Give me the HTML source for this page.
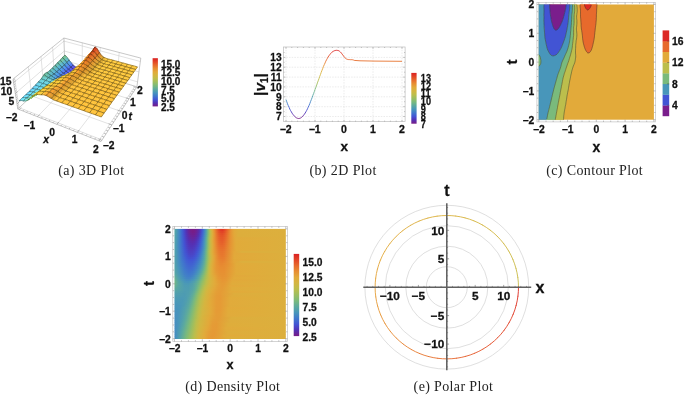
<!DOCTYPE html><html><head><meta charset="utf-8"><title>Plots</title><style>html,body{margin:0;padding:0;background:#fff;overflow:hidden}svg{display:block}text{font-family:"Liberation Sans",Arial,sans-serif;font-weight:bold;stroke:#111;stroke-width:0.28px}path.m{fill:none;stroke:#1a1408;stroke-opacity:.85;stroke-width:.45px}text.cap{font-family:"Liberation Serif","Times New Roman",serif;font-weight:normal;stroke:none}</style></head><body><svg width="685" height="395" viewBox="0 0 685 395"><defs><linearGradient id="rb" x1="0" y1="0" x2="0" y2="1"><stop offset="0.000" stop-color="#db2122"/><stop offset="0.071" stop-color="#e24426"/><stop offset="0.143" stop-color="#e76a2c"/><stop offset="0.214" stop-color="#e78e32"/><stop offset="0.286" stop-color="#e2aa3a"/><stop offset="0.357" stop-color="#d4b640"/><stop offset="0.429" stop-color="#bcbe4c"/><stop offset="0.500" stop-color="#9cbe60"/><stop offset="0.571" stop-color="#7aba7c"/><stop offset="0.643" stop-color="#5caa9e"/><stop offset="0.714" stop-color="#4896ba"/><stop offset="0.786" stop-color="#4078cc"/><stop offset="0.857" stop-color="#4254d4"/><stop offset="0.929" stop-color="#5430b4"/><stop offset="1.000" stop-color="#781c86"/></linearGradient><linearGradient id="gb" gradientUnits="userSpaceOnUse" x1="0" y1="50.3" x2="0" y2="118.5"><stop offset="0.000" stop-color="#db2122"/><stop offset="0.071" stop-color="#e24426"/><stop offset="0.143" stop-color="#e76a2c"/><stop offset="0.214" stop-color="#e78e32"/><stop offset="0.286" stop-color="#e2aa3a"/><stop offset="0.357" stop-color="#d4b640"/><stop offset="0.429" stop-color="#bcbe4c"/><stop offset="0.500" stop-color="#9cbe60"/><stop offset="0.571" stop-color="#7aba7c"/><stop offset="0.643" stop-color="#5caa9e"/><stop offset="0.714" stop-color="#4896ba"/><stop offset="0.786" stop-color="#4078cc"/><stop offset="0.857" stop-color="#4254d4"/><stop offset="0.929" stop-color="#5430b4"/><stop offset="1.000" stop-color="#781c86"/></linearGradient><linearGradient id="d0"><stop offset="0.000" stop-color="#59a7a3"/><stop offset="0.018" stop-color="#4e9cb2"/><stop offset="0.036" stop-color="#458cc0"/><stop offset="0.054" stop-color="#4078cc"/><stop offset="0.071" stop-color="#415fd2"/><stop offset="0.089" stop-color="#4946c8"/><stop offset="0.107" stop-color="#5430b4"/><stop offset="0.125" stop-color="#66269d"/><stop offset="0.143" stop-color="#731f8d"/><stop offset="0.161" stop-color="#781c86"/><stop offset="0.179" stop-color="#761d89"/><stop offset="0.196" stop-color="#6e2293"/><stop offset="0.214" stop-color="#5f2aa6"/><stop offset="0.232" stop-color="#4f3abd"/><stop offset="0.250" stop-color="#4258d3"/><stop offset="0.268" stop-color="#427ec8"/><stop offset="0.286" stop-color="#54a2a9"/><stop offset="0.304" stop-color="#85bb73"/><stop offset="0.321" stop-color="#c0bd4a"/><stop offset="0.339" stop-color="#ddae3c"/><stop offset="0.357" stop-color="#e69434"/><stop offset="0.375" stop-color="#e7732d"/><stop offset="0.393" stop-color="#e45429"/><stop offset="0.411" stop-color="#e13e25"/><stop offset="0.429" stop-color="#df3724"/><stop offset="0.446" stop-color="#e24326"/><stop offset="0.464" stop-color="#e55929"/><stop offset="0.500" stop-color="#e78b32"/><stop offset="0.518" stop-color="#e59c36"/><stop offset="0.536" stop-color="#e2a739"/><stop offset="0.571" stop-color="#ddae3c"/><stop offset="1.000" stop-color="#dcaf3d"/></linearGradient><linearGradient id="d1"><stop offset="0.000" stop-color="#58a6a3"/><stop offset="0.018" stop-color="#4e9cb2"/><stop offset="0.036" stop-color="#458cc0"/><stop offset="0.054" stop-color="#4078cc"/><stop offset="0.071" stop-color="#4160d1"/><stop offset="0.089" stop-color="#4847c9"/><stop offset="0.107" stop-color="#5332b5"/><stop offset="0.125" stop-color="#65279f"/><stop offset="0.143" stop-color="#71208f"/><stop offset="0.161" stop-color="#761d88"/><stop offset="0.179" stop-color="#751e8a"/><stop offset="0.196" stop-color="#6c2395"/><stop offset="0.214" stop-color="#5d2ba8"/><stop offset="0.232" stop-color="#4d3dc0"/><stop offset="0.250" stop-color="#425bd2"/><stop offset="0.268" stop-color="#4281c7"/><stop offset="0.286" stop-color="#55a3a7"/><stop offset="0.304" stop-color="#85bb73"/><stop offset="0.321" stop-color="#bdbe4c"/><stop offset="0.339" stop-color="#dbb03d"/><stop offset="0.357" stop-color="#e69634"/><stop offset="0.375" stop-color="#e7762e"/><stop offset="0.393" stop-color="#e55a2a"/><stop offset="0.411" stop-color="#e24827"/><stop offset="0.429" stop-color="#e24226"/><stop offset="0.446" stop-color="#e34c27"/><stop offset="0.464" stop-color="#e6602a"/><stop offset="0.500" stop-color="#e78e32"/><stop offset="0.518" stop-color="#e49d36"/><stop offset="0.536" stop-color="#e2a839"/><stop offset="0.571" stop-color="#ddae3c"/><stop offset="1.000" stop-color="#dcaf3d"/></linearGradient><linearGradient id="d2"><stop offset="0.000" stop-color="#58a6a4"/><stop offset="0.018" stop-color="#4d9bb3"/><stop offset="0.036" stop-color="#458cc0"/><stop offset="0.054" stop-color="#4079cc"/><stop offset="0.071" stop-color="#4161d1"/><stop offset="0.089" stop-color="#4749ca"/><stop offset="0.107" stop-color="#5234b8"/><stop offset="0.125" stop-color="#6129a3"/><stop offset="0.143" stop-color="#6d2294"/><stop offset="0.161" stop-color="#721f8e"/><stop offset="0.179" stop-color="#702090"/><stop offset="0.196" stop-color="#68259b"/><stop offset="0.214" stop-color="#582eaf"/><stop offset="0.232" stop-color="#4b42c4"/><stop offset="0.250" stop-color="#4161d1"/><stop offset="0.268" stop-color="#4385c4"/><stop offset="0.286" stop-color="#57a5a5"/><stop offset="0.304" stop-color="#86bb72"/><stop offset="0.321" stop-color="#bbbe4c"/><stop offset="0.339" stop-color="#dab13d"/><stop offset="0.357" stop-color="#e59935"/><stop offset="0.375" stop-color="#e77a2f"/><stop offset="0.393" stop-color="#e6602a"/><stop offset="0.411" stop-color="#e45028"/><stop offset="0.429" stop-color="#e34c27"/><stop offset="0.446" stop-color="#e45529"/><stop offset="0.464" stop-color="#e6662b"/><stop offset="0.500" stop-color="#e78f32"/><stop offset="0.518" stop-color="#e49d36"/><stop offset="0.536" stop-color="#e2a839"/><stop offset="0.571" stop-color="#ddae3c"/><stop offset="1.000" stop-color="#dcaf3d"/></linearGradient><linearGradient id="d3"><stop offset="0.000" stop-color="#57a5a4"/><stop offset="0.018" stop-color="#4d9bb3"/><stop offset="0.036" stop-color="#458cc0"/><stop offset="0.054" stop-color="#4079cb"/><stop offset="0.071" stop-color="#4162d1"/><stop offset="0.089" stop-color="#474bcc"/><stop offset="0.107" stop-color="#5137ba"/><stop offset="0.125" stop-color="#5d2ba8"/><stop offset="0.143" stop-color="#68259b"/><stop offset="0.161" stop-color="#6d2295"/><stop offset="0.179" stop-color="#6b2397"/><stop offset="0.196" stop-color="#6228a2"/><stop offset="0.214" stop-color="#5331b5"/><stop offset="0.232" stop-color="#4848c9"/><stop offset="0.250" stop-color="#4166d0"/><stop offset="0.268" stop-color="#458ac1"/><stop offset="0.286" stop-color="#5aa8a1"/><stop offset="0.304" stop-color="#8abc6f"/><stop offset="0.321" stop-color="#bebd4b"/><stop offset="0.339" stop-color="#dbb03d"/><stop offset="0.357" stop-color="#e59935"/><stop offset="0.375" stop-color="#e77c2f"/><stop offset="0.393" stop-color="#e6652b"/><stop offset="0.411" stop-color="#e45629"/><stop offset="0.429" stop-color="#e45328"/><stop offset="0.446" stop-color="#e55b2a"/><stop offset="0.464" stop-color="#e76a2c"/><stop offset="0.500" stop-color="#e79032"/><stop offset="0.536" stop-color="#e3a739"/><stop offset="0.571" stop-color="#ddae3c"/><stop offset="1.000" stop-color="#dcaf3d"/></linearGradient><linearGradient id="d4"><stop offset="0.000" stop-color="#57a5a5"/><stop offset="0.018" stop-color="#4c9ab4"/><stop offset="0.036" stop-color="#458bc0"/><stop offset="0.054" stop-color="#4079cb"/><stop offset="0.071" stop-color="#4163d1"/><stop offset="0.089" stop-color="#464dcd"/><stop offset="0.107" stop-color="#4f3abd"/><stop offset="0.125" stop-color="#592dad"/><stop offset="0.143" stop-color="#6328a1"/><stop offset="0.161" stop-color="#67269c"/><stop offset="0.179" stop-color="#65279f"/><stop offset="0.196" stop-color="#5c2caa"/><stop offset="0.214" stop-color="#5037bb"/><stop offset="0.232" stop-color="#454ece"/><stop offset="0.250" stop-color="#416ccf"/><stop offset="0.268" stop-color="#468ebf"/><stop offset="0.286" stop-color="#5fac9b"/><stop offset="0.304" stop-color="#91bd69"/><stop offset="0.321" stop-color="#c2bc49"/><stop offset="0.339" stop-color="#dcaf3c"/><stop offset="0.357" stop-color="#e59835"/><stop offset="0.375" stop-color="#e77e2f"/><stop offset="0.393" stop-color="#e7682c"/><stop offset="0.411" stop-color="#e55b2a"/><stop offset="0.429" stop-color="#e55829"/><stop offset="0.446" stop-color="#e65f2a"/><stop offset="0.464" stop-color="#e76d2d"/><stop offset="0.500" stop-color="#e79033"/><stop offset="0.536" stop-color="#e3a639"/><stop offset="0.554" stop-color="#e0ab3b"/><stop offset="1.000" stop-color="#dcaf3d"/></linearGradient><linearGradient id="d5"><stop offset="0.000" stop-color="#56a4a6"/><stop offset="0.018" stop-color="#4c9ab5"/><stop offset="0.036" stop-color="#458bc0"/><stop offset="0.054" stop-color="#4079cb"/><stop offset="0.071" stop-color="#4164d1"/><stop offset="0.089" stop-color="#454fcf"/><stop offset="0.107" stop-color="#4e3dbf"/><stop offset="0.125" stop-color="#552fb2"/><stop offset="0.143" stop-color="#5e2ba7"/><stop offset="0.161" stop-color="#6129a3"/><stop offset="0.179" stop-color="#5f2aa7"/><stop offset="0.196" stop-color="#562fb2"/><stop offset="0.214" stop-color="#4d3dc0"/><stop offset="0.232" stop-color="#4353d3"/><stop offset="0.250" stop-color="#4070ce"/><stop offset="0.268" stop-color="#4791bd"/><stop offset="0.286" stop-color="#62ad97"/><stop offset="0.304" stop-color="#96bd65"/><stop offset="0.321" stop-color="#c7ba47"/><stop offset="0.339" stop-color="#deae3c"/><stop offset="0.357" stop-color="#e59835"/><stop offset="0.375" stop-color="#e77f30"/><stop offset="0.393" stop-color="#e76b2c"/><stop offset="0.411" stop-color="#e55e2a"/><stop offset="0.429" stop-color="#e55b2a"/><stop offset="0.446" stop-color="#e6622b"/><stop offset="0.464" stop-color="#e7702d"/><stop offset="0.500" stop-color="#e69133"/><stop offset="0.536" stop-color="#e3a539"/><stop offset="0.554" stop-color="#e1ab3b"/><stop offset="1.000" stop-color="#dcaf3d"/></linearGradient><linearGradient id="d6"><stop offset="0.000" stop-color="#56a4a7"/><stop offset="0.018" stop-color="#4c9ab5"/><stop offset="0.054" stop-color="#407acb"/><stop offset="0.071" stop-color="#4165d0"/><stop offset="0.089" stop-color="#4451d1"/><stop offset="0.107" stop-color="#4c3fc2"/><stop offset="0.125" stop-color="#5333b6"/><stop offset="0.143" stop-color="#592dad"/><stop offset="0.161" stop-color="#5c2caa"/><stop offset="0.179" stop-color="#592dae"/><stop offset="0.196" stop-color="#5234b8"/><stop offset="0.214" stop-color="#4b43c5"/><stop offset="0.232" stop-color="#4257d3"/><stop offset="0.250" stop-color="#4074cd"/><stop offset="0.268" stop-color="#4794bb"/><stop offset="0.286" stop-color="#63ae96"/><stop offset="0.304" stop-color="#96bd65"/><stop offset="0.321" stop-color="#c6bb47"/><stop offset="0.339" stop-color="#ddae3c"/><stop offset="0.357" stop-color="#e59935"/><stop offset="0.375" stop-color="#e78230"/><stop offset="0.393" stop-color="#e76e2d"/><stop offset="0.411" stop-color="#e6612b"/><stop offset="0.429" stop-color="#e55e2a"/><stop offset="0.446" stop-color="#e6652b"/><stop offset="0.500" stop-color="#e69133"/><stop offset="0.536" stop-color="#e3a539"/><stop offset="0.554" stop-color="#e1ab3a"/><stop offset="1.000" stop-color="#dcaf3d"/></linearGradient><linearGradient id="d7"><stop offset="0.000" stop-color="#55a3a8"/><stop offset="0.018" stop-color="#4b99b6"/><stop offset="0.054" stop-color="#417acb"/><stop offset="0.089" stop-color="#4352d3"/><stop offset="0.107" stop-color="#4b42c4"/><stop offset="0.125" stop-color="#5136b9"/><stop offset="0.143" stop-color="#5530b3"/><stop offset="0.161" stop-color="#572eb1"/><stop offset="0.179" stop-color="#5431b5"/><stop offset="0.196" stop-color="#4f39bc"/><stop offset="0.214" stop-color="#4848c9"/><stop offset="0.232" stop-color="#425cd2"/><stop offset="0.250" stop-color="#4078cc"/><stop offset="0.268" stop-color="#4896ba"/><stop offset="0.286" stop-color="#65af93"/><stop offset="0.304" stop-color="#96bd65"/><stop offset="0.321" stop-color="#c4bb48"/><stop offset="0.339" stop-color="#dcaf3d"/><stop offset="0.357" stop-color="#e59b36"/><stop offset="0.375" stop-color="#e78430"/><stop offset="0.393" stop-color="#e7712d"/><stop offset="0.411" stop-color="#e6652b"/><stop offset="0.429" stop-color="#e6622b"/><stop offset="0.446" stop-color="#e7692c"/><stop offset="0.500" stop-color="#e69233"/><stop offset="0.536" stop-color="#e3a538"/><stop offset="0.554" stop-color="#e1ab3a"/><stop offset="1.000" stop-color="#dcaf3d"/></linearGradient><linearGradient id="d8"><stop offset="0.000" stop-color="#55a3a8"/><stop offset="0.018" stop-color="#4b99b6"/><stop offset="0.054" stop-color="#417acb"/><stop offset="0.089" stop-color="#4254d4"/><stop offset="0.107" stop-color="#4a45c7"/><stop offset="0.125" stop-color="#4f3abc"/><stop offset="0.143" stop-color="#5233b7"/><stop offset="0.161" stop-color="#5332b6"/><stop offset="0.179" stop-color="#5136b9"/><stop offset="0.196" stop-color="#4d3fc1"/><stop offset="0.214" stop-color="#464ccd"/><stop offset="0.232" stop-color="#4160d1"/><stop offset="0.250" stop-color="#417bca"/><stop offset="0.268" stop-color="#4a98b7"/><stop offset="0.286" stop-color="#68b091"/><stop offset="0.304" stop-color="#97bd64"/><stop offset="0.321" stop-color="#c3bc48"/><stop offset="0.339" stop-color="#dbb03d"/><stop offset="0.357" stop-color="#e49c36"/><stop offset="0.375" stop-color="#e78631"/><stop offset="0.393" stop-color="#e7742e"/><stop offset="0.411" stop-color="#e76a2c"/><stop offset="0.429" stop-color="#e7682c"/><stop offset="0.446" stop-color="#e76d2d"/><stop offset="0.500" stop-color="#e69333"/><stop offset="0.536" stop-color="#e3a538"/><stop offset="0.554" stop-color="#e1ab3a"/><stop offset="1.000" stop-color="#dcaf3d"/></linearGradient><linearGradient id="d9"><stop offset="0.000" stop-color="#54a2a9"/><stop offset="0.018" stop-color="#4b99b6"/><stop offset="0.054" stop-color="#417bca"/><stop offset="0.089" stop-color="#4257d3"/><stop offset="0.107" stop-color="#4848c9"/><stop offset="0.125" stop-color="#4e3dbf"/><stop offset="0.143" stop-color="#5037ba"/><stop offset="0.161" stop-color="#5136ba"/><stop offset="0.179" stop-color="#4f3bbe"/><stop offset="0.196" stop-color="#4a44c6"/><stop offset="0.214" stop-color="#4351d2"/><stop offset="0.232" stop-color="#4165d0"/><stop offset="0.250" stop-color="#427ec8"/><stop offset="0.268" stop-color="#4c9ab4"/><stop offset="0.286" stop-color="#6ab18e"/><stop offset="0.304" stop-color="#9abe62"/><stop offset="0.321" stop-color="#c5bb48"/><stop offset="0.339" stop-color="#dcaf3d"/><stop offset="0.357" stop-color="#e49d36"/><stop offset="0.375" stop-color="#e78931"/><stop offset="0.393" stop-color="#e7782e"/><stop offset="0.411" stop-color="#e76f2d"/><stop offset="0.429" stop-color="#e76d2c"/><stop offset="0.446" stop-color="#e7712d"/><stop offset="0.500" stop-color="#e69434"/><stop offset="0.536" stop-color="#e3a539"/><stop offset="0.554" stop-color="#e1ab3a"/><stop offset="1.000" stop-color="#dcaf3d"/></linearGradient><linearGradient id="d10"><stop offset="0.000" stop-color="#54a2a9"/><stop offset="0.018" stop-color="#4b99b6"/><stop offset="0.054" stop-color="#417cca"/><stop offset="0.089" stop-color="#4259d3"/><stop offset="0.107" stop-color="#474bcc"/><stop offset="0.125" stop-color="#4c40c2"/><stop offset="0.143" stop-color="#4f3bbd"/><stop offset="0.161" stop-color="#4f3bbd"/><stop offset="0.179" stop-color="#4c3fc2"/><stop offset="0.196" stop-color="#4848ca"/><stop offset="0.214" stop-color="#4256d3"/><stop offset="0.232" stop-color="#416acf"/><stop offset="0.250" stop-color="#4383c5"/><stop offset="0.268" stop-color="#4f9db0"/><stop offset="0.286" stop-color="#6eb489"/><stop offset="0.304" stop-color="#9fbe5e"/><stop offset="0.321" stop-color="#c8ba46"/><stop offset="0.339" stop-color="#ddae3c"/><stop offset="0.357" stop-color="#e49d36"/><stop offset="0.393" stop-color="#e77b2f"/><stop offset="0.411" stop-color="#e7732d"/><stop offset="0.429" stop-color="#e7712d"/><stop offset="0.446" stop-color="#e7752e"/><stop offset="0.518" stop-color="#e49e37"/><stop offset="0.554" stop-color="#e1ab3a"/><stop offset="1.000" stop-color="#dcaf3d"/></linearGradient><linearGradient id="d11"><stop offset="0.000" stop-color="#55a3a8"/><stop offset="0.018" stop-color="#4b99b5"/><stop offset="0.054" stop-color="#417dc9"/><stop offset="0.089" stop-color="#425bd2"/><stop offset="0.107" stop-color="#454dce"/><stop offset="0.125" stop-color="#4a43c5"/><stop offset="0.143" stop-color="#4d3ec1"/><stop offset="0.161" stop-color="#4d3fc1"/><stop offset="0.179" stop-color="#4a44c6"/><stop offset="0.196" stop-color="#454dce"/><stop offset="0.214" stop-color="#425cd2"/><stop offset="0.232" stop-color="#4070ce"/><stop offset="0.250" stop-color="#4488c3"/><stop offset="0.268" stop-color="#52a0ac"/><stop offset="0.286" stop-color="#72b685"/><stop offset="0.304" stop-color="#a3be5c"/><stop offset="0.321" stop-color="#cbb944"/><stop offset="0.339" stop-color="#deae3c"/><stop offset="0.357" stop-color="#e49d36"/><stop offset="0.393" stop-color="#e77e2f"/><stop offset="0.411" stop-color="#e7762e"/><stop offset="0.429" stop-color="#e7742e"/><stop offset="0.446" stop-color="#e7782e"/><stop offset="0.518" stop-color="#e49f37"/><stop offset="0.536" stop-color="#e3a739"/><stop offset="0.607" stop-color="#dcaf3d"/><stop offset="1.000" stop-color="#dcaf3d"/></linearGradient><linearGradient id="d12"><stop offset="0.000" stop-color="#55a3a8"/><stop offset="0.018" stop-color="#4c9ab5"/><stop offset="0.054" stop-color="#427ec8"/><stop offset="0.089" stop-color="#415ed2"/><stop offset="0.107" stop-color="#4451d1"/><stop offset="0.125" stop-color="#4847c8"/><stop offset="0.143" stop-color="#4b42c4"/><stop offset="0.161" stop-color="#4b43c5"/><stop offset="0.179" stop-color="#4848ca"/><stop offset="0.196" stop-color="#4353d3"/><stop offset="0.214" stop-color="#4162d1"/><stop offset="0.232" stop-color="#4076cc"/><stop offset="0.250" stop-color="#458cc0"/><stop offset="0.268" stop-color="#54a2a9"/><stop offset="0.286" stop-color="#74b782"/><stop offset="0.304" stop-color="#a3be5c"/><stop offset="0.321" stop-color="#cab945"/><stop offset="0.339" stop-color="#ddaf3c"/><stop offset="0.357" stop-color="#e49f37"/><stop offset="0.393" stop-color="#e78130"/><stop offset="0.411" stop-color="#e7782e"/><stop offset="0.429" stop-color="#e7762e"/><stop offset="0.446" stop-color="#e77a2f"/><stop offset="0.536" stop-color="#e2a83a"/><stop offset="1.000" stop-color="#dcaf3d"/></linearGradient><linearGradient id="d13"><stop offset="0.000" stop-color="#55a3a8"/><stop offset="0.018" stop-color="#4c9ab5"/><stop offset="0.054" stop-color="#427fc8"/><stop offset="0.089" stop-color="#4161d1"/><stop offset="0.107" stop-color="#4255d4"/><stop offset="0.125" stop-color="#464ccd"/><stop offset="0.143" stop-color="#4847c9"/><stop offset="0.161" stop-color="#4848ca"/><stop offset="0.179" stop-color="#454ecf"/><stop offset="0.196" stop-color="#4258d3"/><stop offset="0.214" stop-color="#4167d0"/><stop offset="0.232" stop-color="#417bca"/><stop offset="0.250" stop-color="#4791bd"/><stop offset="0.268" stop-color="#57a5a5"/><stop offset="0.286" stop-color="#76b880"/><stop offset="0.304" stop-color="#a2be5c"/><stop offset="0.321" stop-color="#c7ba47"/><stop offset="0.339" stop-color="#dbb03d"/><stop offset="0.357" stop-color="#e4a238"/><stop offset="0.393" stop-color="#e78430"/><stop offset="0.411" stop-color="#e77b2f"/><stop offset="0.429" stop-color="#e7782e"/><stop offset="0.446" stop-color="#e77c2f"/><stop offset="0.536" stop-color="#e2a93a"/><stop offset="1.000" stop-color="#dcaf3d"/></linearGradient><linearGradient id="d14"><stop offset="0.000" stop-color="#55a3a8"/><stop offset="0.018" stop-color="#4c9ab4"/><stop offset="0.054" stop-color="#4281c7"/><stop offset="0.071" stop-color="#4073cd"/><stop offset="0.107" stop-color="#4259d3"/><stop offset="0.125" stop-color="#4351d2"/><stop offset="0.143" stop-color="#454dce"/><stop offset="0.161" stop-color="#454fcf"/><stop offset="0.179" stop-color="#4254d4"/><stop offset="0.196" stop-color="#415fd2"/><stop offset="0.214" stop-color="#416ece"/><stop offset="0.232" stop-color="#4280c7"/><stop offset="0.250" stop-color="#4895bb"/><stop offset="0.268" stop-color="#59a7a2"/><stop offset="0.286" stop-color="#79b97e"/><stop offset="0.304" stop-color="#a3be5c"/><stop offset="0.321" stop-color="#c6bb47"/><stop offset="0.339" stop-color="#dab13d"/><stop offset="0.357" stop-color="#e3a338"/><stop offset="0.375" stop-color="#e69333"/><stop offset="0.393" stop-color="#e78631"/><stop offset="0.411" stop-color="#e77e2f"/><stop offset="0.429" stop-color="#e77c2f"/><stop offset="0.446" stop-color="#e77f30"/><stop offset="0.536" stop-color="#e2a93a"/><stop offset="1.000" stop-color="#dcaf3d"/></linearGradient><linearGradient id="d15"><stop offset="0.000" stop-color="#54a2a9"/><stop offset="0.036" stop-color="#468fbe"/><stop offset="0.071" stop-color="#4075cd"/><stop offset="0.107" stop-color="#415ed2"/><stop offset="0.125" stop-color="#4257d3"/><stop offset="0.143" stop-color="#4254d4"/><stop offset="0.161" stop-color="#4255d4"/><stop offset="0.179" stop-color="#425bd2"/><stop offset="0.196" stop-color="#4165d0"/><stop offset="0.214" stop-color="#4074cd"/><stop offset="0.232" stop-color="#4385c4"/><stop offset="0.250" stop-color="#4a98b7"/><stop offset="0.268" stop-color="#5ba99f"/><stop offset="0.286" stop-color="#7cba7a"/><stop offset="0.304" stop-color="#a6be5a"/><stop offset="0.321" stop-color="#c8ba46"/><stop offset="0.339" stop-color="#dbb03d"/><stop offset="0.357" stop-color="#e3a338"/><stop offset="0.375" stop-color="#e69434"/><stop offset="0.393" stop-color="#e78931"/><stop offset="0.411" stop-color="#e78230"/><stop offset="0.429" stop-color="#e78030"/><stop offset="0.446" stop-color="#e78230"/><stop offset="0.536" stop-color="#e2a839"/><stop offset="1.000" stop-color="#dcaf3d"/></linearGradient><linearGradient id="d16"><stop offset="0.000" stop-color="#54a2a9"/><stop offset="0.036" stop-color="#4690be"/><stop offset="0.071" stop-color="#4078cc"/><stop offset="0.107" stop-color="#4162d1"/><stop offset="0.125" stop-color="#425cd2"/><stop offset="0.143" stop-color="#425ad3"/><stop offset="0.161" stop-color="#425bd2"/><stop offset="0.179" stop-color="#4162d1"/><stop offset="0.196" stop-color="#416ccf"/><stop offset="0.214" stop-color="#417acb"/><stop offset="0.232" stop-color="#458ac1"/><stop offset="0.250" stop-color="#4d9bb3"/><stop offset="0.268" stop-color="#5fac9b"/><stop offset="0.286" stop-color="#81bb76"/><stop offset="0.304" stop-color="#abbe57"/><stop offset="0.321" stop-color="#ccb944"/><stop offset="0.339" stop-color="#dcaf3c"/><stop offset="0.357" stop-color="#e3a238"/><stop offset="0.375" stop-color="#e69534"/><stop offset="0.411" stop-color="#e78531"/><stop offset="0.429" stop-color="#e78330"/><stop offset="0.446" stop-color="#e78631"/><stop offset="0.536" stop-color="#e3a739"/><stop offset="0.607" stop-color="#dcaf3d"/><stop offset="1.000" stop-color="#dcaf3d"/></linearGradient><linearGradient id="d17"><stop offset="0.000" stop-color="#55a3a8"/><stop offset="0.036" stop-color="#4791bd"/><stop offset="0.071" stop-color="#417bca"/><stop offset="0.107" stop-color="#4167d0"/><stop offset="0.125" stop-color="#4161d1"/><stop offset="0.143" stop-color="#415fd2"/><stop offset="0.161" stop-color="#4161d1"/><stop offset="0.179" stop-color="#4168d0"/><stop offset="0.196" stop-color="#4073cd"/><stop offset="0.214" stop-color="#4280c7"/><stop offset="0.232" stop-color="#468fbe"/><stop offset="0.250" stop-color="#509eaf"/><stop offset="0.268" stop-color="#63ae96"/><stop offset="0.286" stop-color="#86bb72"/><stop offset="0.304" stop-color="#b0be53"/><stop offset="0.321" stop-color="#d0b742"/><stop offset="0.339" stop-color="#dead3c"/><stop offset="0.357" stop-color="#e4a137"/><stop offset="0.375" stop-color="#e69534"/><stop offset="0.411" stop-color="#e78831"/><stop offset="0.429" stop-color="#e78731"/><stop offset="0.482" stop-color="#e69333"/><stop offset="0.554" stop-color="#e1ab3a"/><stop offset="1.000" stop-color="#dcaf3d"/></linearGradient><linearGradient id="d18"><stop offset="0.000" stop-color="#55a3a8"/><stop offset="0.036" stop-color="#4793bc"/><stop offset="0.071" stop-color="#417dc9"/><stop offset="0.107" stop-color="#416bcf"/><stop offset="0.125" stop-color="#4166d0"/><stop offset="0.143" stop-color="#4164d0"/><stop offset="0.161" stop-color="#4167d0"/><stop offset="0.179" stop-color="#416ece"/><stop offset="0.196" stop-color="#4079cc"/><stop offset="0.232" stop-color="#4794bb"/><stop offset="0.250" stop-color="#54a2aa"/><stop offset="0.268" stop-color="#69b190"/><stop offset="0.286" stop-color="#8bbc6e"/><stop offset="0.304" stop-color="#b4be51"/><stop offset="0.321" stop-color="#d3b641"/><stop offset="0.339" stop-color="#dfac3b"/><stop offset="0.375" stop-color="#e69634"/><stop offset="0.411" stop-color="#e78b32"/><stop offset="0.429" stop-color="#e78a31"/><stop offset="0.482" stop-color="#e69434"/><stop offset="0.554" stop-color="#e2aa3a"/><stop offset="1.000" stop-color="#dcaf3d"/></linearGradient><linearGradient id="d19"><stop offset="0.000" stop-color="#56a4a6"/><stop offset="0.036" stop-color="#4895bb"/><stop offset="0.089" stop-color="#4077cc"/><stop offset="0.107" stop-color="#416fce"/><stop offset="0.125" stop-color="#416acf"/><stop offset="0.143" stop-color="#4169cf"/><stop offset="0.161" stop-color="#416ccf"/><stop offset="0.196" stop-color="#417dc9"/><stop offset="0.214" stop-color="#458ac1"/><stop offset="0.232" stop-color="#4a98b7"/><stop offset="0.250" stop-color="#58a6a4"/><stop offset="0.268" stop-color="#6fb489"/><stop offset="0.286" stop-color="#91bd69"/><stop offset="0.304" stop-color="#b8be4e"/><stop offset="0.321" stop-color="#d4b640"/><stop offset="0.339" stop-color="#e0ac3b"/><stop offset="0.357" stop-color="#e4a037"/><stop offset="0.375" stop-color="#e69634"/><stop offset="0.411" stop-color="#e78e32"/><stop offset="0.446" stop-color="#e78d32"/><stop offset="0.554" stop-color="#e2aa3a"/><stop offset="1.000" stop-color="#dcaf3d"/></linearGradient><linearGradient id="d20"><stop offset="0.000" stop-color="#57a5a5"/><stop offset="0.036" stop-color="#4997b9"/><stop offset="0.089" stop-color="#407acb"/><stop offset="0.125" stop-color="#416ece"/><stop offset="0.143" stop-color="#416ece"/><stop offset="0.161" stop-color="#4071cd"/><stop offset="0.179" stop-color="#4079cb"/><stop offset="0.196" stop-color="#4383c6"/><stop offset="0.214" stop-color="#4690be"/><stop offset="0.232" stop-color="#4f9db1"/><stop offset="0.250" stop-color="#5caa9e"/><stop offset="0.268" stop-color="#75b782"/><stop offset="0.286" stop-color="#96bd65"/><stop offset="0.304" stop-color="#bbbe4d"/><stop offset="0.321" stop-color="#d5b540"/><stop offset="0.339" stop-color="#e0ac3b"/><stop offset="0.375" stop-color="#e59735"/><stop offset="0.411" stop-color="#e78f32"/><stop offset="0.446" stop-color="#e78f32"/><stop offset="0.554" stop-color="#e2aa3a"/><stop offset="1.000" stop-color="#dcaf3d"/></linearGradient><linearGradient id="d21"><stop offset="0.000" stop-color="#58a6a3"/><stop offset="0.036" stop-color="#4a98b7"/><stop offset="0.089" stop-color="#417dc9"/><stop offset="0.125" stop-color="#4072cd"/><stop offset="0.143" stop-color="#4073cd"/><stop offset="0.161" stop-color="#4077cc"/><stop offset="0.179" stop-color="#427ec8"/><stop offset="0.196" stop-color="#4489c2"/><stop offset="0.214" stop-color="#4896ba"/><stop offset="0.232" stop-color="#53a1aa"/><stop offset="0.250" stop-color="#64ae95"/><stop offset="0.268" stop-color="#7cba7a"/><stop offset="0.286" stop-color="#9dbe5f"/><stop offset="0.304" stop-color="#bfbd4b"/><stop offset="0.321" stop-color="#d6b53f"/><stop offset="0.339" stop-color="#dfac3b"/><stop offset="0.375" stop-color="#e59935"/><stop offset="0.411" stop-color="#e79033"/><stop offset="0.446" stop-color="#e79032"/><stop offset="0.554" stop-color="#e2aa3a"/><stop offset="1.000" stop-color="#dcaf3d"/></linearGradient><linearGradient id="d22"><stop offset="0.000" stop-color="#5aa8a0"/><stop offset="0.036" stop-color="#4c9ab5"/><stop offset="0.089" stop-color="#4280c7"/><stop offset="0.125" stop-color="#4077cc"/><stop offset="0.143" stop-color="#4078cc"/><stop offset="0.161" stop-color="#417cc9"/><stop offset="0.179" stop-color="#4384c5"/><stop offset="0.196" stop-color="#468fbe"/><stop offset="0.214" stop-color="#4d9bb3"/><stop offset="0.232" stop-color="#59a7a2"/><stop offset="0.250" stop-color="#6cb28c"/><stop offset="0.268" stop-color="#86bb72"/><stop offset="0.286" stop-color="#a5be5b"/><stop offset="0.304" stop-color="#c2bc49"/><stop offset="0.321" stop-color="#d6b53f"/><stop offset="0.339" stop-color="#dfad3b"/><stop offset="0.375" stop-color="#e59b36"/><stop offset="0.411" stop-color="#e69233"/><stop offset="0.446" stop-color="#e69133"/><stop offset="0.554" stop-color="#e1ab3a"/><stop offset="1.000" stop-color="#dcaf3d"/></linearGradient><linearGradient id="d23"><stop offset="0.000" stop-color="#60ac9a"/><stop offset="0.036" stop-color="#4e9cb1"/><stop offset="0.054" stop-color="#4896ba"/><stop offset="0.089" stop-color="#4385c4"/><stop offset="0.107" stop-color="#427fc8"/><stop offset="0.125" stop-color="#417cca"/><stop offset="0.143" stop-color="#417dc9"/><stop offset="0.161" stop-color="#4382c6"/><stop offset="0.196" stop-color="#4997b9"/><stop offset="0.214" stop-color="#53a1ab"/><stop offset="0.232" stop-color="#61ac99"/><stop offset="0.250" stop-color="#75b881"/><stop offset="0.268" stop-color="#90bd6a"/><stop offset="0.286" stop-color="#acbe56"/><stop offset="0.304" stop-color="#c4bb48"/><stop offset="0.321" stop-color="#d5b540"/><stop offset="0.357" stop-color="#e3a739"/><stop offset="0.393" stop-color="#e59735"/><stop offset="0.429" stop-color="#e69233"/><stop offset="0.464" stop-color="#e69534"/><stop offset="0.536" stop-color="#e2a83a"/><stop offset="1.000" stop-color="#dcaf3d"/></linearGradient><linearGradient id="d24"><stop offset="0.000" stop-color="#68b190"/><stop offset="0.018" stop-color="#5aa8a1"/><stop offset="0.036" stop-color="#519fae"/><stop offset="0.071" stop-color="#4792bc"/><stop offset="0.107" stop-color="#4384c5"/><stop offset="0.125" stop-color="#4382c6"/><stop offset="0.143" stop-color="#4384c5"/><stop offset="0.161" stop-color="#458ac1"/><stop offset="0.179" stop-color="#4793bc"/><stop offset="0.196" stop-color="#4e9cb1"/><stop offset="0.214" stop-color="#58a6a3"/><stop offset="0.232" stop-color="#69b18f"/><stop offset="0.250" stop-color="#7fbb78"/><stop offset="0.268" stop-color="#99be63"/><stop offset="0.286" stop-color="#b1be53"/><stop offset="0.304" stop-color="#c5bb47"/><stop offset="0.321" stop-color="#d4b640"/><stop offset="0.357" stop-color="#e2aa3a"/><stop offset="0.393" stop-color="#e59a35"/><stop offset="0.429" stop-color="#e69434"/><stop offset="0.464" stop-color="#e59735"/><stop offset="0.536" stop-color="#e2aa3a"/><stop offset="1.000" stop-color="#dcaf3d"/></linearGradient><linearGradient id="d25"><stop offset="0.000" stop-color="#71b587"/><stop offset="0.018" stop-color="#5eab9b"/><stop offset="0.036" stop-color="#54a2a9"/><stop offset="0.071" stop-color="#4997b9"/><stop offset="0.107" stop-color="#458cc0"/><stop offset="0.125" stop-color="#458ac1"/><stop offset="0.143" stop-color="#468dbf"/><stop offset="0.161" stop-color="#4793bc"/><stop offset="0.179" stop-color="#4c9ab4"/><stop offset="0.196" stop-color="#54a2a9"/><stop offset="0.214" stop-color="#5fab9b"/><stop offset="0.232" stop-color="#71b586"/><stop offset="0.250" stop-color="#88bc70"/><stop offset="0.268" stop-color="#a0be5d"/><stop offset="0.286" stop-color="#b7be4f"/><stop offset="0.304" stop-color="#c8ba46"/><stop offset="0.321" stop-color="#d5b540"/><stop offset="0.357" stop-color="#e1ab3a"/><stop offset="0.393" stop-color="#e59c36"/><stop offset="0.429" stop-color="#e69634"/><stop offset="0.464" stop-color="#e59935"/><stop offset="0.518" stop-color="#e2a83a"/><stop offset="1.000" stop-color="#dcaf3d"/></linearGradient><linearGradient id="d26"><stop offset="0.000" stop-color="#75b782"/><stop offset="0.018" stop-color="#63ae96"/><stop offset="0.036" stop-color="#57a5a5"/><stop offset="0.089" stop-color="#4896b9"/><stop offset="0.107" stop-color="#4793bc"/><stop offset="0.125" stop-color="#4793bc"/><stop offset="0.143" stop-color="#4896ba"/><stop offset="0.179" stop-color="#52a0ac"/><stop offset="0.196" stop-color="#5aa8a1"/><stop offset="0.214" stop-color="#67b092"/><stop offset="0.232" stop-color="#7aba7c"/><stop offset="0.250" stop-color="#91bd69"/><stop offset="0.268" stop-color="#a6be59"/><stop offset="0.286" stop-color="#bbbe4d"/><stop offset="0.304" stop-color="#cab945"/><stop offset="0.321" stop-color="#d6b53f"/><stop offset="0.357" stop-color="#e1ab3b"/><stop offset="0.393" stop-color="#e49e36"/><stop offset="0.429" stop-color="#e59735"/><stop offset="0.464" stop-color="#e59b36"/><stop offset="0.518" stop-color="#e1aa3a"/><stop offset="1.000" stop-color="#dcaf3d"/></linearGradient><linearGradient id="d27"><stop offset="0.000" stop-color="#73b684"/><stop offset="0.018" stop-color="#64ae95"/><stop offset="0.036" stop-color="#59a7a2"/><stop offset="0.089" stop-color="#4c9ab5"/><stop offset="0.125" stop-color="#4a98b7"/><stop offset="0.161" stop-color="#519fad"/><stop offset="0.196" stop-color="#5fac9a"/><stop offset="0.214" stop-color="#6eb38a"/><stop offset="0.232" stop-color="#83bb75"/><stop offset="0.250" stop-color="#99be63"/><stop offset="0.286" stop-color="#bfbd4a"/><stop offset="0.304" stop-color="#cdb844"/><stop offset="0.321" stop-color="#d7b43f"/><stop offset="0.357" stop-color="#e1ab3b"/><stop offset="0.411" stop-color="#e59b36"/><stop offset="0.446" stop-color="#e59a35"/><stop offset="0.518" stop-color="#e0ab3b"/><stop offset="1.000" stop-color="#dcaf3d"/></linearGradient><linearGradient id="d28"><stop offset="0.000" stop-color="#6cb28c"/><stop offset="0.018" stop-color="#60ac9a"/><stop offset="0.036" stop-color="#58a6a3"/><stop offset="0.089" stop-color="#4e9cb2"/><stop offset="0.125" stop-color="#4d9bb3"/><stop offset="0.161" stop-color="#53a1aa"/><stop offset="0.179" stop-color="#59a7a2"/><stop offset="0.196" stop-color="#63ae96"/><stop offset="0.214" stop-color="#74b783"/><stop offset="0.232" stop-color="#8abc6f"/><stop offset="0.250" stop-color="#a1be5d"/><stop offset="0.268" stop-color="#b5be51"/><stop offset="0.286" stop-color="#c5bb48"/><stop offset="0.304" stop-color="#d2b741"/><stop offset="0.357" stop-color="#e1aa3a"/><stop offset="0.393" stop-color="#e49f37"/><stop offset="0.429" stop-color="#e59a36"/><stop offset="0.464" stop-color="#e49f37"/><stop offset="0.500" stop-color="#e2a93a"/><stop offset="1.000" stop-color="#dcaf3d"/></linearGradient><linearGradient id="d29"><stop offset="0.000" stop-color="#62ad97"/><stop offset="0.036" stop-color="#56a4a6"/><stop offset="0.089" stop-color="#4f9db1"/><stop offset="0.125" stop-color="#4e9cb1"/><stop offset="0.161" stop-color="#55a3a8"/><stop offset="0.179" stop-color="#5ba9a0"/><stop offset="0.196" stop-color="#67b092"/><stop offset="0.214" stop-color="#79ba7d"/><stop offset="0.232" stop-color="#92bd69"/><stop offset="0.250" stop-color="#a8be58"/><stop offset="0.268" stop-color="#bdbe4c"/><stop offset="0.286" stop-color="#cbb945"/><stop offset="0.304" stop-color="#d5b53f"/><stop offset="0.357" stop-color="#e2a83a"/><stop offset="0.393" stop-color="#e49e37"/><stop offset="0.429" stop-color="#e59b36"/><stop offset="0.518" stop-color="#e0ac3b"/><stop offset="1.000" stop-color="#dcaf3d"/></linearGradient><linearGradient id="d30"><stop offset="0.000" stop-color="#5aa8a0"/><stop offset="0.089" stop-color="#4f9db1"/><stop offset="0.125" stop-color="#4f9db0"/><stop offset="0.161" stop-color="#56a4a6"/><stop offset="0.179" stop-color="#5dab9c"/><stop offset="0.196" stop-color="#6cb38b"/><stop offset="0.214" stop-color="#81bb76"/><stop offset="0.232" stop-color="#9abe62"/><stop offset="0.250" stop-color="#b0be54"/><stop offset="0.268" stop-color="#c2bc49"/><stop offset="0.286" stop-color="#cfb842"/><stop offset="0.304" stop-color="#d8b33e"/><stop offset="0.339" stop-color="#e1ab3b"/><stop offset="0.393" stop-color="#e49d36"/><stop offset="0.429" stop-color="#e49c36"/><stop offset="0.518" stop-color="#e0ac3b"/><stop offset="1.000" stop-color="#dcaf3d"/></linearGradient><linearGradient id="d31"><stop offset="0.000" stop-color="#56a4a7"/><stop offset="0.089" stop-color="#4e9cb1"/><stop offset="0.125" stop-color="#509eaf"/><stop offset="0.161" stop-color="#58a6a3"/><stop offset="0.179" stop-color="#62ad97"/><stop offset="0.196" stop-color="#73b684"/><stop offset="0.214" stop-color="#8abc6f"/><stop offset="0.232" stop-color="#a1be5d"/><stop offset="0.250" stop-color="#b6be50"/><stop offset="0.268" stop-color="#c6bb47"/><stop offset="0.286" stop-color="#d3b641"/><stop offset="0.339" stop-color="#e2aa3a"/><stop offset="0.375" stop-color="#e49f37"/><stop offset="0.411" stop-color="#e59b36"/><stop offset="0.464" stop-color="#e3a238"/><stop offset="0.500" stop-color="#e2aa3a"/><stop offset="1.000" stop-color="#dcaf3d"/></linearGradient><linearGradient id="d32"><stop offset="0.000" stop-color="#52a0ac"/><stop offset="0.089" stop-color="#4d9bb2"/><stop offset="0.125" stop-color="#519fae"/><stop offset="0.143" stop-color="#55a3a8"/><stop offset="0.161" stop-color="#5ba99f"/><stop offset="0.179" stop-color="#68b190"/><stop offset="0.196" stop-color="#7bba7b"/><stop offset="0.214" stop-color="#92bd68"/><stop offset="0.232" stop-color="#a8be58"/><stop offset="0.250" stop-color="#bcbe4c"/><stop offset="0.286" stop-color="#d5b540"/><stop offset="0.321" stop-color="#dfac3b"/><stop offset="0.375" stop-color="#e49e36"/><stop offset="0.411" stop-color="#e59b36"/><stop offset="0.536" stop-color="#dead3c"/><stop offset="1.000" stop-color="#dcaf3d"/></linearGradient><linearGradient id="d33"><stop offset="0.000" stop-color="#509eaf"/><stop offset="0.089" stop-color="#4d9bb3"/><stop offset="0.125" stop-color="#52a0ad"/><stop offset="0.143" stop-color="#57a5a6"/><stop offset="0.161" stop-color="#5fac9a"/><stop offset="0.179" stop-color="#6fb489"/><stop offset="0.196" stop-color="#83bb75"/><stop offset="0.214" stop-color="#9abe62"/><stop offset="0.232" stop-color="#afbe54"/><stop offset="0.250" stop-color="#c0bd4a"/><stop offset="0.286" stop-color="#d6b43f"/><stop offset="0.321" stop-color="#e0ab3b"/><stop offset="0.375" stop-color="#e49c36"/><stop offset="0.411" stop-color="#e59a36"/><stop offset="0.518" stop-color="#dfac3b"/><stop offset="1.000" stop-color="#dcaf3d"/></linearGradient><linearGradient id="d34"><stop offset="0.000" stop-color="#4d9bb2"/><stop offset="0.071" stop-color="#4c9ab5"/><stop offset="0.107" stop-color="#4f9db0"/><stop offset="0.143" stop-color="#59a7a3"/><stop offset="0.161" stop-color="#64ae95"/><stop offset="0.179" stop-color="#74b783"/><stop offset="0.214" stop-color="#a0be5d"/><stop offset="0.232" stop-color="#b4be51"/><stop offset="0.250" stop-color="#c3bc48"/><stop offset="0.268" stop-color="#cfb842"/><stop offset="0.304" stop-color="#ddaf3c"/><stop offset="0.375" stop-color="#e59c36"/><stop offset="0.411" stop-color="#e59a35"/><stop offset="0.500" stop-color="#e1ab3a"/><stop offset="1.000" stop-color="#dcaf3d"/></linearGradient><linearGradient id="d35"><stop offset="0.000" stop-color="#4c9ab5"/><stop offset="0.071" stop-color="#4b99b5"/><stop offset="0.107" stop-color="#509eaf"/><stop offset="0.143" stop-color="#5ba9a0"/><stop offset="0.161" stop-color="#68b091"/><stop offset="0.179" stop-color="#79ba7d"/><stop offset="0.214" stop-color="#a5be5a"/><stop offset="0.232" stop-color="#b8be4e"/><stop offset="0.268" stop-color="#d2b741"/><stop offset="0.321" stop-color="#e1aa3a"/><stop offset="0.375" stop-color="#e59c36"/><stop offset="0.411" stop-color="#e59a36"/><stop offset="0.500" stop-color="#e1ab3b"/><stop offset="1.000" stop-color="#dcaf3d"/></linearGradient><linearGradient id="d36"><stop offset="0.000" stop-color="#4a98b7"/><stop offset="0.071" stop-color="#4b99b6"/><stop offset="0.107" stop-color="#519fae"/><stop offset="0.125" stop-color="#56a4a6"/><stop offset="0.143" stop-color="#5eab9c"/><stop offset="0.161" stop-color="#6cb38c"/><stop offset="0.179" stop-color="#7eba79"/><stop offset="0.196" stop-color="#94bd67"/><stop offset="0.232" stop-color="#bcbe4c"/><stop offset="0.268" stop-color="#d4b640"/><stop offset="0.321" stop-color="#e2aa3a"/><stop offset="0.375" stop-color="#e59c36"/><stop offset="0.411" stop-color="#e59b36"/><stop offset="0.500" stop-color="#e1ab3b"/><stop offset="1.000" stop-color="#dcaf3d"/></linearGradient><linearGradient id="d37"><stop offset="0.000" stop-color="#4896b9"/><stop offset="0.054" stop-color="#4a98b8"/><stop offset="0.089" stop-color="#4e9cb1"/><stop offset="0.125" stop-color="#58a6a4"/><stop offset="0.143" stop-color="#61ad98"/><stop offset="0.161" stop-color="#70b587"/><stop offset="0.179" stop-color="#83bb75"/><stop offset="0.196" stop-color="#98be63"/><stop offset="0.232" stop-color="#bebd4b"/><stop offset="0.268" stop-color="#d5b540"/><stop offset="0.321" stop-color="#e2aa3a"/><stop offset="0.375" stop-color="#e59c36"/><stop offset="0.411" stop-color="#e59b36"/><stop offset="0.500" stop-color="#e1ab3b"/><stop offset="1.000" stop-color="#dcaf3d"/></linearGradient><linearGradient id="d38"><stop offset="0.000" stop-color="#4895bb"/><stop offset="0.054" stop-color="#4997b8"/><stop offset="0.089" stop-color="#4f9db0"/><stop offset="0.125" stop-color="#5aa8a1"/><stop offset="0.143" stop-color="#65af94"/><stop offset="0.161" stop-color="#75b782"/><stop offset="0.196" stop-color="#9dbe60"/><stop offset="0.232" stop-color="#c1bc4a"/><stop offset="0.250" stop-color="#cdb844"/><stop offset="0.268" stop-color="#d6b53f"/><stop offset="0.321" stop-color="#e2aa3a"/><stop offset="0.375" stop-color="#e49c36"/><stop offset="0.411" stop-color="#e59b36"/><stop offset="0.500" stop-color="#e0ab3b"/><stop offset="1.000" stop-color="#dcaf3d"/></linearGradient><linearGradient id="d39"><stop offset="0.000" stop-color="#4793bc"/><stop offset="0.054" stop-color="#4997b8"/><stop offset="0.107" stop-color="#56a4a7"/><stop offset="0.125" stop-color="#5caa9e"/><stop offset="0.143" stop-color="#69b18f"/><stop offset="0.161" stop-color="#79b97e"/><stop offset="0.196" stop-color="#a1be5d"/><stop offset="0.214" stop-color="#b4be51"/><stop offset="0.232" stop-color="#c3bc48"/><stop offset="0.250" stop-color="#cfb843"/><stop offset="0.268" stop-color="#d6b43f"/><stop offset="0.321" stop-color="#e1ab3a"/><stop offset="0.375" stop-color="#e59c36"/><stop offset="0.411" stop-color="#e59b36"/><stop offset="0.482" stop-color="#e2aa3a"/><stop offset="1.000" stop-color="#dcaf3d"/></linearGradient><linearGradient id="d40"><stop offset="0.000" stop-color="#4792bc"/><stop offset="0.036" stop-color="#4794bb"/><stop offset="0.089" stop-color="#52a0ac"/><stop offset="0.125" stop-color="#60ac9a"/><stop offset="0.161" stop-color="#7dba7a"/><stop offset="0.196" stop-color="#a4be5b"/><stop offset="0.214" stop-color="#b7be4f"/><stop offset="0.232" stop-color="#c6bb47"/><stop offset="0.250" stop-color="#d1b742"/><stop offset="0.321" stop-color="#e1ab3a"/><stop offset="0.375" stop-color="#e59b36"/><stop offset="0.411" stop-color="#e59b36"/><stop offset="0.482" stop-color="#e1ab3a"/><stop offset="1.000" stop-color="#dcaf3d"/></linearGradient><linearGradient id="d41"><stop offset="0.000" stop-color="#4791bd"/><stop offset="0.036" stop-color="#4794bb"/><stop offset="0.089" stop-color="#53a1aa"/><stop offset="0.107" stop-color="#59a7a2"/><stop offset="0.125" stop-color="#63ad97"/><stop offset="0.143" stop-color="#70b587"/><stop offset="0.161" stop-color="#81bb76"/><stop offset="0.196" stop-color="#a8be58"/><stop offset="0.214" stop-color="#bbbe4d"/><stop offset="0.250" stop-color="#d3b641"/><stop offset="0.321" stop-color="#e1ab3a"/><stop offset="0.375" stop-color="#e59b36"/><stop offset="0.411" stop-color="#e59c36"/><stop offset="0.482" stop-color="#e1ab3a"/><stop offset="1.000" stop-color="#dcaf3d"/></linearGradient><linearGradient id="d42"><stop offset="0.000" stop-color="#4690be"/><stop offset="0.036" stop-color="#4894bb"/><stop offset="0.089" stop-color="#54a2a9"/><stop offset="0.107" stop-color="#5ba9a0"/><stop offset="0.125" stop-color="#66af93"/><stop offset="0.143" stop-color="#74b783"/><stop offset="0.179" stop-color="#99be63"/><stop offset="0.214" stop-color="#bebd4b"/><stop offset="0.250" stop-color="#d4b640"/><stop offset="0.321" stop-color="#e2aa3a"/><stop offset="0.375" stop-color="#e59c36"/><stop offset="0.411" stop-color="#e49d36"/><stop offset="0.482" stop-color="#e1ab3b"/><stop offset="1.000" stop-color="#dcaf3d"/></linearGradient><linearGradient id="d43"><stop offset="0.000" stop-color="#468fbe"/><stop offset="0.036" stop-color="#4895bb"/><stop offset="0.071" stop-color="#509eaf"/><stop offset="0.107" stop-color="#5daa9d"/><stop offset="0.143" stop-color="#77b97f"/><stop offset="0.179" stop-color="#9dbe60"/><stop offset="0.214" stop-color="#c0bd4a"/><stop offset="0.232" stop-color="#ccb944"/><stop offset="0.250" stop-color="#d5b53f"/><stop offset="0.321" stop-color="#e2a839"/><stop offset="0.375" stop-color="#e49c36"/><stop offset="0.411" stop-color="#e49d36"/><stop offset="0.482" stop-color="#e1ab3b"/><stop offset="1.000" stop-color="#dcaf3d"/></linearGradient><linearGradient id="d44"><stop offset="0.000" stop-color="#468ebf"/><stop offset="0.036" stop-color="#4895ba"/><stop offset="0.071" stop-color="#519fae"/><stop offset="0.107" stop-color="#5fac9a"/><stop offset="0.143" stop-color="#7bba7b"/><stop offset="0.179" stop-color="#a0be5d"/><stop offset="0.214" stop-color="#c2bc49"/><stop offset="0.232" stop-color="#ceb843"/><stop offset="0.250" stop-color="#d6b43f"/><stop offset="0.304" stop-color="#e1ab3a"/><stop offset="0.357" stop-color="#e49e37"/><stop offset="0.393" stop-color="#e49c36"/><stop offset="0.518" stop-color="#ddae3c"/><stop offset="1.000" stop-color="#dcaf3d"/></linearGradient><linearGradient id="d45"><stop offset="0.000" stop-color="#468dbf"/><stop offset="0.036" stop-color="#4896ba"/><stop offset="0.071" stop-color="#52a0ac"/><stop offset="0.089" stop-color="#59a7a3"/><stop offset="0.107" stop-color="#62ad97"/><stop offset="0.143" stop-color="#7fbb78"/><stop offset="0.179" stop-color="#a4be5b"/><stop offset="0.196" stop-color="#b6be50"/><stop offset="0.214" stop-color="#c4bb48"/><stop offset="0.232" stop-color="#d0b742"/><stop offset="0.304" stop-color="#e2aa3a"/><stop offset="0.357" stop-color="#e49d36"/><stop offset="0.393" stop-color="#e49c36"/><stop offset="0.500" stop-color="#dead3c"/><stop offset="1.000" stop-color="#dcaf3d"/></linearGradient><linearGradient id="d46"><stop offset="0.000" stop-color="#458cc0"/><stop offset="0.036" stop-color="#4896ba"/><stop offset="0.071" stop-color="#53a1ab"/><stop offset="0.089" stop-color="#5aa8a1"/><stop offset="0.125" stop-color="#73b684"/><stop offset="0.161" stop-color="#95bd66"/><stop offset="0.196" stop-color="#b9be4e"/><stop offset="0.232" stop-color="#d1b741"/><stop offset="0.304" stop-color="#e2a93a"/><stop offset="0.339" stop-color="#e49e37"/><stop offset="0.375" stop-color="#e59b36"/><stop offset="0.500" stop-color="#dead3c"/><stop offset="1.000" stop-color="#dcaf3d"/></linearGradient><linearGradient id="d47"><stop offset="0.000" stop-color="#458cc0"/><stop offset="0.036" stop-color="#4896ba"/><stop offset="0.089" stop-color="#5caa9e"/><stop offset="0.125" stop-color="#76b880"/><stop offset="0.161" stop-color="#99be63"/><stop offset="0.196" stop-color="#bcbe4c"/><stop offset="0.232" stop-color="#d3b641"/><stop offset="0.304" stop-color="#e2a93a"/><stop offset="0.339" stop-color="#e49d36"/><stop offset="0.375" stop-color="#e59a35"/><stop offset="0.482" stop-color="#dfad3b"/><stop offset="1.000" stop-color="#dcaf3d"/></linearGradient><linearGradient id="d48"><stop offset="0.000" stop-color="#458cc0"/><stop offset="0.036" stop-color="#4997b9"/><stop offset="0.071" stop-color="#56a4a6"/><stop offset="0.089" stop-color="#5fac9b"/><stop offset="0.125" stop-color="#7aba7c"/><stop offset="0.161" stop-color="#9cbe60"/><stop offset="0.196" stop-color="#bebd4b"/><stop offset="0.232" stop-color="#d4b640"/><stop offset="0.304" stop-color="#e2a739"/><stop offset="0.339" stop-color="#e59b36"/><stop offset="0.375" stop-color="#e59a35"/><stop offset="0.482" stop-color="#dfad3b"/><stop offset="1.000" stop-color="#dcaf3d"/></linearGradient><linearGradient id="d49"><stop offset="0.000" stop-color="#458bc0"/><stop offset="0.036" stop-color="#4a98b7"/><stop offset="0.071" stop-color="#58a6a4"/><stop offset="0.107" stop-color="#6fb488"/><stop offset="0.125" stop-color="#7dba79"/><stop offset="0.161" stop-color="#9fbe5e"/><stop offset="0.196" stop-color="#c0bd4a"/><stop offset="0.232" stop-color="#d5b53f"/><stop offset="0.286" stop-color="#e1ab3a"/><stop offset="0.339" stop-color="#e59b36"/><stop offset="0.375" stop-color="#e59a35"/><stop offset="0.464" stop-color="#e1ab3b"/><stop offset="1.000" stop-color="#dcaf3d"/></linearGradient><linearGradient id="d50"><stop offset="0.000" stop-color="#458bc1"/><stop offset="0.036" stop-color="#4b99b5"/><stop offset="0.071" stop-color="#5aa8a1"/><stop offset="0.125" stop-color="#81bb76"/><stop offset="0.161" stop-color="#a2be5c"/><stop offset="0.196" stop-color="#c2bc49"/><stop offset="0.214" stop-color="#ceb843"/><stop offset="0.232" stop-color="#d6b43f"/><stop offset="0.286" stop-color="#e2a93a"/><stop offset="0.339" stop-color="#e59a36"/><stop offset="0.375" stop-color="#e59a35"/><stop offset="0.464" stop-color="#e0ab3b"/><stop offset="1.000" stop-color="#dcaf3d"/></linearGradient><linearGradient id="d51"><stop offset="0.000" stop-color="#458bc1"/><stop offset="0.018" stop-color="#4793bc"/><stop offset="0.054" stop-color="#54a2aa"/><stop offset="0.071" stop-color="#5caa9e"/><stop offset="0.107" stop-color="#76b881"/><stop offset="0.161" stop-color="#a5be5a"/><stop offset="0.179" stop-color="#b6be4f"/><stop offset="0.214" stop-color="#d0b742"/><stop offset="0.268" stop-color="#e0ab3b"/><stop offset="0.321" stop-color="#e49c36"/><stop offset="0.357" stop-color="#e59935"/><stop offset="0.482" stop-color="#dead3c"/><stop offset="1.000" stop-color="#dcaf3d"/></linearGradient><linearGradient id="d52"><stop offset="0.000" stop-color="#458ac1"/><stop offset="0.018" stop-color="#4793bc"/><stop offset="0.054" stop-color="#55a3a8"/><stop offset="0.071" stop-color="#5fab9b"/><stop offset="0.107" stop-color="#79b97d"/><stop offset="0.179" stop-color="#b9be4e"/><stop offset="0.214" stop-color="#d2b741"/><stop offset="0.268" stop-color="#e1ab3a"/><stop offset="0.321" stop-color="#e59b36"/><stop offset="0.357" stop-color="#e59935"/><stop offset="0.482" stop-color="#dead3c"/><stop offset="1.000" stop-color="#dcaf3d"/></linearGradient><linearGradient id="d53"><stop offset="0.000" stop-color="#458ac1"/><stop offset="0.018" stop-color="#4793bc"/><stop offset="0.054" stop-color="#56a4a6"/><stop offset="0.107" stop-color="#7cba7a"/><stop offset="0.143" stop-color="#9bbe61"/><stop offset="0.179" stop-color="#bcbe4c"/><stop offset="0.214" stop-color="#d3b641"/><stop offset="0.268" stop-color="#e2aa3a"/><stop offset="0.304" stop-color="#e49e36"/><stop offset="0.339" stop-color="#e59835"/><stop offset="0.393" stop-color="#e49e37"/><stop offset="0.446" stop-color="#e1aa3a"/><stop offset="1.000" stop-color="#dcaf3d"/></linearGradient><linearGradient id="d54"><stop offset="0.000" stop-color="#458ac1"/><stop offset="0.018" stop-color="#4794bb"/><stop offset="0.054" stop-color="#58a6a4"/><stop offset="0.089" stop-color="#71b586"/><stop offset="0.107" stop-color="#7fbb78"/><stop offset="0.143" stop-color="#9ebe5f"/><stop offset="0.179" stop-color="#bdbe4b"/><stop offset="0.214" stop-color="#d4b640"/><stop offset="0.268" stop-color="#e2aa3a"/><stop offset="0.304" stop-color="#e49d36"/><stop offset="0.339" stop-color="#e59935"/><stop offset="0.411" stop-color="#e3a338"/><stop offset="0.482" stop-color="#ddae3c"/><stop offset="1.000" stop-color="#dcaf3d"/></linearGradient></defs><text x="58.2" y="174.5" font-size="14" text-anchor="start" fill="#222" class="cap" textLength="65.9" lengthAdjust="spacing">(a) 3D Plot</text>
<text x="309.4" y="174.5" font-size="14" text-anchor="start" fill="#222" class="cap" textLength="67.0" lengthAdjust="spacing">(b) 2D Plot</text>
<text x="546.2" y="174.5" font-size="14" text-anchor="start" fill="#222" class="cap" textLength="96.5" lengthAdjust="spacing">(c) Contour Plot</text>
<text x="185.2" y="391.2" font-size="14" text-anchor="start" fill="#222" class="cap" textLength="94.7" lengthAdjust="spacing">(d) Density Plot</text>
<text x="413.6" y="391.2" font-size="14" text-anchor="start" fill="#222" class="cap" textLength="79.4" lengthAdjust="spacing">(e) Polar Plot</text>
<g stroke="#dedede" stroke-width="0.6" stroke-dasharray="1.5 1.2" fill="none"><line x1="286.0" y1="47.0" x2="286.0" y2="121.6"/><line x1="315.0" y1="47.0" x2="315.0" y2="121.6"/><line x1="344.0" y1="47.0" x2="344.0" y2="121.6"/><line x1="373.0" y1="47.0" x2="373.0" y2="121.6"/><line x1="402.0" y1="47.0" x2="402.0" y2="121.6"/><line x1="283.6" y1="57.4" x2="405.1" y2="57.4"/><line x1="283.6" y1="67.2" x2="405.1" y2="67.2"/><line x1="283.6" y1="77.1" x2="405.1" y2="77.1"/><line x1="283.6" y1="86.9" x2="405.1" y2="86.9"/><line x1="283.6" y1="96.8" x2="405.1" y2="96.8"/><line x1="283.6" y1="106.7" x2="405.1" y2="106.7"/><line x1="283.6" y1="116.5" x2="405.1" y2="116.5"/></g>
<rect x="283.6" y="47.0" width="121.5" height="74.6" fill="none" stroke="#bcbcbc" stroke-width="0.7"/>
<path d="M286.0 121.6 v-1.8 M286.0 47.0 v1.8 M291.8 121.6 v-1.0 M291.8 47.0 v1.0 M297.6 121.6 v-1.0 M297.6 47.0 v1.0 M303.4 121.6 v-1.0 M303.4 47.0 v1.0 M309.2 121.6 v-1.0 M309.2 47.0 v1.0 M315.0 121.6 v-1.8 M315.0 47.0 v1.8 M320.8 121.6 v-1.0 M320.8 47.0 v1.0 M326.6 121.6 v-1.0 M326.6 47.0 v1.0 M332.4 121.6 v-1.0 M332.4 47.0 v1.0 M338.2 121.6 v-1.0 M338.2 47.0 v1.0 M344.0 121.6 v-1.8 M344.0 47.0 v1.8 M349.8 121.6 v-1.0 M349.8 47.0 v1.0 M355.6 121.6 v-1.0 M355.6 47.0 v1.0 M361.4 121.6 v-1.0 M361.4 47.0 v1.0 M367.2 121.6 v-1.0 M367.2 47.0 v1.0 M373.0 121.6 v-1.8 M373.0 47.0 v1.8 M378.8 121.6 v-1.0 M378.8 47.0 v1.0 M384.6 121.6 v-1.0 M384.6 47.0 v1.0 M390.4 121.6 v-1.0 M390.4 47.0 v1.0 M396.2 121.6 v-1.0 M396.2 47.0 v1.0 M402.0 121.6 v-1.8 M402.0 47.0 v1.8 M283.6 52.5 h1.0 M405.1 52.5 h-1.0 M283.6 57.4 h1.8 M405.1 57.4 h-1.8 M283.6 62.3 h1.0 M405.1 62.3 h-1.0 M283.6 67.2 h1.8 M405.1 67.2 h-1.8 M283.6 72.2 h1.0 M405.1 72.2 h-1.0 M283.6 77.1 h1.8 M405.1 77.1 h-1.8 M283.6 82.0 h1.0 M405.1 82.0 h-1.0 M283.6 86.9 h1.8 M405.1 86.9 h-1.8 M283.6 91.9 h1.0 M405.1 91.9 h-1.0 M283.6 96.8 h1.8 M405.1 96.8 h-1.8 M283.6 101.7 h1.0 M405.1 101.7 h-1.0 M283.6 106.7 h1.8 M405.1 106.7 h-1.8 M283.6 111.6 h1.0 M405.1 111.6 h-1.0 M283.6 116.5 h1.8 M405.1 116.5 h-1.8 " stroke="#8c8c8c" stroke-width="0.5" fill="none"/>
<path d="M286.0 99.6 L286.8 101.8 L287.5 103.8 L288.3 105.7 L289.1 107.4 L289.8 109.1 L290.6 110.6 L291.4 111.9 L292.1 113.2 L292.9 114.3 L293.7 115.3 L294.4 116.2 L295.2 116.9 L296.0 117.5 L296.7 118.0 L297.5 118.3 L298.3 118.5 L299.0 118.5 L299.8 118.3 L300.6 118.0 L301.3 117.5 L302.1 116.9 L302.9 116.1 L303.6 115.2 L304.4 114.2 L305.2 113.0 L305.9 111.8 L306.7 110.4 L307.5 108.8 L308.2 107.2 L309.0 105.5 L309.8 103.6 L310.5 101.7 L311.3 99.7 L312.1 97.7 L312.8 95.6 L313.6 93.5 L314.4 91.4 L315.1 89.3 L315.9 87.2 L316.7 85.1 L317.4 82.9 L318.2 80.8 L319.0 78.6 L319.7 76.5 L320.5 74.4 L321.2 72.4 L322.0 70.3 L322.8 68.3 L323.5 66.4 L324.3 64.6 L325.1 62.9 L325.8 61.2 L326.6 59.7 L327.4 58.3 L328.1 57.0 L328.9 55.8 L329.7 54.8 L330.4 53.8 L331.2 53.0 L332.0 52.2 L332.7 51.6 L333.5 51.2 L334.3 50.8 L335.0 50.5 L335.8 50.4 L336.6 50.3 L337.3 50.4 L338.1 50.5 L338.9 50.8 L339.6 51.3 L340.4 52.0 L341.2 52.8 L341.9 53.8 L342.7 54.9 L343.5 55.9 L344.2 56.9 L345.0 57.8 L345.8 58.5 L346.5 59.0 L347.3 59.3 L348.1 59.5 L348.8 59.6 L349.6 59.6 L350.4 59.7 L351.1 59.7 L351.9 59.7 L352.7 59.8 L353.4 60.0 L354.2 60.4 L360 60.8 L375 61.1 L402 61.3" fill="none" stroke="url(#gb)" stroke-width="0.9" stroke-linejoin="round"/>
<text x="285.7" y="132.6" font-size="10.5" text-anchor="middle" fill="#111" >−2</text>
<text x="314.7" y="132.6" font-size="10.5" text-anchor="middle" fill="#111" >−1</text>
<text x="344.0" y="132.6" font-size="10.5" text-anchor="middle" fill="#111" >0</text>
<text x="373.0" y="132.6" font-size="10.5" text-anchor="middle" fill="#111" >1</text>
<text x="402.0" y="132.6" font-size="10.5" text-anchor="middle" fill="#111" >2</text>
<text x="281.6" y="61.1" font-size="10.2" text-anchor="end" fill="#111" >13</text>
<text x="281.6" y="71.0" font-size="10.2" text-anchor="end" fill="#111" >12</text>
<text x="281.6" y="80.8" font-size="10.2" text-anchor="end" fill="#111" >11</text>
<text x="281.6" y="90.6" font-size="10.2" text-anchor="end" fill="#111" >10</text>
<text x="281.6" y="100.5" font-size="10.2" text-anchor="end" fill="#111" >9</text>
<text x="281.6" y="110.4" font-size="10.2" text-anchor="end" fill="#111" >8</text>
<text x="281.6" y="120.2" font-size="10.2" text-anchor="end" fill="#111" >7</text>
<text x="344.2" y="151.2" font-size="13.6" text-anchor="middle" fill="#111" >x</text>
<text transform="translate(265,84.5) rotate(-90)" font-size="15.5" style="stroke-width:0.2px" text-anchor="middle" fill="#111">|<tspan font-style="italic">v</tspan><tspan font-size="10" dy="2.5">1</tspan><tspan dy="-2.5">|</tspan></text>
<rect x="411.3" y="72.9" width="5.3" height="50.8" fill="url(#rb)"/>
<text transform="translate(420.8,127.8) scale(0.79,1)" font-size="11.6" text-anchor="start" fill="#111" >7</text>
<text transform="translate(420.8,120.2) scale(0.79,1)" font-size="11.6" text-anchor="start" fill="#111" >8</text>
<text transform="translate(420.8,112.5) scale(0.79,1)" font-size="11.6" text-anchor="start" fill="#111" >9</text>
<text transform="translate(420.8,104.9) scale(0.79,1)" font-size="11.6" text-anchor="start" fill="#111" >10</text>
<text transform="translate(420.8,97.2) scale(0.79,1)" font-size="11.6" text-anchor="start" fill="#111" >11</text>
<text transform="translate(420.8,89.6) scale(0.79,1)" font-size="11.6" text-anchor="start" fill="#111" >12</text>
<text transform="translate(420.8,82.0) scale(0.79,1)" font-size="11.6" text-anchor="start" fill="#111" >13</text>
<g><rect x="538.8" y="4.5" width="115.1" height="115.2" fill="#e2aa3a"/><path d="M554.9 29.7 L556.1 30.2 L557.2 29.7 L558.0 29.0 L558.6 28.3 L559.1 27.5 L559.7 26.6 L560.3 25.4 L560.7 24.7 L561.1 23.8 L561.7 22.5 L562.0 21.8 L562.5 20.3 L562.7 19.6 L563.2 18.2 L563.4 17.5 L563.8 16.0 L564.0 15.3 L564.4 13.9 L564.7 12.8 L564.9 11.7 L565.3 10.3 L565.4 9.5 L565.7 8.1 L565.9 6.7 L566.1 5.2 L565.4 4.5 L564.0 4.5 L562.5 4.5 L561.1 4.5 L559.7 4.5 L558.2 4.5 L556.8 4.5 L555.3 4.5 L553.9 4.5 L552.5 4.5 L551.0 4.5 L549.6 4.5 L549.6 5.2 L549.6 5.9 L549.7 7.4 L549.8 8.8 L549.9 10.3 L550.1 11.7 L550.2 13.1 L550.3 13.9 L550.5 15.3 L550.8 16.7 L551.0 18.2 L551.1 18.9 L551.4 20.3 L551.7 21.8 L551.9 22.5 L552.3 23.9 L552.5 24.7 L552.9 26.1 L553.2 26.9 L553.8 28.3 L554.2 29.0 L554.9 29.7Z" fill="#7a1e8c" stroke="#7a1e8c" stroke-width="0.4" fill-rule="evenodd"/><path d="M551.8 55.6 L553.2 55.9 L554.5 55.6 L555.3 55.3 L556.1 54.9 L556.9 54.2 L557.6 53.5 L558.2 52.7 L558.9 51.7 L559.6 50.6 L560.1 49.9 L560.5 49.1 L561.1 48.0 L561.6 47.0 L561.9 46.3 L562.5 44.8 L562.8 44.1 L563.3 42.8 L563.6 41.9 L564.0 40.9 L564.3 39.8 L564.7 38.8 L565.1 37.6 L565.4 36.4 L565.7 35.5 L566.0 34.0 L566.2 33.3 L566.5 31.9 L566.8 30.4 L566.9 29.7 L567.2 28.3 L567.5 26.8 L567.6 26.1 L567.9 24.7 L568.0 23.2 L568.2 21.8 L568.3 20.8 L568.4 19.6 L568.5 18.2 L568.7 16.7 L568.8 15.3 L568.9 13.9 L569.0 13.1 L569.2 11.7 L569.4 10.3 L569.6 8.8 L569.7 7.6 L569.8 6.7 L569.9 5.2 L569.7 4.5 L568.3 4.5 L566.9 4.5 L566.0 4.5 L566.0 5.9 L565.8 7.4 L565.6 8.8 L565.4 9.5 L565.1 11.0 L564.8 12.4 L564.6 13.1 L564.2 14.6 L564.0 15.5 L563.6 16.7 L563.3 18.0 L563.0 18.9 L562.5 20.3 L562.3 21.1 L561.8 22.2 L561.3 23.2 L561.0 23.9 L560.4 25.2 L559.9 26.1 L559.5 26.8 L558.9 27.8 L558.2 28.7 L557.5 29.5 L556.8 30.0 L555.3 30.1 L554.6 29.5 L553.9 28.5 L553.5 27.5 L553.2 26.8 L552.7 25.4 L552.5 24.7 L552.1 23.2 L551.7 22.1 L551.5 21.1 L551.2 19.6 L551.0 18.4 L550.9 17.5 L550.6 16.0 L550.4 14.6 L550.3 13.8 L550.1 12.4 L550.0 11.0 L549.9 9.5 L549.7 8.1 L549.6 6.7 L549.6 5.8 L549.6 4.5 L548.2 4.5 L546.7 4.5 L545.3 4.5 L543.9 4.5 L543.9 5.9 L543.9 7.4 L544.0 8.8 L544.0 10.3 L544.0 11.7 L544.0 13.1 L543.9 14.6 L543.9 16.0 L544.0 17.5 L544.0 18.9 L543.9 20.3 L543.9 21.8 L544.0 23.2 L544.0 24.7 L544.1 26.1 L544.2 27.5 L544.3 29.0 L544.4 30.4 L544.5 31.9 L544.6 33.0 L544.6 34.0 L544.7 35.5 L544.9 36.9 L545.0 38.3 L545.3 39.7 L545.4 40.5 L545.7 41.9 L546.0 43.2 L546.2 44.1 L546.5 45.5 L546.7 46.5 L547.0 47.7 L547.4 49.1 L547.7 49.9 L548.2 50.8 L548.8 52.0 L549.2 52.7 L549.6 53.5 L550.3 54.4 L551.0 55.1 L551.8 55.6Z" fill="#4254d4" stroke="#4254d4" stroke-width="0.4" fill-rule="evenodd"/><path d="M538.8 119.7 L540.2 119.7 L541.7 119.7 L543.1 119.7 L544.6 119.7 L546.0 119.7 L546.7 119.7 L547.0 118.3 L547.2 116.8 L547.4 115.7 L547.7 114.7 L548.0 113.2 L548.2 112.4 L548.5 111.1 L548.8 109.6 L549.0 108.9 L549.4 107.5 L549.6 106.6 L549.9 105.3 L550.3 103.9 L550.4 103.1 L550.8 101.7 L551.0 100.7 L551.3 99.5 L551.6 98.1 L551.8 97.4 L552.2 95.9 L552.5 94.6 L552.7 93.8 L553.0 92.3 L553.2 91.6 L553.6 90.2 L553.9 88.8 L554.1 88.0 L554.5 86.6 L554.7 85.9 L555.1 84.4 L555.3 83.6 L555.7 82.3 L556.1 80.9 L556.3 80.1 L556.7 78.7 L556.9 77.9 L557.3 76.5 L557.5 75.8 L558.0 74.3 L558.2 73.6 L558.8 72.2 L559.1 71.5 L559.6 70.0 L559.9 69.3 L560.4 68.0 L560.6 67.1 L561.1 65.7 L561.2 65.0 L561.5 63.5 L561.8 62.7 L562.4 61.4 L562.7 60.7 L563.3 59.5 L563.7 58.5 L564.0 57.8 L564.6 56.3 L564.9 55.6 L565.4 54.5 L565.9 53.5 L566.2 52.7 L566.9 51.4 L567.2 50.6 L567.6 49.4 L567.9 48.4 L568.3 47.0 L568.5 46.3 L568.9 44.8 L569.0 44.1 L569.3 42.7 L569.6 41.2 L569.7 40.5 L569.9 39.1 L570.1 37.6 L570.3 36.2 L570.4 34.7 L570.5 34.0 L570.6 32.6 L570.7 31.1 L570.8 29.7 L570.9 28.3 L571.1 26.8 L571.2 26.0 L571.3 24.7 L571.4 23.2 L571.5 21.8 L571.6 20.3 L571.6 18.9 L571.7 17.5 L571.7 16.0 L571.8 14.6 L571.9 13.8 L572.1 12.4 L572.2 11.0 L572.3 9.5 L572.4 8.1 L572.5 6.7 L572.5 5.2 L571.9 4.5 L570.5 4.5 L569.9 5.2 L569.8 6.7 L569.7 7.6 L569.6 8.8 L569.4 10.3 L569.2 11.7 L569.0 13.1 L568.9 13.9 L568.8 15.3 L568.7 16.7 L568.5 18.2 L568.4 19.6 L568.3 20.8 L568.2 21.8 L568.0 23.2 L567.9 24.7 L567.6 26.1 L567.5 26.8 L567.2 28.3 L566.9 29.7 L566.8 30.4 L566.5 31.9 L566.2 33.3 L566.0 34.0 L565.7 35.5 L565.4 36.4 L565.1 37.6 L564.7 38.8 L564.3 39.8 L564.0 40.9 L563.6 41.9 L563.3 42.8 L562.8 44.1 L562.5 44.8 L561.9 46.3 L561.6 47.0 L561.1 48.0 L560.5 49.1 L560.1 49.9 L559.6 50.6 L558.9 51.7 L558.2 52.7 L557.6 53.5 L556.9 54.2 L556.1 54.9 L555.3 55.3 L554.5 55.6 L553.2 55.9 L551.8 55.6 L551.0 55.1 L550.3 54.4 L549.6 53.5 L549.2 52.7 L548.8 52.0 L548.2 50.8 L547.7 49.9 L547.4 49.1 L547.0 47.7 L546.7 46.5 L546.5 45.5 L546.2 44.1 L546.0 43.2 L545.7 41.9 L545.4 40.5 L545.3 39.7 L545.0 38.3 L544.9 36.9 L544.7 35.5 L544.6 34.0 L544.6 33.0 L544.5 31.9 L544.4 30.4 L544.3 29.0 L544.2 27.5 L544.1 26.1 L544.0 24.7 L544.0 23.2 L543.9 21.8 L543.9 20.3 L544.0 18.9 L544.0 17.5 L543.9 16.0 L543.9 14.6 L544.0 13.1 L544.0 11.7 L544.0 10.3 L544.0 8.8 L543.9 7.4 L543.9 5.9 L543.9 4.5 L543.1 4.5 L541.7 4.5 L540.2 4.5 L538.8 4.5 L538.8 5.9 L538.8 7.4 L538.8 8.8 L538.8 10.3 L538.8 11.7 L538.8 13.1 L538.8 14.6 L538.8 16.0 L538.8 17.5 L538.8 18.9 L538.8 20.3 L538.8 21.8 L538.8 23.2 L538.8 24.7 L538.8 26.1 L538.8 27.5 L538.8 29.0 L538.8 30.4 L538.8 31.9 L538.8 33.3 L538.8 34.7 L538.8 36.2 L538.8 37.6 L538.8 39.1 L538.8 40.5 L538.8 41.9 L538.8 43.4 L538.8 44.8 L538.8 46.3 L538.8 47.7 L538.8 49.1 L538.8 50.6 L538.8 52.0 L538.8 53.5 L538.8 54.6 L539.5 55.5 L539.9 56.3 L540.2 57.2 L540.6 58.5 L540.8 59.9 L540.9 61.4 L540.8 62.8 L540.4 64.3 L540.1 65.0 L539.5 65.7 L538.8 66.4 L538.8 67.9 L538.8 69.3 L538.8 70.7 L538.8 72.2 L538.8 73.6 L538.8 75.1 L538.8 76.5 L538.8 77.9 L538.8 79.4 L538.8 80.8 L538.8 82.3 L538.8 83.7 L538.8 85.1 L538.8 86.6 L538.8 88.0 L538.8 89.5 L538.8 90.9 L538.8 92.3 L538.8 93.8 L538.8 95.2 L538.8 96.7 L538.8 98.1 L538.8 99.5 L538.8 101.0 L538.8 102.4 L538.8 103.9 L538.8 105.3 L538.8 106.7 L538.8 108.2 L538.8 109.6 L538.8 111.1 L538.8 112.5 L538.8 113.9 L538.8 115.4 L538.8 116.8 L538.8 118.3 L538.8 119.7Z" fill="#4896ba" stroke="#4896ba" stroke-width="0.4" fill-rule="evenodd"/><path d="M546.7 119.7 L548.2 119.7 L549.6 119.7 L551.0 119.7 L552.5 119.7 L553.9 119.7 L555.3 119.7 L555.4 119.0 L555.7 117.5 L555.9 116.1 L556.1 115.3 L556.3 113.9 L556.6 112.5 L556.8 111.3 L557.0 110.3 L557.2 108.9 L557.5 107.5 L557.6 106.7 L557.9 105.3 L558.2 103.9 L558.3 103.1 L558.6 101.7 L558.8 100.3 L559.0 99.5 L559.2 98.1 L559.5 96.7 L559.7 95.9 L559.9 94.5 L560.2 93.1 L560.4 92.1 L560.6 90.9 L560.9 89.5 L561.1 88.3 L561.3 87.3 L561.6 85.9 L561.8 84.6 L562.0 83.7 L562.3 82.3 L562.5 80.9 L562.7 80.1 L563.0 78.7 L563.3 77.4 L563.5 76.5 L563.9 75.1 L564.1 74.3 L564.6 72.9 L564.8 72.2 L565.3 70.7 L565.5 70.0 L566.0 68.6 L566.2 67.9 L566.7 66.4 L567.0 65.7 L567.5 64.3 L567.7 63.5 L568.3 62.1 L568.5 61.4 L569.0 59.9 L569.2 59.2 L569.6 57.8 L569.8 57.1 L570.3 55.6 L570.5 54.9 L570.9 53.5 L571.2 52.4 L571.4 51.3 L571.8 49.9 L572.0 49.1 L572.2 47.7 L572.4 46.3 L572.5 44.8 L572.6 44.1 L572.8 42.7 L572.9 41.2 L573.1 39.8 L573.3 38.3 L573.3 37.6 L573.5 36.2 L573.6 34.7 L573.6 33.3 L573.6 31.9 L573.6 30.4 L573.6 29.0 L573.7 27.5 L573.8 26.1 L574.0 24.7 L574.0 23.3 L574.1 22.5 L574.1 21.1 L574.1 19.6 L574.1 18.2 L574.1 16.7 L574.1 15.3 L574.3 13.9 L574.5 12.4 L574.6 11.0 L574.7 9.5 L574.7 8.1 L574.7 6.7 L574.6 5.2 L574.0 4.5 L572.6 4.5 L572.5 5.2 L572.5 6.7 L572.4 8.1 L572.3 9.5 L572.2 11.0 L572.1 12.4 L571.9 13.8 L571.8 14.6 L571.7 16.0 L571.7 17.5 L571.6 18.9 L571.6 20.3 L571.5 21.8 L571.4 23.2 L571.3 24.7 L571.2 26.0 L571.1 26.8 L570.9 28.3 L570.8 29.7 L570.7 31.1 L570.6 32.6 L570.5 34.0 L570.4 34.7 L570.3 36.2 L570.1 37.6 L569.9 39.1 L569.7 40.5 L569.6 41.2 L569.3 42.7 L569.0 44.1 L568.9 44.8 L568.5 46.3 L568.3 47.0 L567.9 48.4 L567.6 49.4 L567.2 50.6 L566.9 51.4 L566.2 52.7 L565.9 53.5 L565.4 54.5 L564.9 55.6 L564.6 56.3 L564.0 57.8 L563.7 58.5 L563.3 59.5 L562.7 60.7 L562.4 61.4 L561.8 62.7 L561.5 63.5 L561.2 65.0 L561.1 65.7 L560.6 67.1 L560.4 68.0 L559.9 69.3 L559.6 70.0 L559.1 71.5 L558.8 72.2 L558.2 73.6 L558.0 74.3 L557.5 75.8 L557.3 76.5 L556.9 77.9 L556.7 78.7 L556.3 80.1 L556.1 80.9 L555.7 82.3 L555.3 83.6 L555.1 84.4 L554.7 85.9 L554.5 86.6 L554.1 88.0 L553.9 88.8 L553.6 90.2 L553.2 91.6 L553.0 92.3 L552.7 93.8 L552.5 94.6 L552.2 95.9 L551.8 97.4 L551.6 98.1 L551.3 99.5 L551.0 100.7 L550.8 101.7 L550.4 103.1 L550.3 103.9 L549.9 105.3 L549.6 106.6 L549.4 107.5 L549.0 108.9 L548.8 109.6 L548.5 111.1 L548.2 112.4 L548.0 113.2 L547.7 114.7 L547.4 115.7 L547.2 116.8 L547.0 118.3 L546.7 119.7ZM538.8 65.7 L539.5 65.7 L540.1 65.0 L540.4 64.3 L540.8 62.8 L540.9 61.4 L540.8 59.9 L540.6 58.5 L540.2 57.2 L539.9 56.3 L539.5 55.5 L538.8 54.6 L538.8 55.6 L538.8 57.1 L538.8 58.5 L538.8 59.9 L538.8 61.4 L538.8 62.8 L538.8 64.3 L538.8 65.7Z" fill="#7aba7c" stroke="#7aba7c" stroke-width="0.4" fill-rule="evenodd"/><path d="M555.3 119.7 L556.1 119.7 L557.5 119.7 L558.9 119.7 L560.4 119.7 L561.8 119.7 L563.3 119.7 L563.5 119.0 L563.6 117.5 L563.8 116.1 L563.9 114.7 L564.0 113.9 L564.2 112.5 L564.5 111.1 L564.7 109.7 L564.9 108.9 L565.1 107.5 L565.4 106.0 L565.5 105.3 L565.8 103.9 L566.0 102.4 L566.1 101.5 L566.3 100.3 L566.6 98.8 L566.8 97.4 L566.9 96.7 L567.2 95.2 L567.4 93.8 L567.6 93.1 L567.8 91.6 L568.1 90.2 L568.3 89.3 L568.5 88.0 L568.8 86.6 L569.0 85.1 L569.1 84.4 L569.4 83.0 L569.6 81.5 L569.7 80.8 L570.0 79.4 L570.3 77.9 L570.5 77.2 L570.8 75.8 L571.1 74.3 L571.2 73.6 L571.6 72.2 L571.9 70.7 L572.1 70.0 L572.5 68.6 L572.7 67.9 L573.2 66.4 L573.5 65.7 L574.0 64.4 L574.4 63.5 L574.8 62.6 L575.1 61.4 L575.3 59.9 L575.5 58.5 L575.6 57.8 L575.7 56.3 L575.7 54.9 L575.5 53.5 L575.5 52.7 L575.5 51.3 L575.5 50.6 L575.6 49.1 L575.7 47.7 L575.7 46.3 L575.8 44.8 L575.9 43.4 L576.0 41.9 L576.2 40.5 L576.3 39.8 L576.6 38.3 L576.8 36.9 L576.9 35.5 L576.9 34.0 L576.8 32.6 L576.6 31.1 L576.5 29.7 L576.4 28.3 L576.6 26.8 L576.8 25.4 L576.9 23.9 L576.9 22.5 L576.9 21.1 L576.8 19.6 L576.7 18.2 L576.6 16.7 L576.7 15.3 L576.9 13.9 L577.0 13.1 L577.1 11.7 L577.2 10.3 L577.2 8.8 L577.1 7.4 L576.9 6.0 L576.9 5.2 L576.2 4.5 L574.8 4.5 L574.6 5.2 L574.7 6.7 L574.7 8.1 L574.7 9.5 L574.6 11.0 L574.5 12.4 L574.3 13.9 L574.1 15.3 L574.1 16.7 L574.1 18.2 L574.1 19.6 L574.1 21.1 L574.1 22.5 L574.0 23.3 L574.0 24.7 L573.8 26.1 L573.7 27.5 L573.6 29.0 L573.6 30.4 L573.6 31.9 L573.6 33.3 L573.6 34.7 L573.5 36.2 L573.3 37.6 L573.3 38.3 L573.1 39.8 L572.9 41.2 L572.8 42.7 L572.6 44.1 L572.5 44.8 L572.4 46.3 L572.2 47.7 L572.0 49.1 L571.8 49.9 L571.4 51.3 L571.2 52.4 L570.9 53.5 L570.5 54.9 L570.3 55.6 L569.8 57.1 L569.6 57.8 L569.2 59.2 L569.0 59.9 L568.5 61.4 L568.3 62.1 L567.7 63.5 L567.5 64.3 L567.0 65.7 L566.7 66.4 L566.2 67.9 L566.0 68.6 L565.5 70.0 L565.3 70.7 L564.8 72.2 L564.6 72.9 L564.1 74.3 L563.9 75.1 L563.5 76.5 L563.3 77.4 L563.0 78.7 L562.7 80.1 L562.5 80.9 L562.3 82.3 L562.0 83.7 L561.8 84.6 L561.6 85.9 L561.3 87.3 L561.1 88.3 L560.9 89.5 L560.6 90.9 L560.4 92.1 L560.2 93.1 L559.9 94.5 L559.7 95.9 L559.5 96.7 L559.2 98.1 L559.0 99.5 L558.8 100.3 L558.6 101.7 L558.3 103.1 L558.2 103.9 L557.9 105.3 L557.6 106.7 L557.5 107.5 L557.2 108.9 L557.0 110.3 L556.8 111.3 L556.6 112.5 L556.3 113.9 L556.1 115.3 L555.9 116.1 L555.7 117.5 L555.4 119.0 L555.3 119.7Z" fill="#bcbe4c" stroke="#bcbe4c" stroke-width="0.4" fill-rule="evenodd"/><path d="M587.5 52.7 L588.4 53.1 L589.3 52.7 L590.0 52.0 L590.6 51.3 L591.3 50.0 L591.6 49.1 L592.0 48.0 L592.3 47.0 L592.7 45.5 L592.8 44.8 L593.2 43.4 L593.5 42.0 L593.6 41.2 L593.9 39.8 L594.2 38.3 L594.3 37.6 L594.5 36.2 L594.6 34.7 L594.8 33.3 L594.9 31.9 L595.0 31.1 L595.2 29.7 L595.3 28.3 L595.5 26.8 L595.6 25.8 L595.8 24.7 L595.9 23.2 L596.1 21.8 L596.2 20.3 L596.3 18.9 L596.3 17.8 L596.4 16.7 L596.4 15.3 L596.5 13.9 L596.5 12.4 L596.6 11.0 L596.7 9.5 L596.8 8.1 L596.9 6.7 L597.0 5.2 L597.1 4.5 L596.3 4.5 L594.9 4.5 L593.5 4.5 L592.0 4.5 L591.3 4.9 L591.0 5.9 L590.6 6.9 L589.9 8.1 L589.4 8.8 L588.7 9.5 L587.7 10.0 L586.8 9.5 L586.1 8.8 L585.6 8.0 L585.0 6.7 L584.7 5.9 L584.5 4.5 L583.4 4.5 L582.0 4.5 L580.5 4.5 L580.1 5.2 L580.2 6.7 L580.3 8.1 L580.4 9.5 L580.5 11.0 L580.5 12.4 L580.5 13.9 L580.5 15.3 L580.5 16.4 L580.6 17.5 L580.7 18.9 L580.8 20.3 L580.9 21.8 L581.0 23.2 L581.1 24.7 L581.2 26.1 L581.2 27.3 L581.3 28.3 L581.6 29.7 L581.8 31.1 L582.0 32.6 L582.1 33.3 L582.3 34.7 L582.4 36.2 L582.6 37.6 L582.7 38.7 L582.8 39.8 L583.0 41.2 L583.3 42.7 L583.4 43.4 L583.8 44.8 L584.1 46.0 L584.4 47.0 L584.8 48.2 L585.2 49.1 L585.6 50.0 L586.3 51.3 L586.8 52.0 L587.5 52.7Z" fill="#e76a2c" stroke="#e76a2c" stroke-width="0.4" fill-rule="evenodd"/><path d="M586.8 9.5 L587.7 10.0 L588.7 9.5 L589.4 8.8 L589.9 8.1 L590.6 6.9 L591.0 5.9 L591.3 4.9 L591.3 4.5 L589.9 4.5 L588.4 4.5 L587.0 4.5 L585.6 4.5 L584.5 4.5 L584.7 5.9 L585.0 6.7 L585.6 8.0 L586.1 8.8 L586.8 9.5Z" fill="#dc2824" stroke="#dc2824" stroke-width="0.4" fill-rule="evenodd"/><path d="M566.0 4.5 L566.0 5.9 L565.8 7.4 L565.6 8.8 L565.4 9.5 L565.1 11.0 L564.8 12.4 L564.6 13.1 L564.2 14.6 L564.0 15.5 L563.6 16.7 L563.3 18.0 L563.0 18.9 L562.5 20.3 L562.3 21.1 L561.8 22.2 L561.3 23.2 L561.0 23.9 L560.4 25.2 L559.9 26.1 L559.5 26.8 L558.9 27.8 L558.2 28.7 L557.5 29.5 L556.8 30.0 L555.3 30.1 L554.6 29.5 L553.9 28.5 L553.5 27.5 L553.2 26.8 L552.7 25.4 L552.5 24.7 L552.1 23.2 L551.7 22.1 L551.5 21.1 L551.2 19.6 L551.0 18.4 L550.9 17.5 L550.6 16.0 L550.4 14.6 L550.3 13.8 L550.1 12.4 L550.0 11.0 L549.9 9.5 L549.7 8.1 L549.6 6.7 L549.6 5.8 L549.6 4.5M569.8 4.5 L569.8 5.9 L569.7 7.4 L569.7 8.1 L569.5 9.5 L569.3 11.0 L569.1 12.4 L569.0 13.3 L568.9 14.6 L568.7 16.0 L568.6 17.5 L568.5 18.9 L568.3 20.3 L568.3 21.1 L568.1 22.5 L567.9 23.9 L567.7 25.4 L567.6 26.3 L567.3 27.5 L567.0 29.0 L566.9 30.0 L566.6 31.1 L566.3 32.6 L566.1 33.4 L565.8 34.7 L565.5 36.2 L565.3 36.9 L564.8 38.3 L564.6 39.1 L564.1 40.5 L563.8 41.2 L563.3 42.7 L563.0 43.4 L562.5 44.7 L562.2 45.5 L561.8 46.5 L561.3 47.7 L560.9 48.4 L560.4 49.3 L559.7 50.5 L559.2 51.3 L558.7 52.0 L558.2 52.7 L557.5 53.6 L556.8 54.3 L556.0 54.9 L554.6 55.6 L553.9 55.8 L552.5 55.8 L551.7 55.6 L550.8 54.9 L550.1 54.2 L549.6 53.4 L548.9 52.2 L548.4 51.3 L548.0 50.6 L547.4 49.1 L547.2 48.4 L546.8 47.0 L546.7 46.3 L546.3 44.8 L546.0 43.4 L545.9 42.7 L545.6 41.2 L545.3 39.8 L545.2 39.1 L544.9 37.6 L544.8 36.2 L544.7 34.7 L544.6 33.3 L544.5 32.6 L544.4 31.1 L544.3 29.7 L544.2 28.3 L544.1 26.8 L544.1 25.4 L544.0 23.9 L544.0 22.5 L543.9 21.1 L543.9 19.6 L544.0 18.2 L544.0 16.7 L543.9 15.3 L543.9 13.9 L544.0 12.4 L544.0 11.0 L544.0 9.5 L543.9 8.1 L543.9 6.7 L543.9 5.2M538.8 66.1 L539.5 65.7 L540.2 64.6 L540.7 63.5 L540.9 62.1 L540.9 60.7 L540.7 59.2 L540.4 57.8 L540.2 57.1 L539.6 55.6 L539.1 54.9M572.5 4.5 L572.5 5.9 L572.4 7.4 L572.4 8.8 L572.3 10.3 L572.2 11.7 L572.0 13.1 L571.9 13.9 L571.8 15.3 L571.7 16.7 L571.7 18.2 L571.6 19.6 L571.5 21.1 L571.4 22.5 L571.4 23.9 L571.2 25.4 L571.2 26.1 L571.0 27.5 L570.9 29.0 L570.8 30.4 L570.6 31.9 L570.5 33.3 L570.5 34.3 L570.3 35.5 L570.2 36.9 L570.0 38.3 L569.8 39.8 L569.7 40.6 L569.5 41.9 L569.2 43.4 L569.0 44.2 L568.7 45.5 L568.3 47.0 L568.1 47.7 L567.7 49.1 L567.4 49.9 L566.9 51.3 L566.6 52.0 L566.1 53.0 L565.6 54.2 L565.2 54.9 L564.7 56.2 L564.3 57.1 L564.0 57.9 L563.4 59.2 L563.0 59.9 L562.5 61.0 L562.0 62.1 L561.8 62.8 L561.4 64.3 L561.1 65.6 L560.9 66.4 L560.4 67.9 L560.2 68.6 L559.7 69.9 L559.3 70.7 L558.9 71.8 L558.5 72.9 L558.2 73.7 L557.7 75.1 L557.5 75.8 L557.1 77.2 L556.8 78.4 L556.5 79.4 L556.1 80.8 L555.9 81.5 L555.5 83.0 L555.3 83.7 L554.9 85.1 L554.6 86.2 L554.3 87.3 L553.9 88.7 L553.7 89.5 L553.4 90.9 L553.2 91.7 L552.8 93.1 L552.5 94.5 L552.3 95.2 L552.0 96.7 L551.7 97.7 L551.5 98.8 L551.1 100.3 L551.0 101.0 L550.6 102.4 L550.3 103.7 L550.1 104.6 L549.7 106.0 L549.6 106.7 L549.2 108.2 L548.9 109.5 L548.7 110.3 L548.3 111.8 L548.1 112.5 L547.8 113.9 L547.5 115.4 L547.4 116.1 L547.1 117.5 L546.8 119.0M574.6 4.5 L574.6 5.9 L574.7 7.4 L574.7 8.8 L574.7 10.3 L574.6 11.7 L574.4 13.1 L574.2 14.6 L574.1 16.0 L574.1 17.5 L574.1 18.9 L574.1 20.3 L574.1 21.8 L574.1 23.2 L574.0 23.9 L573.9 25.4 L573.7 26.8 L573.6 28.3 L573.6 29.7 L573.6 31.1 L573.6 32.6 L573.6 34.0 L573.6 35.5 L573.4 36.9 L573.3 37.8 L573.2 39.1 L573.0 40.5 L572.9 41.9 L572.7 43.4 L572.6 44.1 L572.4 45.5 L572.3 47.0 L572.1 48.4 L571.9 49.4 L571.6 50.6 L571.3 52.0 L571.1 52.7 L570.7 54.2 L570.5 55.0 L570.1 56.3 L569.7 57.4 L569.4 58.5 L569.0 59.9 L568.8 60.7 L568.3 62.0 L568.0 62.8 L567.6 63.9 L567.2 65.0 L566.9 66.0 L566.5 67.1 L566.1 68.2 L565.8 69.3 L565.4 70.4 L565.1 71.5 L564.7 72.5 L564.3 73.6 L564.0 74.8 L563.7 75.8 L563.3 77.2 L563.1 77.9 L562.8 79.4 L562.5 80.8 L562.4 81.5 L562.1 83.0 L561.9 84.4 L561.7 85.1 L561.4 86.6 L561.2 88.0 L561.0 88.7 L560.7 90.2 L560.5 91.6 L560.3 92.3 L560.1 93.8 L559.8 95.2 L559.7 95.9 L559.4 97.4 L559.1 98.8 L558.9 99.7 L558.7 101.0 L558.4 102.4 L558.2 103.5 L558.0 104.6 L557.7 106.0 L557.5 107.4 L557.4 108.2 L557.1 109.6 L556.8 111.1 L556.7 111.8 L556.4 113.2 L556.2 114.7 L556.0 115.4 L555.8 116.8 L555.5 118.3 L555.3 119.7M576.8 4.5 L576.9 5.9 L577.0 6.7 L577.1 8.1 L577.2 9.5 L577.2 11.0 L577.1 12.4 L576.9 13.6 L576.8 14.6 L576.6 16.0 L576.6 17.5 L576.7 18.9 L576.9 20.3 L576.9 21.8 L576.9 23.2 L576.8 24.7 L576.7 26.1 L576.5 27.5 L576.4 29.0 L576.5 30.4 L576.7 31.9 L576.8 33.3 L576.9 34.7 L576.8 36.2 L576.7 37.6 L576.5 39.1 L576.2 40.4 L576.1 41.2 L576.0 42.7 L575.8 44.1 L575.7 45.5 L575.7 47.0 L575.6 48.4 L575.5 49.9 L575.5 50.8 L575.5 52.0 L575.5 53.0 L575.6 54.2 L575.7 55.6 L575.7 57.1 L575.5 58.3 L575.4 59.2 L575.2 60.7 L574.9 62.1 L574.7 62.8 L574.1 64.3 L573.8 65.0 L573.3 66.1 L573.0 67.1 L572.6 68.2 L572.3 69.3 L571.9 70.7 L571.7 71.5 L571.4 72.9 L571.2 73.9 L570.9 75.1 L570.6 76.5 L570.5 77.2 L570.2 78.7 L569.9 80.1 L569.7 80.8 L569.5 82.3 L569.2 83.7 L569.0 85.0 L568.9 85.9 L568.6 87.3 L568.4 88.7 L568.3 89.5 L568.0 90.9 L567.7 92.3 L567.6 93.1 L567.3 94.5 L567.0 95.9 L566.9 97.0 L566.7 98.1 L566.5 99.5 L566.2 101.0 L566.1 101.7 L565.9 103.1 L565.7 104.6 L565.4 105.8 L565.2 106.7 L565.0 108.2 L564.7 109.6 L564.6 110.3 L564.3 111.8 L564.1 113.2 L564.0 114.3 L563.8 115.4 L563.7 116.8 L563.6 118.3 L563.5 119.7M580.1 4.5 L580.1 5.9 L580.2 7.4 L580.4 8.8 L580.5 10.3 L580.5 11.7 L580.5 13.1 L580.5 14.6 L580.5 16.0 L580.5 16.7 L580.7 18.2 L580.8 19.6 L580.9 21.1 L581.0 22.5 L581.1 23.9 L581.1 25.4 L581.2 26.8 L581.3 27.5 L581.4 29.0 L581.7 30.4 L581.9 31.9 L582.0 32.6 L582.2 34.0 L582.4 35.5 L582.5 36.9 L582.6 38.3 L582.7 39.1 L582.9 40.5 L583.1 41.9 L583.4 43.3 L583.6 44.1 L584.0 45.5 L584.2 46.3 L584.7 47.7 L584.9 48.4 L585.5 49.9 L585.9 50.6 L586.3 51.3 L587.0 52.3 L587.7 52.9 L589.2 52.9 L589.9 52.2 L590.6 51.3 L591.0 50.6 L591.4 49.9 L591.9 48.4 L592.1 47.7 L592.5 46.3 L592.8 45.2 L593.0 44.1 L593.3 42.7 L593.5 41.9 L593.8 40.5 L594.1 39.1 L594.2 38.3 L594.4 36.9 L594.5 35.5 L594.7 34.0 L594.8 32.6 L594.9 31.9 L595.1 30.4 L595.2 29.0 L595.4 27.5 L595.6 26.1 L595.7 25.4 L595.9 23.9 L596.0 22.5 L596.1 21.1 L596.3 19.6 L596.3 18.2 L596.4 17.5 L596.4 16.0 L596.4 14.6 L596.5 13.1 L596.6 11.7 L596.6 10.3 L596.7 8.8 L596.8 7.4 L596.9 5.9 L597.1 4.7M584.5 4.5 L584.7 5.9 L585.0 6.7 L585.6 8.0 L586.1 8.8 L586.8 9.5 L587.7 10.0 L588.7 9.5 L589.4 8.8 L589.9 8.1 L590.6 6.9 L591.0 5.9 L591.3 4.9" fill="none" stroke="#2a2a2a" stroke-opacity="0.85" stroke-width="0.5"/></g>
<rect x="536.9" y="2.4" width="118.6" height="119.5" fill="none" stroke="#c2c2c2" stroke-width="0.7"/>
<path d="M538.8 121.9 v-2.2 M538.8 2.4 v2.2 M536.9 119.7 h2.2 M655.5 119.7 h-2.2 M546.0 121.9 v-1.3 M546.0 2.4 v1.3 M536.9 112.5 h1.3 M655.5 112.5 h-1.3 M553.2 121.9 v-1.3 M553.2 2.4 v1.3 M536.9 105.3 h1.3 M655.5 105.3 h-1.3 M560.4 121.9 v-1.3 M560.4 2.4 v1.3 M536.9 98.1 h1.3 M655.5 98.1 h-1.3 M567.6 121.9 v-2.2 M567.6 2.4 v2.2 M536.9 90.9 h2.2 M655.5 90.9 h-2.2 M574.8 121.9 v-1.3 M574.8 2.4 v1.3 M536.9 83.7 h1.3 M655.5 83.7 h-1.3 M582.0 121.9 v-1.3 M582.0 2.4 v1.3 M536.9 76.5 h1.3 M655.5 76.5 h-1.3 M589.2 121.9 v-1.3 M589.2 2.4 v1.3 M536.9 69.3 h1.3 M655.5 69.3 h-1.3 M596.3 121.9 v-2.2 M596.3 2.4 v2.2 M536.9 62.1 h2.2 M655.5 62.1 h-2.2 M603.5 121.9 v-1.3 M603.5 2.4 v1.3 M536.9 54.9 h1.3 M655.5 54.9 h-1.3 M610.7 121.9 v-1.3 M610.7 2.4 v1.3 M536.9 47.7 h1.3 M655.5 47.7 h-1.3 M617.9 121.9 v-1.3 M617.9 2.4 v1.3 M536.9 40.5 h1.3 M655.5 40.5 h-1.3 M625.1 121.9 v-2.2 M625.1 2.4 v2.2 M536.9 33.3 h2.2 M655.5 33.3 h-2.2 M632.3 121.9 v-1.3 M632.3 2.4 v1.3 M536.9 26.1 h1.3 M655.5 26.1 h-1.3 M639.5 121.9 v-1.3 M639.5 2.4 v1.3 M536.9 18.9 h1.3 M655.5 18.9 h-1.3 M646.7 121.9 v-1.3 M646.7 2.4 v1.3 M536.9 11.7 h1.3 M655.5 11.7 h-1.3 M653.9 121.9 v-2.2 M653.9 2.4 v2.2 M536.9 4.5 h2.2 M655.5 4.5 h-2.2 " stroke="#888" stroke-width="0.5" fill="none"/>
<text x="538.8" y="133.2" font-size="10.3" text-anchor="middle" fill="#111" >−2</text>
<text x="534.2" y="123.5" font-size="10.3" text-anchor="end" fill="#111" >−2</text>
<text x="567.6" y="133.2" font-size="10.3" text-anchor="middle" fill="#111" >−1</text>
<text x="534.2" y="94.7" font-size="10.3" text-anchor="end" fill="#111" >−1</text>
<text x="596.3" y="133.2" font-size="10.3" text-anchor="middle" fill="#111" >0</text>
<text x="534.2" y="65.9" font-size="10.3" text-anchor="end" fill="#111" >0</text>
<text x="625.1" y="133.2" font-size="10.3" text-anchor="middle" fill="#111" >1</text>
<text x="534.2" y="37.1" font-size="10.3" text-anchor="end" fill="#111" >1</text>
<text x="653.9" y="133.2" font-size="10.3" text-anchor="middle" fill="#111" >2</text>
<text x="534.2" y="8.3" font-size="10.3" text-anchor="end" fill="#111" >2</text>
<text x="596.4" y="151.9" font-size="14" text-anchor="middle" fill="#111" >x</text>
<text transform="translate(516.6,62.1) rotate(-90)" font-size="15" text-anchor="middle" fill="#111">t</text>
<rect x="662.6" y="105.30" width="6.6" height="10.90" fill="#7a1e8c"/><rect x="662.6" y="94.60" width="6.6" height="10.90" fill="#4254d4"/><rect x="662.6" y="83.90" width="6.6" height="10.90" fill="#4896ba"/><rect x="662.6" y="73.20" width="6.6" height="10.90" fill="#7aba7c"/><rect x="662.6" y="62.50" width="6.6" height="10.90" fill="#bcbe4c"/><rect x="662.6" y="51.80" width="6.6" height="10.90" fill="#e2aa3a"/><rect x="662.6" y="41.10" width="6.6" height="10.90" fill="#e76a2c"/><rect x="662.6" y="30.40" width="6.6" height="10.90" fill="#dc2824"/>
<line x1="667.2" y1="105.3" x2="669.2" y2="105.3" stroke="#444" stroke-width="0.5"/>
<text x="672.0" y="109.1" font-size="10.3" text-anchor="start" fill="#111" >4</text>
<line x1="667.2" y1="83.9" x2="669.2" y2="83.9" stroke="#444" stroke-width="0.5"/>
<text x="672.0" y="87.7" font-size="10.3" text-anchor="start" fill="#111" >8</text>
<line x1="667.2" y1="62.5" x2="669.2" y2="62.5" stroke="#444" stroke-width="0.5"/>
<text x="672.0" y="66.3" font-size="10.3" text-anchor="start" fill="#111" >12</text>
<line x1="667.2" y1="41.1" x2="669.2" y2="41.1" stroke="#444" stroke-width="0.5"/>
<text x="672.0" y="44.9" font-size="10.3" text-anchor="start" fill="#111" >16</text>
<g><rect x="174.5" y="228.90" width="111.3" height="2.30" fill="url(#d0)"/><rect x="174.5" y="230.90" width="111.3" height="2.30" fill="url(#d1)"/><rect x="174.5" y="232.89" width="111.3" height="2.30" fill="url(#d2)"/><rect x="174.5" y="234.89" width="111.3" height="2.30" fill="url(#d3)"/><rect x="174.5" y="236.89" width="111.3" height="2.30" fill="url(#d4)"/><rect x="174.5" y="238.88" width="111.3" height="2.30" fill="url(#d5)"/><rect x="174.5" y="240.88" width="111.3" height="2.30" fill="url(#d6)"/><rect x="174.5" y="242.87" width="111.3" height="2.30" fill="url(#d7)"/><rect x="174.5" y="244.87" width="111.3" height="2.30" fill="url(#d8)"/><rect x="174.5" y="246.87" width="111.3" height="2.30" fill="url(#d9)"/><rect x="174.5" y="248.86" width="111.3" height="2.30" fill="url(#d10)"/><rect x="174.5" y="250.86" width="111.3" height="2.30" fill="url(#d11)"/><rect x="174.5" y="252.86" width="111.3" height="2.30" fill="url(#d12)"/><rect x="174.5" y="254.85" width="111.3" height="2.30" fill="url(#d13)"/><rect x="174.5" y="256.85" width="111.3" height="2.30" fill="url(#d14)"/><rect x="174.5" y="258.85" width="111.3" height="2.30" fill="url(#d15)"/><rect x="174.5" y="260.84" width="111.3" height="2.30" fill="url(#d16)"/><rect x="174.5" y="262.84" width="111.3" height="2.30" fill="url(#d17)"/><rect x="174.5" y="264.83" width="111.3" height="2.30" fill="url(#d18)"/><rect x="174.5" y="266.83" width="111.3" height="2.30" fill="url(#d19)"/><rect x="174.5" y="268.83" width="111.3" height="2.30" fill="url(#d20)"/><rect x="174.5" y="270.82" width="111.3" height="2.30" fill="url(#d21)"/><rect x="174.5" y="272.82" width="111.3" height="2.30" fill="url(#d22)"/><rect x="174.5" y="274.82" width="111.3" height="2.30" fill="url(#d23)"/><rect x="174.5" y="276.81" width="111.3" height="2.30" fill="url(#d24)"/><rect x="174.5" y="278.81" width="111.3" height="2.30" fill="url(#d25)"/><rect x="174.5" y="280.81" width="111.3" height="2.30" fill="url(#d26)"/><rect x="174.5" y="282.80" width="111.3" height="2.30" fill="url(#d27)"/><rect x="174.5" y="284.80" width="111.3" height="2.30" fill="url(#d28)"/><rect x="174.5" y="286.79" width="111.3" height="2.30" fill="url(#d29)"/><rect x="174.5" y="288.79" width="111.3" height="2.30" fill="url(#d30)"/><rect x="174.5" y="290.79" width="111.3" height="2.30" fill="url(#d31)"/><rect x="174.5" y="292.78" width="111.3" height="2.30" fill="url(#d32)"/><rect x="174.5" y="294.78" width="111.3" height="2.30" fill="url(#d33)"/><rect x="174.5" y="296.78" width="111.3" height="2.30" fill="url(#d34)"/><rect x="174.5" y="298.77" width="111.3" height="2.30" fill="url(#d35)"/><rect x="174.5" y="300.77" width="111.3" height="2.30" fill="url(#d36)"/><rect x="174.5" y="302.77" width="111.3" height="2.30" fill="url(#d37)"/><rect x="174.5" y="304.76" width="111.3" height="2.30" fill="url(#d38)"/><rect x="174.5" y="306.76" width="111.3" height="2.30" fill="url(#d39)"/><rect x="174.5" y="308.75" width="111.3" height="2.30" fill="url(#d40)"/><rect x="174.5" y="310.75" width="111.3" height="2.30" fill="url(#d41)"/><rect x="174.5" y="312.75" width="111.3" height="2.30" fill="url(#d42)"/><rect x="174.5" y="314.74" width="111.3" height="2.30" fill="url(#d43)"/><rect x="174.5" y="316.74" width="111.3" height="2.30" fill="url(#d44)"/><rect x="174.5" y="318.74" width="111.3" height="2.30" fill="url(#d45)"/><rect x="174.5" y="320.73" width="111.3" height="2.30" fill="url(#d46)"/><rect x="174.5" y="322.73" width="111.3" height="2.30" fill="url(#d47)"/><rect x="174.5" y="324.73" width="111.3" height="2.30" fill="url(#d48)"/><rect x="174.5" y="326.72" width="111.3" height="2.30" fill="url(#d49)"/><rect x="174.5" y="328.72" width="111.3" height="2.30" fill="url(#d50)"/><rect x="174.5" y="330.71" width="111.3" height="2.30" fill="url(#d51)"/><rect x="174.5" y="332.71" width="111.3" height="2.30" fill="url(#d52)"/><rect x="174.5" y="334.71" width="111.3" height="2.30" fill="url(#d53)"/><rect x="174.5" y="336.70" width="111.3" height="2.30" fill="url(#d54)"/></g>
<rect x="172.8" y="226.5" width="114.6" height="115.0" fill="none" stroke="#c2c2c2" stroke-width="0.7"/>
<path d="M174.5 341.5 v-2.2 M174.5 226.5 v2.2 M172.8 338.7 h2.2 M287.4 338.7 h-2.2 M181.5 341.5 v-1.3 M181.5 226.5 v1.3 M172.8 331.8 h1.3 M287.4 331.8 h-1.3 M188.4 341.5 v-1.3 M188.4 226.5 v1.3 M172.8 325.0 h1.3 M287.4 325.0 h-1.3 M195.4 341.5 v-1.3 M195.4 226.5 v1.3 M172.8 318.1 h1.3 M287.4 318.1 h-1.3 M202.3 341.5 v-2.2 M202.3 226.5 v2.2 M172.8 311.2 h2.2 M287.4 311.2 h-2.2 M209.3 341.5 v-1.3 M209.3 226.5 v1.3 M172.8 304.4 h1.3 M287.4 304.4 h-1.3 M216.2 341.5 v-1.3 M216.2 226.5 v1.3 M172.8 297.5 h1.3 M287.4 297.5 h-1.3 M223.2 341.5 v-1.3 M223.2 226.5 v1.3 M172.8 290.7 h1.3 M287.4 290.7 h-1.3 M230.2 341.5 v-2.2 M230.2 226.5 v2.2 M172.8 283.8 h2.2 M287.4 283.8 h-2.2 M237.1 341.5 v-1.3 M237.1 226.5 v1.3 M172.8 276.9 h1.3 M287.4 276.9 h-1.3 M244.1 341.5 v-1.3 M244.1 226.5 v1.3 M172.8 270.1 h1.3 M287.4 270.1 h-1.3 M251.0 341.5 v-1.3 M251.0 226.5 v1.3 M172.8 263.2 h1.3 M287.4 263.2 h-1.3 M258.0 341.5 v-2.2 M258.0 226.5 v2.2 M172.8 256.4 h2.2 M287.4 256.4 h-2.2 M264.9 341.5 v-1.3 M264.9 226.5 v1.3 M172.8 249.5 h1.3 M287.4 249.5 h-1.3 M271.9 341.5 v-1.3 M271.9 226.5 v1.3 M172.8 242.6 h1.3 M287.4 242.6 h-1.3 M278.8 341.5 v-1.3 M278.8 226.5 v1.3 M172.8 235.8 h1.3 M287.4 235.8 h-1.3 M285.8 341.5 v-2.2 M285.8 226.5 v2.2 M172.8 228.9 h2.2 M287.4 228.9 h-2.2 " stroke="#888" stroke-width="0.5" fill="none"/>
<text x="174.5" y="352.0" font-size="10.3" text-anchor="middle" fill="#111" >−2</text>
<text x="170.8" y="342.5" font-size="10.3" text-anchor="end" fill="#111" >−2</text>
<text x="202.3" y="352.0" font-size="10.3" text-anchor="middle" fill="#111" >−1</text>
<text x="170.8" y="315.1" font-size="10.3" text-anchor="end" fill="#111" >−1</text>
<text x="230.2" y="352.0" font-size="10.3" text-anchor="middle" fill="#111" >0</text>
<text x="170.8" y="287.6" font-size="10.3" text-anchor="end" fill="#111" >0</text>
<text x="258.0" y="352.0" font-size="10.3" text-anchor="middle" fill="#111" >1</text>
<text x="170.8" y="260.2" font-size="10.3" text-anchor="end" fill="#111" >1</text>
<text x="285.8" y="352.0" font-size="10.3" text-anchor="middle" fill="#111" >2</text>
<text x="170.8" y="232.7" font-size="10.3" text-anchor="end" fill="#111" >2</text>
<text x="229.9" y="368.9" font-size="12.6" text-anchor="middle" fill="#111" >x</text>
<text transform="translate(154.4,283.6) rotate(-90)" font-size="15" text-anchor="middle" fill="#111">t</text>
<rect x="293.7" y="253.9" width="5.5" height="82.2" fill="url(#rb)"/>
<text x="302.6" y="340.5" font-size="10.2" text-anchor="start" fill="#111" >2.5</text>
<text x="302.6" y="325.6" font-size="10.2" text-anchor="start" fill="#111" >5.0</text>
<text x="302.6" y="310.7" font-size="10.2" text-anchor="start" fill="#111" >7.5</text>
<text x="302.6" y="295.9" font-size="10.2" text-anchor="start" fill="#111" >10.0</text>
<text x="302.6" y="281.0" font-size="10.2" text-anchor="start" fill="#111" >12.5</text>
<text x="302.6" y="266.1" font-size="10.2" text-anchor="start" fill="#111" >15.0</text>
<g fill="none" stroke="#c9c9c9" stroke-width="0.6"><circle cx="446.8" cy="287.2" r="20.5"/><circle cx="446.8" cy="287.2" r="41.0"/><circle cx="446.8" cy="287.2" r="61.5"/><circle cx="446.8" cy="287.2" r="81.9"/></g>
<g fill="none" stroke-width="0.9"><path d="M518.49 287.20 A71.69 71.69 0 0 0 517.78 277.13" stroke="#c7ba47"/><path d="M517.88 277.84 A71.69 71.69 0 0 0 515.86 267.95" stroke="#c9ba46"/><path d="M516.05 268.64 A71.69 71.69 0 0 0 512.76 259.10" stroke="#cab945"/><path d="M513.04 259.76 A71.69 71.69 0 0 0 508.53 250.73" stroke="#ccb944"/><path d="M508.89 251.35 A71.69 71.69 0 0 0 503.24 242.99" stroke="#ceb843"/><path d="M503.68 243.56 A71.69 71.69 0 0 0 496.99 236.00" stroke="#d0b742"/><path d="M497.50 236.50 A71.69 71.69 0 0 0 489.87 229.89" stroke="#d2b741"/><path d="M490.44 230.32 A71.69 71.69 0 0 0 482.02 224.76" stroke="#d4b640"/><path d="M482.65 225.11 A71.69 71.69 0 0 0 473.57 220.69" stroke="#d5b53f"/><path d="M474.24 220.96 A71.69 71.69 0 0 0 464.66 217.77" stroke="#d6b43f"/><path d="M465.36 217.95 A71.69 71.69 0 0 0 455.45 216.03" stroke="#d8b33e"/><path d="M456.16 216.12 A71.69 71.69 0 0 0 446.08 215.51" stroke="#d9b23e"/><path d="M446.80 215.51 A71.69 71.69 0 0 0 436.73 216.22" stroke="#dab13d"/><path d="M437.44 216.12 A71.69 71.69 0 0 0 427.55 218.14" stroke="#dbb03d"/><path d="M428.24 217.95 A71.69 71.69 0 0 0 418.70 221.24" stroke="#dcaf3d"/><path d="M419.36 220.96 A71.69 71.69 0 0 0 410.33 225.47" stroke="#ddae3c"/><path d="M410.95 225.11 A71.69 71.69 0 0 0 402.59 230.76" stroke="#dead3c"/><path d="M403.16 230.32 A71.69 71.69 0 0 0 395.60 237.01" stroke="#e0ac3b"/><path d="M396.10 236.50 A71.69 71.69 0 0 0 389.49 244.13" stroke="#e1ab3b"/><path d="M389.92 243.56 A71.69 71.69 0 0 0 384.36 251.98" stroke="#e2aa3a"/><path d="M384.71 251.35 A71.69 71.69 0 0 0 380.29 260.43" stroke="#e2a839"/><path d="M380.56 259.76 A71.69 71.69 0 0 0 377.37 269.34" stroke="#e3a639"/><path d="M377.55 268.64 A71.69 71.69 0 0 0 375.63 278.55" stroke="#e3a338"/><path d="M375.72 277.84 A71.69 71.69 0 0 0 375.11 287.92" stroke="#e4a137"/><path d="M375.11 287.20 A71.69 71.69 0 0 0 375.82 297.27" stroke="#e49e37"/><path d="M375.72 296.56 A71.69 71.69 0 0 0 377.74 306.45" stroke="#e59a35"/><path d="M377.55 305.76 A71.69 71.69 0 0 0 380.84 315.30" stroke="#e69634"/><path d="M380.56 314.64 A71.69 71.69 0 0 0 385.07 323.67" stroke="#e69233"/><path d="M384.71 323.05 A71.69 71.69 0 0 0 390.36 331.41" stroke="#e78e32"/><path d="M389.92 330.84 A71.69 71.69 0 0 0 396.61 338.40" stroke="#e78931"/><path d="M396.10 337.90 A71.69 71.69 0 0 0 403.73 344.51" stroke="#e78430"/><path d="M403.16 344.08 A71.69 71.69 0 0 0 411.58 349.64" stroke="#e77f30"/><path d="M410.95 349.29 A71.69 71.69 0 0 0 420.03 353.71" stroke="#e77a2f"/><path d="M419.36 353.44 A71.69 71.69 0 0 0 428.94 356.63" stroke="#e7752e"/><path d="M428.24 356.45 A71.69 71.69 0 0 0 438.15 358.37" stroke="#e7702d"/><path d="M437.44 358.28 A71.69 71.69 0 0 0 447.52 358.89" stroke="#e76b2c"/><path d="M446.80 358.89 A71.69 71.69 0 0 0 456.87 358.18" stroke="#e6662b"/><path d="M456.16 358.28 A71.69 71.69 0 0 0 466.05 356.26" stroke="#e6602a"/><path d="M465.36 356.45 A71.69 71.69 0 0 0 474.90 353.16" stroke="#e55b2a"/><path d="M474.24 353.44 A71.69 71.69 0 0 0 483.27 348.93" stroke="#e45629"/><path d="M482.65 349.29 A71.69 71.69 0 0 0 491.01 343.64" stroke="#e45128"/><path d="M490.44 344.08 A71.69 71.69 0 0 0 498.00 337.39" stroke="#e34b27"/><path d="M497.50 337.90 A71.69 71.69 0 0 0 504.11 330.27" stroke="#e24626"/><path d="M503.68 330.84 A71.69 71.69 0 0 0 509.24 322.42" stroke="#e14126"/><path d="M508.89 323.05 A71.69 71.69 0 0 0 513.31 313.97" stroke="#e03c25"/><path d="M513.04 314.64 A71.69 71.69 0 0 0 516.23 305.06" stroke="#df3725"/><path d="M516.05 305.76 A71.69 71.69 0 0 0 517.97 295.85" stroke="#de3224"/><path d="M517.88 296.56 A71.69 71.69 0 0 0 518.49 286.48" stroke="#dd2d23"/></g>
<path d="M367.1 287.2 v-1.3 M446.8 366.9 h1.3 M372.8 287.2 v-1.3 M446.8 361.2 h1.3 M378.5 287.2 v-1.3 M446.8 355.5 h1.3 M384.2 287.2 v-1.3 M446.8 349.8 h1.3 M389.9 287.2 v-2.3 M446.8 344.1 h2.3 M395.6 287.2 v-1.3 M446.8 338.4 h1.3 M401.3 287.2 v-1.3 M446.8 332.7 h1.3 M407.0 287.2 v-1.3 M446.8 327.0 h1.3 M412.7 287.2 v-1.3 M446.8 321.3 h1.3 M418.4 287.2 v-2.3 M446.8 315.6 h2.3 M424.0 287.2 v-1.3 M446.8 310.0 h1.3 M429.7 287.2 v-1.3 M446.8 304.3 h1.3 M435.4 287.2 v-1.3 M446.8 298.6 h1.3 M441.1 287.2 v-1.3 M446.8 292.9 h1.3 M452.5 287.2 v-1.3 M446.8 281.5 h1.3 M458.2 287.2 v-1.3 M446.8 275.8 h1.3 M463.9 287.2 v-1.3 M446.8 270.1 h1.3 M469.6 287.2 v-1.3 M446.8 264.4 h1.3 M475.2 287.2 v-2.3 M446.8 258.8 h2.3 M480.9 287.2 v-1.3 M446.8 253.1 h1.3 M486.6 287.2 v-1.3 M446.8 247.4 h1.3 M492.3 287.2 v-1.3 M446.8 241.7 h1.3 M498.0 287.2 v-1.3 M446.8 236.0 h1.3 M503.7 287.2 v-2.3 M446.8 230.3 h2.3 M509.4 287.2 v-1.3 M446.8 224.6 h1.3 M515.1 287.2 v-1.3 M446.8 218.9 h1.3 M520.8 287.2 v-1.3 M446.8 213.2 h1.3 M526.5 287.2 v-1.3 M446.8 207.5 h1.3 " stroke="#6a6a6a" stroke-width="0.6" fill="none"/>
<path d="M363.3 287.2 H531.2 M446.8 203.2 V370.2 " stroke="#606060" stroke-width="1.55" fill="none"/>
<text x="389.9" y="300.4" font-size="11.8" text-anchor="middle" fill="#111" >−10</text>
<text x="444.3" y="348.3" font-size="11.8" text-anchor="end" fill="#111" >−10</text>
<text x="418.4" y="300.4" font-size="11.8" text-anchor="middle" fill="#111" >−5</text>
<text x="444.3" y="319.8" font-size="11.8" text-anchor="end" fill="#111" >−5</text>
<text x="475.2" y="300.4" font-size="11.8" text-anchor="middle" fill="#111" >5</text>
<text x="444.3" y="262.9" font-size="11.8" text-anchor="end" fill="#111" >5</text>
<text x="503.7" y="300.4" font-size="11.8" text-anchor="middle" fill="#111" >10</text>
<text x="444.3" y="234.5" font-size="11.8" text-anchor="end" fill="#111" >10</text>
<text x="540.0" y="293.0" font-size="16" text-anchor="middle" fill="#111" >x</text>
<text x="446.8" y="196.0" font-size="16" text-anchor="middle" fill="#111" >t</text>
<g><path d="M37.5 116.7 L82.2 70.3 M31.8 95.9 L111.9 125.0 M82.2 70.3 L82.3 42.8 M31.8 95.9 L28.3 66.7 M56.9 124.3 L99.1 75.4 M43.5 84.9 L120.9 111.3 M99.1 75.4 L100.3 47.5 M43.5 84.9 L41.0 56.4 M77.4 132.4 L116.8 80.7 M54.3 74.9 L129.0 98.9 M116.8 80.7 L119.2 52.5 M54.3 74.9 L52.6 47.1 M17.0 103.9 L64.6 60.4 L137.6 81.9 M15.3 93.5 L64.3 51.0 L138.9 71.9 M13.6 82.6 L64.0 41.1 L140.3 61.5 " fill="none" stroke="#c4c4c4" stroke-width="0.5"/><path d="M17.8 109.0 L101.0 141.6 L136.9 86.8 L64.8 65.1 Z M17.8 109.0 L13.0 79.1 L63.9 38.0 L64.8 65.1 M63.9 38.0 L140.8 58.1 L136.9 86.8 " fill="none" stroke="#9a9a9a" stroke-width="0.55"/><path d="M19.2 109.6 L21.4 107.5 M101.9 140.3 L98.3 138.9 M22.8 111.0 L24.0 109.8 M104.0 137.1 L102.0 136.3 M26.4 112.4 L27.6 111.2 M106.0 134.0 L104.0 133.2 M30.0 113.8 L31.2 112.6 M108.0 130.9 L106.0 130.2 M33.7 115.3 L34.9 114.1 M110.0 127.9 L108.0 127.2 M37.5 116.7 L39.6 114.6 M111.9 125.0 L108.5 123.7 M41.3 118.2 L42.4 117.0 M113.8 122.1 L111.8 121.4 M45.1 119.7 L46.2 118.5 M115.6 119.3 L113.7 118.6 M49.0 121.2 L50.1 120.0 M117.4 116.6 L115.5 115.9 M52.9 122.8 L54.0 121.5 M119.2 113.9 L117.3 113.2 M56.9 124.3 L58.8 122.0 M120.9 111.3 L117.6 110.1 M60.9 125.9 L62.0 124.6 M122.6 108.7 L120.7 108.1 M64.9 127.5 L66.0 126.2 M124.2 106.1 L122.4 105.5 M69.0 129.1 L70.1 127.8 M125.8 103.7 L124.0 103.1 M73.2 130.7 L74.3 129.4 M127.4 101.2 L125.6 100.7 M77.4 132.4 L79.2 129.9 M129.0 98.9 L125.8 97.8 M81.7 134.0 L82.7 132.6 M130.5 96.5 L128.7 96.0 M86.0 135.7 L87.0 134.3 M132.0 94.2 L130.2 93.7 M90.3 137.4 L91.3 136.0 M133.5 92.0 L131.7 91.4 M94.7 139.2 L95.7 137.7 M134.9 89.8 L133.2 89.3 M99.2 140.9 L100.9 138.3 M136.3 87.6 L133.3 86.7 M17.6 107.9 L18.8 106.8 M17.3 105.9 L18.5 104.8 M17.0 103.9 L19.2 101.9 M16.6 101.9 L17.9 100.7 M16.3 99.8 L17.6 98.7 M16.0 97.7 L17.3 96.6 M15.7 95.6 L16.9 94.5 M15.3 93.5 L17.6 91.6 M15.0 91.4 L16.3 90.3 M14.6 89.2 L15.9 88.1 M14.3 87.0 L15.6 85.9 M13.9 84.8 L15.3 83.7 M13.6 82.6 L15.9 80.7 M13.2 80.3 L14.6 79.3 " fill="none" stroke="#777" stroke-width="0.45"/><path d="M19.1 107.7 L99.8 139.1 M99.8 139.1 L135.0 86.2 M19.1 107.7 L14.5 77.8" fill="none" stroke="#b0b0b0" stroke-width="0.4"/><g stroke-linejoin="round"><path d="M70.0 63.8 L72.1 66.1 L73.2 65.0 L71.2 62.7 Z" fill="#4c72f3" stroke="#4c72f3" stroke-width="0.5"/><path d="M71.2 62.7 L73.2 65.0 M72.1 66.1 L73.2 65.0 " class="m"/><path d="M72.1 66.1 L74.2 67.9 L75.3 66.8 L73.2 65.0 Z" fill="#5652e7" stroke="#5652e7" stroke-width="0.5"/><path d="M73.2 65.0 L75.3 66.8 M72.1 66.1 L73.2 65.0 " class="m"/><path d="M67.9 61.2 L70.0 63.8 L71.2 62.7 L69.1 60.0 Z" fill="#4e9ae5" stroke="#4e9ae5" stroke-width="0.5"/><path d="M69.1 60.0 L71.2 62.7 M67.9 61.2 L69.1 60.0 " class="m"/><path d="M74.2 67.9 L76.2 69.5 L77.3 68.4 L75.3 66.8 Z" fill="#6239d2" stroke="#6239d2" stroke-width="0.5"/><path d="M75.3 66.8 L77.3 68.4 M76.2 69.5 L77.3 68.4 " class="m"/><path d="M65.8 58.4 L67.9 61.2 L69.1 60.0 L67.0 57.2 Z" fill="#5dbac5" stroke="#5dbac5" stroke-width="0.5"/><path d="M67.0 57.2 L69.1 60.0 M67.9 61.2 L69.1 60.0 " class="m"/><path d="M63.7 56.2 L65.8 58.4 L67.0 57.2 L64.9 55.0 Z" fill="#71c397" stroke="#71c397" stroke-width="0.5"/><path d="M64.9 55.0 L67.0 57.2 M63.7 56.2 L64.9 55.0 " class="m"/><path d="M76.2 69.5 L78.3 71.0 L79.4 69.9 L77.3 68.4 Z" fill="#772db8" stroke="#772db8" stroke-width="0.5"/><path d="M77.3 68.4 L79.4 69.9 M76.2 69.5 L77.3 68.4 " class="m"/><path d="M78.3 71.0 L80.3 72.1 L81.5 71.0 L79.4 69.9 Z" fill="#8725a8" stroke="#8725a8" stroke-width="0.5"/><path d="M79.4 69.9 L81.5 71.0 M80.3 72.1 L81.5 71.0 " class="m"/><path d="M68.8 65.0 L70.9 67.2 L72.1 66.1 L70.0 63.8 Z" fill="#4c72f3" stroke="#4c72f3" stroke-width="0.5"/><path d="M68.8 65.0 L70.9 67.2 M70.9 67.2 L72.1 66.1 " class="m"/><path d="M70.9 67.2 L73.0 69.0 L74.2 67.9 L72.1 66.1 Z" fill="#5653e8" stroke="#5653e8" stroke-width="0.5"/><path d="M70.9 67.2 L73.0 69.0 M70.9 67.2 L72.1 66.1 " class="m"/><path d="M66.7 62.4 L68.8 65.0 L70.0 63.8 L67.9 61.2 Z" fill="#4e99e6" stroke="#4e99e6" stroke-width="0.5"/><path d="M66.7 62.4 L68.8 65.0 M66.7 62.4 L67.9 61.2 " class="m"/><path d="M73.0 69.0 L75.1 70.5 L76.2 69.5 L74.2 67.9 Z" fill="#613bd3" stroke="#613bd3" stroke-width="0.5"/><path d="M73.0 69.0 L75.1 70.5 M75.1 70.5 L76.2 69.5 " class="m"/><path d="M80.3 72.1 L82.4 72.2 L83.5 71.2 L81.5 71.0 Z" fill="#a32dcb" stroke="#a32dcb" stroke-width="0.5"/><path d="M81.5 71.0 L83.5 71.2 M80.3 72.1 L81.5 71.0 " class="m"/><path d="M64.6 59.7 L66.7 62.4 L67.9 61.2 L65.8 58.4 Z" fill="#5cb9c7" stroke="#5cb9c7" stroke-width="0.5"/><path d="M64.6 59.7 L66.7 62.4 M66.7 62.4 L67.9 61.2 " class="m"/><path d="M62.5 57.5 L64.6 59.7 L65.8 58.4 L63.7 56.2 Z" fill="#6fc39b" stroke="#6fc39b" stroke-width="0.5"/><path d="M62.5 57.5 L64.6 59.7 M62.5 57.5 L63.7 56.2 " class="m"/><path d="M75.1 70.5 L77.1 71.8 L78.3 71.0 L76.2 69.5 Z" fill="#732fbc" stroke="#732fbc" stroke-width="0.5"/><path d="M75.1 70.5 L77.1 71.8 M75.1 70.5 L76.2 69.5 " class="m"/><path d="M77.1 71.8 L79.2 72.8 L80.3 72.1 L78.3 71.0 Z" fill="#8028ac" stroke="#8028ac" stroke-width="0.5"/><path d="M77.1 71.8 L79.2 72.8 M79.2 72.8 L80.3 72.1 " class="m"/><path d="M67.6 66.1 L69.7 68.2 L70.9 67.2 L68.8 65.0 Z" fill="#4c73f3" stroke="#4c73f3" stroke-width="0.5"/><path d="M68.8 65.0 L70.9 67.2 M69.7 68.2 L70.9 67.2 " class="m"/><path d="M65.5 63.6 L67.6 66.1 L68.8 65.0 L66.7 62.4 Z" fill="#4d98e6" stroke="#4d98e6" stroke-width="0.5"/><path d="M66.7 62.4 L68.8 65.0 M65.5 63.6 L66.7 62.4 " class="m"/><path d="M69.7 68.2 L71.8 69.9 L73.0 69.0 L70.9 67.2 Z" fill="#5455ea" stroke="#5455ea" stroke-width="0.5"/><path d="M70.9 67.2 L73.0 69.0 M69.7 68.2 L70.9 67.2 " class="m"/><path d="M63.4 61.0 L65.5 63.6 L66.7 62.4 L64.6 59.7 Z" fill="#5bb8cb" stroke="#5bb8cb" stroke-width="0.5"/><path d="M64.6 59.7 L66.7 62.4 M65.5 63.6 L66.7 62.4 " class="m"/><path d="M61.3 58.8 L63.4 61.0 L64.6 59.7 L62.5 57.5 Z" fill="#6cc2a0" stroke="#6cc2a0" stroke-width="0.5"/><path d="M62.5 57.5 L64.6 59.7 M61.3 58.8 L62.5 57.5 " class="m"/><path d="M82.4 72.2 L84.6 70.5 L85.7 69.8 L83.5 71.2 Z" fill="#8243fc" stroke="#8243fc" stroke-width="0.5"/><path d="M83.5 71.2 L85.7 69.8 M84.6 70.5 L85.7 69.8 " class="m"/><path d="M71.8 69.9 L73.9 71.3 L75.1 70.5 L73.0 69.0 Z" fill="#5f3fd7" stroke="#5f3fd7" stroke-width="0.5"/><path d="M73.0 69.0 L75.1 70.5 M73.9 71.3 L75.1 70.5 " class="m"/><path d="M79.2 72.8 L81.3 72.8 L82.4 72.2 L80.3 72.1 Z" fill="#9430cc" stroke="#9430cc" stroke-width="0.5"/><path d="M79.2 72.8 L81.3 72.8 M79.2 72.8 L80.3 72.1 " class="m"/><path d="M73.9 71.3 L76.0 72.6 L77.1 71.8 L75.1 70.5 Z" fill="#6c33c5" stroke="#6c33c5" stroke-width="0.5"/><path d="M75.1 70.5 L77.1 71.8 M73.9 71.3 L75.1 70.5 " class="m"/><path d="M76.0 72.6 L78.1 73.4 L79.2 72.8 L77.1 71.8 Z" fill="#782ebb" stroke="#782ebb" stroke-width="0.5"/><path d="M77.1 71.8 L79.2 72.8 M78.1 73.4 L79.2 72.8 " class="m"/><path d="M66.4 67.2 L68.5 69.3 L69.7 68.2 L67.6 66.1 Z" fill="#4c74f2" stroke="#4c74f2" stroke-width="0.5"/><path d="M66.4 67.2 L68.5 69.3 M68.5 69.3 L69.7 68.2 " class="m"/><path d="M64.3 64.8 L66.4 67.2 L67.6 66.1 L65.5 63.6 Z" fill="#4d97e7" stroke="#4d97e7" stroke-width="0.5"/><path d="M64.3 64.8 L66.4 67.2 M64.3 64.8 L65.5 63.6 " class="m"/><path d="M62.2 62.3 L64.3 64.8 L65.5 63.6 L63.4 61.0 Z" fill="#59b7ce" stroke="#59b7ce" stroke-width="0.5"/><path d="M62.2 62.3 L64.3 64.8 M64.3 64.8 L65.5 63.6 " class="m"/><path d="M68.5 69.3 L70.6 70.9 L71.8 69.9 L69.7 68.2 Z" fill="#5358ed" stroke="#5358ed" stroke-width="0.5"/><path d="M68.5 69.3 L70.6 70.9 M68.5 69.3 L69.7 68.2 " class="m"/><path d="M60.1 60.2 L62.2 62.3 L63.4 61.0 L61.3 58.8 Z" fill="#6ac1a5" stroke="#6ac1a5" stroke-width="0.5"/><path d="M60.1 60.2 L62.2 62.3 M60.1 60.2 L61.3 58.8 " class="m"/><path d="M70.6 70.9 L72.7 72.2 L73.9 71.3 L71.8 69.9 Z" fill="#5d45dc" stroke="#5d45dc" stroke-width="0.5"/><path d="M70.6 70.9 L72.7 72.2 M72.7 72.2 L73.9 71.3 " class="m"/><path d="M81.3 72.8 L83.4 71.0 L84.6 70.5 L82.4 72.2 Z" fill="#7349ff" stroke="#7349ff" stroke-width="0.5"/><path d="M81.3 72.8 L83.4 71.0 M83.4 71.0 L84.6 70.5 " class="m"/><path d="M78.1 73.4 L80.2 73.3 L81.3 72.8 L79.2 72.8 Z" fill="#8438de" stroke="#8438de" stroke-width="0.5"/><path d="M79.2 72.8 L81.3 72.8 M78.1 73.4 L79.2 72.8 " class="m"/><path d="M72.7 72.2 L74.8 73.3 L76.0 72.6 L73.9 71.3 Z" fill="#6537cf" stroke="#6537cf" stroke-width="0.5"/><path d="M72.7 72.2 L74.8 73.3 M72.7 72.2 L73.9 71.3 " class="m"/><path d="M63.1 66.1 L65.2 68.4 L66.4 67.2 L64.3 64.8 Z" fill="#4d96e7" stroke="#4d96e7" stroke-width="0.5"/><path d="M64.3 64.8 L66.4 67.2 M63.1 66.1 L64.3 64.8 " class="m"/><path d="M65.2 68.4 L67.3 70.3 L68.5 69.3 L66.4 67.2 Z" fill="#4c76f2" stroke="#4c76f2" stroke-width="0.5"/><path d="M66.4 67.2 L68.5 69.3 M67.3 70.3 L68.5 69.3 " class="m"/><path d="M58.8 61.5 L60.9 63.6 L62.2 62.3 L60.1 60.2 Z" fill="#67c1aa" stroke="#67c1aa" stroke-width="0.5"/><path d="M60.1 60.2 L62.2 62.3 M58.8 61.5 L60.1 60.2 " class="m"/><path d="M60.9 63.6 L63.1 66.1 L64.3 64.8 L62.2 62.3 Z" fill="#58b6d1" stroke="#58b6d1" stroke-width="0.5"/><path d="M62.2 62.3 L64.3 64.8 M63.1 66.1 L64.3 64.8 " class="m"/><path d="M74.8 73.3 L76.9 74.0 L78.1 73.4 L76.0 72.6 Z" fill="#7136d0" stroke="#7136d0" stroke-width="0.5"/><path d="M74.8 73.3 L76.9 74.0 M76.9 74.0 L78.1 73.4 " class="m"/><path d="M67.3 70.3 L69.4 71.9 L70.6 70.9 L68.5 69.3 Z" fill="#515cf0" stroke="#515cf0" stroke-width="0.5"/><path d="M68.5 69.3 L70.6 70.9 M67.3 70.3 L68.5 69.3 " class="m"/><path d="M84.6 70.5 L86.8 65.9 L87.9 65.2 L85.7 69.8 Z" fill="#5595ff" stroke="#5595ff" stroke-width="0.5"/><path d="M85.7 69.8 L87.9 65.2 M84.6 70.5 L85.7 69.8 " class="m"/><path d="M69.4 71.9 L71.5 73.2 L72.7 72.2 L70.6 70.9 Z" fill="#5a4ae0" stroke="#5a4ae0" stroke-width="0.5"/><path d="M70.6 70.9 L72.7 72.2 M71.5 73.2 L72.7 72.2 " class="m"/><path d="M80.2 73.3 L82.3 71.5 L83.4 71.0 L81.3 72.8 Z" fill="#6a5bff" stroke="#6a5bff" stroke-width="0.5"/><path d="M81.3 72.8 L83.4 71.0 M82.3 71.5 L83.4 71.0 " class="m"/><path d="M71.5 73.2 L73.6 74.1 L74.8 73.3 L72.7 72.2 Z" fill="#603ed6" stroke="#603ed6" stroke-width="0.5"/><path d="M72.7 72.2 L74.8 73.3 M71.5 73.2 L72.7 72.2 " class="m"/><path d="M76.9 74.0 L79.0 73.8 L80.2 73.3 L78.1 73.4 Z" fill="#7642f5" stroke="#7642f5" stroke-width="0.5"/><path d="M76.9 74.0 L79.0 73.8 M76.9 74.0 L78.1 73.4 " class="m"/><path d="M57.5 62.8 L59.7 64.8 L60.9 63.6 L58.8 61.5 Z" fill="#65c0ae" stroke="#65c0ae" stroke-width="0.5"/><path d="M57.5 62.8 L59.7 64.8 M57.5 62.8 L58.8 61.5 " class="m"/><path d="M61.8 67.2 L64.0 69.5 L65.2 68.4 L63.1 66.1 Z" fill="#4d96e7" stroke="#4d96e7" stroke-width="0.5"/><path d="M61.8 67.2 L64.0 69.5 M61.8 67.2 L63.1 66.1 " class="m"/><path d="M59.7 64.8 L61.8 67.2 L63.1 66.1 L60.9 63.6 Z" fill="#57b5d2" stroke="#57b5d2" stroke-width="0.5"/><path d="M59.7 64.8 L61.8 67.2 M61.8 67.2 L63.1 66.1 " class="m"/><path d="M64.0 69.5 L66.1 71.4 L67.3 70.3 L65.2 68.4 Z" fill="#4c78f1" stroke="#4c78f1" stroke-width="0.5"/><path d="M64.0 69.5 L66.1 71.4 M66.1 71.4 L67.3 70.3 " class="m"/><path d="M66.1 71.4 L68.2 72.9 L69.4 71.9 L67.3 70.3 Z" fill="#4f60f3" stroke="#4f60f3" stroke-width="0.5"/><path d="M66.1 71.4 L68.2 72.9 M66.1 71.4 L67.3 70.3 " class="m"/><path d="M73.6 74.1 L75.7 74.7 L76.9 74.0 L74.8 73.3 Z" fill="#6a3fe5" stroke="#6a3fe5" stroke-width="0.5"/><path d="M74.8 73.3 L76.9 74.0 M75.7 74.7 L76.9 74.0 " class="m"/><path d="M83.4 71.0 L85.6 66.3 L86.8 65.9 L84.6 70.5 Z" fill="#54a1ff" stroke="#54a1ff" stroke-width="0.5"/><path d="M83.4 71.0 L85.6 66.3 M83.4 71.0 L84.6 70.5 " class="m"/><path d="M68.2 72.9 L70.3 74.1 L71.5 73.2 L69.4 71.9 Z" fill="#574fe5" stroke="#574fe5" stroke-width="0.5"/><path d="M68.2 72.9 L70.3 74.1 M70.3 74.1 L71.5 73.2 " class="m"/><path d="M56.3 64.0 L58.4 66.1 L59.7 64.8 L57.5 62.8 Z" fill="#65bfb0" stroke="#65bfb0" stroke-width="0.5"/><path d="M57.5 62.8 L59.7 64.8 M56.3 64.0 L57.5 62.8 " class="m"/><path d="M70.3 74.1 L72.4 75.0 L73.6 74.1 L71.5 73.2 Z" fill="#5f47e2" stroke="#5f47e2" stroke-width="0.5"/><path d="M70.3 74.1 L72.4 75.0 M70.3 74.1 L71.5 73.2 " class="m"/><path d="M58.4 66.1 L60.6 68.4 L61.8 67.2 L59.7 64.8 Z" fill="#56b4d3" stroke="#56b4d3" stroke-width="0.5"/><path d="M59.7 64.8 L61.8 67.2 M60.6 68.4 L61.8 67.2 " class="m"/><path d="M60.6 68.4 L62.7 70.5 L64.0 69.5 L61.8 67.2 Z" fill="#4d97e6" stroke="#4d97e6" stroke-width="0.5"/><path d="M61.8 67.2 L64.0 69.5 M60.6 68.4 L61.8 67.2 " class="m"/><path d="M79.0 73.8 L81.2 72.1 L82.3 71.5 L80.2 73.3 Z" fill="#626dff" stroke="#626dff" stroke-width="0.5"/><path d="M79.0 73.8 L81.2 72.1 M81.2 72.1 L82.3 71.5 " class="m"/><path d="M75.7 74.7 L77.9 74.5 L79.0 73.8 L76.9 74.0 Z" fill="#6f51ff" stroke="#6f51ff" stroke-width="0.5"/><path d="M76.9 74.0 L79.0 73.8 M75.7 74.7 L76.9 74.0 " class="m"/><path d="M62.7 70.5 L64.9 72.4 L66.1 71.4 L64.0 69.5 Z" fill="#4c7bf1" stroke="#4c7bf1" stroke-width="0.5"/><path d="M64.0 69.5 L66.1 71.4 M64.9 72.4 L66.1 71.4 " class="m"/><path d="M64.9 72.4 L67.0 73.8 L68.2 72.9 L66.1 71.4 Z" fill="#4d64f6" stroke="#4d64f6" stroke-width="0.5"/><path d="M66.1 71.4 L68.2 72.9 M64.9 72.4 L66.1 71.4 " class="m"/><path d="M72.4 75.0 L74.5 75.4 L75.7 74.7 L73.6 74.1 Z" fill="#684cf6" stroke="#684cf6" stroke-width="0.5"/><path d="M72.4 75.0 L74.5 75.4 M74.5 75.4 L75.7 74.7 " class="m"/><path d="M67.0 73.8 L69.1 75.0 L70.3 74.1 L68.2 72.9 Z" fill="#5555e9" stroke="#5555e9" stroke-width="0.5"/><path d="M68.2 72.9 L70.3 74.1 M69.1 75.0 L70.3 74.1 " class="m"/><path d="M82.3 71.5 L84.5 66.6 L85.6 66.3 L83.4 71.0 Z" fill="#58b0fa" stroke="#58b0fa" stroke-width="0.5"/><path d="M83.4 71.0 L85.6 66.3 M82.3 71.5 L83.4 71.0 " class="m"/><path d="M55.0 65.3 L57.1 67.3 L58.4 66.1 L56.3 64.0 Z" fill="#64bfb2" stroke="#64bfb2" stroke-width="0.5"/><path d="M55.0 65.3 L57.1 67.3 M55.0 65.3 L56.3 64.0 " class="m"/><path d="M57.1 67.3 L59.3 69.5 L60.6 68.4 L58.4 66.1 Z" fill="#56b4d3" stroke="#56b4d3" stroke-width="0.5"/><path d="M57.1 67.3 L59.3 69.5 M59.3 69.5 L60.6 68.4 " class="m"/><path d="M59.3 69.5 L61.4 71.6 L62.7 70.5 L60.6 68.4 Z" fill="#4e99e6" stroke="#4e99e6" stroke-width="0.5"/><path d="M59.3 69.5 L61.4 71.6 M59.3 69.5 L60.6 68.4 " class="m"/><path d="M69.1 75.0 L71.2 75.9 L72.4 75.0 L70.3 74.1 Z" fill="#5d50ee" stroke="#5d50ee" stroke-width="0.5"/><path d="M70.3 74.1 L72.4 75.0 M69.1 75.0 L70.3 74.1 " class="m"/><path d="M61.4 71.6 L63.6 73.3 L64.9 72.4 L62.7 70.5 Z" fill="#4c7ff0" stroke="#4c7ff0" stroke-width="0.5"/><path d="M61.4 71.6 L63.6 73.3 M63.6 73.3 L64.9 72.4 " class="m"/><path d="M77.9 74.5 L80.0 72.7 L81.2 72.1 L79.0 73.8 Z" fill="#5d7eff" stroke="#5d7eff" stroke-width="0.5"/><path d="M79.0 73.8 L81.2 72.1 M80.0 72.7 L81.2 72.1 " class="m"/><path d="M74.5 75.4 L76.7 75.1 L77.9 74.5 L75.7 74.7 Z" fill="#6960ff" stroke="#6960ff" stroke-width="0.5"/><path d="M74.5 75.4 L76.7 75.1 M74.5 75.4 L75.7 74.7 " class="m"/><path d="M63.6 73.3 L65.7 74.7 L67.0 73.8 L64.9 72.4 Z" fill="#4d6af5" stroke="#4d6af5" stroke-width="0.5"/><path d="M63.6 73.3 L65.7 74.7 M63.6 73.3 L64.9 72.4 " class="m"/><path d="M86.8 65.9 L89.1 57.7 L90.2 56.4 L87.9 65.2 Z" fill="#94d175" stroke="#94d175" stroke-width="0.5"/><path d="M87.9 65.2 L90.2 56.4 M89.1 57.7 L90.2 56.4 " class="m"/><path d="M71.2 75.9 L73.3 76.2 L74.5 75.4 L72.4 75.0 Z" fill="#6558ff" stroke="#6558ff" stroke-width="0.5"/><path d="M72.4 75.0 L74.5 75.4 M73.3 76.2 L74.5 75.4 " class="m"/><path d="M65.7 74.7 L67.9 75.8 L69.1 75.0 L67.0 73.8 Z" fill="#515cf0" stroke="#515cf0" stroke-width="0.5"/><path d="M65.7 74.7 L67.9 75.8 M67.9 75.8 L69.1 75.0 " class="m"/><path d="M53.7 66.7 L55.8 68.6 L57.1 67.3 L55.0 65.3 Z" fill="#63beb4" stroke="#63beb4" stroke-width="0.5"/><path d="M55.0 65.3 L57.1 67.3 M53.7 66.7 L55.0 65.3 " class="m"/><path d="M55.8 68.6 L58.0 70.7 L59.3 69.5 L57.1 67.3 Z" fill="#56b4d4" stroke="#56b4d4" stroke-width="0.5"/><path d="M57.1 67.3 L59.3 69.5 M58.0 70.7 L59.3 69.5 " class="m"/><path d="M58.0 70.7 L60.2 72.6 L61.4 71.6 L59.3 69.5 Z" fill="#4e9ae5" stroke="#4e9ae5" stroke-width="0.5"/><path d="M59.3 69.5 L61.4 71.6 M58.0 70.7 L59.3 69.5 " class="m"/><path d="M81.2 72.1 L83.4 67.3 L84.5 66.6 L82.3 71.5 Z" fill="#5cbff5" stroke="#5cbff5" stroke-width="0.5"/><path d="M81.2 72.1 L83.4 67.3 M81.2 72.1 L82.3 71.5 " class="m"/><path d="M60.2 72.6 L62.3 74.2 L63.6 73.3 L61.4 71.6 Z" fill="#4b83ef" stroke="#4b83ef" stroke-width="0.5"/><path d="M61.4 71.6 L63.6 73.3 M62.3 74.2 L63.6 73.3 " class="m"/><path d="M67.9 75.8 L70.0 76.6 L71.2 75.9 L69.1 75.0 Z" fill="#5859f4" stroke="#5859f4" stroke-width="0.5"/><path d="M67.9 75.8 L70.0 76.6 M67.9 75.8 L69.1 75.0 " class="m"/><path d="M62.3 74.2 L64.5 75.5 L65.7 74.7 L63.6 73.3 Z" fill="#4c71f3" stroke="#4c71f3" stroke-width="0.5"/><path d="M63.6 73.3 L65.7 74.7 M62.3 74.2 L63.6 73.3 " class="m"/><path d="M73.3 76.2 L75.5 75.7 L76.7 75.1 L74.5 75.4 Z" fill="#626fff" stroke="#626fff" stroke-width="0.5"/><path d="M74.5 75.4 L76.7 75.1 M73.3 76.2 L74.5 75.4 " class="m"/><path d="M76.7 75.1 L78.8 73.2 L80.0 72.7 L77.9 74.5 Z" fill="#5c8dff" stroke="#5c8dff" stroke-width="0.5"/><path d="M76.7 75.1 L78.8 73.2 M78.8 73.2 L80.0 72.7 " class="m"/><path d="M85.6 66.3 L88.0 58.6 L89.1 57.7 L86.8 65.9 Z" fill="#98cf6e" stroke="#98cf6e" stroke-width="0.5"/><path d="M85.6 66.3 L88.0 58.6 M88.0 58.6 L89.1 57.7 " class="m"/><path d="M52.3 68.0 L54.5 69.8 L55.8 68.6 L53.7 66.7 Z" fill="#62beb7" stroke="#62beb7" stroke-width="0.5"/><path d="M52.3 68.0 L54.5 69.8 M52.3 68.0 L53.7 66.7 " class="m"/><path d="M70.0 76.6 L72.1 76.8 L73.3 76.2 L71.2 75.9 Z" fill="#5f64ff" stroke="#5f64ff" stroke-width="0.5"/><path d="M70.0 76.6 L72.1 76.8 M72.1 76.8 L73.3 76.2 " class="m"/><path d="M64.5 75.5 L66.6 76.5 L67.9 75.8 L65.7 74.7 Z" fill="#4d66f6" stroke="#4d66f6" stroke-width="0.5"/><path d="M65.7 74.7 L67.9 75.8 M66.6 76.5 L67.9 75.8 " class="m"/><path d="M54.5 69.8 L56.7 71.8 L58.0 70.7 L55.8 68.6 Z" fill="#56b4d4" stroke="#56b4d4" stroke-width="0.5"/><path d="M54.5 69.8 L56.7 71.8 M56.7 71.8 L58.0 70.7 " class="m"/><path d="M56.7 71.8 L58.9 73.6 L60.2 72.6 L58.0 70.7 Z" fill="#4f9de3" stroke="#4f9de3" stroke-width="0.5"/><path d="M56.7 71.8 L58.9 73.6 M56.7 71.8 L58.0 70.7 " class="m"/><path d="M58.9 73.6 L61.0 75.1 L62.3 74.2 L60.2 72.6 Z" fill="#4b89ed" stroke="#4b89ed" stroke-width="0.5"/><path d="M58.9 73.6 L61.0 75.1 M61.0 75.1 L62.3 74.2 " class="m"/><path d="M80.0 72.7 L82.2 67.9 L83.4 67.3 L81.2 72.1 Z" fill="#61caec" stroke="#61caec" stroke-width="0.5"/><path d="M81.2 72.1 L83.4 67.3 M80.0 72.7 L81.2 72.1 " class="m"/><path d="M66.6 76.5 L68.7 77.2 L70.0 76.6 L67.9 75.8 Z" fill="#5265ff" stroke="#5265ff" stroke-width="0.5"/><path d="M67.9 75.8 L70.0 76.6 M66.6 76.5 L67.9 75.8 " class="m"/><path d="M61.0 75.1 L63.2 76.3 L64.5 75.5 L62.3 74.2 Z" fill="#4c7af1" stroke="#4c7af1" stroke-width="0.5"/><path d="M61.0 75.1 L63.2 76.3 M61.0 75.1 L62.3 74.2 " class="m"/><path d="M51.0 69.3 L53.2 71.0 L54.5 69.8 L52.3 68.0 Z" fill="#62bdb8" stroke="#62bdb8" stroke-width="0.5"/><path d="M52.3 68.0 L54.5 69.8 M51.0 69.3 L52.3 68.0 " class="m"/><path d="M72.1 76.8 L74.3 76.2 L75.5 75.7 L73.3 76.2 Z" fill="#5d7eff" stroke="#5d7eff" stroke-width="0.5"/><path d="M72.1 76.8 L74.3 76.2 M72.1 76.8 L73.3 76.2 " class="m"/><path d="M75.5 75.7 L77.6 73.7 L78.8 73.2 L76.7 75.1 Z" fill="#5a9dff" stroke="#5a9dff" stroke-width="0.5"/><path d="M76.7 75.1 L78.8 73.2 M77.6 73.7 L78.8 73.2 " class="m"/><path d="M84.5 66.6 L86.8 58.8 L88.0 58.6 L85.6 66.3 Z" fill="#a0cb60" stroke="#a0cb60" stroke-width="0.5"/><path d="M85.6 66.3 L88.0 58.6 M86.8 58.8 L88.0 58.6 " class="m"/><path d="M53.2 71.0 L55.4 72.9 L56.7 71.8 L54.5 69.8 Z" fill="#57b5d2" stroke="#57b5d2" stroke-width="0.5"/><path d="M54.5 69.8 L56.7 71.8 M55.4 72.9 L56.7 71.8 " class="m"/><path d="M63.2 76.3 L65.3 77.2 L66.6 76.5 L64.5 75.5 Z" fill="#4d71f5" stroke="#4d71f5" stroke-width="0.5"/><path d="M63.2 76.3 L65.3 77.2 M65.3 77.2 L66.6 76.5 " class="m"/><path d="M68.7 77.2 L70.9 77.4 L72.1 76.8 L70.0 76.6 Z" fill="#5772ff" stroke="#5772ff" stroke-width="0.5"/><path d="M70.0 76.6 L72.1 76.8 M70.9 77.4 L72.1 76.8 " class="m"/><path d="M55.4 72.9 L57.5 74.6 L58.9 73.6 L56.7 71.8 Z" fill="#50a0e1" stroke="#50a0e1" stroke-width="0.5"/><path d="M56.7 71.8 L58.9 73.6 M55.4 72.9 L56.7 71.8 " class="m"/><path d="M57.5 74.6 L59.7 76.0 L61.0 75.1 L58.9 73.6 Z" fill="#4b8feb" stroke="#4b8feb" stroke-width="0.5"/><path d="M58.9 73.6 L61.0 75.1 M59.7 76.0 L61.0 75.1 " class="m"/><path d="M78.8 73.2 L81.0 68.5 L82.2 67.9 L80.0 72.7 Z" fill="#68cfdc" stroke="#68cfdc" stroke-width="0.5"/><path d="M78.8 73.2 L81.0 68.5 M78.8 73.2 L80.0 72.7 " class="m"/><path d="M65.3 77.2 L67.5 77.8 L68.7 77.2 L66.6 76.5 Z" fill="#5275ff" stroke="#5275ff" stroke-width="0.5"/><path d="M65.3 77.2 L67.5 77.8 M65.3 77.2 L66.6 76.5 " class="m"/><path d="M49.7 70.6 L51.8 72.1 L53.2 71.0 L51.0 69.3 Z" fill="#62bdb9" stroke="#62bdb9" stroke-width="0.5"/><path d="M49.7 70.6 L51.8 72.1 M49.7 70.6 L51.0 69.3 " class="m"/><path d="M89.1 57.7 L91.5 51.6 L92.6 50.3 L90.2 56.4 Z" fill="#feba36" stroke="#feba36" stroke-width="0.5"/><path d="M90.2 56.4 L92.6 50.3 M89.1 57.7 L90.2 56.4 " class="m"/><path d="M59.7 76.0 L61.9 77.2 L63.2 76.3 L61.0 75.1 Z" fill="#4c82ef" stroke="#4c82ef" stroke-width="0.5"/><path d="M61.0 75.1 L63.2 76.3 M59.7 76.0 L61.0 75.1 " class="m"/><path d="M51.8 72.1 L54.0 74.0 L55.4 72.9 L53.2 71.0 Z" fill="#58b6d1" stroke="#58b6d1" stroke-width="0.5"/><path d="M51.8 72.1 L54.0 74.0 M54.0 74.0 L55.4 72.9 " class="m"/><path d="M70.9 77.4 L73.0 76.8 L74.3 76.2 L72.1 76.8 Z" fill="#5b8fff" stroke="#5b8fff" stroke-width="0.5"/><path d="M72.1 76.8 L74.3 76.2 M70.9 77.4 L72.1 76.8 " class="m"/><path d="M74.3 76.2 L76.4 74.2 L77.6 73.7 L75.5 75.7 Z" fill="#5aaeff" stroke="#5aaeff" stroke-width="0.5"/><path d="M74.3 76.2 L76.4 74.2 M76.4 74.2 L77.6 73.7 " class="m"/><path d="M54.0 74.0 L56.2 75.6 L57.5 74.6 L55.4 72.9 Z" fill="#50a4df" stroke="#50a4df" stroke-width="0.5"/><path d="M54.0 74.0 L56.2 75.6 M54.0 74.0 L55.4 72.9 " class="m"/><path d="M83.4 67.3 L85.7 59.8 L86.8 58.8 L84.5 66.6 Z" fill="#adce5a" stroke="#adce5a" stroke-width="0.5"/><path d="M83.4 67.3 L85.7 59.8 M85.7 59.8 L86.8 58.8 " class="m"/><path d="M61.9 77.2 L64.0 78.0 L65.3 77.2 L63.2 76.3 Z" fill="#4f7ffa" stroke="#4f7ffa" stroke-width="0.5"/><path d="M63.2 76.3 L65.3 77.2 M64.0 78.0 L65.3 77.2 " class="m"/><path d="M67.5 77.8 L69.6 77.9 L70.9 77.4 L68.7 77.2 Z" fill="#5784ff" stroke="#5784ff" stroke-width="0.5"/><path d="M67.5 77.8 L69.6 77.9 M69.6 77.9 L70.9 77.4 " class="m"/><path d="M56.2 75.6 L58.4 77.0 L59.7 76.0 L57.5 74.6 Z" fill="#4c94e8" stroke="#4c94e8" stroke-width="0.5"/><path d="M56.2 75.6 L58.4 77.0 M58.4 77.0 L59.7 76.0 " class="m"/><path d="M48.3 71.8 L50.5 73.3 L51.8 72.1 L49.7 70.6 Z" fill="#62bdb8" stroke="#62bdb8" stroke-width="0.5"/><path d="M49.7 70.6 L51.8 72.1 M48.3 71.8 L49.7 70.6 " class="m"/><path d="M88.0 58.6 L90.3 52.9 L91.5 51.6 L89.1 57.7 Z" fill="#fdbb36" stroke="#fdbb36" stroke-width="0.5"/><path d="M88.0 58.6 L90.3 52.9 M88.0 58.6 L89.1 57.7 " class="m"/><path d="M64.0 78.0 L66.2 78.5 L67.5 77.8 L65.3 77.2 Z" fill="#5385ff" stroke="#5385ff" stroke-width="0.5"/><path d="M65.3 77.2 L67.5 77.8 M64.0 78.0 L65.3 77.2 " class="m"/><path d="M58.4 77.0 L60.5 78.1 L61.9 77.2 L59.7 76.0 Z" fill="#4b89ed" stroke="#4b89ed" stroke-width="0.5"/><path d="M58.4 77.0 L60.5 78.1 M58.4 77.0 L59.7 76.0 " class="m"/><path d="M77.6 73.7 L79.8 69.0 L81.0 68.5 L78.8 73.2 Z" fill="#6ed4cb" stroke="#6ed4cb" stroke-width="0.5"/><path d="M78.8 73.2 L81.0 68.5 M77.6 73.7 L78.8 73.2 " class="m"/><path d="M50.5 73.3 L52.6 75.0 L54.0 74.0 L51.8 72.1 Z" fill="#59b7ce" stroke="#59b7ce" stroke-width="0.5"/><path d="M51.8 72.1 L54.0 74.0 M52.6 75.0 L54.0 74.0 " class="m"/><path d="M52.6 75.0 L54.8 76.6 L56.2 75.6 L54.0 74.0 Z" fill="#52a8dc" stroke="#52a8dc" stroke-width="0.5"/><path d="M54.0 74.0 L56.2 75.6 M52.6 75.0 L54.0 74.0 " class="m"/><path d="M69.6 77.9 L71.8 77.2 L73.0 76.8 L70.9 77.4 Z" fill="#5aa2ff" stroke="#5aa2ff" stroke-width="0.5"/><path d="M69.6 77.9 L71.8 77.2 M69.6 77.9 L70.9 77.4 " class="m"/><path d="M82.2 67.9 L84.5 61.0 L85.7 59.8 L83.4 67.3 Z" fill="#b4d058" stroke="#b4d058" stroke-width="0.5"/><path d="M83.4 67.3 L85.7 59.8 M84.5 61.0 L85.7 59.8 " class="m"/><path d="M73.0 76.8 L75.2 74.8 L76.4 74.2 L74.3 76.2 Z" fill="#5ebdff" stroke="#5ebdff" stroke-width="0.5"/><path d="M74.3 76.2 L76.4 74.2 M75.2 74.8 L76.4 74.2 " class="m"/><path d="M60.5 78.1 L62.7 78.9 L64.0 78.0 L61.9 77.2 Z" fill="#508bfd" stroke="#508bfd" stroke-width="0.5"/><path d="M60.5 78.1 L62.7 78.9 M62.7 78.9 L64.0 78.0 " class="m"/><path d="M54.8 76.6 L57.0 77.9 L58.4 77.0 L56.2 75.6 Z" fill="#4e9ae5" stroke="#4e9ae5" stroke-width="0.5"/><path d="M56.2 75.6 L58.4 77.0 M57.0 77.9 L58.4 77.0 " class="m"/><path d="M66.2 78.5 L68.3 78.6 L69.6 77.9 L67.5 77.8 Z" fill="#5897ff" stroke="#5897ff" stroke-width="0.5"/><path d="M67.5 77.8 L69.6 77.9 M68.3 78.6 L69.6 77.9 " class="m"/><path d="M46.9 72.6 L49.1 74.4 L50.5 73.3 L48.3 71.8 Z" fill="#63beb4" stroke="#63beb4" stroke-width="0.5"/><path d="M46.9 72.6 L49.1 74.4 M46.9 72.6 L48.3 71.8 " class="m"/><path d="M91.5 51.6 L93.8 49.0 L95.0 46.9 L92.6 50.3 Z" fill="#ff6729" stroke="#ff6729" stroke-width="0.5"/><path d="M92.6 50.3 L95.0 46.9 M93.8 49.0 L95.0 46.9 " class="m"/><path d="M86.8 58.8 L89.2 54.1 L90.3 52.9 L88.0 58.6 Z" fill="#feb835" stroke="#feb835" stroke-width="0.5"/><path d="M88.0 58.6 L90.3 52.9 M86.8 58.8 L88.0 58.6 " class="m"/><path d="M57.0 77.9 L59.2 78.9 L60.5 78.1 L58.4 77.0 Z" fill="#4c92ec" stroke="#4c92ec" stroke-width="0.5"/><path d="M58.4 77.0 L60.5 78.1 M57.0 77.9 L58.4 77.0 " class="m"/><path d="M49.1 74.4 L51.3 75.8 L52.6 75.0 L50.5 73.3 Z" fill="#5cb9c8" stroke="#5cb9c8" stroke-width="0.5"/><path d="M49.1 74.4 L51.3 75.8 M51.3 75.8 L52.6 75.0 " class="m"/><path d="M62.7 78.9 L64.9 79.3 L66.2 78.5 L64.0 78.0 Z" fill="#5494ff" stroke="#5494ff" stroke-width="0.5"/><path d="M62.7 78.9 L64.9 79.3 M62.7 78.9 L64.0 78.0 " class="m"/><path d="M76.4 74.2 L78.6 69.7 L79.8 69.0 L77.6 73.7 Z" fill="#77dabc" stroke="#77dabc" stroke-width="0.5"/><path d="M76.4 74.2 L78.6 69.7 M76.4 74.2 L77.6 73.7 " class="m"/><path d="M100.5 56.8 L102.7 58.5 L103.8 57.2 L101.6 55.5 Z" fill="#dda12d" stroke="#dda12d" stroke-width="0.5"/><path d="M101.6 55.5 L103.8 57.2 M102.7 58.5 L103.8 57.2 " class="m"/><path d="M51.3 75.8 L53.5 77.4 L54.8 76.6 L52.6 75.0 Z" fill="#53afd8" stroke="#53afd8" stroke-width="0.5"/><path d="M51.3 75.8 L53.5 77.4 M51.3 75.8 L52.6 75.0 " class="m"/><path d="M98.3 53.9 L100.5 56.8 L101.6 55.5 L99.4 52.5 Z" fill="#e08a27" stroke="#e08a27" stroke-width="0.5"/><path d="M99.4 52.5 L101.6 55.5 M98.3 53.9 L99.4 52.5 " class="m"/><path d="M102.7 58.5 L105.0 59.6 L106.1 58.3 L103.8 57.2 Z" fill="#eab634" stroke="#eab634" stroke-width="0.5"/><path d="M103.8 57.2 L106.1 58.3 M102.7 58.5 L103.8 57.2 " class="m"/><path d="M59.2 78.9 L61.4 79.6 L62.7 78.9 L60.5 78.1 Z" fill="#5197fe" stroke="#5197fe" stroke-width="0.5"/><path d="M60.5 78.1 L62.7 78.9 M61.4 79.6 L62.7 78.9 " class="m"/><path d="M81.0 68.5 L83.3 61.7 L84.5 61.0 L82.2 67.9 Z" fill="#bbd053" stroke="#bbd053" stroke-width="0.5"/><path d="M81.0 68.5 L83.3 61.7 M83.3 61.7 L84.5 61.0 " class="m"/><path d="M68.3 78.6 L70.5 77.8 L71.8 77.2 L69.6 77.9 Z" fill="#5db4ff" stroke="#5db4ff" stroke-width="0.5"/><path d="M69.6 77.9 L71.8 77.2 M68.3 78.6 L69.6 77.9 " class="m"/><path d="M53.5 77.4 L55.6 78.7 L57.0 77.9 L54.8 76.6 Z" fill="#50a1e0" stroke="#50a1e0" stroke-width="0.5"/><path d="M53.5 77.4 L55.6 78.7 M55.6 78.7 L57.0 77.9 " class="m"/><path d="M71.8 77.2 L73.9 75.4 L75.2 74.8 L73.0 76.8 Z" fill="#63cdff" stroke="#63cdff" stroke-width="0.5"/><path d="M71.8 77.2 L73.9 75.4 M73.9 75.4 L75.2 74.8 " class="m"/><path d="M96.1 50.6 L98.3 53.9 L99.4 52.5 L97.2 48.7 Z" fill="#de5e20" stroke="#de5e20" stroke-width="0.5"/><path d="M97.2 48.7 L99.4 52.5 M98.3 53.9 L99.4 52.5 " class="m"/><path d="M45.4 73.1 L47.6 75.3 L49.1 74.4 L46.9 72.6 Z" fill="#67c1ab" stroke="#67c1ab" stroke-width="0.5"/><path d="M46.9 72.6 L49.1 74.4 M45.4 73.1 L46.9 72.6 " class="m"/><path d="M64.9 79.3 L67.0 79.2 L68.3 78.6 L66.2 78.5 Z" fill="#58a8ff" stroke="#58a8ff" stroke-width="0.5"/><path d="M64.9 79.3 L67.0 79.2 M67.0 79.2 L68.3 78.6 " class="m"/><path d="M90.3 52.9 L92.7 50.9 L93.8 49.0 L91.5 51.6 Z" fill="#ff752d" stroke="#ff752d" stroke-width="0.5"/><path d="M90.3 52.9 L92.7 50.9 M92.7 50.9 L93.8 49.0 " class="m"/><path d="M93.8 49.0 L96.1 50.6 L97.2 48.7 L95.0 46.9 Z" fill="#d93c1b" stroke="#d93c1b" stroke-width="0.5"/><path d="M95.0 46.9 L97.2 48.7 M93.8 49.0 L95.0 46.9 " class="m"/><path d="M105.0 59.6 L107.4 60.2 L108.4 59.0 L106.1 58.3 Z" fill="#ffca3b" stroke="#ffca3b" stroke-width="0.5"/><path d="M106.1 58.3 L108.4 59.0 M107.4 60.2 L108.4 59.0 " class="m"/><path d="M85.7 59.8 L88.0 55.4 L89.2 54.1 L86.8 58.8 Z" fill="#ffbb37" stroke="#ffbb37" stroke-width="0.5"/><path d="M85.7 59.8 L88.0 55.4 M85.7 59.8 L86.8 58.8 " class="m"/><path d="M47.6 75.3 L49.8 76.6 L51.3 75.8 L49.1 74.4 Z" fill="#5fbbc0" stroke="#5fbbc0" stroke-width="0.5"/><path d="M49.1 74.4 L51.3 75.8 M49.8 76.6 L51.3 75.8 " class="m"/><path d="M55.6 78.7 L57.8 79.7 L59.2 78.9 L57.0 77.9 Z" fill="#4e99e6" stroke="#4e99e6" stroke-width="0.5"/><path d="M55.6 78.7 L57.8 79.7 M55.6 78.7 L57.0 77.9 " class="m"/><path d="M61.4 79.6 L63.5 79.9 L64.9 79.3 L62.7 78.9 Z" fill="#55a2ff" stroke="#55a2ff" stroke-width="0.5"/><path d="M62.7 78.9 L64.9 79.3 M61.4 79.6 L62.7 78.9 " class="m"/><path d="M107.4 60.2 L109.7 60.8 L110.8 59.6 L108.4 59.0 Z" fill="#ffcb3b" stroke="#ffcb3b" stroke-width="0.5"/><path d="M108.4 59.0 L110.8 59.6 M107.4 60.2 L108.4 59.0 " class="m"/><path d="M99.4 57.9 L101.7 59.6 L102.7 58.5 L100.5 56.8 Z" fill="#dda22e" stroke="#dda22e" stroke-width="0.5"/><path d="M99.4 57.9 L101.7 59.6 M101.7 59.6 L102.7 58.5 " class="m"/><path d="M97.2 55.3 L99.4 57.9 L100.5 56.8 L98.3 53.9 Z" fill="#e08c28" stroke="#e08c28" stroke-width="0.5"/><path d="M97.2 55.3 L99.4 57.9 M97.2 55.3 L98.3 53.9 " class="m"/><path d="M75.2 74.8 L77.4 70.4 L78.6 69.7 L76.4 74.2 Z" fill="#81ddac" stroke="#81ddac" stroke-width="0.5"/><path d="M76.4 74.2 L78.6 69.7 M75.2 74.8 L76.4 74.2 " class="m"/><path d="M49.8 76.6 L52.0 78.0 L53.5 77.4 L51.3 75.8 Z" fill="#58b6d0" stroke="#58b6d0" stroke-width="0.5"/><path d="M51.3 75.8 L53.5 77.4 M49.8 76.6 L51.3 75.8 " class="m"/><path d="M101.7 59.6 L104.0 60.8 L105.0 59.6 L102.7 58.5 Z" fill="#e4b233" stroke="#e4b233" stroke-width="0.5"/><path d="M101.7 59.6 L104.0 60.8 M101.7 59.6 L102.7 58.5 " class="m"/><path d="M94.9 52.3 L97.2 55.3 L98.3 53.9 L96.1 50.6 Z" fill="#df6622" stroke="#df6622" stroke-width="0.5"/><path d="M94.9 52.3 L97.2 55.3 M97.2 55.3 L98.3 53.9 " class="m"/><path d="M92.7 50.9 L94.9 52.3 L96.1 50.6 L93.8 49.0 Z" fill="#db481d" stroke="#db481d" stroke-width="0.5"/><path d="M92.7 50.9 L94.9 52.3 M92.7 50.9 L93.8 49.0 " class="m"/><path d="M57.8 79.7 L60.0 80.3 L61.4 79.6 L59.2 78.9 Z" fill="#52a1f7" stroke="#52a1f7" stroke-width="0.5"/><path d="M57.8 79.7 L60.0 80.3 M60.0 80.3 L61.4 79.6 " class="m"/><path d="M79.8 69.0 L82.1 62.6 L83.3 61.7 L81.0 68.5 Z" fill="#c6d24d" stroke="#c6d24d" stroke-width="0.5"/><path d="M81.0 68.5 L83.3 61.7 M82.1 62.6 L83.3 61.7 " class="m"/><path d="M109.7 60.8 L112.1 61.4 L113.1 60.2 L110.8 59.6 Z" fill="#ffc93b" stroke="#ffc93b" stroke-width="0.5"/><path d="M110.8 59.6 L113.1 60.2 M112.1 61.4 L113.1 60.2 " class="m"/><path d="M89.2 54.1 L91.5 52.5 L92.7 50.9 L90.3 52.9 Z" fill="#ff7f2e" stroke="#ff7f2e" stroke-width="0.5"/><path d="M90.3 52.9 L92.7 50.9 M91.5 52.5 L92.7 50.9 " class="m"/><path d="M44.0 74.5 L46.2 76.5 L47.6 75.3 L45.4 73.1 Z" fill="#6ac2a4" stroke="#6ac2a4" stroke-width="0.5"/><path d="M44.0 74.5 L46.2 76.5 M44.0 74.5 L45.4 73.1 " class="m"/><path d="M52.0 78.0 L54.2 79.2 L55.6 78.7 L53.5 77.4 Z" fill="#53acda" stroke="#53acda" stroke-width="0.5"/><path d="M53.5 77.4 L55.6 78.7 M54.2 79.2 L55.6 78.7 " class="m"/><path d="M67.0 79.2 L69.2 78.2 L70.5 77.8 L68.3 78.6 Z" fill="#60c3ff" stroke="#60c3ff" stroke-width="0.5"/><path d="M67.0 79.2 L69.2 78.2 M67.0 79.2 L68.3 78.6 " class="m"/><path d="M70.5 77.8 L72.7 76.0 L73.9 75.4 L71.8 77.2 Z" fill="#6adaf7" stroke="#6adaf7" stroke-width="0.5"/><path d="M71.8 77.2 L73.9 75.4 M72.7 76.0 L73.9 75.4 " class="m"/><path d="M104.0 60.8 L106.3 61.4 L107.4 60.2 L105.0 59.6 Z" fill="#ffca3b" stroke="#ffca3b" stroke-width="0.5"/><path d="M104.0 60.8 L106.3 61.4 M106.3 61.4 L107.4 60.2 " class="m"/><path d="M63.5 79.9 L65.7 79.6 L67.0 79.2 L64.9 79.3 Z" fill="#5bb5ff" stroke="#5bb5ff" stroke-width="0.5"/><path d="M64.9 79.3 L67.0 79.2 M65.7 79.6 L67.0 79.2 " class="m"/><path d="M84.5 61.0 L86.8 56.8 L88.0 55.4 L85.7 59.8 Z" fill="#ffbd37" stroke="#ffbd37" stroke-width="0.5"/><path d="M85.7 59.8 L88.0 55.4 M84.5 61.0 L85.7 59.8 " class="m"/><path d="M46.2 76.5 L48.4 77.7 L49.8 76.6 L47.6 75.3 Z" fill="#61bdba" stroke="#61bdba" stroke-width="0.5"/><path d="M46.2 76.5 L48.4 77.7 M48.4 77.7 L49.8 76.6 " class="m"/><path d="M112.1 61.4 L114.5 62.1 L115.5 60.9 L113.1 60.2 Z" fill="#ffc93b" stroke="#ffc93b" stroke-width="0.5"/><path d="M113.1 60.2 L115.5 60.9 M112.1 61.4 L113.1 60.2 " class="m"/><path d="M54.2 79.2 L56.4 80.1 L57.8 79.7 L55.6 78.7 Z" fill="#51a5de" stroke="#51a5de" stroke-width="0.5"/><path d="M55.6 78.7 L57.8 79.7 M54.2 79.2 L55.6 78.7 " class="m"/><path d="M60.0 80.3 L62.2 80.4 L63.5 79.9 L61.4 79.6 Z" fill="#58aeff" stroke="#58aeff" stroke-width="0.5"/><path d="M60.0 80.3 L62.2 80.4 M60.0 80.3 L61.4 79.6 " class="m"/><path d="M106.3 61.4 L108.7 62.0 L109.7 60.8 L107.4 60.2 Z" fill="#ffcb3b" stroke="#ffcb3b" stroke-width="0.5"/><path d="M106.3 61.4 L108.7 62.0 M106.3 61.4 L107.4 60.2 " class="m"/><path d="M96.0 56.6 L98.3 59.0 L99.4 57.9 L97.2 55.3 Z" fill="#e08d28" stroke="#e08d28" stroke-width="0.5"/><path d="M97.2 55.3 L99.4 57.9 M96.0 56.6 L97.2 55.3 " class="m"/><path d="M98.3 59.0 L100.6 60.7 L101.7 59.6 L99.4 57.9 Z" fill="#dda02d" stroke="#dda02d" stroke-width="0.5"/><path d="M99.4 57.9 L101.7 59.6 M100.6 60.7 L101.7 59.6 " class="m"/><path d="M48.4 77.7 L50.6 78.7 L52.0 78.0 L49.8 76.6 Z" fill="#5dbac6" stroke="#5dbac6" stroke-width="0.5"/><path d="M48.4 77.7 L50.6 78.7 M48.4 77.7 L49.8 76.6 " class="m"/><path d="M91.5 52.5 L93.8 53.9 L94.9 52.3 L92.7 50.9 Z" fill="#dc521e" stroke="#dc521e" stroke-width="0.5"/><path d="M92.7 50.9 L94.9 52.3 M91.5 52.5 L92.7 50.9 " class="m"/><path d="M42.6 76.8 L44.8 78.1 L46.2 76.5 L44.0 74.5 Z" fill="#66c1ac" stroke="#66c1ac" stroke-width="0.5"/><path d="M44.0 74.5 L46.2 76.5 M42.6 76.8 L44.0 74.5 " class="m"/><path d="M93.8 53.9 L96.0 56.6 L97.2 55.3 L94.9 52.3 Z" fill="#e06c23" stroke="#e06c23" stroke-width="0.5"/><path d="M94.9 52.3 L97.2 55.3 M96.0 56.6 L97.2 55.3 " class="m"/><path d="M114.5 62.1 L116.8 62.8 L117.9 61.5 L115.5 60.9 Z" fill="#ffc93b" stroke="#ffc93b" stroke-width="0.5"/><path d="M115.5 60.9 L117.9 61.5 M116.8 62.8 L117.9 61.5 " class="m"/><path d="M100.6 60.7 L102.9 61.9 L104.0 60.8 L101.7 59.6 Z" fill="#dfad31" stroke="#dfad31" stroke-width="0.5"/><path d="M101.7 59.6 L104.0 60.8 M100.6 60.7 L101.7 59.6 " class="m"/><path d="M73.9 75.4 L76.1 70.8 L77.4 70.4 L75.2 74.8 Z" fill="#8adf9a" stroke="#8adf9a" stroke-width="0.5"/><path d="M73.9 75.4 L76.1 70.8 M73.9 75.4 L75.2 74.8 " class="m"/><path d="M88.0 55.4 L90.3 53.9 L91.5 52.5 L89.2 54.1 Z" fill="#ff8530" stroke="#ff8530" stroke-width="0.5"/><path d="M88.0 55.4 L90.3 53.9 M90.3 53.9 L91.5 52.5 " class="m"/><path d="M108.7 62.0 L111.0 62.7 L112.1 61.4 L109.7 60.8 Z" fill="#ffc93b" stroke="#ffc93b" stroke-width="0.5"/><path d="M108.7 62.0 L111.0 62.7 M111.0 62.7 L112.1 61.4 " class="m"/><path d="M78.6 69.7 L80.9 64.1 L82.1 62.6 L79.8 69.0 Z" fill="#d1d74c" stroke="#d1d74c" stroke-width="0.5"/><path d="M78.6 69.7 L80.9 64.1 M80.9 64.1 L82.1 62.6 " class="m"/><path d="M56.4 80.1 L58.6 80.5 L60.0 80.3 L57.8 79.7 Z" fill="#53a9e3" stroke="#53a9e3" stroke-width="0.5"/><path d="M57.8 79.7 L60.0 80.3 M58.6 80.5 L60.0 80.3 " class="m"/><path d="M44.8 78.1 L47.0 79.1 L48.4 77.7 L46.2 76.5 Z" fill="#68cac7" stroke="#68cac7" stroke-width="0.5"/><path d="M46.2 76.5 L48.4 77.7 M47.0 79.1 L48.4 77.7 " class="m"/><path d="M116.8 62.8 L119.3 63.4 L120.2 62.2 L117.9 61.5 Z" fill="#ffc93b" stroke="#ffc93b" stroke-width="0.5"/><path d="M117.9 61.5 L120.2 62.2 M116.8 62.8 L117.9 61.5 " class="m"/><path d="M50.6 78.7 L52.8 79.8 L54.2 79.2 L52.0 78.0 Z" fill="#58b7d0" stroke="#58b7d0" stroke-width="0.5"/><path d="M50.6 78.7 L52.8 79.8 M52.8 79.8 L54.2 79.2 " class="m"/><path d="M102.9 61.9 L105.2 62.6 L106.3 61.4 L104.0 60.8 Z" fill="#fec83a" stroke="#fec83a" stroke-width="0.5"/><path d="M104.0 60.8 L106.3 61.4 M105.2 62.6 L106.3 61.4 " class="m"/><path d="M65.7 79.6 L67.9 78.7 L69.2 78.2 L67.0 79.2 Z" fill="#63d2fe" stroke="#63d2fe" stroke-width="0.5"/><path d="M67.0 79.2 L69.2 78.2 M65.7 79.6 L67.0 79.2 " class="m"/><path d="M83.3 61.7 L85.6 58.1 L86.8 56.8 L84.5 61.0 Z" fill="#ffbd37" stroke="#ffbd37" stroke-width="0.5"/><path d="M83.3 61.7 L85.6 58.1 M83.3 61.7 L84.5 61.0 " class="m"/><path d="M69.2 78.2 L71.4 76.4 L72.7 76.0 L70.5 77.8 Z" fill="#72dfe2" stroke="#72dfe2" stroke-width="0.5"/><path d="M69.2 78.2 L71.4 76.4 M71.4 76.4 L72.7 76.0 " class="m"/><path d="M41.2 78.8 L43.4 79.7 L44.8 78.1 L42.6 76.8 Z" fill="#6acec8" stroke="#6acec8" stroke-width="0.5"/><path d="M41.2 78.8 L43.4 79.7 M41.2 78.8 L42.6 76.8 " class="m"/><path d="M111.0 62.7 L113.4 63.3 L114.5 62.1 L112.1 61.4 Z" fill="#ffc93b" stroke="#ffc93b" stroke-width="0.5"/><path d="M111.0 62.7 L113.4 63.3 M111.0 62.7 L112.1 61.4 " class="m"/><path d="M62.2 80.4 L64.3 79.9 L65.7 79.6 L63.5 79.9 Z" fill="#5ec3fc" stroke="#5ec3fc" stroke-width="0.5"/><path d="M62.2 80.4 L64.3 79.9 M64.3 79.9 L65.7 79.6 " class="m"/><path d="M119.3 63.4 L121.7 64.1 L122.7 62.9 L120.2 62.2 Z" fill="#ffc93b" stroke="#ffc93b" stroke-width="0.5"/><path d="M120.2 62.2 L122.7 62.9 M121.7 64.1 L122.7 62.9 " class="m"/><path d="M105.2 62.6 L107.6 63.2 L108.7 62.0 L106.3 61.4 Z" fill="#ffcb3b" stroke="#ffcb3b" stroke-width="0.5"/><path d="M106.3 61.4 L108.7 62.0 M105.2 62.6 L106.3 61.4 " class="m"/><path d="M94.9 57.9 L97.2 60.2 L98.3 59.0 L96.0 56.6 Z" fill="#e08e28" stroke="#e08e28" stroke-width="0.5"/><path d="M94.9 57.9 L97.2 60.2 M94.9 57.9 L96.0 56.6 " class="m"/><path d="M90.3 53.9 L92.6 55.3 L93.8 53.9 L91.5 52.5 Z" fill="#dd571f" stroke="#dd571f" stroke-width="0.5"/><path d="M90.3 53.9 L92.6 55.3 M90.3 53.9 L91.5 52.5 " class="m"/><path d="M97.2 60.2 L99.5 61.8 L100.6 60.7 L98.3 59.0 Z" fill="#dd9f2d" stroke="#dd9f2d" stroke-width="0.5"/><path d="M97.2 60.2 L99.5 61.8 M99.5 61.8 L100.6 60.7 " class="m"/><path d="M47.0 79.1 L49.2 79.9 L50.6 78.7 L48.4 77.7 Z" fill="#66cad1" stroke="#66cad1" stroke-width="0.5"/><path d="M48.4 77.7 L50.6 78.7 M47.0 79.1 L48.4 77.7 " class="m"/><path d="M52.8 79.8 L55.0 80.5 L56.4 80.1 L54.2 79.2 Z" fill="#56b5d6" stroke="#56b5d6" stroke-width="0.5"/><path d="M52.8 79.8 L55.0 80.5 M52.8 79.8 L54.2 79.2 " class="m"/><path d="M92.6 55.3 L94.9 57.9 L96.0 56.6 L93.8 53.9 Z" fill="#e07023" stroke="#e07023" stroke-width="0.5"/><path d="M92.6 55.3 L94.9 57.9 M94.9 57.9 L96.0 56.6 " class="m"/><path d="M113.4 63.3 L115.8 64.0 L116.8 62.8 L114.5 62.1 Z" fill="#ffc93b" stroke="#ffc93b" stroke-width="0.5"/><path d="M113.4 63.3 L115.8 64.0 M115.8 64.0 L116.8 62.8 " class="m"/><path d="M58.6 80.5 L60.8 80.5 L62.2 80.4 L60.0 80.3 Z" fill="#58b8e8" stroke="#58b8e8" stroke-width="0.5"/><path d="M60.0 80.3 L62.2 80.4 M58.6 80.5 L60.0 80.3 " class="m"/><path d="M86.8 56.8 L89.1 55.6 L90.3 53.9 L88.0 55.4 Z" fill="#ff8d31" stroke="#ff8d31" stroke-width="0.5"/><path d="M88.0 55.4 L90.3 53.9 M89.1 55.6 L90.3 53.9 " class="m"/><path d="M99.5 61.8 L101.8 63.0 L102.9 61.9 L100.6 60.7 Z" fill="#ddaa30" stroke="#ddaa30" stroke-width="0.5"/><path d="M99.5 61.8 L101.8 63.0 M99.5 61.8 L100.6 60.7 " class="m"/><path d="M121.7 64.1 L124.1 64.8 L125.1 63.5 L122.7 62.9 Z" fill="#ffc93b" stroke="#ffc93b" stroke-width="0.5"/><path d="M122.7 62.9 L125.1 63.5 M121.7 64.1 L122.7 62.9 " class="m"/><path d="M43.4 79.7 L45.6 80.5 L47.0 79.1 L44.8 78.1 Z" fill="#6bd3d6" stroke="#6bd3d6" stroke-width="0.5"/><path d="M43.4 79.7 L45.6 80.5 M45.6 80.5 L47.0 79.1 " class="m"/><path d="M107.6 63.2 L110.0 63.9 L111.0 62.7 L108.7 62.0 Z" fill="#ffc93b" stroke="#ffc93b" stroke-width="0.5"/><path d="M108.7 62.0 L111.0 62.7 M110.0 63.9 L111.0 62.7 " class="m"/><path d="M72.7 76.0 L74.8 71.2 L76.1 70.8 L73.9 75.4 Z" fill="#94de86" stroke="#94de86" stroke-width="0.5"/><path d="M73.9 75.4 L76.1 70.8 M72.7 76.0 L73.9 75.4 " class="m"/><path d="M77.4 70.4 L79.6 65.1 L80.9 64.1 L78.6 69.7 Z" fill="#d4d64b" stroke="#d4d64b" stroke-width="0.5"/><path d="M78.6 69.7 L80.9 64.1 M79.6 65.1 L80.9 64.1 " class="m"/><path d="M39.8 80.4 L41.9 81.2 L43.4 79.7 L41.2 78.8 Z" fill="#6cd5dc" stroke="#6cd5dc" stroke-width="0.5"/><path d="M41.2 78.8 L43.4 79.7 M39.8 80.4 L41.2 78.8 " class="m"/><path d="M115.8 64.0 L118.2 64.7 L119.3 63.4 L116.8 62.8 Z" fill="#ffc93b" stroke="#ffc93b" stroke-width="0.5"/><path d="M115.8 64.0 L118.2 64.7 M115.8 64.0 L116.8 62.8 " class="m"/><path d="M49.2 79.9 L51.4 80.8 L52.8 79.8 L50.6 78.7 Z" fill="#63c6d4" stroke="#63c6d4" stroke-width="0.5"/><path d="M50.6 78.7 L52.8 79.8 M51.4 80.8 L52.8 79.8 " class="m"/><path d="M101.8 63.0 L104.1 63.8 L105.2 62.6 L102.9 61.9 Z" fill="#fbc539" stroke="#fbc539" stroke-width="0.5"/><path d="M101.8 63.0 L104.1 63.8 M104.1 63.8 L105.2 62.6 " class="m"/><path d="M124.1 64.8 L126.6 65.5 L127.5 64.2 L125.1 63.5 Z" fill="#ffc93b" stroke="#ffc93b" stroke-width="0.5"/><path d="M125.1 63.5 L127.5 64.2 M126.6 65.5 L127.5 64.2 " class="m"/><path d="M82.1 62.6 L84.4 59.5 L85.6 58.1 L83.3 61.7 Z" fill="#ffc038" stroke="#ffc038" stroke-width="0.5"/><path d="M83.3 61.7 L85.6 58.1 M82.1 62.6 L83.3 61.7 " class="m"/><path d="M55.0 80.5 L57.2 80.8 L58.6 80.5 L56.4 80.1 Z" fill="#5cbfde" stroke="#5cbfde" stroke-width="0.5"/><path d="M55.0 80.5 L57.2 80.8 M57.2 80.8 L58.6 80.5 " class="m"/><path d="M110.0 63.9 L112.4 64.6 L113.4 63.3 L111.0 62.7 Z" fill="#ffc93b" stroke="#ffc93b" stroke-width="0.5"/><path d="M111.0 62.7 L113.4 63.3 M110.0 63.9 L111.0 62.7 " class="m"/><path d="M64.3 79.9 L66.5 79.1 L67.9 78.7 L65.7 79.6 Z" fill="#6ddae7" stroke="#6ddae7" stroke-width="0.5"/><path d="M64.3 79.9 L66.5 79.1 M64.3 79.9 L65.7 79.6 " class="m"/><path d="M45.6 80.5 L47.7 81.3 L49.2 79.9 L47.0 79.1 Z" fill="#6ad2db" stroke="#6ad2db" stroke-width="0.5"/><path d="M45.6 80.5 L47.7 81.3 M45.6 80.5 L47.0 79.1 " class="m"/><path d="M89.1 55.6 L91.5 56.9 L92.6 55.3 L90.3 53.9 Z" fill="#de5e20" stroke="#de5e20" stroke-width="0.5"/><path d="M90.3 53.9 L92.6 55.3 M89.1 55.6 L90.3 53.9 " class="m"/><path d="M67.9 78.7 L70.0 76.7 L71.4 76.4 L69.2 78.2 Z" fill="#7ae2c9" stroke="#7ae2c9" stroke-width="0.5"/><path d="M69.2 78.2 L71.4 76.4 M70.0 76.7 L71.4 76.4 " class="m"/><path d="M118.2 64.7 L120.7 65.3 L121.7 64.1 L119.3 63.4 Z" fill="#ffc93b" stroke="#ffc93b" stroke-width="0.5"/><path d="M118.2 64.7 L120.7 65.3 M120.7 65.3 L121.7 64.1 " class="m"/><path d="M126.6 65.5 L129.0 66.1 L130.0 64.9 L127.5 64.2 Z" fill="#ffc93b" stroke="#ffc93b" stroke-width="0.5"/><path d="M127.5 64.2 L130.0 64.9 M126.6 65.5 L127.5 64.2 " class="m"/><path d="M93.7 59.3 L96.0 61.4 L97.2 60.2 L94.9 57.9 Z" fill="#e08f28" stroke="#e08f28" stroke-width="0.5"/><path d="M94.9 57.9 L97.2 60.2 M93.7 59.3 L94.9 57.9 " class="m"/><path d="M104.1 63.8 L106.5 64.5 L107.6 63.2 L105.2 62.6 Z" fill="#ffca3b" stroke="#ffca3b" stroke-width="0.5"/><path d="M104.1 63.8 L106.5 64.5 M104.1 63.8 L105.2 62.6 " class="m"/><path d="M91.5 56.9 L93.7 59.3 L94.9 57.9 L92.6 55.3 Z" fill="#e07324" stroke="#e07324" stroke-width="0.5"/><path d="M92.6 55.3 L94.9 57.9 M93.7 59.3 L94.9 57.9 " class="m"/><path d="M96.0 61.4 L98.3 63.0 L99.5 61.8 L97.2 60.2 Z" fill="#dd9f2d" stroke="#dd9f2d" stroke-width="0.5"/><path d="M97.2 60.2 L99.5 61.8 M98.3 63.0 L99.5 61.8 " class="m"/><path d="M60.8 80.5 L63.0 80.5 L64.3 79.9 L62.2 80.4 Z" fill="#66d0e9" stroke="#66d0e9" stroke-width="0.5"/><path d="M62.2 80.4 L64.3 79.9 M63.0 80.5 L64.3 79.9 " class="m"/><path d="M41.9 81.2 L44.1 82.0 L45.6 80.5 L43.4 79.7 Z" fill="#6bd5de" stroke="#6bd5de" stroke-width="0.5"/><path d="M43.4 79.7 L45.6 80.5 M44.1 82.0 L45.6 80.5 " class="m"/><path d="M85.6 58.1 L87.9 57.3 L89.1 55.6 L86.8 56.8 Z" fill="#ff9533" stroke="#ff9533" stroke-width="0.5"/><path d="M85.6 58.1 L87.9 57.3 M87.9 57.3 L89.1 55.6 " class="m"/><path d="M51.4 80.8 L53.6 81.4 L55.0 80.5 L52.8 79.8 Z" fill="#65cdde" stroke="#65cdde" stroke-width="0.5"/><path d="M52.8 79.8 L55.0 80.5 M51.4 80.8 L52.8 79.8 " class="m"/><path d="M112.4 64.6 L114.8 65.2 L115.8 64.0 L113.4 63.3 Z" fill="#ffc93b" stroke="#ffc93b" stroke-width="0.5"/><path d="M113.4 63.3 L115.8 64.0 M114.8 65.2 L115.8 64.0 " class="m"/><path d="M98.3 63.0 L100.7 64.2 L101.8 63.0 L99.5 61.8 Z" fill="#deaa30" stroke="#deaa30" stroke-width="0.5"/><path d="M99.5 61.8 L101.8 63.0 M98.3 63.0 L99.5 61.8 " class="m"/><path d="M38.3 81.9 L40.5 82.7 L41.9 81.2 L39.8 80.4 Z" fill="#6ad3e0" stroke="#6ad3e0" stroke-width="0.5"/><path d="M38.3 81.9 L40.5 82.7 M38.3 81.9 L39.8 80.4 " class="m"/><path d="M129.0 66.1 L131.5 66.8 L132.5 65.6 L130.0 64.9 Z" fill="#ffc93b" stroke="#ffc93b" stroke-width="0.5"/><path d="M130.0 64.9 L132.5 65.6 M131.5 66.8 L132.5 65.6 " class="m"/><path d="M120.7 65.3 L123.1 66.0 L124.1 64.8 L121.7 64.1 Z" fill="#ffc93b" stroke="#ffc93b" stroke-width="0.5"/><path d="M120.7 65.3 L123.1 66.0 M120.7 65.3 L121.7 64.1 " class="m"/><path d="M106.5 64.5 L108.9 65.1 L110.0 63.9 L107.6 63.2 Z" fill="#ffc93b" stroke="#ffc93b" stroke-width="0.5"/><path d="M106.5 64.5 L108.9 65.1 M108.9 65.1 L110.0 63.9 " class="m"/><path d="M57.2 80.8 L59.4 81.2 L60.8 80.5 L58.6 80.5 Z" fill="#65cde0" stroke="#65cde0" stroke-width="0.5"/><path d="M57.2 80.8 L59.4 81.2 M57.2 80.8 L58.6 80.5 " class="m"/><path d="M47.7 81.3 L49.9 82.1 L51.4 80.8 L49.2 79.9 Z" fill="#6ad3df" stroke="#6ad3df" stroke-width="0.5"/><path d="M47.7 81.3 L49.9 82.1 M49.9 82.1 L51.4 80.8 " class="m"/><path d="M100.7 64.2 L103.0 65.0 L104.1 63.8 L101.8 63.0 Z" fill="#f9c339" stroke="#f9c339" stroke-width="0.5"/><path d="M101.8 63.0 L104.1 63.8 M103.0 65.0 L104.1 63.8 " class="m"/><path d="M114.8 65.2 L117.2 65.9 L118.2 64.7 L115.8 64.0 Z" fill="#ffc93b" stroke="#ffc93b" stroke-width="0.5"/><path d="M115.8 64.0 L118.2 64.7 M114.8 65.2 L115.8 64.0 " class="m"/><path d="M76.1 70.8 L78.4 65.7 L79.6 65.1 L77.4 70.4 Z" fill="#dad246" stroke="#dad246" stroke-width="0.5"/><path d="M76.1 70.8 L78.4 65.7 M78.4 65.7 L79.6 65.1 " class="m"/><path d="M131.5 66.8 L134.0 67.5 L135.0 66.2 L132.5 65.6 Z" fill="#ffc93b" stroke="#ffc93b" stroke-width="0.5"/><path d="M132.5 65.6 L135.0 66.2 M131.5 66.8 L132.5 65.6 " class="m"/><path d="M80.9 64.1 L83.2 61.0 L84.4 59.5 L82.1 62.6 Z" fill="#ffc63a" stroke="#ffc63a" stroke-width="0.5"/><path d="M80.9 64.1 L83.2 61.0 M80.9 64.1 L82.1 62.6 " class="m"/><path d="M71.4 76.4 L73.5 71.6 L74.8 71.2 L72.7 76.0 Z" fill="#9fd975" stroke="#9fd975" stroke-width="0.5"/><path d="M71.4 76.4 L73.5 71.6 M71.4 76.4 L72.7 76.0 " class="m"/><path d="M123.1 66.0 L125.6 66.7 L126.6 65.5 L124.1 64.8 Z" fill="#ffc93b" stroke="#ffc93b" stroke-width="0.5"/><path d="M123.1 66.0 L125.6 66.7 M125.6 66.7 L126.6 65.5 " class="m"/><path d="M44.1 82.0 L46.3 82.8 L47.7 81.3 L45.6 80.5 Z" fill="#6bd4e0" stroke="#6bd4e0" stroke-width="0.5"/><path d="M45.6 80.5 L47.7 81.3 M44.1 82.0 L45.6 80.5 " class="m"/><path d="M87.9 57.3 L90.3 58.5 L91.5 56.9 L89.1 55.6 Z" fill="#e56823" stroke="#e56823" stroke-width="0.5"/><path d="M87.9 57.3 L90.3 58.5 M87.9 57.3 L89.1 55.6 " class="m"/><path d="M53.6 81.4 L55.8 82.0 L57.2 80.8 L55.0 80.5 Z" fill="#6cd8e7" stroke="#6cd8e7" stroke-width="0.5"/><path d="M55.0 80.5 L57.2 80.8 M55.8 82.0 L57.2 80.8 " class="m"/><path d="M108.9 65.1 L111.3 65.8 L112.4 64.6 L110.0 63.9 Z" fill="#ffc93b" stroke="#ffc93b" stroke-width="0.5"/><path d="M108.9 65.1 L111.3 65.8 M108.9 65.1 L110.0 63.9 " class="m"/><path d="M40.5 82.7 L42.7 83.6 L44.1 82.0 L41.9 81.2 Z" fill="#6bd5e5" stroke="#6bd5e5" stroke-width="0.5"/><path d="M40.5 82.7 L42.7 83.6 M42.7 83.6 L44.1 82.0 " class="m"/><path d="M90.3 58.5 L92.6 60.7 L93.7 59.3 L91.5 56.9 Z" fill="#e07825" stroke="#e07825" stroke-width="0.5"/><path d="M90.3 58.5 L92.6 60.7 M92.6 60.7 L93.7 59.3 " class="m"/><path d="M134.0 67.5 L136.5 68.2 L137.5 66.9 L135.0 66.2 Z" fill="#ffc93b" stroke="#ffc93b" stroke-width="0.5"/><path d="M135.0 66.2 L137.5 66.9 M136.5 68.2 L137.5 66.9 " class="m"/><path d="M92.6 60.7 L94.9 62.7 L96.0 61.4 L93.7 59.3 Z" fill="#e09029" stroke="#e09029" stroke-width="0.5"/><path d="M92.6 60.7 L94.9 62.7 M92.6 60.7 L93.7 59.3 " class="m"/><path d="M117.2 65.9 L119.7 66.6 L120.7 65.3 L118.2 64.7 Z" fill="#ffc93b" stroke="#ffc93b" stroke-width="0.5"/><path d="M118.2 64.7 L120.7 65.3 M119.7 66.6 L120.7 65.3 " class="m"/><path d="M125.6 66.7 L128.1 67.4 L129.0 66.1 L126.6 65.5 Z" fill="#ffc93b" stroke="#ffc93b" stroke-width="0.5"/><path d="M125.6 66.7 L128.1 67.4 M125.6 66.7 L126.6 65.5 " class="m"/><path d="M103.0 65.0 L105.4 65.7 L106.5 64.5 L104.1 63.8 Z" fill="#ffc93b" stroke="#ffc93b" stroke-width="0.5"/><path d="M104.1 63.8 L106.5 64.5 M103.0 65.0 L104.1 63.8 " class="m"/><path d="M84.4 59.5 L86.7 58.8 L87.9 57.3 L85.6 58.1 Z" fill="#ff9b34" stroke="#ff9b34" stroke-width="0.5"/><path d="M85.6 58.1 L87.9 57.3 M86.7 58.8 L87.9 57.3 " class="m"/><path d="M36.8 83.6 L39.0 84.4 L40.5 82.7 L38.3 81.9 Z" fill="#69d3e7" stroke="#69d3e7" stroke-width="0.5"/><path d="M38.3 81.9 L40.5 82.7 M36.8 83.6 L38.3 81.9 " class="m"/><path d="M94.9 62.7 L97.2 64.3 L98.3 63.0 L96.0 61.4 Z" fill="#dd9f2d" stroke="#dd9f2d" stroke-width="0.5"/><path d="M94.9 62.7 L97.2 64.3 M97.2 64.3 L98.3 63.0 " class="m"/><path d="M63.0 80.5 L65.2 79.6 L66.5 79.1 L64.3 79.9 Z" fill="#78e4d4" stroke="#78e4d4" stroke-width="0.5"/><path d="M64.3 79.9 L66.5 79.1 M63.0 80.5 L64.3 79.9 " class="m"/><path d="M49.9 82.1 L52.2 82.8 L53.6 81.4 L51.4 80.8 Z" fill="#6cd7e2" stroke="#6cd7e2" stroke-width="0.5"/><path d="M49.9 82.1 L52.2 82.8 M49.9 82.1 L51.4 80.8 " class="m"/><path d="M66.5 79.1 L68.7 76.6 L70.0 76.7 L67.9 78.7 Z" fill="#86e1a8" stroke="#86e1a8" stroke-width="0.5"/><path d="M66.5 79.1 L68.7 76.6 M68.7 76.6 L70.0 76.7 " class="m"/><path d="M59.4 81.2 L61.6 81.3 L63.0 80.5 L60.8 80.5 Z" fill="#72dfde" stroke="#72dfde" stroke-width="0.5"/><path d="M59.4 81.2 L61.6 81.3 M61.6 81.3 L63.0 80.5 " class="m"/><path d="M111.3 65.8 L113.7 66.5 L114.8 65.2 L112.4 64.6 Z" fill="#ffc93b" stroke="#ffc93b" stroke-width="0.5"/><path d="M111.3 65.8 L113.7 66.5 M113.7 66.5 L114.8 65.2 " class="m"/><path d="M97.2 64.3 L99.5 65.5 L100.7 64.2 L98.3 63.0 Z" fill="#e1ac31" stroke="#e1ac31" stroke-width="0.5"/><path d="M97.2 64.3 L99.5 65.5 M97.2 64.3 L98.3 63.0 " class="m"/><path d="M46.3 82.8 L48.5 83.4 L49.9 82.1 L47.7 81.3 Z" fill="#6cd7e3" stroke="#6cd7e3" stroke-width="0.5"/><path d="M47.7 81.3 L49.9 82.1 M48.5 83.4 L49.9 82.1 " class="m"/><path d="M128.1 67.4 L130.6 68.1 L131.5 66.8 L129.0 66.1 Z" fill="#ffc93b" stroke="#ffc93b" stroke-width="0.5"/><path d="M128.1 67.4 L130.6 68.1 M130.6 68.1 L131.5 66.8 " class="m"/><path d="M119.7 66.6 L122.1 67.3 L123.1 66.0 L120.7 65.3 Z" fill="#ffc93b" stroke="#ffc93b" stroke-width="0.5"/><path d="M120.7 65.3 L123.1 66.0 M119.7 66.6 L120.7 65.3 " class="m"/><path d="M105.4 65.7 L107.8 66.4 L108.9 65.1 L106.5 64.5 Z" fill="#ffc93b" stroke="#ffc93b" stroke-width="0.5"/><path d="M106.5 64.5 L108.9 65.1 M107.8 66.4 L108.9 65.1 " class="m"/><path d="M55.8 82.0 L58.0 82.4 L59.4 81.2 L57.2 80.8 Z" fill="#72e0e5" stroke="#72e0e5" stroke-width="0.5"/><path d="M57.2 80.8 L59.4 81.2 M55.8 82.0 L57.2 80.8 " class="m"/><path d="M42.7 83.6 L44.9 84.2 L46.3 82.8 L44.1 82.0 Z" fill="#6bd7e8" stroke="#6bd7e8" stroke-width="0.5"/><path d="M42.7 83.6 L44.9 84.2 M42.7 83.6 L44.1 82.0 " class="m"/><path d="M79.6 65.1 L81.9 62.4 L83.2 61.0 L80.9 64.1 Z" fill="#ffc73b" stroke="#ffc73b" stroke-width="0.5"/><path d="M80.9 64.1 L83.2 61.0 M79.6 65.1 L80.9 64.1 " class="m"/><path d="M99.5 65.5 L101.9 66.3 L103.0 65.0 L100.7 64.2 Z" fill="#fac439" stroke="#fac439" stroke-width="0.5"/><path d="M99.5 65.5 L101.9 66.3 M101.9 66.3 L103.0 65.0 " class="m"/><path d="M113.7 66.5 L116.2 67.2 L117.2 65.9 L114.8 65.2 Z" fill="#ffc93b" stroke="#ffc93b" stroke-width="0.5"/><path d="M113.7 66.5 L116.2 67.2 M113.7 66.5 L114.8 65.2 " class="m"/><path d="M39.0 84.4 L41.2 85.1 L42.7 83.6 L40.5 82.7 Z" fill="#69d5ec" stroke="#69d5ec" stroke-width="0.5"/><path d="M40.5 82.7 L42.7 83.6 M41.2 85.1 L42.7 83.6 " class="m"/><path d="M130.6 68.1 L133.1 68.8 L134.0 67.5 L131.5 66.8 Z" fill="#ffc93b" stroke="#ffc93b" stroke-width="0.5"/><path d="M130.6 68.1 L133.1 68.8 M130.6 68.1 L131.5 66.8 " class="m"/><path d="M86.7 58.8 L89.1 60.0 L90.3 58.5 L87.9 57.3 Z" fill="#e96f24" stroke="#e96f24" stroke-width="0.5"/><path d="M87.9 57.3 L90.3 58.5 M86.7 58.8 L87.9 57.3 " class="m"/><path d="M122.1 67.3 L124.6 68.0 L125.6 66.7 L123.1 66.0 Z" fill="#ffc93b" stroke="#ffc93b" stroke-width="0.5"/><path d="M123.1 66.0 L125.6 66.7 M124.6 68.0 L125.6 66.7 " class="m"/><path d="M52.2 82.8 L54.4 83.3 L55.8 82.0 L53.6 81.4 Z" fill="#6fdbe4" stroke="#6fdbe4" stroke-width="0.5"/><path d="M52.2 82.8 L54.4 83.3 M54.4 83.3 L55.8 82.0 " class="m"/><path d="M35.3 85.2 L37.5 86.0 L39.0 84.4 L36.8 83.6 Z" fill="#67d3f1" stroke="#67d3f1" stroke-width="0.5"/><path d="M35.3 85.2 L37.5 86.0 M35.3 85.2 L36.8 83.6 " class="m"/><path d="M74.8 71.2 L77.1 66.6 L78.4 65.7 L76.1 70.8 Z" fill="#e5d242" stroke="#e5d242" stroke-width="0.5"/><path d="M76.1 70.8 L78.4 65.7 M77.1 66.6 L78.4 65.7 " class="m"/><path d="M89.1 60.0 L91.4 62.1 L92.6 60.7 L90.3 58.5 Z" fill="#e07c25" stroke="#e07c25" stroke-width="0.5"/><path d="M90.3 58.5 L92.6 60.7 M91.4 62.1 L92.6 60.7 " class="m"/><path d="M107.8 66.4 L110.3 67.1 L111.3 65.8 L108.9 65.1 Z" fill="#ffc93b" stroke="#ffc93b" stroke-width="0.5"/><path d="M108.9 65.1 L111.3 65.8 M107.8 66.4 L108.9 65.1 " class="m"/><path d="M91.4 62.1 L93.7 64.1 L94.9 62.7 L92.6 60.7 Z" fill="#e09229" stroke="#e09229" stroke-width="0.5"/><path d="M92.6 60.7 L94.9 62.7 M91.4 62.1 L92.6 60.7 " class="m"/><path d="M70.0 76.7 L72.2 71.7 L73.5 71.6 L71.4 76.4 Z" fill="#a9d361" stroke="#a9d361" stroke-width="0.5"/><path d="M71.4 76.4 L73.5 71.6 M70.0 76.7 L71.4 76.4 " class="m"/><path d="M83.2 61.0 L85.5 60.3 L86.7 58.8 L84.4 59.5 Z" fill="#ffa035" stroke="#ffa035" stroke-width="0.5"/><path d="M83.2 61.0 L85.5 60.3 M85.5 60.3 L86.7 58.8 " class="m"/><path d="M48.5 83.4 L50.7 84.1 L52.2 82.8 L49.9 82.1 Z" fill="#6dd8e3" stroke="#6dd8e3" stroke-width="0.5"/><path d="M49.9 82.1 L52.2 82.8 M48.5 83.4 L49.9 82.1 " class="m"/><path d="M133.1 68.8 L135.6 69.5 L136.5 68.2 L134.0 67.5 Z" fill="#ffc93b" stroke="#ffc93b" stroke-width="0.5"/><path d="M133.1 68.8 L135.6 69.5 M135.6 69.5 L136.5 68.2 " class="m"/><path d="M93.7 64.1 L96.0 65.7 L97.2 64.3 L94.9 62.7 Z" fill="#dda12d" stroke="#dda12d" stroke-width="0.5"/><path d="M94.9 62.7 L97.2 64.3 M96.0 65.7 L97.2 64.3 " class="m"/><path d="M116.2 67.2 L118.6 67.9 L119.7 66.6 L117.2 65.9 Z" fill="#ffc93b" stroke="#ffc93b" stroke-width="0.5"/><path d="M116.2 67.2 L118.6 67.9 M118.6 67.9 L119.7 66.6 " class="m"/><path d="M101.9 66.3 L104.3 67.0 L105.4 65.7 L103.0 65.0 Z" fill="#ffc93b" stroke="#ffc93b" stroke-width="0.5"/><path d="M101.9 66.3 L104.3 67.0 M101.9 66.3 L103.0 65.0 " class="m"/><path d="M124.6 68.0 L127.1 68.7 L128.1 67.4 L125.6 66.7 Z" fill="#ffc93b" stroke="#ffc93b" stroke-width="0.5"/><path d="M125.6 66.7 L128.1 67.4 M124.6 68.0 L125.6 66.7 " class="m"/><path d="M44.9 84.2 L47.1 84.8 L48.5 83.4 L46.3 82.8 Z" fill="#6ddae9" stroke="#6ddae9" stroke-width="0.5"/><path d="M44.9 84.2 L47.1 84.8 M47.1 84.8 L48.5 83.4 " class="m"/><path d="M96.0 65.7 L98.4 66.8 L99.5 65.5 L97.2 64.3 Z" fill="#e6b132" stroke="#e6b132" stroke-width="0.5"/><path d="M97.2 64.3 L99.5 65.5 M96.0 65.7 L97.2 64.3 " class="m"/><path d="M110.3 67.1 L112.7 67.8 L113.7 66.5 L111.3 65.8 Z" fill="#ffc93b" stroke="#ffc93b" stroke-width="0.5"/><path d="M111.3 65.8 L113.7 66.5 M112.7 67.8 L113.7 66.5 " class="m"/><path d="M58.0 82.4 L60.2 82.2 L61.6 81.3 L59.4 81.2 Z" fill="#7deedf" stroke="#7deedf" stroke-width="0.5"/><path d="M59.4 81.2 L61.6 81.3 M60.2 82.2 L61.6 81.3 " class="m"/><path d="M61.6 81.3 L63.8 79.7 L65.2 79.6 L63.0 80.5 Z" fill="#84e8bc" stroke="#84e8bc" stroke-width="0.5"/><path d="M61.6 81.3 L63.8 79.7 M61.6 81.3 L63.0 80.5 " class="m"/><path d="M41.2 85.1 L43.4 85.6 L44.9 84.2 L42.7 83.6 Z" fill="#6cdaef" stroke="#6cdaef" stroke-width="0.5"/><path d="M42.7 83.6 L44.9 84.2 M41.2 85.1 L42.7 83.6 " class="m"/><path d="M118.6 67.9 L121.1 68.6 L122.1 67.3 L119.7 66.6 Z" fill="#ffc93b" stroke="#ffc93b" stroke-width="0.5"/><path d="M118.6 67.9 L121.1 68.6 M118.6 67.9 L119.7 66.6 " class="m"/><path d="M127.1 68.7 L129.6 69.4 L130.6 68.1 L128.1 67.4 Z" fill="#ffc93b" stroke="#ffc93b" stroke-width="0.5"/><path d="M128.1 67.4 L130.6 68.1 M129.6 69.4 L130.6 68.1 " class="m"/><path d="M54.4 83.3 L56.6 83.6 L58.0 82.4 L55.8 82.0 Z" fill="#75e4e4" stroke="#75e4e4" stroke-width="0.5"/><path d="M54.4 83.3 L56.6 83.6 M54.4 83.3 L55.8 82.0 " class="m"/><path d="M37.5 86.0 L39.7 86.6 L41.2 85.1 L39.0 84.4 Z" fill="#69d8f4" stroke="#69d8f4" stroke-width="0.5"/><path d="M37.5 86.0 L39.7 86.6 M39.7 86.6 L41.2 85.1 " class="m"/><path d="M104.3 67.0 L106.7 67.7 L107.8 66.4 L105.4 65.7 Z" fill="#ffc93b" stroke="#ffc93b" stroke-width="0.5"/><path d="M104.3 67.0 L106.7 67.7 M106.7 67.7 L107.8 66.4 " class="m"/><path d="M33.8 86.8 L36.0 87.5 L37.5 86.0 L35.3 85.2 Z" fill="#65d2f6" stroke="#65d2f6" stroke-width="0.5"/><path d="M35.3 85.2 L37.5 86.0 M33.8 86.8 L35.3 85.2 " class="m"/><path d="M65.2 79.6 L67.3 76.3 L68.7 76.6 L66.5 79.1 Z" fill="#95e089" stroke="#95e089" stroke-width="0.5"/><path d="M66.5 79.1 L68.7 76.6 M67.3 76.3 L68.7 76.6 " class="m"/><path d="M85.5 60.3 L87.9 61.5 L89.1 60.0 L86.7 58.8 Z" fill="#ea7525" stroke="#ea7525" stroke-width="0.5"/><path d="M85.5 60.3 L87.9 61.5 M85.5 60.3 L86.7 58.8 " class="m"/><path d="M78.4 65.7 L80.7 63.7 L81.9 62.4 L79.6 65.1 Z" fill="#ffc53a" stroke="#ffc53a" stroke-width="0.5"/><path d="M78.4 65.7 L80.7 63.7 M78.4 65.7 L79.6 65.1 " class="m"/><path d="M98.4 66.8 L100.8 67.6 L101.9 66.3 L99.5 65.5 Z" fill="#fcc539" stroke="#fcc539" stroke-width="0.5"/><path d="M99.5 65.5 L101.9 66.3 M100.8 67.6 L101.9 66.3 " class="m"/><path d="M50.7 84.1 L52.9 84.6 L54.4 83.3 L52.2 82.8 Z" fill="#70dde4" stroke="#70dde4" stroke-width="0.5"/><path d="M52.2 82.8 L54.4 83.3 M52.9 84.6 L54.4 83.3 " class="m"/><path d="M112.7 67.8 L115.1 68.5 L116.2 67.2 L113.7 66.5 Z" fill="#ffc93b" stroke="#ffc93b" stroke-width="0.5"/><path d="M113.7 66.5 L116.2 67.2 M112.7 67.8 L113.7 66.5 " class="m"/><path d="M129.6 69.4 L132.1 70.1 L133.1 68.8 L130.6 68.1 Z" fill="#ffc93b" stroke="#ffc93b" stroke-width="0.5"/><path d="M130.6 68.1 L133.1 68.8 M129.6 69.4 L130.6 68.1 " class="m"/><path d="M121.1 68.6 L123.6 69.3 L124.6 68.0 L122.1 67.3 Z" fill="#ffc93b" stroke="#ffc93b" stroke-width="0.5"/><path d="M121.1 68.6 L123.6 69.3 M123.6 69.3 L124.6 68.0 " class="m"/><path d="M87.9 61.5 L90.2 63.5 L91.4 62.1 L89.1 60.0 Z" fill="#e07f26" stroke="#e07f26" stroke-width="0.5"/><path d="M87.9 61.5 L90.2 63.5 M90.2 63.5 L91.4 62.1 " class="m"/><path d="M47.1 84.8 L49.3 85.5 L50.7 84.1 L48.5 83.4 Z" fill="#6dd9e4" stroke="#6dd9e4" stroke-width="0.5"/><path d="M47.1 84.8 L49.3 85.5 M47.1 84.8 L48.5 83.4 " class="m"/><path d="M90.2 63.5 L92.5 65.5 L93.7 64.1 L91.4 62.1 Z" fill="#df942a" stroke="#df942a" stroke-width="0.5"/><path d="M90.2 63.5 L92.5 65.5 M90.2 63.5 L91.4 62.1 " class="m"/><path d="M81.9 62.4 L84.3 61.9 L85.5 60.3 L83.2 61.0 Z" fill="#ffa636" stroke="#ffa636" stroke-width="0.5"/><path d="M83.2 61.0 L85.5 60.3 M84.3 61.9 L85.5 60.3 " class="m"/><path d="M106.7 67.7 L109.2 68.4 L110.3 67.1 L107.8 66.4 Z" fill="#ffc93b" stroke="#ffc93b" stroke-width="0.5"/><path d="M106.7 67.7 L109.2 68.4 M106.7 67.7 L107.8 66.4 " class="m"/><path d="M73.5 71.6 L75.8 67.7 L77.1 66.6 L74.8 71.2 Z" fill="#f2d541" stroke="#f2d541" stroke-width="0.5"/><path d="M73.5 71.6 L75.8 67.7 M75.8 67.7 L77.1 66.6 " class="m"/><path d="M92.5 65.5 L94.9 67.0 L96.0 65.7 L93.7 64.1 Z" fill="#dda22e" stroke="#dda22e" stroke-width="0.5"/><path d="M92.5 65.5 L94.9 67.0 M94.9 67.0 L96.0 65.7 " class="m"/><path d="M43.4 85.6 L45.6 86.2 L47.1 84.8 L44.9 84.2 Z" fill="#6edbeb" stroke="#6edbeb" stroke-width="0.5"/><path d="M44.9 84.2 L47.1 84.8 M45.6 86.2 L47.1 84.8 " class="m"/><path d="M100.8 67.6 L103.2 68.3 L104.3 67.0 L101.9 66.3 Z" fill="#ffc93b" stroke="#ffc93b" stroke-width="0.5"/><path d="M101.9 66.3 L104.3 67.0 M100.8 67.6 L101.9 66.3 " class="m"/><path d="M132.1 70.1 L134.7 70.8 L135.6 69.5 L133.1 68.8 Z" fill="#ffc93b" stroke="#ffc93b" stroke-width="0.5"/><path d="M133.1 68.8 L135.6 69.5 M134.7 70.8 L135.6 69.5 " class="m"/><path d="M115.1 68.5 L117.6 69.2 L118.6 67.9 L116.2 67.2 Z" fill="#ffc93b" stroke="#ffc93b" stroke-width="0.5"/><path d="M116.2 67.2 L118.6 67.9 M117.6 69.2 L118.6 67.9 " class="m"/><path d="M123.6 69.3 L126.1 70.0 L127.1 68.7 L124.6 68.0 Z" fill="#ffc93b" stroke="#ffc93b" stroke-width="0.5"/><path d="M123.6 69.3 L126.1 70.0 M123.6 69.3 L124.6 68.0 " class="m"/><path d="M39.7 86.6 L41.9 86.9 L43.4 85.6 L41.2 85.1 Z" fill="#6dddf4" stroke="#6dddf4" stroke-width="0.5"/><path d="M39.7 86.6 L41.9 86.9 M39.7 86.6 L41.2 85.1 " class="m"/><path d="M68.7 76.6 L70.9 72.3 L72.2 71.7 L70.0 76.7 Z" fill="#bdd456" stroke="#bdd456" stroke-width="0.5"/><path d="M68.7 76.6 L70.9 72.3 M68.7 76.6 L70.0 76.7 " class="m"/><path d="M94.9 67.0 L97.2 68.1 L98.4 66.8 L96.0 65.7 Z" fill="#eab534" stroke="#eab534" stroke-width="0.5"/><path d="M94.9 67.0 L97.2 68.1 M94.9 67.0 L96.0 65.7 " class="m"/><path d="M36.0 87.5 L38.2 88.0 L39.7 86.6 L37.5 86.0 Z" fill="#6adafb" stroke="#6adafb" stroke-width="0.5"/><path d="M37.5 86.0 L39.7 86.6 M38.2 88.0 L39.7 86.6 " class="m"/><path d="M109.2 68.4 L111.6 69.1 L112.7 67.8 L110.3 67.1 Z" fill="#ffc93b" stroke="#ffc93b" stroke-width="0.5"/><path d="M109.2 68.4 L111.6 69.1 M111.6 69.1 L112.7 67.8 " class="m"/><path d="M32.2 88.3 L34.4 89.1 L36.0 87.5 L33.8 86.8 Z" fill="#63d0f9" stroke="#63d0f9" stroke-width="0.5"/><path d="M32.2 88.3 L34.4 89.1 M32.2 88.3 L33.8 86.8 " class="m"/><path d="M56.6 83.6 L58.8 82.7 L60.2 82.2 L58.0 82.4 Z" fill="#81efd3" stroke="#81efd3" stroke-width="0.5"/><path d="M56.6 83.6 L58.8 82.7 M58.8 82.7 L60.2 82.2 " class="m"/><path d="M52.9 84.6 L55.1 84.6 L56.6 83.6 L54.4 83.3 Z" fill="#78e7e1" stroke="#78e7e1" stroke-width="0.5"/><path d="M54.4 83.3 L56.6 83.6 M52.9 84.6 L54.4 83.3 " class="m"/><path d="M117.6 69.2 L120.1 69.9 L121.1 68.6 L118.6 67.9 Z" fill="#ffc93b" stroke="#ffc93b" stroke-width="0.5"/><path d="M118.6 67.9 L121.1 68.6 M117.6 69.2 L118.6 67.9 " class="m"/><path d="M126.1 70.0 L128.6 70.7 L129.6 69.4 L127.1 68.7 Z" fill="#ffc93b" stroke="#ffc93b" stroke-width="0.5"/><path d="M126.1 70.0 L128.6 70.7 M128.6 70.7 L129.6 69.4 " class="m"/><path d="M103.2 68.3 L105.6 69.0 L106.7 67.7 L104.3 67.0 Z" fill="#ffc93b" stroke="#ffc93b" stroke-width="0.5"/><path d="M104.3 67.0 L106.7 67.7 M105.6 69.0 L106.7 67.7 " class="m"/><path d="M84.3 61.9 L86.6 63.0 L87.9 61.5 L85.5 60.3 Z" fill="#f17d27" stroke="#f17d27" stroke-width="0.5"/><path d="M85.5 60.3 L87.9 61.5 M84.3 61.9 L85.5 60.3 " class="m"/><path d="M60.2 82.2 L62.3 79.7 L63.8 79.7 L61.6 81.3 Z" fill="#90eaa3" stroke="#90eaa3" stroke-width="0.5"/><path d="M61.6 81.3 L63.8 79.7 M60.2 82.2 L61.6 81.3 " class="m"/><path d="M49.3 85.5 L51.5 85.8 L52.9 84.6 L50.7 84.1 Z" fill="#73e1e5" stroke="#73e1e5" stroke-width="0.5"/><path d="M49.3 85.5 L51.5 85.8 M51.5 85.8 L52.9 84.6 " class="m"/><path d="M97.2 68.1 L99.7 68.9 L100.8 67.6 L98.4 66.8 Z" fill="#fdc63a" stroke="#fdc63a" stroke-width="0.5"/><path d="M97.2 68.1 L99.7 68.9 M99.7 68.9 L100.8 67.6 " class="m"/><path d="M77.1 66.6 L79.4 65.1 L80.7 63.7 L78.4 65.7 Z" fill="#ffc83b" stroke="#ffc83b" stroke-width="0.5"/><path d="M78.4 65.7 L80.7 63.7 M77.1 66.6 L78.4 65.7 " class="m"/><path d="M111.6 69.1 L114.1 69.8 L115.1 68.5 L112.7 67.8 Z" fill="#ffc93b" stroke="#ffc93b" stroke-width="0.5"/><path d="M111.6 69.1 L114.1 69.8 M111.6 69.1 L112.7 67.8 " class="m"/><path d="M45.6 86.2 L47.8 86.8 L49.3 85.5 L47.1 84.8 Z" fill="#6edae5" stroke="#6edae5" stroke-width="0.5"/><path d="M47.1 84.8 L49.3 85.5 M45.6 86.2 L47.1 84.8 " class="m"/><path d="M86.6 63.0 L89.0 64.8 L90.2 63.5 L87.9 61.5 Z" fill="#e08226" stroke="#e08226" stroke-width="0.5"/><path d="M87.9 61.5 L90.2 63.5 M89.0 64.8 L90.2 63.5 " class="m"/><path d="M80.7 63.7 L83.0 63.6 L84.3 61.9 L81.9 62.4 Z" fill="#ffaa36" stroke="#ffaa36" stroke-width="0.5"/><path d="M80.7 63.7 L83.0 63.6 M83.0 63.6 L84.3 61.9 " class="m"/><path d="M128.6 70.7 L131.2 71.4 L132.1 70.1 L129.6 69.4 Z" fill="#ffc93b" stroke="#ffc93b" stroke-width="0.5"/><path d="M128.6 70.7 L131.2 71.4 M128.6 70.7 L129.6 69.4 " class="m"/><path d="M120.1 69.9 L122.6 70.6 L123.6 69.3 L121.1 68.6 Z" fill="#ffc93b" stroke="#ffc93b" stroke-width="0.5"/><path d="M121.1 68.6 L123.6 69.3 M122.6 70.6 L123.6 69.3 " class="m"/><path d="M89.0 64.8 L91.3 66.7 L92.5 65.5 L90.2 63.5 Z" fill="#df952a" stroke="#df952a" stroke-width="0.5"/><path d="M90.2 63.5 L92.5 65.5 M89.0 64.8 L90.2 63.5 " class="m"/><path d="M41.9 86.9 L44.1 87.6 L45.6 86.2 L43.4 85.6 Z" fill="#6dd9e7" stroke="#6dd9e7" stroke-width="0.5"/><path d="M41.9 86.9 L44.1 87.6 M44.1 87.6 L45.6 86.2 " class="m"/><path d="M105.6 69.0 L108.1 69.7 L109.2 68.4 L106.7 67.7 Z" fill="#ffc93b" stroke="#ffc93b" stroke-width="0.5"/><path d="M106.7 67.7 L109.2 68.4 M105.6 69.0 L106.7 67.7 " class="m"/><path d="M63.8 79.7 L65.9 76.3 L67.3 76.3 L65.2 79.6 Z" fill="#a4d86e" stroke="#a4d86e" stroke-width="0.5"/><path d="M63.8 79.7 L65.9 76.3 M65.9 76.3 L67.3 76.3 " class="m"/><path d="M91.3 66.7 L93.7 68.2 L94.9 67.0 L92.5 65.5 Z" fill="#dda22e" stroke="#dda22e" stroke-width="0.5"/><path d="M92.5 65.5 L94.9 67.0 M93.7 68.2 L94.9 67.0 " class="m"/><path d="M38.2 88.0 L40.3 88.3 L41.9 86.9 L39.7 86.6 Z" fill="#6fe0f6" stroke="#6fe0f6" stroke-width="0.5"/><path d="M39.7 86.6 L41.9 86.9 M38.2 88.0 L39.7 86.6 " class="m"/><path d="M34.4 89.1 L36.6 89.3 L38.2 88.0 L36.0 87.5 Z" fill="#6cdeff" stroke="#6cdeff" stroke-width="0.5"/><path d="M34.4 89.1 L36.6 89.3 M36.6 89.3 L38.2 88.0 " class="m"/><path d="M99.7 68.9 L102.1 69.6 L103.2 68.3 L100.8 67.6 Z" fill="#ffc93b" stroke="#ffc93b" stroke-width="0.5"/><path d="M99.7 68.9 L102.1 69.6 M99.7 68.9 L100.8 67.6 " class="m"/><path d="M72.2 71.7 L74.5 69.1 L75.8 67.7 L73.5 71.6 Z" fill="#fed841" stroke="#fed841" stroke-width="0.5"/><path d="M73.5 71.6 L75.8 67.7 M74.5 69.1 L75.8 67.7 " class="m"/><path d="M114.1 69.8 L116.6 70.5 L117.6 69.2 L115.1 68.5 Z" fill="#ffc93b" stroke="#ffc93b" stroke-width="0.5"/><path d="M114.1 69.8 L116.6 70.5 M116.6 70.5 L117.6 69.2 " class="m"/><path d="M30.7 89.9 L32.9 90.5 L34.4 89.1 L32.2 88.3 Z" fill="#64d2fe" stroke="#64d2fe" stroke-width="0.5"/><path d="M32.2 88.3 L34.4 89.1 M30.7 89.9 L32.2 88.3 " class="m"/><path d="M131.2 71.4 L133.7 72.2 L134.7 70.8 L132.1 70.1 Z" fill="#ffc93b" stroke="#ffc93b" stroke-width="0.5"/><path d="M131.2 71.4 L133.7 72.2 M133.7 72.2 L134.7 70.8 " class="m"/><path d="M122.6 70.6 L125.1 71.3 L126.1 70.0 L123.6 69.3 Z" fill="#ffc93b" stroke="#ffc93b" stroke-width="0.5"/><path d="M123.6 69.3 L126.1 70.0 M122.6 70.6 L123.6 69.3 " class="m"/><path d="M93.7 68.2 L96.1 69.4 L97.2 68.1 L94.9 67.0 Z" fill="#e7b233" stroke="#e7b233" stroke-width="0.5"/><path d="M94.9 67.0 L97.2 68.1 M93.7 68.2 L94.9 67.0 " class="m"/><path d="M108.1 69.7 L110.5 70.4 L111.6 69.1 L109.2 68.4 Z" fill="#ffc93b" stroke="#ffc93b" stroke-width="0.5"/><path d="M109.2 68.4 L111.6 69.1 M110.5 70.4 L111.6 69.1 " class="m"/><path d="M83.0 63.6 L85.4 64.6 L86.6 63.0 L84.3 61.9 Z" fill="#f8862a" stroke="#f8862a" stroke-width="0.5"/><path d="M83.0 63.6 L85.4 64.6 M83.0 63.6 L84.3 61.9 " class="m"/><path d="M51.5 85.8 L53.7 85.2 L55.1 84.6 L52.9 84.6 Z" fill="#7dedda" stroke="#7dedda" stroke-width="0.5"/><path d="M51.5 85.8 L53.7 85.2 M51.5 85.8 L52.9 84.6 " class="m"/><path d="M47.8 86.8 L50.0 87.1 L51.5 85.8 L49.3 85.5 Z" fill="#76e6e7" stroke="#76e6e7" stroke-width="0.5"/><path d="M49.3 85.5 L51.5 85.8 M50.0 87.1 L51.5 85.8 " class="m"/><path d="M116.6 70.5 L119.1 71.2 L120.1 69.9 L117.6 69.2 Z" fill="#ffc93b" stroke="#ffc93b" stroke-width="0.5"/><path d="M116.6 70.5 L119.1 71.2 M116.6 70.5 L117.6 69.2 " class="m"/><path d="M55.1 84.6 L57.3 82.6 L58.8 82.7 L56.6 83.6 Z" fill="#86e7b4" stroke="#86e7b4" stroke-width="0.5"/><path d="M56.6 83.6 L58.8 82.7 M57.3 82.6 L58.8 82.7 " class="m"/><path d="M102.1 69.6 L104.5 70.3 L105.6 69.0 L103.2 68.3 Z" fill="#ffc93b" stroke="#ffc93b" stroke-width="0.5"/><path d="M102.1 69.6 L104.5 70.3 M104.5 70.3 L105.6 69.0 " class="m"/><path d="M125.1 71.3 L127.6 72.0 L128.6 70.7 L126.1 70.0 Z" fill="#ffc93b" stroke="#ffc93b" stroke-width="0.5"/><path d="M126.1 70.0 L128.6 70.7 M127.6 72.0 L128.6 70.7 " class="m"/><path d="M67.3 76.3 L69.5 73.0 L70.9 72.3 L68.7 76.6 Z" fill="#d3d84c" stroke="#d3d84c" stroke-width="0.5"/><path d="M68.7 76.6 L70.9 72.3 M67.3 76.3 L68.7 76.6 " class="m"/><path d="M44.1 87.6 L46.3 88.2 L47.8 86.8 L45.6 86.2 Z" fill="#6fdbe5" stroke="#6fdbe5" stroke-width="0.5"/><path d="M44.1 87.6 L46.3 88.2 M44.1 87.6 L45.6 86.2 " class="m"/><path d="M96.1 69.4 L98.5 70.2 L99.7 68.9 L97.2 68.1 Z" fill="#fcc539" stroke="#fcc539" stroke-width="0.5"/><path d="M97.2 68.1 L99.7 68.9 M98.5 70.2 L99.7 68.9 " class="m"/><path d="M75.8 67.7 L78.1 66.5 L79.4 65.1 L77.1 66.6 Z" fill="#ffca3c" stroke="#ffca3c" stroke-width="0.5"/><path d="M75.8 67.7 L78.1 66.5 M75.8 67.7 L77.1 66.6 " class="m"/><path d="M85.4 64.6 L87.8 66.2 L89.0 64.8 L86.6 63.0 Z" fill="#e08527" stroke="#e08527" stroke-width="0.5"/><path d="M85.4 64.6 L87.8 66.2 M87.8 66.2 L89.0 64.8 " class="m"/><path d="M79.4 65.1 L81.8 65.1 L83.0 63.6 L80.7 63.7 Z" fill="#ffac36" stroke="#ffac36" stroke-width="0.5"/><path d="M80.7 63.7 L83.0 63.6 M81.8 65.1 L83.0 63.6 " class="m"/><path d="M110.5 70.4 L113.0 71.1 L114.1 69.8 L111.6 69.1 Z" fill="#ffc93b" stroke="#ffc93b" stroke-width="0.5"/><path d="M111.6 69.1 L114.1 69.8 M110.5 70.4 L111.6 69.1 " class="m"/><path d="M40.3 88.3 L42.6 89.0 L44.1 87.6 L41.9 86.9 Z" fill="#6cd7e4" stroke="#6cd7e4" stroke-width="0.5"/><path d="M41.9 86.9 L44.1 87.6 M42.6 89.0 L44.1 87.6 " class="m"/><path d="M58.8 82.7 L60.9 79.2 L62.3 79.7 L60.2 82.2 Z" fill="#98dd81" stroke="#98dd81" stroke-width="0.5"/><path d="M58.8 82.7 L60.9 79.2 M58.8 82.7 L60.2 82.2 " class="m"/><path d="M87.8 66.2 L90.1 67.9 L91.3 66.7 L89.0 64.8 Z" fill="#df952a" stroke="#df952a" stroke-width="0.5"/><path d="M87.8 66.2 L90.1 67.9 M87.8 66.2 L89.0 64.8 " class="m"/><path d="M127.6 72.0 L130.2 72.8 L131.2 71.4 L128.6 70.7 Z" fill="#ffc93b" stroke="#ffc93b" stroke-width="0.5"/><path d="M128.6 70.7 L131.2 71.4 M127.6 72.0 L128.6 70.7 " class="m"/><path d="M119.1 71.2 L121.6 71.9 L122.6 70.6 L120.1 69.9 Z" fill="#ffc93b" stroke="#ffc93b" stroke-width="0.5"/><path d="M119.1 71.2 L121.6 71.9 M121.6 71.9 L122.6 70.6 " class="m"/><path d="M36.6 89.3 L38.8 89.7 L40.3 88.3 L38.2 88.0 Z" fill="#6fe0f5" stroke="#6fe0f5" stroke-width="0.5"/><path d="M36.6 89.3 L38.8 89.7 M36.6 89.3 L38.2 88.0 " class="m"/><path d="M29.1 91.5 L31.3 91.9 L32.9 90.5 L30.7 89.9 Z" fill="#66d6ff" stroke="#66d6ff" stroke-width="0.5"/><path d="M29.1 91.5 L31.3 91.9 M29.1 91.5 L30.7 89.9 " class="m"/><path d="M32.9 90.5 L35.0 90.7 L36.6 89.3 L34.4 89.1 Z" fill="#6de0ff" stroke="#6de0ff" stroke-width="0.5"/><path d="M34.4 89.1 L36.6 89.3 M35.0 90.7 L36.6 89.3 " class="m"/><path d="M104.5 70.3 L107.0 71.0 L108.1 69.7 L105.6 69.0 Z" fill="#ffc93b" stroke="#ffc93b" stroke-width="0.5"/><path d="M104.5 70.3 L107.0 71.0 M104.5 70.3 L105.6 69.0 " class="m"/><path d="M90.1 67.9 L92.5 69.4 L93.7 68.2 L91.3 66.7 Z" fill="#dda12d" stroke="#dda12d" stroke-width="0.5"/><path d="M90.1 67.9 L92.5 69.4 M92.5 69.4 L93.7 68.2 " class="m"/><path d="M98.5 70.2 L100.9 70.9 L102.1 69.6 L99.7 68.9 Z" fill="#ffc93b" stroke="#ffc93b" stroke-width="0.5"/><path d="M99.7 68.9 L102.1 69.6 M98.5 70.2 L99.7 68.9 " class="m"/><path d="M113.0 71.1 L115.5 71.8 L116.6 70.5 L114.1 69.8 Z" fill="#ffc93b" stroke="#ffc93b" stroke-width="0.5"/><path d="M114.1 69.8 L116.6 70.5 M115.5 71.8 L116.6 70.5 " class="m"/><path d="M130.2 72.8 L132.8 73.5 L133.7 72.2 L131.2 71.4 Z" fill="#ffc93b" stroke="#ffc93b" stroke-width="0.5"/><path d="M131.2 71.4 L133.7 72.2 M132.8 73.5 L133.7 72.2 " class="m"/><path d="M70.9 72.3 L73.2 70.6 L74.5 69.1 L72.2 71.7 Z" fill="#ffe144" stroke="#ffe144" stroke-width="0.5"/><path d="M70.9 72.3 L73.2 70.6 M73.2 70.6 L74.5 69.1 " class="m"/><path d="M121.6 71.9 L124.1 72.7 L125.1 71.3 L122.6 70.6 Z" fill="#ffc93b" stroke="#ffc93b" stroke-width="0.5"/><path d="M121.6 71.9 L124.1 72.7 M121.6 71.9 L122.6 70.6 " class="m"/><path d="M81.8 65.1 L84.1 66.1 L85.4 64.6 L83.0 63.6 Z" fill="#fd8e2b" stroke="#fd8e2b" stroke-width="0.5"/><path d="M83.0 63.6 L85.4 64.6 M81.8 65.1 L83.0 63.6 " class="m"/><path d="M92.5 69.4 L94.9 70.6 L96.1 69.4 L93.7 68.2 Z" fill="#e2ad31" stroke="#e2ad31" stroke-width="0.5"/><path d="M92.5 69.4 L94.9 70.6 M92.5 69.4 L93.7 68.2 " class="m"/><path d="M46.3 88.2 L48.5 88.2 L50.0 87.1 L47.8 86.8 Z" fill="#79e9e6" stroke="#79e9e6" stroke-width="0.5"/><path d="M46.3 88.2 L48.5 88.2 M48.5 88.2 L50.0 87.1 " class="m"/><path d="M107.0 71.0 L109.4 71.7 L110.5 70.4 L108.1 69.7 Z" fill="#ffc93b" stroke="#ffc93b" stroke-width="0.5"/><path d="M107.0 71.0 L109.4 71.7 M109.4 71.7 L110.5 70.4 " class="m"/><path d="M62.3 79.7 L64.5 76.0 L65.9 76.3 L63.8 79.7 Z" fill="#b6d258" stroke="#b6d258" stroke-width="0.5"/><path d="M63.8 79.7 L65.9 76.3 M64.5 76.0 L65.9 76.3 " class="m"/><path d="M50.0 87.1 L52.2 85.9 L53.7 85.2 L51.5 85.8 Z" fill="#86f3d2" stroke="#86f3d2" stroke-width="0.5"/><path d="M51.5 85.8 L53.7 85.2 M50.0 87.1 L51.5 85.8 " class="m"/><path d="M42.6 89.0 L44.8 89.5 L46.3 88.2 L44.1 87.6 Z" fill="#70dee5" stroke="#70dee5" stroke-width="0.5"/><path d="M44.1 87.6 L46.3 88.2 M42.6 89.0 L44.1 87.6 " class="m"/><path d="M115.5 71.8 L118.0 72.5 L119.1 71.2 L116.6 70.5 Z" fill="#ffc93b" stroke="#ffc93b" stroke-width="0.5"/><path d="M116.6 70.5 L119.1 71.2 M115.5 71.8 L116.6 70.5 " class="m"/><path d="M100.9 70.9 L103.4 71.6 L104.5 70.3 L102.1 69.6 Z" fill="#ffc93b" stroke="#ffc93b" stroke-width="0.5"/><path d="M102.1 69.6 L104.5 70.3 M103.4 71.6 L104.5 70.3 " class="m"/><path d="M124.1 72.7 L126.6 73.4 L127.6 72.0 L125.1 71.3 Z" fill="#ffc93b" stroke="#ffc93b" stroke-width="0.5"/><path d="M124.1 72.7 L126.6 73.4 M126.6 73.4 L127.6 72.0 " class="m"/><path d="M74.5 69.1 L76.8 68.0 L78.1 66.5 L75.8 67.7 Z" fill="#ffce3e" stroke="#ffce3e" stroke-width="0.5"/><path d="M75.8 67.7 L78.1 66.5 M74.5 69.1 L75.8 67.7 " class="m"/><path d="M78.1 66.5 L80.5 66.6 L81.8 65.1 L79.4 65.1 Z" fill="#ffad35" stroke="#ffad35" stroke-width="0.5"/><path d="M78.1 66.5 L80.5 66.6 M80.5 66.6 L81.8 65.1 " class="m"/><path d="M38.8 89.7 L41.0 90.4 L42.6 89.0 L40.3 88.3 Z" fill="#6dd9e4" stroke="#6dd9e4" stroke-width="0.5"/><path d="M38.8 89.7 L41.0 90.4 M41.0 90.4 L42.6 89.0 " class="m"/><path d="M84.1 66.1 L86.5 67.5 L87.8 66.2 L85.4 64.6 Z" fill="#e08827" stroke="#e08827" stroke-width="0.5"/><path d="M85.4 64.6 L87.8 66.2 M86.5 67.5 L87.8 66.2 " class="m"/><path d="M94.9 70.6 L97.3 71.4 L98.5 70.2 L96.1 69.4 Z" fill="#f9c238" stroke="#f9c238" stroke-width="0.5"/><path d="M94.9 70.6 L97.3 71.4 M97.3 71.4 L98.5 70.2 " class="m"/><path d="M27.5 93.1 L29.7 93.4 L31.3 91.9 L29.1 91.5 Z" fill="#67d8ff" stroke="#67d8ff" stroke-width="0.5"/><path d="M29.1 91.5 L31.3 91.9 M27.5 93.1 L29.1 91.5 " class="m"/><path d="M35.0 90.7 L37.2 91.2 L38.8 89.7 L36.6 89.3 Z" fill="#6fdff1" stroke="#6fdff1" stroke-width="0.5"/><path d="M36.6 89.3 L38.8 89.7 M35.0 90.7 L36.6 89.3 " class="m"/><path d="M31.3 91.9 L33.4 92.0 L35.0 90.7 L32.9 90.5 Z" fill="#6ee2ff" stroke="#6ee2ff" stroke-width="0.5"/><path d="M31.3 91.9 L33.4 92.0 M33.4 92.0 L35.0 90.7 " class="m"/><path d="M109.4 71.7 L111.9 72.4 L113.0 71.1 L110.5 70.4 Z" fill="#ffc93b" stroke="#ffc93b" stroke-width="0.5"/><path d="M109.4 71.7 L111.9 72.4 M109.4 71.7 L110.5 70.4 " class="m"/><path d="M53.7 85.2 L55.7 82.3 L57.3 82.6 L55.1 84.6 Z" fill="#90e292" stroke="#90e292" stroke-width="0.5"/><path d="M53.7 85.2 L55.7 82.3 M55.7 82.3 L57.3 82.6 " class="m"/><path d="M86.5 67.5 L88.9 69.1 L90.1 67.9 L87.8 66.2 Z" fill="#df952a" stroke="#df952a" stroke-width="0.5"/><path d="M87.8 66.2 L90.1 67.9 M86.5 67.5 L87.8 66.2 " class="m"/><path d="M65.9 76.3 L68.1 73.8 L69.5 73.0 L67.3 76.3 Z" fill="#e6da48" stroke="#e6da48" stroke-width="0.5"/><path d="M65.9 76.3 L68.1 73.8 M65.9 76.3 L67.3 76.3 " class="m"/><path d="M118.0 72.5 L120.5 73.3 L121.6 71.9 L119.1 71.2 Z" fill="#ffc93b" stroke="#ffc93b" stroke-width="0.5"/><path d="M119.1 71.2 L121.6 71.9 M120.5 73.3 L121.6 71.9 " class="m"/><path d="M126.6 73.4 L129.2 74.1 L130.2 72.8 L127.6 72.0 Z" fill="#ffc93b" stroke="#ffc93b" stroke-width="0.5"/><path d="M126.6 73.4 L129.2 74.1 M126.6 73.4 L127.6 72.0 " class="m"/><path d="M103.4 71.6 L105.8 72.3 L107.0 71.0 L104.5 70.3 Z" fill="#ffc93b" stroke="#ffc93b" stroke-width="0.5"/><path d="M104.5 70.3 L107.0 71.0 M103.4 71.6 L104.5 70.3 " class="m"/><path d="M88.9 69.1 L91.3 70.6 L92.5 69.4 L90.1 67.9 Z" fill="#dda02d" stroke="#dda02d" stroke-width="0.5"/><path d="M90.1 67.9 L92.5 69.4 M91.3 70.6 L92.5 69.4 " class="m"/><path d="M97.3 71.4 L99.8 72.2 L100.9 70.9 L98.5 70.2 Z" fill="#ffc83a" stroke="#ffc83a" stroke-width="0.5"/><path d="M97.3 71.4 L99.8 72.2 M97.3 71.4 L98.5 70.2 " class="m"/><path d="M111.9 72.4 L114.4 73.2 L115.5 71.8 L113.0 71.1 Z" fill="#ffc93b" stroke="#ffc93b" stroke-width="0.5"/><path d="M111.9 72.4 L114.4 73.2 M114.4 73.2 L115.5 71.8 " class="m"/><path d="M80.5 66.6 L82.9 67.5 L84.1 66.1 L81.8 65.1 Z" fill="#ff942d" stroke="#ff942d" stroke-width="0.5"/><path d="M80.5 66.6 L82.9 67.5 M80.5 66.6 L81.8 65.1 " class="m"/><path d="M69.5 73.0 L71.8 72.0 L73.2 70.6 L70.9 72.3 Z" fill="#ffe445" stroke="#ffe445" stroke-width="0.5"/><path d="M70.9 72.3 L73.2 70.6 M71.8 72.0 L73.2 70.6 " class="m"/><path d="M129.2 74.1 L131.8 74.9 L132.8 73.5 L130.2 72.8 Z" fill="#ffc93b" stroke="#ffc93b" stroke-width="0.5"/><path d="M129.2 74.1 L131.8 74.9 M131.8 74.9 L132.8 73.5 " class="m"/><path d="M120.5 73.3 L123.1 74.0 L124.1 72.7 L121.6 71.9 Z" fill="#ffc93b" stroke="#ffc93b" stroke-width="0.5"/><path d="M121.6 71.9 L124.1 72.7 M120.5 73.3 L121.6 71.9 " class="m"/><path d="M57.3 82.6 L59.4 78.9 L60.9 79.2 L58.8 82.7 Z" fill="#a6d062" stroke="#a6d062" stroke-width="0.5"/><path d="M58.8 82.7 L60.9 79.2 M57.3 82.6 L58.8 82.7 " class="m"/><path d="M44.8 89.5 L47.0 89.2 L48.5 88.2 L46.3 88.2 Z" fill="#7cede1" stroke="#7cede1" stroke-width="0.5"/><path d="M46.3 88.2 L48.5 88.2 M47.0 89.2 L48.5 88.2 " class="m"/><path d="M91.3 70.6 L93.7 71.9 L94.9 70.6 L92.5 69.4 Z" fill="#e1ac31" stroke="#e1ac31" stroke-width="0.5"/><path d="M92.5 69.4 L94.9 70.6 M91.3 70.6 L92.5 69.4 " class="m"/><path d="M41.0 90.4 L43.3 90.7 L44.8 89.5 L42.6 89.0 Z" fill="#73e2e6" stroke="#73e2e6" stroke-width="0.5"/><path d="M41.0 90.4 L43.3 90.7 M41.0 90.4 L42.6 89.0 " class="m"/><path d="M105.8 72.3 L108.3 73.0 L109.4 71.7 L107.0 71.0 Z" fill="#ffc93b" stroke="#ffc93b" stroke-width="0.5"/><path d="M107.0 71.0 L109.4 71.7 M108.3 73.0 L109.4 71.7 " class="m"/><path d="M37.2 91.2 L39.5 91.8 L41.0 90.4 L38.8 89.7 Z" fill="#6fdbe5" stroke="#6fdbe5" stroke-width="0.5"/><path d="M38.8 89.7 L41.0 90.4 M39.5 91.8 L41.0 90.4 " class="m"/><path d="M25.9 94.6 L28.0 94.9 L29.7 93.4 L27.5 93.1 Z" fill="#67d8ff" stroke="#67d8ff" stroke-width="0.5"/><path d="M25.9 94.6 L28.0 94.9 M25.9 94.6 L27.5 93.1 " class="m"/><path d="M48.5 88.2 L50.6 86.6 L52.2 85.9 L50.0 87.1 Z" fill="#8bf1c1" stroke="#8bf1c1" stroke-width="0.5"/><path d="M48.5 88.2 L50.6 86.6 M48.5 88.2 L50.0 87.1 " class="m"/><path d="M73.2 70.6 L75.5 69.6 L76.8 68.0 L74.5 69.1 Z" fill="#ffd33f" stroke="#ffd33f" stroke-width="0.5"/><path d="M73.2 70.6 L75.5 69.6 M73.2 70.6 L74.5 69.1 " class="m"/><path d="M76.8 68.0 L79.2 68.1 L80.5 66.6 L78.1 66.5 Z" fill="#ffb036" stroke="#ffb036" stroke-width="0.5"/><path d="M78.1 66.5 L80.5 66.6 M79.2 68.1 L80.5 66.6 " class="m"/><path d="M99.8 72.2 L102.2 72.9 L103.4 71.6 L100.9 70.9 Z" fill="#ffc83a" stroke="#ffc83a" stroke-width="0.5"/><path d="M99.8 72.2 L102.2 72.9 M102.2 72.9 L103.4 71.6 " class="m"/><path d="M114.4 73.2 L116.9 73.9 L118.0 72.5 L115.5 71.8 Z" fill="#ffc93b" stroke="#ffc93b" stroke-width="0.5"/><path d="M114.4 73.2 L116.9 73.9 M114.4 73.2 L115.5 71.8 " class="m"/><path d="M82.9 67.5 L85.3 68.9 L86.5 67.5 L84.1 66.1 Z" fill="#e08a28" stroke="#e08a28" stroke-width="0.5"/><path d="M82.9 67.5 L85.3 68.9 M85.3 68.9 L86.5 67.5 " class="m"/><path d="M33.4 92.0 L35.7 92.6 L37.2 91.2 L35.0 90.7 Z" fill="#6edced" stroke="#6edced" stroke-width="0.5"/><path d="M33.4 92.0 L35.7 92.6 M33.4 92.0 L35.0 90.7 " class="m"/><path d="M29.7 93.4 L31.8 93.4 L33.4 92.0 L31.3 91.9 Z" fill="#70e5ff" stroke="#70e5ff" stroke-width="0.5"/><path d="M31.3 91.9 L33.4 92.0 M31.8 93.4 L33.4 92.0 " class="m"/><path d="M123.1 74.0 L125.6 74.8 L126.6 73.4 L124.1 72.7 Z" fill="#ffc93b" stroke="#ffc93b" stroke-width="0.5"/><path d="M124.1 72.7 L126.6 73.4 M125.6 74.8 L126.6 73.4 " class="m"/><path d="M93.7 71.9 L96.1 72.7 L97.3 71.4 L94.9 70.6 Z" fill="#f8c138" stroke="#f8c138" stroke-width="0.5"/><path d="M94.9 70.6 L97.3 71.4 M96.1 72.7 L97.3 71.4 " class="m"/><path d="M108.3 73.0 L110.8 73.8 L111.9 72.4 L109.4 71.7 Z" fill="#ffc93b" stroke="#ffc93b" stroke-width="0.5"/><path d="M109.4 71.7 L111.9 72.4 M108.3 73.0 L109.4 71.7 " class="m"/><path d="M60.9 79.2 L63.0 76.1 L64.5 76.0 L62.3 79.7 Z" fill="#cfd249" stroke="#cfd249" stroke-width="0.5"/><path d="M60.9 79.2 L63.0 76.1 M63.0 76.1 L64.5 76.0 " class="m"/><path d="M85.3 68.9 L87.7 70.5 L88.9 69.1 L86.5 67.5 Z" fill="#df952a" stroke="#df952a" stroke-width="0.5"/><path d="M85.3 68.9 L87.7 70.5 M85.3 68.9 L86.5 67.5 " class="m"/><path d="M116.9 73.9 L119.5 74.6 L120.5 73.3 L118.0 72.5 Z" fill="#ffc93b" stroke="#ffc93b" stroke-width="0.5"/><path d="M116.9 73.9 L119.5 74.6 M119.5 74.6 L120.5 73.3 " class="m"/><path d="M125.6 74.8 L128.2 75.5 L129.2 74.1 L126.6 73.4 Z" fill="#ffc93b" stroke="#ffc93b" stroke-width="0.5"/><path d="M126.6 73.4 L129.2 74.1 M125.6 74.8 L126.6 73.4 " class="m"/><path d="M102.2 72.9 L104.7 73.6 L105.8 72.3 L103.4 71.6 Z" fill="#ffc83a" stroke="#ffc83a" stroke-width="0.5"/><path d="M102.2 72.9 L104.7 73.6 M102.2 72.9 L103.4 71.6 " class="m"/><path d="M87.7 70.5 L90.1 72.0 L91.3 70.6 L88.9 69.1 Z" fill="#dd9f2d" stroke="#dd9f2d" stroke-width="0.5"/><path d="M87.7 70.5 L90.1 72.0 M90.1 72.0 L91.3 70.6 " class="m"/><path d="M52.2 85.9 L54.2 82.6 L55.7 82.3 L53.7 85.2 Z" fill="#a3e47f" stroke="#a3e47f" stroke-width="0.5"/><path d="M53.7 85.2 L55.7 82.3 M54.2 82.6 L55.7 82.3 " class="m"/><path d="M96.1 72.7 L98.6 73.5 L99.8 72.2 L97.3 71.4 Z" fill="#ffc83a" stroke="#ffc83a" stroke-width="0.5"/><path d="M97.3 71.4 L99.8 72.2 M96.1 72.7 L97.3 71.4 " class="m"/><path d="M79.2 68.1 L81.6 69.0 L82.9 67.5 L80.5 66.6 Z" fill="#ff972d" stroke="#ff972d" stroke-width="0.5"/><path d="M80.5 66.6 L82.9 67.5 M79.2 68.1 L80.5 66.6 " class="m"/><path d="M64.5 76.0 L66.7 74.4 L68.1 73.8 L65.9 76.3 Z" fill="#f3d541" stroke="#f3d541" stroke-width="0.5"/><path d="M65.9 76.3 L68.1 73.8 M64.5 76.0 L65.9 76.3 " class="m"/><path d="M110.8 73.8 L113.3 74.5 L114.4 73.2 L111.9 72.4 Z" fill="#ffc93b" stroke="#ffc93b" stroke-width="0.5"/><path d="M111.9 72.4 L114.4 73.2 M113.3 74.5 L114.4 73.2 " class="m"/><path d="M39.5 91.8 L41.7 91.9 L43.3 90.7 L41.0 90.4 Z" fill="#77e7e5" stroke="#77e7e5" stroke-width="0.5"/><path d="M41.0 90.4 L43.3 90.7 M39.5 91.8 L41.0 90.4 " class="m"/><path d="M68.1 73.8 L70.5 73.2 L71.8 72.0 L69.5 73.0 Z" fill="#ffe244" stroke="#ffe244" stroke-width="0.5"/><path d="M68.1 73.8 L70.5 73.2 M70.5 73.2 L71.8 72.0 " class="m"/><path d="M24.2 96.1 L26.3 96.2 L28.0 94.9 L25.9 94.6 Z" fill="#68daff" stroke="#68daff" stroke-width="0.5"/><path d="M25.9 94.6 L28.0 94.9 M24.2 96.1 L25.9 94.6 " class="m"/><path d="M128.2 75.5 L130.8 76.3 L131.8 74.9 L129.2 74.1 Z" fill="#ffc93b" stroke="#ffc93b" stroke-width="0.5"/><path d="M129.2 74.1 L131.8 74.9 M130.8 76.3 L131.8 74.9 " class="m"/><path d="M119.5 74.6 L122.0 75.4 L123.1 74.0 L120.5 73.3 Z" fill="#ffc93b" stroke="#ffc93b" stroke-width="0.5"/><path d="M119.5 74.6 L122.0 75.4 M119.5 74.6 L120.5 73.3 " class="m"/><path d="M43.3 90.7 L45.4 90.0 L47.0 89.2 L44.8 89.5 Z" fill="#80f1d9" stroke="#80f1d9" stroke-width="0.5"/><path d="M43.3 90.7 L45.4 90.0 M45.4 90.0 L47.0 89.2 " class="m"/><path d="M90.1 72.0 L92.5 73.2 L93.7 71.9 L91.3 70.6 Z" fill="#e3ac31" stroke="#e3ac31" stroke-width="0.5"/><path d="M90.1 72.0 L92.5 73.2 M90.1 72.0 L91.3 70.6 " class="m"/><path d="M35.7 92.6 L37.9 93.1 L39.5 91.8 L37.2 91.2 Z" fill="#71dee6" stroke="#71dee6" stroke-width="0.5"/><path d="M35.7 92.6 L37.9 93.1 M37.9 93.1 L39.5 91.8 " class="m"/><path d="M71.8 72.0 L74.2 71.3 L75.5 69.6 L73.2 70.6 Z" fill="#ffd640" stroke="#ffd640" stroke-width="0.5"/><path d="M73.2 70.6 L75.5 69.6 M71.8 72.0 L73.2 70.6 " class="m"/><path d="M28.0 94.9 L30.2 94.9 L31.8 93.4 L29.7 93.4 Z" fill="#71e7ff" stroke="#71e7ff" stroke-width="0.5"/><path d="M28.0 94.9 L30.2 94.9 M30.2 94.9 L31.8 93.4 " class="m"/><path d="M104.7 73.6 L107.2 74.4 L108.3 73.0 L105.8 72.3 Z" fill="#ffc83a" stroke="#ffc83a" stroke-width="0.5"/><path d="M104.7 73.6 L107.2 74.4 M107.2 74.4 L108.3 73.0 " class="m"/><path d="M31.8 93.4 L34.0 94.1 L35.7 92.6 L33.4 92.0 Z" fill="#6ddae7" stroke="#6ddae7" stroke-width="0.5"/><path d="M33.4 92.0 L35.7 92.6 M31.8 93.4 L33.4 92.0 " class="m"/><path d="M75.5 69.6 L77.9 69.7 L79.2 68.1 L76.8 68.0 Z" fill="#ffb737" stroke="#ffb737" stroke-width="0.5"/><path d="M75.5 69.6 L77.9 69.7 M77.9 69.7 L79.2 68.1 " class="m"/><path d="M81.6 69.0 L84.0 70.4 L85.3 68.9 L82.9 67.5 Z" fill="#e08c28" stroke="#e08c28" stroke-width="0.5"/><path d="M82.9 67.5 L85.3 68.9 M84.0 70.4 L85.3 68.9 " class="m"/><path d="M98.6 73.5 L101.1 74.2 L102.2 72.9 L99.8 72.2 Z" fill="#ffc83a" stroke="#ffc83a" stroke-width="0.5"/><path d="M99.8 72.2 L102.2 72.9 M101.1 74.2 L102.2 72.9 " class="m"/><path d="M113.3 74.5 L115.9 75.3 L116.9 73.9 L114.4 73.2 Z" fill="#ffc93b" stroke="#ffc93b" stroke-width="0.5"/><path d="M114.4 73.2 L116.9 73.9 M113.3 74.5 L114.4 73.2 " class="m"/><path d="M47.0 89.2 L49.1 87.1 L50.6 86.6 L48.5 88.2 Z" fill="#91efac" stroke="#91efac" stroke-width="0.5"/><path d="M48.5 88.2 L50.6 86.6 M47.0 89.2 L48.5 88.2 " class="m"/><path d="M122.0 75.4 L124.6 76.1 L125.6 74.8 L123.1 74.0 Z" fill="#ffc93b" stroke="#ffc93b" stroke-width="0.5"/><path d="M122.0 75.4 L124.6 76.1 M124.6 76.1 L125.6 74.8 " class="m"/><path d="M92.5 73.2 L94.9 74.0 L96.1 72.7 L93.7 71.9 Z" fill="#f8c138" stroke="#f8c138" stroke-width="0.5"/><path d="M92.5 73.2 L94.9 74.0 M94.9 74.0 L96.1 72.7 " class="m"/><path d="M55.7 82.3 L57.8 78.9 L59.4 78.9 L57.3 82.6 Z" fill="#c1d251" stroke="#c1d251" stroke-width="0.5"/><path d="M55.7 82.3 L57.8 78.9 M55.7 82.3 L57.3 82.6 " class="m"/><path d="M84.0 70.4 L86.4 72.0 L87.7 70.5 L85.3 68.9 Z" fill="#df972a" stroke="#df972a" stroke-width="0.5"/><path d="M85.3 68.9 L87.7 70.5 M84.0 70.4 L85.3 68.9 " class="m"/><path d="M107.2 74.4 L109.7 75.1 L110.8 73.8 L108.3 73.0 Z" fill="#ffc83a" stroke="#ffc83a" stroke-width="0.5"/><path d="M107.2 74.4 L109.7 75.1 M107.2 74.4 L108.3 73.0 " class="m"/><path d="M115.9 75.3 L118.4 76.0 L119.5 74.6 L116.9 73.9 Z" fill="#ffc93b" stroke="#ffc93b" stroke-width="0.5"/><path d="M116.9 73.9 L119.5 74.6 M118.4 76.0 L119.5 74.6 " class="m"/><path d="M124.6 76.1 L127.2 76.9 L128.2 75.5 L125.6 74.8 Z" fill="#ffc93b" stroke="#ffc93b" stroke-width="0.5"/><path d="M124.6 76.1 L127.2 76.9 M124.6 76.1 L125.6 74.8 " class="m"/><path d="M101.1 74.2 L103.6 74.9 L104.7 73.6 L102.2 72.9 Z" fill="#ffc83a" stroke="#ffc83a" stroke-width="0.5"/><path d="M102.2 72.9 L104.7 73.6 M101.1 74.2 L102.2 72.9 " class="m"/><path d="M86.4 72.0 L88.8 73.4 L90.1 72.0 L87.7 70.5 Z" fill="#dda02d" stroke="#dda02d" stroke-width="0.5"/><path d="M87.7 70.5 L90.1 72.0 M88.8 73.4 L90.1 72.0 " class="m"/><path d="M77.9 69.7 L80.3 70.6 L81.6 69.0 L79.2 68.1 Z" fill="#ff9b2e" stroke="#ff9b2e" stroke-width="0.5"/><path d="M77.9 69.7 L80.3 70.6 M77.9 69.7 L79.2 68.1 " class="m"/><path d="M22.5 97.7 L24.6 97.6 L26.3 96.2 L24.2 96.1 Z" fill="#6adfff" stroke="#6adfff" stroke-width="0.5"/><path d="M22.5 97.7 L24.6 97.6 M22.5 97.7 L24.2 96.1 " class="m"/><path d="M94.9 74.0 L97.4 74.8 L98.6 73.5 L96.1 72.7 Z" fill="#ffc83a" stroke="#ffc83a" stroke-width="0.5"/><path d="M94.9 74.0 L97.4 74.8 M94.9 74.0 L96.1 72.7 " class="m"/><path d="M37.9 93.1 L40.1 93.0 L41.7 91.9 L39.5 91.8 Z" fill="#7bece3" stroke="#7bece3" stroke-width="0.5"/><path d="M37.9 93.1 L40.1 93.0 M37.9 93.1 L39.5 91.8 " class="m"/><path d="M34.0 94.1 L36.3 94.4 L37.9 93.1 L35.7 92.6 Z" fill="#73e2e7" stroke="#73e2e7" stroke-width="0.5"/><path d="M35.7 92.6 L37.9 93.1 M36.3 94.4 L37.9 93.1 " class="m"/><path d="M59.4 78.9 L61.6 76.7 L63.0 76.1 L60.9 79.2 Z" fill="#e9d543" stroke="#e9d543" stroke-width="0.5"/><path d="M60.9 79.2 L63.0 76.1 M61.6 76.7 L63.0 76.1 " class="m"/><path d="M109.7 75.1 L112.2 75.8 L113.3 74.5 L110.8 73.8 Z" fill="#ffc83a" stroke="#ffc83a" stroke-width="0.5"/><path d="M109.7 75.1 L112.2 75.8 M112.2 75.8 L113.3 74.5 " class="m"/><path d="M26.3 96.2 L28.5 96.4 L30.2 94.9 L28.0 94.9 Z" fill="#71e6ff" stroke="#71e6ff" stroke-width="0.5"/><path d="M28.0 94.9 L30.2 94.9 M28.5 96.4 L30.2 94.9 " class="m"/><path d="M50.6 86.6 L52.7 83.2 L54.2 82.6 L52.2 85.9 Z" fill="#aedf6e" stroke="#aedf6e" stroke-width="0.5"/><path d="M50.6 86.6 L52.7 83.2 M52.7 83.2 L54.2 82.6 " class="m"/><path d="M30.2 94.9 L32.4 95.5 L34.0 94.1 L31.8 93.4 Z" fill="#6edae5" stroke="#6edae5" stroke-width="0.5"/><path d="M30.2 94.9 L32.4 95.5 M30.2 94.9 L31.8 93.4 " class="m"/><path d="M74.2 71.3 L76.6 71.3 L77.9 69.7 L75.5 69.6 Z" fill="#ffbe39" stroke="#ffbe39" stroke-width="0.5"/><path d="M75.5 69.6 L77.9 69.7 M76.6 71.3 L77.9 69.7 " class="m"/><path d="M70.5 73.2 L72.8 72.7 L74.2 71.3 L71.8 72.0 Z" fill="#ffd640" stroke="#ffd640" stroke-width="0.5"/><path d="M70.5 73.2 L72.8 72.7 M70.5 73.2 L71.8 72.0 " class="m"/><path d="M41.7 91.9 L43.8 90.8 L45.4 90.0 L43.3 90.7 Z" fill="#87f2cc" stroke="#87f2cc" stroke-width="0.5"/><path d="M43.3 90.7 L45.4 90.0 M43.8 90.8 L45.4 90.0 " class="m"/><path d="M88.8 73.4 L91.3 74.5 L92.5 73.2 L90.1 72.0 Z" fill="#e8b032" stroke="#e8b032" stroke-width="0.5"/><path d="M90.1 72.0 L92.5 73.2 M88.8 73.4 L90.1 72.0 " class="m"/><path d="M127.2 76.9 L129.8 77.7 L130.8 76.3 L128.2 75.5 Z" fill="#ffc93b" stroke="#ffc93b" stroke-width="0.5"/><path d="M127.2 76.9 L129.8 77.7 M129.8 77.7 L130.8 76.3 " class="m"/><path d="M118.4 76.0 L121.0 76.8 L122.0 75.4 L119.5 74.6 Z" fill="#ffc93b" stroke="#ffc93b" stroke-width="0.5"/><path d="M119.5 74.6 L122.0 75.4 M118.4 76.0 L119.5 74.6 " class="m"/><path d="M66.7 74.4 L69.1 74.4 L70.5 73.2 L68.1 73.8 Z" fill="#ffd840" stroke="#ffd840" stroke-width="0.5"/><path d="M68.1 73.8 L70.5 73.2 M69.1 74.4 L70.5 73.2 " class="m"/><path d="M80.3 70.6 L82.7 72.1 L84.0 70.4 L81.6 69.0 Z" fill="#e09029" stroke="#e09029" stroke-width="0.5"/><path d="M80.3 70.6 L82.7 72.1 M82.7 72.1 L84.0 70.4 " class="m"/><path d="M63.0 76.1 L65.3 75.4 L66.7 74.4 L64.5 76.0 Z" fill="#ffd941" stroke="#ffd941" stroke-width="0.5"/><path d="M63.0 76.1 L65.3 75.4 M63.0 76.1 L64.5 76.0 " class="m"/><path d="M103.6 74.9 L106.1 75.7 L107.2 74.4 L104.7 73.6 Z" fill="#ffc83a" stroke="#ffc83a" stroke-width="0.5"/><path d="M104.7 73.6 L107.2 74.4 M106.1 75.7 L107.2 74.4 " class="m"/><path d="M97.4 74.8 L99.9 75.5 L101.1 74.2 L98.6 73.5 Z" fill="#ffc73a" stroke="#ffc73a" stroke-width="0.5"/><path d="M97.4 74.8 L99.9 75.5 M99.9 75.5 L101.1 74.2 " class="m"/><path d="M112.2 75.8 L114.8 76.6 L115.9 75.3 L113.3 74.5 Z" fill="#ffc83a" stroke="#ffc83a" stroke-width="0.5"/><path d="M112.2 75.8 L114.8 76.6 M112.2 75.8 L113.3 74.5 " class="m"/><path d="M82.7 72.1 L85.1 73.5 L86.4 72.0 L84.0 70.4 Z" fill="#de992b" stroke="#de992b" stroke-width="0.5"/><path d="M82.7 72.1 L85.1 73.5 M82.7 72.1 L84.0 70.4 " class="m"/><path d="M121.0 76.8 L123.6 77.5 L124.6 76.1 L122.0 75.4 Z" fill="#ffc93b" stroke="#ffc93b" stroke-width="0.5"/><path d="M122.0 75.4 L124.6 76.1 M123.6 77.5 L124.6 76.1 " class="m"/><path d="M91.3 74.5 L93.7 75.4 L94.9 74.0 L92.5 73.2 Z" fill="#f9c138" stroke="#f9c138" stroke-width="0.5"/><path d="M92.5 73.2 L94.9 74.0 M93.7 75.4 L94.9 74.0 " class="m"/><path d="M45.4 90.0 L47.5 87.7 L49.1 87.1 L47.0 89.2 Z" fill="#9aef97" stroke="#9aef97" stroke-width="0.5"/><path d="M45.4 90.0 L47.5 87.7 M45.4 90.0 L47.0 89.2 " class="m"/><path d="M106.1 75.7 L108.6 76.4 L109.7 75.1 L107.2 74.4 Z" fill="#ffc83a" stroke="#ffc83a" stroke-width="0.5"/><path d="M107.2 74.4 L109.7 75.1 M106.1 75.7 L107.2 74.4 " class="m"/><path d="M20.8 99.3 L22.9 99.1 L24.6 97.6 L22.5 97.7 Z" fill="#6be2ff" stroke="#6be2ff" stroke-width="0.5"/><path d="M22.5 97.7 L24.6 97.6 M20.8 99.3 L22.5 97.7 " class="m"/><path d="M76.6 71.3 L79.0 72.2 L80.3 70.6 L77.9 69.7 Z" fill="#ffa02f" stroke="#ffa02f" stroke-width="0.5"/><path d="M77.9 69.7 L80.3 70.6 M76.6 71.3 L77.9 69.7 " class="m"/><path d="M85.1 73.5 L87.6 74.8 L88.8 73.4 L86.4 72.0 Z" fill="#e1a42f" stroke="#e1a42f" stroke-width="0.5"/><path d="M85.1 73.5 L87.6 74.8 M87.6 74.8 L88.8 73.4 " class="m"/><path d="M114.8 76.6 L117.3 77.4 L118.4 76.0 L115.9 75.3 Z" fill="#ffc83a" stroke="#ffc83a" stroke-width="0.5"/><path d="M114.8 76.6 L117.3 77.4 M117.3 77.4 L118.4 76.0 " class="m"/><path d="M99.9 75.5 L102.4 76.3 L103.6 74.9 L101.1 74.2 Z" fill="#ffc73a" stroke="#ffc73a" stroke-width="0.5"/><path d="M99.9 75.5 L102.4 76.3 M99.9 75.5 L101.1 74.2 " class="m"/><path d="M123.6 77.5 L126.2 78.3 L127.2 76.9 L124.6 76.1 Z" fill="#ffc93b" stroke="#ffc93b" stroke-width="0.5"/><path d="M124.6 76.1 L127.2 76.9 M123.6 77.5 L124.6 76.1 " class="m"/><path d="M54.2 82.6 L56.3 79.6 L57.8 78.9 L55.7 82.3 Z" fill="#e0dd4c" stroke="#e0dd4c" stroke-width="0.5"/><path d="M55.7 82.3 L57.8 78.9 M54.2 82.6 L55.7 82.3 " class="m"/><path d="M24.6 97.6 L26.8 97.9 L28.5 96.4 L26.3 96.2 Z" fill="#71e4fb" stroke="#71e4fb" stroke-width="0.5"/><path d="M24.6 97.6 L26.8 97.9 M26.8 97.9 L28.5 96.4 " class="m"/><path d="M32.4 95.5 L34.6 95.7 L36.3 94.4 L34.0 94.1 Z" fill="#77e7e7" stroke="#77e7e7" stroke-width="0.5"/><path d="M32.4 95.5 L34.6 95.7 M34.6 95.7 L36.3 94.4 " class="m"/><path d="M28.5 96.4 L30.8 96.9 L32.4 95.5 L30.2 94.9 Z" fill="#70dde6" stroke="#70dde6" stroke-width="0.5"/><path d="M30.2 94.9 L32.4 95.5 M28.5 96.4 L30.2 94.9 " class="m"/><path d="M36.3 94.4 L38.4 94.0 L40.1 93.0 L37.9 93.1 Z" fill="#7ff0dd" stroke="#7ff0dd" stroke-width="0.5"/><path d="M37.9 93.1 L40.1 93.0 M36.3 94.4 L37.9 93.1 " class="m"/><path d="M93.7 75.4 L96.2 76.1 L97.4 74.8 L94.9 74.0 Z" fill="#ffc73a" stroke="#ffc73a" stroke-width="0.5"/><path d="M94.9 74.0 L97.4 74.8 M93.7 75.4 L94.9 74.0 " class="m"/><path d="M72.8 72.7 L75.2 72.9 L76.6 71.3 L74.2 71.3 Z" fill="#ffc039" stroke="#ffc039" stroke-width="0.5"/><path d="M72.8 72.7 L75.2 72.9 M75.2 72.9 L76.6 71.3 " class="m"/><path d="M108.6 76.4 L111.1 77.2 L112.2 75.8 L109.7 75.1 Z" fill="#ffc83a" stroke="#ffc83a" stroke-width="0.5"/><path d="M109.7 75.1 L112.2 75.8 M111.1 77.2 L112.2 75.8 " class="m"/><path d="M69.1 74.4 L71.5 74.0 L72.8 72.7 L70.5 73.2 Z" fill="#ffd03e" stroke="#ffd03e" stroke-width="0.5"/><path d="M70.5 73.2 L72.8 72.7 M69.1 74.4 L70.5 73.2 " class="m"/><path d="M79.0 72.2 L81.4 73.8 L82.7 72.1 L80.3 70.6 Z" fill="#df932a" stroke="#df932a" stroke-width="0.5"/><path d="M80.3 70.6 L82.7 72.1 M81.4 73.8 L82.7 72.1 " class="m"/><path d="M87.6 74.8 L90.0 75.8 L91.3 74.5 L88.8 73.4 Z" fill="#f0b634" stroke="#f0b634" stroke-width="0.5"/><path d="M87.6 74.8 L90.0 75.8 M87.6 74.8 L88.8 73.4 " class="m"/><path d="M40.1 93.0 L42.2 91.6 L43.8 90.8 L41.7 91.9 Z" fill="#8ef3bb" stroke="#8ef3bb" stroke-width="0.5"/><path d="M40.1 93.0 L42.2 91.6 M42.2 91.6 L43.8 90.8 " class="m"/><path d="M117.3 77.4 L119.9 78.1 L121.0 76.8 L118.4 76.0 Z" fill="#ffc83a" stroke="#ffc83a" stroke-width="0.5"/><path d="M117.3 77.4 L119.9 78.1 M117.3 77.4 L118.4 76.0 " class="m"/><path d="M126.2 78.3 L128.8 79.1 L129.8 77.7 L127.2 76.9 Z" fill="#ffc93b" stroke="#ffc93b" stroke-width="0.5"/><path d="M127.2 76.9 L129.8 77.7 M128.8 79.1 L129.8 77.7 " class="m"/><path d="M49.1 87.1 L51.1 83.8 L52.7 83.2 L50.6 86.6 Z" fill="#bbde62" stroke="#bbde62" stroke-width="0.5"/><path d="M50.6 86.6 L52.7 83.2 M51.1 83.8 L52.7 83.2 " class="m"/><path d="M65.3 75.4 L67.7 75.3 L69.1 74.4 L66.7 74.4 Z" fill="#ffd03d" stroke="#ffd03d" stroke-width="0.5"/><path d="M65.3 75.4 L67.7 75.3 M67.7 75.3 L69.1 74.4 " class="m"/><path d="M102.4 76.3 L104.9 77.0 L106.1 75.7 L103.6 74.9 Z" fill="#ffc73a" stroke="#ffc73a" stroke-width="0.5"/><path d="M102.4 76.3 L104.9 77.0 M104.9 77.0 L106.1 75.7 " class="m"/><path d="M57.8 78.9 L60.1 77.7 L61.6 76.7 L59.4 78.9 Z" fill="#ffda42" stroke="#ffda42" stroke-width="0.5"/><path d="M57.8 78.9 L60.1 77.7 M60.1 77.7 L61.6 76.7 " class="m"/><path d="M81.4 73.8 L83.8 75.2 L85.1 73.5 L82.7 72.1 Z" fill="#de9d2c" stroke="#de9d2c" stroke-width="0.5"/><path d="M82.7 72.1 L85.1 73.5 M81.4 73.8 L82.7 72.1 " class="m"/><path d="M61.6 76.7 L63.9 76.6 L65.3 75.4 L63.0 76.1 Z" fill="#ffdc41" stroke="#ffdc41" stroke-width="0.5"/><path d="M63.0 76.1 L65.3 75.4 M61.6 76.7 L63.0 76.1 " class="m"/><path d="M96.2 76.1 L98.7 76.9 L99.9 75.5 L97.4 74.8 Z" fill="#ffc73a" stroke="#ffc73a" stroke-width="0.5"/><path d="M97.4 74.8 L99.9 75.5 M98.7 76.9 L99.9 75.5 " class="m"/><path d="M111.1 77.2 L113.7 78.0 L114.8 76.6 L112.2 75.8 Z" fill="#ffc83a" stroke="#ffc83a" stroke-width="0.5"/><path d="M112.2 75.8 L114.8 76.6 M111.1 77.2 L112.2 75.8 " class="m"/><path d="M19.1 100.8 L21.2 100.5 L22.9 99.1 L20.8 99.3 Z" fill="#6ce3ff" stroke="#6ce3ff" stroke-width="0.5"/><path d="M19.1 100.8 L21.2 100.5 M19.1 100.8 L20.8 99.3 " class="m"/><path d="M90.0 75.8 L92.5 76.7 L93.7 75.4 L91.3 74.5 Z" fill="#fac138" stroke="#fac138" stroke-width="0.5"/><path d="M90.0 75.8 L92.5 76.7 M92.5 76.7 L93.7 75.4 " class="m"/><path d="M119.9 78.1 L122.5 78.9 L123.6 77.5 L121.0 76.8 Z" fill="#ffc83a" stroke="#ffc83a" stroke-width="0.5"/><path d="M119.9 78.1 L122.5 78.9 M122.5 78.9 L123.6 77.5 " class="m"/><path d="M75.2 72.9 L77.7 73.9 L79.0 72.2 L76.6 71.3 Z" fill="#fea32f" stroke="#fea32f" stroke-width="0.5"/><path d="M75.2 72.9 L77.7 73.9 M75.2 72.9 L76.6 71.3 " class="m"/><path d="M43.8 90.8 L45.9 88.3 L47.5 87.7 L45.4 90.0 Z" fill="#a4ea86" stroke="#a4ea86" stroke-width="0.5"/><path d="M45.4 90.0 L47.5 87.7 M43.8 90.8 L45.4 90.0 " class="m"/><path d="M83.8 75.2 L86.3 76.3 L87.6 74.8 L85.1 73.5 Z" fill="#edb032" stroke="#edb032" stroke-width="0.5"/><path d="M85.1 73.5 L87.6 74.8 M86.3 76.3 L87.6 74.8 " class="m"/><path d="M22.9 99.1 L25.1 99.4 L26.8 97.9 L24.6 97.6 Z" fill="#71e3f8" stroke="#71e3f8" stroke-width="0.5"/><path d="M24.6 97.6 L26.8 97.9 M25.1 99.4 L26.8 97.9 " class="m"/><path d="M104.9 77.0 L107.4 77.8 L108.6 76.4 L106.1 75.7 Z" fill="#ffc73a" stroke="#ffc73a" stroke-width="0.5"/><path d="M104.9 77.0 L107.4 77.8 M104.9 77.0 L106.1 75.7 " class="m"/><path d="M26.8 97.9 L29.1 98.3 L30.8 96.9 L28.5 96.4 Z" fill="#72e1e8" stroke="#72e1e8" stroke-width="0.5"/><path d="M26.8 97.9 L29.1 98.3 M26.8 97.9 L28.5 96.4 " class="m"/><path d="M30.8 96.9 L33.0 96.8 L34.6 95.7 L32.4 95.5 Z" fill="#7aebe4" stroke="#7aebe4" stroke-width="0.5"/><path d="M32.4 95.5 L34.6 95.7 M33.0 96.8 L34.6 95.7 " class="m"/><path d="M113.7 78.0 L116.3 78.7 L117.3 77.4 L114.8 76.6 Z" fill="#ffc83a" stroke="#ffc83a" stroke-width="0.5"/><path d="M114.8 76.6 L117.3 77.4 M116.3 78.7 L117.3 77.4 " class="m"/><path d="M98.7 76.9 L101.2 77.6 L102.4 76.3 L99.9 75.5 Z" fill="#ffc73a" stroke="#ffc73a" stroke-width="0.5"/><path d="M99.9 75.5 L102.4 76.3 M98.7 76.9 L99.9 75.5 " class="m"/><path d="M122.5 78.9 L125.1 79.7 L126.2 78.3 L123.6 77.5 Z" fill="#ffc83a" stroke="#ffc83a" stroke-width="0.5"/><path d="M122.5 78.9 L125.1 79.7 M122.5 78.9 L123.6 77.5 " class="m"/><path d="M34.6 95.7 L36.8 94.9 L38.4 94.0 L36.3 94.4 Z" fill="#85f3d2" stroke="#85f3d2" stroke-width="0.5"/><path d="M34.6 95.7 L36.8 94.9 M34.6 95.7 L36.3 94.4 " class="m"/><path d="M71.5 74.0 L73.9 74.4 L75.2 72.9 L72.8 72.7 Z" fill="#ffbd38" stroke="#ffbd38" stroke-width="0.5"/><path d="M72.8 72.7 L75.2 72.9 M73.9 74.4 L75.2 72.9 " class="m"/><path d="M92.5 76.7 L95.0 77.5 L96.2 76.1 L93.7 75.4 Z" fill="#ffc63a" stroke="#ffc63a" stroke-width="0.5"/><path d="M92.5 76.7 L95.0 77.5 M92.5 76.7 L93.7 75.4 " class="m"/><path d="M77.7 73.9 L80.1 75.5 L81.4 73.8 L79.0 72.2 Z" fill="#df972b" stroke="#df972b" stroke-width="0.5"/><path d="M77.7 73.9 L80.1 75.5 M80.1 75.5 L81.4 73.8 " class="m"/><path d="M52.7 83.2 L54.8 80.5 L56.3 79.6 L54.2 82.6 Z" fill="#efdf48" stroke="#efdf48" stroke-width="0.5"/><path d="M52.7 83.2 L54.8 80.5 M52.7 83.2 L54.2 82.6 " class="m"/><path d="M86.3 76.3 L88.8 77.2 L90.0 75.8 L87.6 74.8 Z" fill="#f7bc36" stroke="#f7bc36" stroke-width="0.5"/><path d="M87.6 74.8 L90.0 75.8 M86.3 76.3 L87.6 74.8 " class="m"/><path d="M107.4 77.8 L110.0 78.6 L111.1 77.2 L108.6 76.4 Z" fill="#ffc73a" stroke="#ffc73a" stroke-width="0.5"/><path d="M107.4 77.8 L110.0 78.6 M110.0 78.6 L111.1 77.2 " class="m"/><path d="M67.7 75.3 L70.1 75.3 L71.5 74.0 L69.1 74.4 Z" fill="#ffc73b" stroke="#ffc73b" stroke-width="0.5"/><path d="M67.7 75.3 L70.1 75.3 M67.7 75.3 L69.1 74.4 " class="m"/><path d="M38.4 94.0 L40.5 92.3 L42.2 91.6 L40.1 93.0 Z" fill="#96f2a9" stroke="#96f2a9" stroke-width="0.5"/><path d="M40.1 93.0 L42.2 91.6 M40.5 92.3 L42.2 91.6 " class="m"/><path d="M116.3 78.7 L118.9 79.5 L119.9 78.1 L117.3 77.4 Z" fill="#ffc83a" stroke="#ffc83a" stroke-width="0.5"/><path d="M117.3 77.4 L119.9 78.1 M116.3 78.7 L117.3 77.4 " class="m"/><path d="M80.1 75.5 L82.5 76.9 L83.8 75.2 L81.4 73.8 Z" fill="#dfa12e" stroke="#dfa12e" stroke-width="0.5"/><path d="M80.1 75.5 L82.5 76.9 M80.1 75.5 L81.4 73.8 " class="m"/><path d="M125.1 79.7 L127.8 80.5 L128.8 79.1 L126.2 78.3 Z" fill="#ffc83a" stroke="#ffc83a" stroke-width="0.5"/><path d="M125.1 79.7 L127.8 80.5 M127.8 80.5 L128.8 79.1 " class="m"/><path d="M101.2 77.6 L103.7 78.4 L104.9 77.0 L102.4 76.3 Z" fill="#ffc73a" stroke="#ffc73a" stroke-width="0.5"/><path d="M102.4 76.3 L104.9 77.0 M103.7 78.4 L104.9 77.0 " class="m"/><path d="M63.9 76.6 L66.3 76.4 L67.7 75.3 L65.3 75.4 Z" fill="#ffd03e" stroke="#ffd03e" stroke-width="0.5"/><path d="M65.3 75.4 L67.7 75.3 M66.3 76.4 L67.7 75.3 " class="m"/><path d="M47.5 87.7 L49.5 84.5 L51.1 83.8 L49.1 87.1 Z" fill="#cbe059" stroke="#cbe059" stroke-width="0.5"/><path d="M47.5 87.7 L49.5 84.5 M49.5 84.5 L51.1 83.8 " class="m"/><path d="M95.0 77.5 L97.5 78.2 L98.7 76.9 L96.2 76.1 Z" fill="#ffc73a" stroke="#ffc73a" stroke-width="0.5"/><path d="M95.0 77.5 L97.5 78.2 M97.5 78.2 L98.7 76.9 " class="m"/><path d="M60.1 77.7 L62.5 77.9 L63.9 76.6 L61.6 76.7 Z" fill="#ffd840" stroke="#ffd840" stroke-width="0.5"/><path d="M60.1 77.7 L62.5 77.9 M60.1 77.7 L61.6 76.7 " class="m"/><path d="M56.3 79.6 L58.6 78.8 L60.1 77.7 L57.8 78.9 Z" fill="#ffe144" stroke="#ffe144" stroke-width="0.5"/><path d="M57.8 78.9 L60.1 77.7 M58.6 78.8 L60.1 77.7 " class="m"/><path d="M21.2 100.5 L23.4 100.9 L25.1 99.4 L22.9 99.1 Z" fill="#71e3f5" stroke="#71e3f5" stroke-width="0.5"/><path d="M21.2 100.5 L23.4 100.9 M23.4 100.9 L25.1 99.4 " class="m"/><path d="M73.9 74.4 L76.3 75.5 L77.7 73.9 L75.2 72.9 Z" fill="#faa42f" stroke="#faa42f" stroke-width="0.5"/><path d="M75.2 72.9 L77.7 73.9 M73.9 74.4 L75.2 72.9 " class="m"/><path d="M110.0 78.6 L112.6 79.3 L113.7 78.0 L111.1 77.2 Z" fill="#ffc73a" stroke="#ffc73a" stroke-width="0.5"/><path d="M110.0 78.6 L112.6 79.3 M110.0 78.6 L111.1 77.2 " class="m"/><path d="M88.8 77.2 L91.2 78.1 L92.5 76.7 L90.0 75.8 Z" fill="#fcc238" stroke="#fcc238" stroke-width="0.5"/><path d="M90.0 75.8 L92.5 76.7 M91.2 78.1 L92.5 76.7 " class="m"/><path d="M25.1 99.4 L27.4 99.6 L29.1 98.3 L26.8 97.9 Z" fill="#76e6e9" stroke="#76e6e9" stroke-width="0.5"/><path d="M26.8 97.9 L29.1 98.3 M25.1 99.4 L26.8 97.9 " class="m"/><path d="M82.5 76.9 L85.0 77.8 L86.3 76.3 L83.8 75.2 Z" fill="#f9bb36" stroke="#f9bb36" stroke-width="0.5"/><path d="M82.5 76.9 L85.0 77.8 M85.0 77.8 L86.3 76.3 " class="m"/><path d="M118.9 79.5 L121.5 80.3 L122.5 78.9 L119.9 78.1 Z" fill="#ffc83a" stroke="#ffc83a" stroke-width="0.5"/><path d="M119.9 78.1 L122.5 78.9 M121.5 80.3 L122.5 78.9 " class="m"/><path d="M29.1 98.3 L31.2 98.0 L33.0 96.8 L30.8 96.9 Z" fill="#7eefdf" stroke="#7eefdf" stroke-width="0.5"/><path d="M29.1 98.3 L31.2 98.0 M31.2 98.0 L33.0 96.8 " class="m"/><path d="M103.7 78.4 L106.3 79.2 L107.4 77.8 L104.9 77.0 Z" fill="#ffc73a" stroke="#ffc73a" stroke-width="0.5"/><path d="M104.9 77.0 L107.4 77.8 M103.7 78.4 L104.9 77.0 " class="m"/><path d="M42.2 91.6 L44.2 89.0 L45.9 88.3 L43.8 90.8 Z" fill="#afe676" stroke="#afe676" stroke-width="0.5"/><path d="M42.2 91.6 L44.2 89.0 M42.2 91.6 L43.8 90.8 " class="m"/><path d="M76.3 75.5 L78.8 77.0 L80.1 75.5 L77.7 73.9 Z" fill="#de9a2b" stroke="#de9a2b" stroke-width="0.5"/><path d="M77.7 73.9 L80.1 75.5 M78.8 77.0 L80.1 75.5 " class="m"/><path d="M97.5 78.2 L100.0 79.0 L101.2 77.6 L98.7 76.9 Z" fill="#ffc73a" stroke="#ffc73a" stroke-width="0.5"/><path d="M97.5 78.2 L100.0 79.0 M97.5 78.2 L98.7 76.9 " class="m"/><path d="M70.1 75.3 L72.5 75.9 L73.9 74.4 L71.5 74.0 Z" fill="#ffb535" stroke="#ffb535" stroke-width="0.5"/><path d="M70.1 75.3 L72.5 75.9 M72.5 75.9 L73.9 74.4 " class="m"/><path d="M112.6 79.3 L115.2 80.1 L116.3 78.7 L113.7 78.0 Z" fill="#ffc73a" stroke="#ffc73a" stroke-width="0.5"/><path d="M112.6 79.3 L115.2 80.1 M115.2 80.1 L116.3 78.7 " class="m"/><path d="M33.0 96.8 L35.1 95.8 L36.8 94.9 L34.6 95.7 Z" fill="#8bf4c4" stroke="#8bf4c4" stroke-width="0.5"/><path d="M34.6 95.7 L36.8 94.9 M33.0 96.8 L34.6 95.7 " class="m"/><path d="M121.5 80.3 L124.1 81.1 L125.1 79.7 L122.5 78.9 Z" fill="#ffc83a" stroke="#ffc83a" stroke-width="0.5"/><path d="M122.5 78.9 L125.1 79.7 M121.5 80.3 L122.5 78.9 " class="m"/><path d="M91.2 78.1 L93.7 78.8 L95.0 77.5 L92.5 76.7 Z" fill="#ffc639" stroke="#ffc639" stroke-width="0.5"/><path d="M92.5 76.7 L95.0 77.5 M91.2 78.1 L92.5 76.7 " class="m"/><path d="M85.0 77.8 L87.5 78.6 L88.8 77.2 L86.3 76.3 Z" fill="#fcc038" stroke="#fcc038" stroke-width="0.5"/><path d="M85.0 77.8 L87.5 78.6 M85.0 77.8 L86.3 76.3 " class="m"/><path d="M106.3 79.2 L108.9 79.9 L110.0 78.6 L107.4 77.8 Z" fill="#ffc73a" stroke="#ffc73a" stroke-width="0.5"/><path d="M107.4 77.8 L110.0 78.6 M108.9 79.9 L110.0 78.6 " class="m"/><path d="M78.8 77.0 L81.2 78.3 L82.5 76.9 L80.1 75.5 Z" fill="#e1a62f" stroke="#e1a62f" stroke-width="0.5"/><path d="M80.1 75.5 L82.5 76.9 M78.8 77.0 L80.1 75.5 " class="m"/><path d="M51.1 83.8 L53.3 81.6 L54.8 80.5 L52.7 83.2 Z" fill="#fee246" stroke="#fee246" stroke-width="0.5"/><path d="M52.7 83.2 L54.8 80.5 M51.1 83.8 L52.7 83.2 " class="m"/><path d="M66.3 76.4 L68.7 76.5 L70.1 75.3 L67.7 75.3 Z" fill="#ffc039" stroke="#ffc039" stroke-width="0.5"/><path d="M67.7 75.3 L70.1 75.3 M66.3 76.4 L67.7 75.3 " class="m"/><path d="M115.2 80.1 L117.8 80.9 L118.9 79.5 L116.3 78.7 Z" fill="#ffc73a" stroke="#ffc73a" stroke-width="0.5"/><path d="M115.2 80.1 L117.8 80.9 M115.2 80.1 L116.3 78.7 " class="m"/><path d="M124.1 81.1 L126.7 81.9 L127.8 80.5 L125.1 79.7 Z" fill="#ffc83a" stroke="#ffc83a" stroke-width="0.5"/><path d="M125.1 79.7 L127.8 80.5 M126.7 81.9 L127.8 80.5 " class="m"/><path d="M36.8 94.9 L38.8 93.1 L40.5 92.3 L38.4 94.0 Z" fill="#9ef297" stroke="#9ef297" stroke-width="0.5"/><path d="M36.8 94.9 L38.8 93.1 M38.8 93.1 L40.5 92.3 " class="m"/><path d="M62.5 77.9 L64.8 77.6 L66.3 76.4 L63.9 76.6 Z" fill="#ffd13e" stroke="#ffd13e" stroke-width="0.5"/><path d="M62.5 77.9 L64.8 77.6 M64.8 77.6 L66.3 76.4 " class="m"/><path d="M100.0 79.0 L102.6 79.8 L103.7 78.4 L101.2 77.6 Z" fill="#ffc73a" stroke="#ffc73a" stroke-width="0.5"/><path d="M100.0 79.0 L102.6 79.8 M102.6 79.8 L103.7 78.4 " class="m"/><path d="M72.5 75.9 L74.9 77.1 L76.3 75.5 L73.9 74.4 Z" fill="#f2a12e" stroke="#f2a12e" stroke-width="0.5"/><path d="M72.5 75.9 L74.9 77.1 M72.5 75.9 L73.9 74.4 " class="m"/><path d="M58.6 78.8 L61.0 79.3 L62.5 77.9 L60.1 77.7 Z" fill="#ffd03d" stroke="#ffd03d" stroke-width="0.5"/><path d="M60.1 77.7 L62.5 77.9 M58.6 78.8 L60.1 77.7 " class="m"/><path d="M23.4 100.9 L25.6 101.0 L27.4 99.6 L25.1 99.4 Z" fill="#79ebe9" stroke="#79ebe9" stroke-width="0.5"/><path d="M23.4 100.9 L25.6 101.0 M23.4 100.9 L25.1 99.4 " class="m"/><path d="M93.7 78.8 L96.3 79.6 L97.5 78.2 L95.0 77.5 Z" fill="#ffc63a" stroke="#ffc63a" stroke-width="0.5"/><path d="M95.0 77.5 L97.5 78.2 M96.3 79.6 L97.5 78.2 " class="m"/><path d="M54.8 80.5 L57.1 80.1 L58.6 78.8 L56.3 79.6 Z" fill="#ffe143" stroke="#ffe143" stroke-width="0.5"/><path d="M54.8 80.5 L57.1 80.1 M57.1 80.1 L58.6 78.8 " class="m"/><path d="M87.5 78.6 L90.0 79.4 L91.2 78.1 L88.8 77.2 Z" fill="#fec339" stroke="#fec339" stroke-width="0.5"/><path d="M87.5 78.6 L90.0 79.4 M90.0 79.4 L91.2 78.1 " class="m"/><path d="M81.2 78.3 L83.7 79.2 L85.0 77.8 L82.5 76.9 Z" fill="#fcbe37" stroke="#fcbe37" stroke-width="0.5"/><path d="M82.5 76.9 L85.0 77.8 M83.7 79.2 L85.0 77.8 " class="m"/><path d="M108.9 79.9 L111.4 80.7 L112.6 79.3 L110.0 78.6 Z" fill="#ffc73a" stroke="#ffc73a" stroke-width="0.5"/><path d="M110.0 78.6 L112.6 79.3 M108.9 79.9 L110.0 78.6 " class="m"/><path d="M45.9 88.3 L47.9 85.4 L49.5 84.5 L47.5 87.7 Z" fill="#dbe351" stroke="#dbe351" stroke-width="0.5"/><path d="M47.5 87.7 L49.5 84.5 M47.9 85.4 L49.5 84.5 " class="m"/><path d="M27.4 99.6 L29.5 99.0 L31.2 98.0 L29.1 98.3 Z" fill="#83f3d7" stroke="#83f3d7" stroke-width="0.5"/><path d="M29.1 98.3 L31.2 98.0 M29.5 99.0 L31.2 98.0 " class="m"/><path d="M117.8 80.9 L120.4 81.7 L121.5 80.3 L118.9 79.5 Z" fill="#ffc73a" stroke="#ffc73a" stroke-width="0.5"/><path d="M117.8 80.9 L120.4 81.7 M120.4 81.7 L121.5 80.3 " class="m"/><path d="M102.6 79.8 L105.1 80.6 L106.3 79.2 L103.7 78.4 Z" fill="#ffc73a" stroke="#ffc73a" stroke-width="0.5"/><path d="M102.6 79.8 L105.1 80.6 M102.6 79.8 L103.7 78.4 " class="m"/><path d="M74.9 77.1 L77.4 78.5 L78.8 77.0 L76.3 75.5 Z" fill="#de9c2c" stroke="#de9c2c" stroke-width="0.5"/><path d="M74.9 77.1 L77.4 78.5 M77.4 78.5 L78.8 77.0 " class="m"/><path d="M68.7 76.5 L71.1 77.3 L72.5 75.9 L70.1 75.3 Z" fill="#ffad32" stroke="#ffad32" stroke-width="0.5"/><path d="M70.1 75.3 L72.5 75.9 M71.1 77.3 L72.5 75.9 " class="m"/><path d="M96.3 79.6 L98.8 80.4 L100.0 79.0 L97.5 78.2 Z" fill="#ffc63a" stroke="#ffc63a" stroke-width="0.5"/><path d="M97.5 78.2 L100.0 79.0 M96.3 79.6 L97.5 78.2 " class="m"/><path d="M31.2 98.0 L33.3 96.7 L35.1 95.8 L33.0 96.8 Z" fill="#93f4b4" stroke="#93f4b4" stroke-width="0.5"/><path d="M31.2 98.0 L33.3 96.7 M31.2 98.0 L33.0 96.8 " class="m"/><path d="M40.5 92.3 L42.6 89.7 L44.2 89.0 L42.2 91.6 Z" fill="#bae468" stroke="#bae468" stroke-width="0.5"/><path d="M42.2 91.6 L44.2 89.0 M40.5 92.3 L42.2 91.6 " class="m"/><path d="M111.4 80.7 L114.0 81.5 L115.2 80.1 L112.6 79.3 Z" fill="#ffc73a" stroke="#ffc73a" stroke-width="0.5"/><path d="M112.6 79.3 L115.2 80.1 M114.0 81.5 L115.2 80.1 " class="m"/><path d="M90.0 79.4 L92.5 80.2 L93.7 78.8 L91.2 78.1 Z" fill="#ffc539" stroke="#ffc539" stroke-width="0.5"/><path d="M90.0 79.4 L92.5 80.2 M90.0 79.4 L91.2 78.1 " class="m"/><path d="M120.4 81.7 L123.0 82.5 L124.1 81.1 L121.5 80.3 Z" fill="#ffc73a" stroke="#ffc73a" stroke-width="0.5"/><path d="M120.4 81.7 L123.0 82.5 M120.4 81.7 L121.5 80.3 " class="m"/><path d="M83.7 79.2 L86.2 80.0 L87.5 78.6 L85.0 77.8 Z" fill="#fec238" stroke="#fec238" stroke-width="0.5"/><path d="M85.0 77.8 L87.5 78.6 M83.7 79.2 L85.0 77.8 " class="m"/><path d="M77.4 78.5 L79.9 79.7 L81.2 78.3 L78.8 77.0 Z" fill="#e7ab31" stroke="#e7ab31" stroke-width="0.5"/><path d="M77.4 78.5 L79.9 79.7 M77.4 78.5 L78.8 77.0 " class="m"/><path d="M64.8 77.6 L67.2 77.8 L68.7 76.5 L66.3 76.4 Z" fill="#ffbd38" stroke="#ffbd38" stroke-width="0.5"/><path d="M64.8 77.6 L67.2 77.8 M64.8 77.6 L66.3 76.4 " class="m"/><path d="M105.1 80.6 L107.7 81.3 L108.9 79.9 L106.3 79.2 Z" fill="#ffc73a" stroke="#ffc73a" stroke-width="0.5"/><path d="M105.1 80.6 L107.7 81.3 M107.7 81.3 L108.9 79.9 " class="m"/><path d="M49.5 84.5 L51.7 82.8 L53.3 81.6 L51.1 83.8 Z" fill="#ffe345" stroke="#ffe345" stroke-width="0.5"/><path d="M49.5 84.5 L51.7 82.8 M49.5 84.5 L51.1 83.8 " class="m"/><path d="M61.0 79.3 L63.4 79.0 L64.8 77.6 L62.5 77.9 Z" fill="#ffd23e" stroke="#ffd23e" stroke-width="0.5"/><path d="M62.5 77.9 L64.8 77.6 M63.4 79.0 L64.8 77.6 " class="m"/><path d="M114.0 81.5 L116.7 82.3 L117.8 80.9 L115.2 80.1 Z" fill="#ffc73a" stroke="#ffc73a" stroke-width="0.5"/><path d="M115.2 80.1 L117.8 80.9 M114.0 81.5 L115.2 80.1 " class="m"/><path d="M71.1 77.3 L73.6 78.6 L74.9 77.1 L72.5 75.9 Z" fill="#ea9d2d" stroke="#ea9d2d" stroke-width="0.5"/><path d="M72.5 75.9 L74.9 77.1 M71.1 77.3 L72.5 75.9 " class="m"/><path d="M98.8 80.4 L101.4 81.2 L102.6 79.8 L100.0 79.0 Z" fill="#ffc63a" stroke="#ffc63a" stroke-width="0.5"/><path d="M100.0 79.0 L102.6 79.8 M101.4 81.2 L102.6 79.8 " class="m"/><path d="M123.0 82.5 L125.7 83.3 L126.7 81.9 L124.1 81.1 Z" fill="#ffc73a" stroke="#ffc73a" stroke-width="0.5"/><path d="M123.0 82.5 L125.7 83.3 M125.7 83.3 L126.7 81.9 " class="m"/><path d="M57.1 80.1 L59.5 80.7 L61.0 79.3 L58.6 78.8 Z" fill="#ffcb3c" stroke="#ffcb3c" stroke-width="0.5"/><path d="M57.1 80.1 L59.5 80.7 M57.1 80.1 L58.6 78.8 " class="m"/><path d="M35.1 95.8 L37.1 93.9 L38.8 93.1 L36.8 94.9 Z" fill="#a8ef88" stroke="#a8ef88" stroke-width="0.5"/><path d="M36.8 94.9 L38.8 93.1 M37.1 93.9 L38.8 93.1 " class="m"/><path d="M92.5 80.2 L95.0 81.0 L96.3 79.6 L93.7 78.8 Z" fill="#ffc539" stroke="#ffc539" stroke-width="0.5"/><path d="M92.5 80.2 L95.0 81.0 M95.0 81.0 L96.3 79.6 " class="m"/><path d="M53.3 81.6 L55.6 81.6 L57.1 80.1 L54.8 80.5 Z" fill="#ffe043" stroke="#ffe043" stroke-width="0.5"/><path d="M54.8 80.5 L57.1 80.1 M55.6 81.6 L57.1 80.1 " class="m"/><path d="M86.2 80.0 L88.7 80.8 L90.0 79.4 L87.5 78.6 Z" fill="#ffc339" stroke="#ffc339" stroke-width="0.5"/><path d="M87.5 78.6 L90.0 79.4 M88.7 80.8 L90.0 79.4 " class="m"/><path d="M79.9 79.7 L82.4 80.6 L83.7 79.2 L81.2 78.3 Z" fill="#fcbe37" stroke="#fcbe37" stroke-width="0.5"/><path d="M79.9 79.7 L82.4 80.6 M82.4 80.6 L83.7 79.2 " class="m"/><path d="M25.6 101.0 L27.7 100.2 L29.5 99.0 L27.4 99.6 Z" fill="#89f6ce" stroke="#89f6ce" stroke-width="0.5"/><path d="M25.6 101.0 L27.7 100.2 M27.7 100.2 L29.5 99.0 " class="m"/><path d="M107.7 81.3 L110.3 82.1 L111.4 80.7 L108.9 79.9 Z" fill="#ffc73a" stroke="#ffc73a" stroke-width="0.5"/><path d="M107.7 81.3 L110.3 82.1 M107.7 81.3 L108.9 79.9 " class="m"/><path d="M73.6 78.6 L76.0 80.0 L77.4 78.5 L74.9 77.1 Z" fill="#de9d2c" stroke="#de9d2c" stroke-width="0.5"/><path d="M74.9 77.1 L77.4 78.5 M76.0 80.0 L77.4 78.5 " class="m"/><path d="M44.2 89.0 L46.3 86.3 L47.9 85.4 L45.9 88.3 Z" fill="#e7e34d" stroke="#e7e34d" stroke-width="0.5"/><path d="M44.2 89.0 L46.3 86.3 M46.3 86.3 L47.9 85.4 " class="m"/><path d="M116.7 82.3 L119.3 83.1 L120.4 81.7 L117.8 80.9 Z" fill="#ffc73a" stroke="#ffc73a" stroke-width="0.5"/><path d="M117.8 80.9 L120.4 81.7 M119.3 83.1 L120.4 81.7 " class="m"/><path d="M101.4 81.2 L103.9 82.0 L105.1 80.6 L102.6 79.8 Z" fill="#ffc63a" stroke="#ffc63a" stroke-width="0.5"/><path d="M102.6 79.8 L105.1 80.6 M101.4 81.2 L102.6 79.8 " class="m"/><path d="M67.2 77.8 L69.7 78.7 L71.1 77.3 L68.7 76.5 Z" fill="#ffa730" stroke="#ffa730" stroke-width="0.5"/><path d="M67.2 77.8 L69.7 78.7 M69.7 78.7 L71.1 77.3 " class="m"/><path d="M95.0 81.0 L97.6 81.8 L98.8 80.4 L96.3 79.6 Z" fill="#ffc539" stroke="#ffc539" stroke-width="0.5"/><path d="M95.0 81.0 L97.6 81.8 M95.0 81.0 L96.3 79.6 " class="m"/><path d="M29.5 99.0 L31.6 97.6 L33.3 96.7 L31.2 98.0 Z" fill="#9af5a4" stroke="#9af5a4" stroke-width="0.5"/><path d="M31.2 98.0 L33.3 96.7 M29.5 99.0 L31.2 98.0 " class="m"/><path d="M88.7 80.8 L91.2 81.6 L92.5 80.2 L90.0 79.4 Z" fill="#ffc439" stroke="#ffc439" stroke-width="0.5"/><path d="M90.0 79.4 L92.5 80.2 M88.7 80.8 L90.0 79.4 " class="m"/><path d="M110.3 82.1 L112.9 82.9 L114.0 81.5 L111.4 80.7 Z" fill="#ffc73a" stroke="#ffc73a" stroke-width="0.5"/><path d="M110.3 82.1 L112.9 82.9 M112.9 82.9 L114.0 81.5 " class="m"/><path d="M82.4 80.6 L84.9 81.5 L86.2 80.0 L83.7 79.2 Z" fill="#ffc238" stroke="#ffc238" stroke-width="0.5"/><path d="M82.4 80.6 L84.9 81.5 M82.4 80.6 L83.7 79.2 " class="m"/><path d="M76.0 80.0 L78.5 81.2 L79.9 79.7 L77.4 78.5 Z" fill="#ecaf32" stroke="#ecaf32" stroke-width="0.5"/><path d="M77.4 78.5 L79.9 79.7 M76.0 80.0 L77.4 78.5 " class="m"/><path d="M119.3 83.1 L122.0 83.9 L123.0 82.5 L120.4 81.7 Z" fill="#ffc73a" stroke="#ffc73a" stroke-width="0.5"/><path d="M120.4 81.7 L123.0 82.5 M119.3 83.1 L120.4 81.7 " class="m"/><path d="M38.8 93.1 L40.9 90.5 L42.6 89.7 L40.5 92.3 Z" fill="#c8e560" stroke="#c8e560" stroke-width="0.5"/><path d="M38.8 93.1 L40.9 90.5 M38.8 93.1 L40.5 92.3 " class="m"/><path d="M63.4 79.0 L65.8 79.3 L67.2 77.8 L64.8 77.6 Z" fill="#ffbc38" stroke="#ffbc38" stroke-width="0.5"/><path d="M64.8 77.6 L67.2 77.8 M63.4 79.0 L64.8 77.6 " class="m"/><path d="M103.9 82.0 L106.5 82.8 L107.7 81.3 L105.1 80.6 Z" fill="#ffc63a" stroke="#ffc63a" stroke-width="0.5"/><path d="M105.1 80.6 L107.7 81.3 M106.5 82.8 L107.7 81.3 " class="m"/><path d="M59.5 80.7 L61.9 80.4 L63.4 79.0 L61.0 79.3 Z" fill="#ffd13e" stroke="#ffd13e" stroke-width="0.5"/><path d="M59.5 80.7 L61.9 80.4 M61.9 80.4 L63.4 79.0 " class="m"/><path d="M69.7 78.7 L72.2 80.1 L73.6 78.6 L71.1 77.3 Z" fill="#e49a2c" stroke="#e49a2c" stroke-width="0.5"/><path d="M69.7 78.7 L72.2 80.1 M69.7 78.7 L71.1 77.3 " class="m"/><path d="M47.9 85.4 L50.2 84.1 L51.7 82.8 L49.5 84.5 Z" fill="#ffe445" stroke="#ffe445" stroke-width="0.5"/><path d="M49.5 84.5 L51.7 82.8 M47.9 85.4 L49.5 84.5 " class="m"/><path d="M55.6 81.6 L58.0 82.2 L59.5 80.7 L57.1 80.1 Z" fill="#ffc93b" stroke="#ffc93b" stroke-width="0.5"/><path d="M57.1 80.1 L59.5 80.7 M55.6 81.6 L57.1 80.1 " class="m"/><path d="M97.6 81.8 L100.1 82.6 L101.4 81.2 L98.8 80.4 Z" fill="#ffc539" stroke="#ffc539" stroke-width="0.5"/><path d="M97.6 81.8 L100.1 82.6 M100.1 82.6 L101.4 81.2 " class="m"/><path d="M112.9 82.9 L115.5 83.7 L116.7 82.3 L114.0 81.5 Z" fill="#ffc73a" stroke="#ffc73a" stroke-width="0.5"/><path d="M112.9 82.9 L115.5 83.7 M112.9 82.9 L114.0 81.5 " class="m"/><path d="M122.0 83.9 L124.6 84.7 L125.7 83.3 L123.0 82.5 Z" fill="#ffc73a" stroke="#ffc73a" stroke-width="0.5"/><path d="M123.0 82.5 L125.7 83.3 M124.6 84.7 L125.7 83.3 " class="m"/><path d="M91.2 81.6 L93.8 82.4 L95.0 81.0 L92.5 80.2 Z" fill="#ffc539" stroke="#ffc539" stroke-width="0.5"/><path d="M92.5 80.2 L95.0 81.0 M93.8 82.4 L95.0 81.0 " class="m"/><path d="M51.7 82.8 L54.1 83.0 L55.6 81.6 L53.3 81.6 Z" fill="#ffdc41" stroke="#ffdc41" stroke-width="0.5"/><path d="M51.7 82.8 L54.1 83.0 M54.1 83.0 L55.6 81.6 " class="m"/><path d="M78.5 81.2 L81.0 82.0 L82.4 80.6 L79.9 79.7 Z" fill="#fdbf37" stroke="#fdbf37" stroke-width="0.5"/><path d="M79.9 79.7 L82.4 80.6 M81.0 82.0 L82.4 80.6 " class="m"/><path d="M84.9 81.5 L87.4 82.3 L88.7 80.8 L86.2 80.0 Z" fill="#ffc339" stroke="#ffc339" stroke-width="0.5"/><path d="M84.9 81.5 L87.4 82.3 M87.4 82.3 L88.7 80.8 " class="m"/><path d="M33.3 96.7 L35.4 94.7 L37.1 93.9 L35.1 95.8 Z" fill="#b2eb79" stroke="#b2eb79" stroke-width="0.5"/><path d="M33.3 96.7 L35.4 94.7 M35.4 94.7 L37.1 93.9 " class="m"/><path d="M106.5 82.8 L109.1 83.6 L110.3 82.1 L107.7 81.3 Z" fill="#ffc63a" stroke="#ffc63a" stroke-width="0.5"/><path d="M107.7 81.3 L110.3 82.1 M106.5 82.8 L107.7 81.3 " class="m"/><path d="M72.2 80.1 L74.7 81.6 L76.0 80.0 L73.6 78.6 Z" fill="#de9e2d" stroke="#de9e2d" stroke-width="0.5"/><path d="M72.2 80.1 L74.7 81.6 M74.7 81.6 L76.0 80.0 " class="m"/><path d="M115.5 83.7 L118.2 84.6 L119.3 83.1 L116.7 82.3 Z" fill="#ffc73a" stroke="#ffc73a" stroke-width="0.5"/><path d="M115.5 83.7 L118.2 84.6 M118.2 84.6 L119.3 83.1 " class="m"/><path d="M65.8 79.3 L68.3 80.2 L69.7 78.7 L67.2 77.8 Z" fill="#fea630" stroke="#fea630" stroke-width="0.5"/><path d="M67.2 77.8 L69.7 78.7 M68.3 80.2 L69.7 78.7 " class="m"/><path d="M100.1 82.6 L102.7 83.4 L103.9 82.0 L101.4 81.2 Z" fill="#ffc539" stroke="#ffc539" stroke-width="0.5"/><path d="M100.1 82.6 L102.7 83.4 M100.1 82.6 L101.4 81.2 " class="m"/><path d="M42.6 89.7 L44.7 87.4 L46.3 86.3 L44.2 89.0 Z" fill="#f4e44a" stroke="#f4e44a" stroke-width="0.5"/><path d="M44.2 89.0 L46.3 86.3 M44.7 87.4 L46.3 86.3 " class="m"/><path d="M93.8 82.4 L96.3 83.2 L97.6 81.8 L95.0 81.0 Z" fill="#ffc539" stroke="#ffc539" stroke-width="0.5"/><path d="M95.0 81.0 L97.6 81.8 M93.8 82.4 L95.0 81.0 " class="m"/><path d="M27.7 100.2 L29.8 98.6 L31.6 97.6 L29.5 99.0 Z" fill="#a4f798" stroke="#a4f798" stroke-width="0.5"/><path d="M27.7 100.2 L29.8 98.6 M27.7 100.2 L29.5 99.0 " class="m"/><path d="M87.4 82.3 L89.9 83.1 L91.2 81.6 L88.7 80.8 Z" fill="#ffc439" stroke="#ffc439" stroke-width="0.5"/><path d="M87.4 82.3 L89.9 83.1 M87.4 82.3 L88.7 80.8 " class="m"/><path d="M81.0 82.0 L83.5 82.9 L84.9 81.5 L82.4 80.6 Z" fill="#ffc138" stroke="#ffc138" stroke-width="0.5"/><path d="M82.4 80.6 L84.9 81.5 M81.0 82.0 L82.4 80.6 " class="m"/><path d="M74.7 81.6 L77.2 82.6 L78.5 81.2 L76.0 80.0 Z" fill="#f2b334" stroke="#f2b334" stroke-width="0.5"/><path d="M74.7 81.6 L77.2 82.6 M74.7 81.6 L76.0 80.0 " class="m"/><path d="M109.1 83.6 L111.8 84.4 L112.9 82.9 L110.3 82.1 Z" fill="#ffc63a" stroke="#ffc63a" stroke-width="0.5"/><path d="M110.3 82.1 L112.9 82.9 M111.8 84.4 L112.9 82.9 " class="m"/><path d="M61.9 80.4 L64.4 80.8 L65.8 79.3 L63.4 79.0 Z" fill="#ffbc38" stroke="#ffbc38" stroke-width="0.5"/><path d="M61.9 80.4 L64.4 80.8 M61.9 80.4 L63.4 79.0 " class="m"/><path d="M118.2 84.6 L120.9 85.4 L122.0 83.9 L119.3 83.1 Z" fill="#ffc73a" stroke="#ffc73a" stroke-width="0.5"/><path d="M118.2 84.6 L120.9 85.4 M118.2 84.6 L119.3 83.1 " class="m"/><path d="M58.0 82.2 L60.4 82.0 L61.9 80.4 L59.5 80.7 Z" fill="#ffd33f" stroke="#ffd33f" stroke-width="0.5"/><path d="M59.5 80.7 L61.9 80.4 M60.4 82.0 L61.9 80.4 " class="m"/><path d="M37.1 93.9 L39.2 91.4 L40.9 90.5 L38.8 93.1 Z" fill="#d7e758" stroke="#d7e758" stroke-width="0.5"/><path d="M38.8 93.1 L40.9 90.5 M37.1 93.9 L38.8 93.1 " class="m"/><path d="M68.3 80.2 L70.8 81.6 L72.2 80.1 L69.7 78.7 Z" fill="#e2992b" stroke="#e2992b" stroke-width="0.5"/><path d="M69.7 78.7 L72.2 80.1 M68.3 80.2 L69.7 78.7 " class="m"/><path d="M54.1 83.0 L56.5 83.7 L58.0 82.2 L55.6 81.6 Z" fill="#ffc63a" stroke="#ffc63a" stroke-width="0.5"/><path d="M54.1 83.0 L56.5 83.7 M54.1 83.0 L55.6 81.6 " class="m"/><path d="M102.7 83.4 L105.3 84.2 L106.5 82.8 L103.9 82.0 Z" fill="#ffc539" stroke="#ffc539" stroke-width="0.5"/><path d="M102.7 83.4 L105.3 84.2 M105.3 84.2 L106.5 82.8 " class="m"/><path d="M46.3 86.3 L48.6 85.5 L50.2 84.1 L47.9 85.4 Z" fill="#ffe545" stroke="#ffe545" stroke-width="0.5"/><path d="M46.3 86.3 L48.6 85.5 M46.3 86.3 L47.9 85.4 " class="m"/><path d="M96.3 83.2 L98.9 84.0 L100.1 82.6 L97.6 81.8 Z" fill="#ffc539" stroke="#ffc539" stroke-width="0.5"/><path d="M97.6 81.8 L100.1 82.6 M98.9 84.0 L100.1 82.6 " class="m"/><path d="M50.2 84.1 L52.6 84.5 L54.1 83.0 L51.7 82.8 Z" fill="#ffd63f" stroke="#ffd63f" stroke-width="0.5"/><path d="M51.7 82.8 L54.1 83.0 M52.6 84.5 L54.1 83.0 " class="m"/><path d="M111.8 84.4 L114.4 85.2 L115.5 83.7 L112.9 82.9 Z" fill="#ffc63a" stroke="#ffc63a" stroke-width="0.5"/><path d="M112.9 82.9 L115.5 83.7 M111.8 84.4 L112.9 82.9 " class="m"/><path d="M89.9 83.1 L92.5 83.9 L93.8 82.4 L91.2 81.6 Z" fill="#ffc439" stroke="#ffc439" stroke-width="0.5"/><path d="M89.9 83.1 L92.5 83.9 M92.5 83.9 L93.8 82.4 " class="m"/><path d="M77.2 82.6 L79.7 83.5 L81.0 82.0 L78.5 81.2 Z" fill="#ffc038" stroke="#ffc038" stroke-width="0.5"/><path d="M77.2 82.6 L79.7 83.5 M79.7 83.5 L81.0 82.0 " class="m"/><path d="M120.9 85.4 L123.6 86.2 L124.6 84.7 L122.0 83.9 Z" fill="#ffc73a" stroke="#ffc73a" stroke-width="0.5"/><path d="M120.9 85.4 L123.6 86.2 M123.6 86.2 L124.6 84.7 " class="m"/><path d="M83.5 82.9 L86.1 83.7 L87.4 82.3 L84.9 81.5 Z" fill="#ffc339" stroke="#ffc339" stroke-width="0.5"/><path d="M84.9 81.5 L87.4 82.3 M86.1 83.7 L87.4 82.3 " class="m"/><path d="M70.8 81.6 L73.3 83.1 L74.7 81.6 L72.2 80.1 Z" fill="#dd9f2d" stroke="#dd9f2d" stroke-width="0.5"/><path d="M72.2 80.1 L74.7 81.6 M73.3 83.1 L74.7 81.6 " class="m"/><path d="M31.6 97.6 L33.6 95.6 L35.4 94.7 L33.3 96.7 Z" fill="#bce96c" stroke="#bce96c" stroke-width="0.5"/><path d="M33.3 96.7 L35.4 94.7 M33.6 95.6 L35.4 94.7 " class="m"/><path d="M105.3 84.2 L108.0 85.0 L109.1 83.6 L106.5 82.8 Z" fill="#ffc539" stroke="#ffc539" stroke-width="0.5"/><path d="M105.3 84.2 L108.0 85.0 M105.3 84.2 L106.5 82.8 " class="m"/><path d="M64.4 80.8 L66.8 81.8 L68.3 80.2 L65.8 79.3 Z" fill="#fda630" stroke="#fda630" stroke-width="0.5"/><path d="M64.4 80.8 L66.8 81.8 M66.8 81.8 L68.3 80.2 " class="m"/><path d="M114.4 85.2 L117.1 86.0 L118.2 84.6 L115.5 83.7 Z" fill="#ffc63a" stroke="#ffc63a" stroke-width="0.5"/><path d="M115.5 83.7 L118.2 84.6 M117.1 86.0 L118.2 84.6 " class="m"/><path d="M98.9 84.0 L101.5 84.9 L102.7 83.4 L100.1 82.6 Z" fill="#ffc539" stroke="#ffc539" stroke-width="0.5"/><path d="M100.1 82.6 L102.7 83.4 M98.9 84.0 L100.1 82.6 " class="m"/><path d="M40.9 90.5 L43.0 88.6 L44.7 87.4 L42.6 89.7 Z" fill="#ffe548" stroke="#ffe548" stroke-width="0.5"/><path d="M40.9 90.5 L43.0 88.6 M43.0 88.6 L44.7 87.4 " class="m"/><path d="M92.5 83.9 L95.1 84.7 L96.3 83.2 L93.8 82.4 Z" fill="#ffc439" stroke="#ffc439" stroke-width="0.5"/><path d="M92.5 83.9 L95.1 84.7 M92.5 83.9 L93.8 82.4 " class="m"/><path d="M73.3 83.1 L75.8 84.1 L77.2 82.6 L74.7 81.6 Z" fill="#f5b634" stroke="#f5b634" stroke-width="0.5"/><path d="M74.7 81.6 L77.2 82.6 M73.3 83.1 L74.7 81.6 " class="m"/><path d="M79.7 83.5 L82.2 84.3 L83.5 82.9 L81.0 82.0 Z" fill="#ffc138" stroke="#ffc138" stroke-width="0.5"/><path d="M79.7 83.5 L82.2 84.3 M79.7 83.5 L81.0 82.0 " class="m"/><path d="M86.1 83.7 L88.6 84.5 L89.9 83.1 L87.4 82.3 Z" fill="#ffc339" stroke="#ffc339" stroke-width="0.5"/><path d="M87.4 82.3 L89.9 83.1 M86.1 83.7 L87.4 82.3 " class="m"/><path d="M60.4 82.0 L62.9 82.2 L64.4 80.8 L61.9 80.4 Z" fill="#ffbd38" stroke="#ffbd38" stroke-width="0.5"/><path d="M61.9 80.4 L64.4 80.8 M60.4 82.0 L61.9 80.4 " class="m"/><path d="M56.5 83.7 L58.9 83.5 L60.4 82.0 L58.0 82.2 Z" fill="#ffd33f" stroke="#ffd33f" stroke-width="0.5"/><path d="M56.5 83.7 L58.9 83.5 M58.9 83.5 L60.4 82.0 " class="m"/><path d="M108.0 85.0 L110.6 85.8 L111.8 84.4 L109.1 83.6 Z" fill="#ffc539" stroke="#ffc539" stroke-width="0.5"/><path d="M108.0 85.0 L110.6 85.8 M110.6 85.8 L111.8 84.4 " class="m"/><path d="M66.8 81.8 L69.3 83.2 L70.8 81.6 L68.3 80.2 Z" fill="#e29a2c" stroke="#e29a2c" stroke-width="0.5"/><path d="M66.8 81.8 L69.3 83.2 M66.8 81.8 L68.3 80.2 " class="m"/><path d="M52.6 84.5 L55.0 85.0 L56.5 83.7 L54.1 83.0 Z" fill="#ffc53a" stroke="#ffc53a" stroke-width="0.5"/><path d="M54.1 83.0 L56.5 83.7 M52.6 84.5 L54.1 83.0 " class="m"/><path d="M117.1 86.0 L119.8 86.8 L120.9 85.4 L118.2 84.6 Z" fill="#ffc63a" stroke="#ffc63a" stroke-width="0.5"/><path d="M118.2 84.6 L120.9 85.4 M117.1 86.0 L118.2 84.6 " class="m"/><path d="M101.5 84.9 L104.1 85.7 L105.3 84.2 L102.7 83.4 Z" fill="#ffc539" stroke="#ffc539" stroke-width="0.5"/><path d="M102.7 83.4 L105.3 84.2 M104.1 85.7 L105.3 84.2 " class="m"/><path d="M35.4 94.7 L37.4 92.4 L39.2 91.4 L37.1 93.9 Z" fill="#e4e852" stroke="#e4e852" stroke-width="0.5"/><path d="M35.4 94.7 L37.4 92.4 M35.4 94.7 L37.1 93.9 " class="m"/><path d="M44.7 87.4 L47.0 86.9 L48.6 85.5 L46.3 86.3 Z" fill="#ffe445" stroke="#ffe445" stroke-width="0.5"/><path d="M46.3 86.3 L48.6 85.5 M44.7 87.4 L46.3 86.3 " class="m"/><path d="M48.6 85.5 L51.0 85.9 L52.6 84.5 L50.2 84.1 Z" fill="#ffd23e" stroke="#ffd23e" stroke-width="0.5"/><path d="M48.6 85.5 L51.0 85.9 M51.0 85.9 L52.6 84.5 " class="m"/><path d="M95.1 84.7 L97.7 85.5 L98.9 84.0 L96.3 83.2 Z" fill="#ffc439" stroke="#ffc439" stroke-width="0.5"/><path d="M95.1 84.7 L97.7 85.5 M97.7 85.5 L98.9 84.0 " class="m"/><path d="M75.8 84.1 L78.3 85.0 L79.7 83.5 L77.2 82.6 Z" fill="#ffc038" stroke="#ffc038" stroke-width="0.5"/><path d="M77.2 82.6 L79.7 83.5 M78.3 85.0 L79.7 83.5 " class="m"/><path d="M110.6 85.8 L113.3 86.7 L114.4 85.2 L111.8 84.4 Z" fill="#ffc539" stroke="#ffc539" stroke-width="0.5"/><path d="M110.6 85.8 L113.3 86.7 M110.6 85.8 L111.8 84.4 " class="m"/><path d="M88.6 84.5 L91.2 85.3 L92.5 83.9 L89.9 83.1 Z" fill="#ffc339" stroke="#ffc339" stroke-width="0.5"/><path d="M89.9 83.1 L92.5 83.9 M91.2 85.3 L92.5 83.9 " class="m"/><path d="M82.2 84.3 L84.7 85.1 L86.1 83.7 L83.5 82.9 Z" fill="#ffc239" stroke="#ffc239" stroke-width="0.5"/><path d="M82.2 84.3 L84.7 85.1 M84.7 85.1 L86.1 83.7 " class="m"/><path d="M69.3 83.2 L71.8 84.6 L73.3 83.1 L70.8 81.6 Z" fill="#dd9f2d" stroke="#dd9f2d" stroke-width="0.5"/><path d="M69.3 83.2 L71.8 84.6 M71.8 84.6 L73.3 83.1 " class="m"/><path d="M119.8 86.8 L122.5 87.7 L123.6 86.2 L120.9 85.4 Z" fill="#ffc63a" stroke="#ffc63a" stroke-width="0.5"/><path d="M120.9 85.4 L123.6 86.2 M122.5 87.7 L123.6 86.2 " class="m"/><path d="M62.9 82.2 L65.4 83.3 L66.8 81.8 L64.4 80.8 Z" fill="#f9a42f" stroke="#f9a42f" stroke-width="0.5"/><path d="M64.4 80.8 L66.8 81.8 M65.4 83.3 L66.8 81.8 " class="m"/><path d="M29.8 98.6 L31.8 96.6 L33.6 95.6 L31.6 97.6 Z" fill="#caec66" stroke="#caec66" stroke-width="0.5"/><path d="M29.8 98.6 L31.8 96.6 M31.8 96.6 L33.6 95.6 " class="m"/><path d="M104.1 85.7 L106.8 86.5 L108.0 85.0 L105.3 84.2 Z" fill="#ffc539" stroke="#ffc539" stroke-width="0.5"/><path d="M105.3 84.2 L108.0 85.0 M104.1 85.7 L105.3 84.2 " class="m"/><path d="M113.3 86.7 L115.9 87.5 L117.1 86.0 L114.4 85.2 Z" fill="#ffc539" stroke="#ffc539" stroke-width="0.5"/><path d="M113.3 86.7 L115.9 87.5 M115.9 87.5 L117.1 86.0 " class="m"/><path d="M97.7 85.5 L100.3 86.3 L101.5 84.9 L98.9 84.0 Z" fill="#ffc439" stroke="#ffc439" stroke-width="0.5"/><path d="M97.7 85.5 L100.3 86.3 M97.7 85.5 L98.9 84.0 " class="m"/><path d="M71.8 84.6 L74.4 85.6 L75.8 84.1 L73.3 83.1 Z" fill="#f8b935" stroke="#f8b935" stroke-width="0.5"/><path d="M71.8 84.6 L74.4 85.6 M71.8 84.6 L73.3 83.1 " class="m"/><path d="M58.9 83.5 L61.4 83.7 L62.9 82.2 L60.4 82.0 Z" fill="#ffbe38" stroke="#ffbe38" stroke-width="0.5"/><path d="M58.9 83.5 L61.4 83.7 M58.9 83.5 L60.4 82.0 " class="m"/><path d="M39.2 91.4 L41.3 89.8 L43.0 88.6 L40.9 90.5 Z" fill="#ffe646" stroke="#ffe646" stroke-width="0.5"/><path d="M40.9 90.5 L43.0 88.6 M41.3 89.8 L43.0 88.6 " class="m"/><path d="M91.2 85.3 L93.8 86.1 L95.1 84.7 L92.5 83.9 Z" fill="#ffc339" stroke="#ffc339" stroke-width="0.5"/><path d="M92.5 83.9 L95.1 84.7 M91.2 85.3 L92.5 83.9 " class="m"/><path d="M78.3 85.0 L80.8 85.8 L82.2 84.3 L79.7 83.5 Z" fill="#ffc138" stroke="#ffc138" stroke-width="0.5"/><path d="M79.7 83.5 L82.2 84.3 M78.3 85.0 L79.7 83.5 " class="m"/><path d="M84.7 85.1 L87.3 86.0 L88.6 84.5 L86.1 83.7 Z" fill="#ffc339" stroke="#ffc339" stroke-width="0.5"/><path d="M84.7 85.1 L87.3 86.0 M84.7 85.1 L86.1 83.7 " class="m"/><path d="M55.0 85.0 L57.4 84.9 L58.9 83.5 L56.5 83.7 Z" fill="#ffce3d" stroke="#ffce3d" stroke-width="0.5"/><path d="M56.5 83.7 L58.9 83.5 M57.4 84.9 L58.9 83.5 " class="m"/><path d="M65.4 83.3 L67.9 84.8 L69.3 83.2 L66.8 81.8 Z" fill="#e09a2b" stroke="#e09a2b" stroke-width="0.5"/><path d="M66.8 81.8 L69.3 83.2 M65.4 83.3 L66.8 81.8 " class="m"/><path d="M106.8 86.5 L109.4 87.3 L110.6 85.8 L108.0 85.0 Z" fill="#ffc539" stroke="#ffc539" stroke-width="0.5"/><path d="M108.0 85.0 L110.6 85.8 M109.4 87.3 L110.6 85.8 " class="m"/><path d="M51.0 85.9 L53.4 86.3 L55.0 85.0 L52.6 84.5 Z" fill="#ffc93b" stroke="#ffc93b" stroke-width="0.5"/><path d="M51.0 85.9 L53.4 86.3 M51.0 85.9 L52.6 84.5 " class="m"/><path d="M115.9 87.5 L118.6 88.3 L119.8 86.8 L117.1 86.0 Z" fill="#ffc539" stroke="#ffc539" stroke-width="0.5"/><path d="M115.9 87.5 L118.6 88.3 M115.9 87.5 L117.1 86.0 " class="m"/><path d="M47.0 86.9 L49.4 87.5 L51.0 85.9 L48.6 85.5 Z" fill="#ffce3d" stroke="#ffce3d" stroke-width="0.5"/><path d="M48.6 85.5 L51.0 85.9 M49.4 87.5 L51.0 85.9 " class="m"/><path d="M43.0 88.6 L45.4 88.4 L47.0 86.9 L44.7 87.4 Z" fill="#ffe244" stroke="#ffe244" stroke-width="0.5"/><path d="M43.0 88.6 L45.4 88.4 M43.0 88.6 L44.7 87.4 " class="m"/><path d="M100.3 86.3 L102.9 87.2 L104.1 85.7 L101.5 84.9 Z" fill="#ffc439" stroke="#ffc439" stroke-width="0.5"/><path d="M100.3 86.3 L102.9 87.2 M102.9 87.2 L104.1 85.7 " class="m"/><path d="M33.6 95.6 L35.7 93.5 L37.4 92.4 L35.4 94.7 Z" fill="#efe94f" stroke="#efe94f" stroke-width="0.5"/><path d="M35.4 94.7 L37.4 92.4 M33.6 95.6 L35.4 94.7 " class="m"/><path d="M74.4 85.6 L76.9 86.5 L78.3 85.0 L75.8 84.1 Z" fill="#ffc138" stroke="#ffc138" stroke-width="0.5"/><path d="M74.4 85.6 L76.9 86.5 M76.9 86.5 L78.3 85.0 " class="m"/><path d="M67.9 84.8 L70.4 86.3 L71.8 84.6 L69.3 83.2 Z" fill="#dea12d" stroke="#dea12d" stroke-width="0.5"/><path d="M69.3 83.2 L71.8 84.6 M70.4 86.3 L71.8 84.6 " class="m"/><path d="M93.8 86.1 L96.4 87.0 L97.7 85.5 L95.1 84.7 Z" fill="#ffc339" stroke="#ffc339" stroke-width="0.5"/><path d="M95.1 84.7 L97.7 85.5 M96.4 87.0 L97.7 85.5 " class="m"/><path d="M80.8 85.8 L83.4 86.6 L84.7 85.1 L82.2 84.3 Z" fill="#ffc238" stroke="#ffc238" stroke-width="0.5"/><path d="M82.2 84.3 L84.7 85.1 M83.4 86.6 L84.7 85.1 " class="m"/><path d="M87.3 86.0 L89.9 86.8 L91.2 85.3 L88.6 84.5 Z" fill="#ffc339" stroke="#ffc339" stroke-width="0.5"/><path d="M87.3 86.0 L89.9 86.8 M89.9 86.8 L91.2 85.3 " class="m"/><path d="M109.4 87.3 L112.1 88.2 L113.3 86.7 L110.6 85.8 Z" fill="#ffc539" stroke="#ffc539" stroke-width="0.5"/><path d="M110.6 85.8 L113.3 86.7 M109.4 87.3 L110.6 85.8 " class="m"/><path d="M61.4 83.7 L63.9 84.9 L65.4 83.3 L62.9 82.2 Z" fill="#f4a12e" stroke="#f4a12e" stroke-width="0.5"/><path d="M61.4 83.7 L63.9 84.9 M63.9 84.9 L65.4 83.3 " class="m"/><path d="M118.6 88.3 L121.4 89.2 L122.5 87.7 L119.8 86.8 Z" fill="#ffc539" stroke="#ffc539" stroke-width="0.5"/><path d="M118.6 88.3 L121.4 89.2 M121.4 89.2 L122.5 87.7 " class="m"/><path d="M102.9 87.2 L105.6 88.0 L106.8 86.5 L104.1 85.7 Z" fill="#ffc439" stroke="#ffc439" stroke-width="0.5"/><path d="M102.9 87.2 L105.6 88.0 M102.9 87.2 L104.1 85.7 " class="m"/><path d="M70.4 86.3 L72.9 87.1 L74.4 85.6 L71.8 84.6 Z" fill="#febe37" stroke="#febe37" stroke-width="0.5"/><path d="M71.8 84.6 L74.4 85.6 M70.4 86.3 L71.8 84.6 " class="m"/><path d="M57.4 84.9 L59.9 85.3 L61.4 83.7 L58.9 83.5 Z" fill="#ffbd38" stroke="#ffbd38" stroke-width="0.5"/><path d="M58.9 83.5 L61.4 83.7 M57.4 84.9 L58.9 83.5 " class="m"/><path d="M96.4 87.0 L99.0 87.8 L100.3 86.3 L97.7 85.5 Z" fill="#ffc339" stroke="#ffc339" stroke-width="0.5"/><path d="M97.7 85.5 L100.3 86.3 M96.4 87.0 L97.7 85.5 " class="m"/><path d="M112.1 88.2 L114.8 89.0 L115.9 87.5 L113.3 86.7 Z" fill="#ffc539" stroke="#ffc539" stroke-width="0.5"/><path d="M113.3 86.7 L115.9 87.5 M114.8 89.0 L115.9 87.5 " class="m"/><path d="M76.9 86.5 L79.4 87.3 L80.8 85.8 L78.3 85.0 Z" fill="#ffc138" stroke="#ffc138" stroke-width="0.5"/><path d="M76.9 86.5 L79.4 87.3 M76.9 86.5 L78.3 85.0 " class="m"/><path d="M37.4 92.4 L39.7 91.2 L41.3 89.8 L39.2 91.4 Z" fill="#ffe646" stroke="#ffe646" stroke-width="0.5"/><path d="M37.4 92.4 L39.7 91.2 M39.7 91.2 L41.3 89.8 " class="m"/><path d="M89.9 86.8 L92.5 87.6 L93.8 86.1 L91.2 85.3 Z" fill="#ffc339" stroke="#ffc339" stroke-width="0.5"/><path d="M89.9 86.8 L92.5 87.6 M89.9 86.8 L91.2 85.3 " class="m"/><path d="M53.4 86.3 L55.8 86.3 L57.4 84.9 L55.0 85.0 Z" fill="#ffc83b" stroke="#ffc83b" stroke-width="0.5"/><path d="M53.4 86.3 L55.8 86.3 M55.8 86.3 L57.4 84.9 " class="m"/><path d="M83.4 86.6 L86.0 87.5 L87.3 86.0 L84.7 85.1 Z" fill="#ffc238" stroke="#ffc238" stroke-width="0.5"/><path d="M84.7 85.1 L87.3 86.0 M83.4 86.6 L84.7 85.1 " class="m"/><path d="M63.9 84.9 L66.4 86.4 L67.9 84.8 L65.4 83.3 Z" fill="#de9a2b" stroke="#de9a2b" stroke-width="0.5"/><path d="M63.9 84.9 L66.4 86.4 M63.9 84.9 L65.4 83.3 " class="m"/><path d="M49.4 87.5 L51.8 87.6 L53.4 86.3 L51.0 85.9 Z" fill="#ffce3d" stroke="#ffce3d" stroke-width="0.5"/><path d="M51.0 85.9 L53.4 86.3 M49.4 87.5 L51.0 85.9 " class="m"/><path d="M105.6 88.0 L108.2 88.8 L109.4 87.3 L106.8 86.5 Z" fill="#ffc439" stroke="#ffc439" stroke-width="0.5"/><path d="M105.6 88.0 L108.2 88.8 M108.2 88.8 L109.4 87.3 " class="m"/><path d="M45.4 88.4 L47.8 89.0 L49.4 87.5 L47.0 86.9 Z" fill="#ffcb3c" stroke="#ffcb3c" stroke-width="0.5"/><path d="M45.4 88.4 L47.8 89.0 M47.8 89.0 L49.4 87.5 " class="m"/><path d="M41.3 89.8 L43.7 89.9 L45.4 88.4 L43.0 88.6 Z" fill="#ffdf42" stroke="#ffdf42" stroke-width="0.5"/><path d="M43.0 88.6 L45.4 88.4 M41.3 89.8 L43.0 88.6 " class="m"/><path d="M114.8 89.0 L117.5 89.9 L118.6 88.3 L115.9 87.5 Z" fill="#ffc539" stroke="#ffc539" stroke-width="0.5"/><path d="M115.9 87.5 L118.6 88.3 M114.8 89.0 L115.9 87.5 " class="m"/><path d="M99.0 87.8 L101.7 88.7 L102.9 87.2 L100.3 86.3 Z" fill="#ffc339" stroke="#ffc339" stroke-width="0.5"/><path d="M100.3 86.3 L102.9 87.2 M101.7 88.7 L102.9 87.2 " class="m"/><path d="M66.4 86.4 L69.0 87.8 L70.4 86.3 L67.9 84.8 Z" fill="#dfa32e" stroke="#dfa32e" stroke-width="0.5"/><path d="M66.4 86.4 L69.0 87.8 M69.0 87.8 L70.4 86.3 " class="m"/><path d="M72.9 87.1 L75.5 88.0 L76.9 86.5 L74.4 85.6 Z" fill="#ffc138" stroke="#ffc138" stroke-width="0.5"/><path d="M74.4 85.6 L76.9 86.5 M75.5 88.0 L76.9 86.5 " class="m"/><path d="M31.8 96.6 L33.9 94.8 L35.7 93.5 L33.6 95.6 Z" fill="#fbeb4d" stroke="#fbeb4d" stroke-width="0.5"/><path d="M31.8 96.6 L33.9 94.8 M31.8 96.6 L33.6 95.6 " class="m"/><path d="M92.5 87.6 L95.1 88.5 L96.4 87.0 L93.8 86.1 Z" fill="#ffc339" stroke="#ffc339" stroke-width="0.5"/><path d="M92.5 87.6 L95.1 88.5 M95.1 88.5 L96.4 87.0 " class="m"/><path d="M79.4 87.3 L82.0 88.1 L83.4 86.6 L80.8 85.8 Z" fill="#ffc238" stroke="#ffc238" stroke-width="0.5"/><path d="M79.4 87.3 L82.0 88.1 M82.0 88.1 L83.4 86.6 " class="m"/><path d="M86.0 87.5 L88.6 88.3 L89.9 86.8 L87.3 86.0 Z" fill="#ffc238" stroke="#ffc238" stroke-width="0.5"/><path d="M87.3 86.0 L89.9 86.8 M88.6 88.3 L89.9 86.8 " class="m"/><path d="M59.9 85.3 L62.4 86.5 L63.9 84.9 L61.4 83.7 Z" fill="#f3a12e" stroke="#f3a12e" stroke-width="0.5"/><path d="M61.4 83.7 L63.9 84.9 M62.4 86.5 L63.9 84.9 " class="m"/><path d="M108.2 88.8 L110.9 89.7 L112.1 88.2 L109.4 87.3 Z" fill="#ffc439" stroke="#ffc439" stroke-width="0.5"/><path d="M108.2 88.8 L110.9 89.7 M108.2 88.8 L109.4 87.3 " class="m"/><path d="M117.5 89.9 L120.2 90.7 L121.4 89.2 L118.6 88.3 Z" fill="#ffc539" stroke="#ffc539" stroke-width="0.5"/><path d="M118.6 88.3 L121.4 89.2 M120.2 90.7 L121.4 89.2 " class="m"/><path d="M101.7 88.7 L104.3 89.5 L105.6 88.0 L102.9 87.2 Z" fill="#ffc339" stroke="#ffc339" stroke-width="0.5"/><path d="M102.9 87.2 L105.6 88.0 M101.7 88.7 L102.9 87.2 " class="m"/><path d="M69.0 87.8 L71.5 88.7 L72.9 87.1 L70.4 86.3 Z" fill="#ffc038" stroke="#ffc038" stroke-width="0.5"/><path d="M69.0 87.8 L71.5 88.7 M69.0 87.8 L70.4 86.3 " class="m"/><path d="M55.8 86.3 L58.3 86.9 L59.9 85.3 L57.4 84.9 Z" fill="#ffb736" stroke="#ffb736" stroke-width="0.5"/><path d="M55.8 86.3 L58.3 86.9 M55.8 86.3 L57.4 84.9 " class="m"/><path d="M62.4 86.5 L64.9 88.0 L66.4 86.4 L63.9 84.9 Z" fill="#de9b2c" stroke="#de9b2c" stroke-width="0.5"/><path d="M63.9 84.9 L66.4 86.4 M62.4 86.5 L63.9 84.9 " class="m"/><path d="M95.1 88.5 L97.8 89.3 L99.0 87.8 L96.4 87.0 Z" fill="#ffc339" stroke="#ffc339" stroke-width="0.5"/><path d="M95.1 88.5 L97.8 89.3 M95.1 88.5 L96.4 87.0 " class="m"/><path d="M75.5 88.0 L78.0 88.8 L79.4 87.3 L76.9 86.5 Z" fill="#ffc238" stroke="#ffc238" stroke-width="0.5"/><path d="M76.9 86.5 L79.4 87.3 M75.5 88.0 L76.9 86.5 " class="m"/><path d="M35.7 93.5 L37.9 92.6 L39.7 91.2 L37.4 92.4 Z" fill="#ffe746" stroke="#ffe746" stroke-width="0.5"/><path d="M37.4 92.4 L39.7 91.2 M37.9 92.6 L39.7 91.2 " class="m"/><path d="M110.9 89.7 L113.6 90.5 L114.8 89.0 L112.1 88.2 Z" fill="#ffc439" stroke="#ffc439" stroke-width="0.5"/><path d="M110.9 89.7 L113.6 90.5 M113.6 90.5 L114.8 89.0 " class="m"/><path d="M51.8 87.6 L54.3 87.6 L55.8 86.3 L53.4 86.3 Z" fill="#ffc43a" stroke="#ffc43a" stroke-width="0.5"/><path d="M53.4 86.3 L55.8 86.3 M54.3 87.6 L55.8 86.3 " class="m"/><path d="M88.6 88.3 L91.2 89.1 L92.5 87.6 L89.9 86.8 Z" fill="#ffc238" stroke="#ffc238" stroke-width="0.5"/><path d="M89.9 86.8 L92.5 87.6 M88.6 88.3 L89.9 86.8 " class="m"/><path d="M82.0 88.1 L84.6 89.0 L86.0 87.5 L83.4 86.6 Z" fill="#ffc238" stroke="#ffc238" stroke-width="0.5"/><path d="M82.0 88.1 L84.6 89.0 M82.0 88.1 L83.4 86.6 " class="m"/><path d="M47.8 89.0 L50.2 89.0 L51.8 87.6 L49.4 87.5 Z" fill="#ffd03e" stroke="#ffd03e" stroke-width="0.5"/><path d="M47.8 89.0 L50.2 89.0 M47.8 89.0 L49.4 87.5 " class="m"/><path d="M43.7 89.9 L46.2 90.6 L47.8 89.0 L45.4 88.4 Z" fill="#ffc83b" stroke="#ffc83b" stroke-width="0.5"/><path d="M45.4 88.4 L47.8 89.0 M46.2 90.6 L47.8 89.0 " class="m"/><path d="M39.7 91.2 L42.0 91.4 L43.7 89.9 L41.3 89.8 Z" fill="#ffdb41" stroke="#ffdb41" stroke-width="0.5"/><path d="M39.7 91.2 L42.0 91.4 M39.7 91.2 L41.3 89.8 " class="m"/><path d="M104.3 89.5 L107.0 90.4 L108.2 88.8 L105.6 88.0 Z" fill="#ffc339" stroke="#ffc339" stroke-width="0.5"/><path d="M105.6 88.0 L108.2 88.8 M107.0 90.4 L108.2 88.8 " class="m"/><path d="M64.9 88.0 L67.5 89.4 L69.0 87.8 L66.4 86.4 Z" fill="#e3a62f" stroke="#e3a62f" stroke-width="0.5"/><path d="M66.4 86.4 L69.0 87.8 M67.5 89.4 L69.0 87.8 " class="m"/><path d="M71.5 88.7 L74.0 89.6 L75.5 88.0 L72.9 87.1 Z" fill="#ffc138" stroke="#ffc138" stroke-width="0.5"/><path d="M71.5 88.7 L74.0 89.6 M74.0 89.6 L75.5 88.0 " class="m"/><path d="M113.6 90.5 L116.4 91.4 L117.5 89.9 L114.8 89.0 Z" fill="#ffc439" stroke="#ffc439" stroke-width="0.5"/><path d="M113.6 90.5 L116.4 91.4 M113.6 90.5 L114.8 89.0 " class="m"/><path d="M97.8 89.3 L100.4 90.2 L101.7 88.7 L99.0 87.8 Z" fill="#ffc339" stroke="#ffc339" stroke-width="0.5"/><path d="M97.8 89.3 L100.4 90.2 M100.4 90.2 L101.7 88.7 " class="m"/><path d="M58.3 86.9 L60.9 88.2 L62.4 86.5 L59.9 85.3 Z" fill="#f1a12e" stroke="#f1a12e" stroke-width="0.5"/><path d="M58.3 86.9 L60.9 88.2 M60.9 88.2 L62.4 86.5 " class="m"/><path d="M78.0 88.8 L80.6 89.7 L82.0 88.1 L79.4 87.3 Z" fill="#ffc238" stroke="#ffc238" stroke-width="0.5"/><path d="M79.4 87.3 L82.0 88.1 M80.6 89.7 L82.0 88.1 " class="m"/><path d="M91.2 89.1 L93.8 90.0 L95.1 88.5 L92.5 87.6 Z" fill="#ffc238" stroke="#ffc238" stroke-width="0.5"/><path d="M92.5 87.6 L95.1 88.5 M93.8 90.0 L95.1 88.5 " class="m"/><path d="M84.6 89.0 L87.2 89.8 L88.6 88.3 L86.0 87.5 Z" fill="#ffc238" stroke="#ffc238" stroke-width="0.5"/><path d="M84.6 89.0 L87.2 89.8 M87.2 89.8 L88.6 88.3 " class="m"/><path d="M107.0 90.4 L109.7 91.2 L110.9 89.7 L108.2 88.8 Z" fill="#ffc339" stroke="#ffc339" stroke-width="0.5"/><path d="M108.2 88.8 L110.9 89.7 M107.0 90.4 L108.2 88.8 " class="m"/><path d="M116.4 91.4 L119.1 92.3 L120.2 90.7 L117.5 89.9 Z" fill="#ffc439" stroke="#ffc439" stroke-width="0.5"/><path d="M116.4 91.4 L119.1 92.3 M119.1 92.3 L120.2 90.7 " class="m"/><path d="M67.5 89.4 L70.0 90.3 L71.5 88.7 L69.0 87.8 Z" fill="#ffc138" stroke="#ffc138" stroke-width="0.5"/><path d="M69.0 87.8 L71.5 88.7 M67.5 89.4 L69.0 87.8 " class="m"/><path d="M54.3 87.6 L56.8 88.5 L58.3 86.9 L55.8 86.3 Z" fill="#ffaf33" stroke="#ffaf33" stroke-width="0.5"/><path d="M55.8 86.3 L58.3 86.9 M54.3 87.6 L55.8 86.3 " class="m"/><path d="M100.4 90.2 L103.1 91.0 L104.3 89.5 L101.7 88.7 Z" fill="#ffc339" stroke="#ffc339" stroke-width="0.5"/><path d="M100.4 90.2 L103.1 91.0 M100.4 90.2 L101.7 88.7 " class="m"/><path d="M60.9 88.2 L63.4 89.7 L64.9 88.0 L62.4 86.5 Z" fill="#de9c2c" stroke="#de9c2c" stroke-width="0.5"/><path d="M60.9 88.2 L63.4 89.7 M60.9 88.2 L62.4 86.5 " class="m"/><path d="M74.0 89.6 L76.6 90.4 L78.0 88.8 L75.5 88.0 Z" fill="#ffc238" stroke="#ffc238" stroke-width="0.5"/><path d="M74.0 89.6 L76.6 90.4 M74.0 89.6 L75.5 88.0 " class="m"/><path d="M33.9 94.8 L36.2 94.2 L37.9 92.6 L35.7 93.5 Z" fill="#ffe846" stroke="#ffe846" stroke-width="0.5"/><path d="M33.9 94.8 L36.2 94.2 M36.2 94.2 L37.9 92.6 " class="m"/><path d="M93.8 90.0 L96.5 90.9 L97.8 89.3 L95.1 88.5 Z" fill="#ffc238" stroke="#ffc238" stroke-width="0.5"/><path d="M95.1 88.5 L97.8 89.3 M93.8 90.0 L95.1 88.5 " class="m"/><path d="M50.2 89.0 L52.7 89.0 L54.3 87.6 L51.8 87.6 Z" fill="#ffc239" stroke="#ffc239" stroke-width="0.5"/><path d="M50.2 89.0 L52.7 89.0 M52.7 89.0 L54.3 87.6 " class="m"/><path d="M46.2 90.6 L48.6 90.3 L50.2 89.0 L47.8 89.0 Z" fill="#ffd03e" stroke="#ffd03e" stroke-width="0.5"/><path d="M47.8 89.0 L50.2 89.0 M46.2 90.6 L47.8 89.0 " class="m"/><path d="M80.6 89.7 L83.2 90.6 L84.6 89.0 L82.0 88.1 Z" fill="#ffc238" stroke="#ffc238" stroke-width="0.5"/><path d="M82.0 88.1 L84.6 89.0 M80.6 89.7 L82.0 88.1 " class="m"/><path d="M87.2 89.8 L89.8 90.7 L91.2 89.1 L88.6 88.3 Z" fill="#ffc238" stroke="#ffc238" stroke-width="0.5"/><path d="M87.2 89.8 L89.8 90.7 M87.2 89.8 L88.6 88.3 " class="m"/><path d="M109.7 91.2 L112.4 92.1 L113.6 90.5 L110.9 89.7 Z" fill="#ffc339" stroke="#ffc339" stroke-width="0.5"/><path d="M110.9 89.7 L113.6 90.5 M112.4 92.1 L113.6 90.5 " class="m"/><path d="M42.0 91.4 L44.5 91.8 L46.2 90.6 L43.7 89.9 Z" fill="#ffc73a" stroke="#ffc73a" stroke-width="0.5"/><path d="M42.0 91.4 L44.5 91.8 M44.5 91.8 L46.2 90.6 " class="m"/><path d="M37.9 92.6 L40.4 93.0 L42.0 91.4 L39.7 91.2 Z" fill="#ffd840" stroke="#ffd840" stroke-width="0.5"/><path d="M39.7 91.2 L42.0 91.4 M37.9 92.6 L39.7 91.2 " class="m"/><path d="M63.4 89.7 L66.0 91.0 L67.5 89.4 L64.9 88.0 Z" fill="#e8ab31" stroke="#e8ab31" stroke-width="0.5"/><path d="M63.4 89.7 L66.0 91.0 M66.0 91.0 L67.5 89.4 " class="m"/><path d="M103.1 91.0 L105.8 91.9 L107.0 90.4 L104.3 89.5 Z" fill="#ffc339" stroke="#ffc339" stroke-width="0.5"/><path d="M103.1 91.0 L105.8 91.9 M105.8 91.9 L107.0 90.4 " class="m"/><path d="M70.0 90.3 L72.6 91.2 L74.0 89.6 L71.5 88.7 Z" fill="#ffc138" stroke="#ffc138" stroke-width="0.5"/><path d="M71.5 88.7 L74.0 89.6 M72.6 91.2 L74.0 89.6 " class="m"/><path d="M56.8 88.5 L59.3 89.8 L60.9 88.2 L58.3 86.9 Z" fill="#eb9e2d" stroke="#eb9e2d" stroke-width="0.5"/><path d="M58.3 86.9 L60.9 88.2 M59.3 89.8 L60.9 88.2 " class="m"/><path d="M96.5 90.9 L99.1 91.7 L100.4 90.2 L97.8 89.3 Z" fill="#ffc238" stroke="#ffc238" stroke-width="0.5"/><path d="M97.8 89.3 L100.4 90.2 M99.1 91.7 L100.4 90.2 " class="m"/><path d="M112.4 92.1 L115.2 93.0 L116.4 91.4 L113.6 90.5 Z" fill="#ffc339" stroke="#ffc339" stroke-width="0.5"/><path d="M113.6 90.5 L116.4 91.4 M112.4 92.1 L113.6 90.5 " class="m"/><path d="M76.6 90.4 L79.2 91.3 L80.6 89.7 L78.0 88.8 Z" fill="#ffc238" stroke="#ffc238" stroke-width="0.5"/><path d="M76.6 90.4 L79.2 91.3 M79.2 91.3 L80.6 89.7 " class="m"/><path d="M89.8 90.7 L92.5 91.6 L93.8 90.0 L91.2 89.1 Z" fill="#ffc238" stroke="#ffc238" stroke-width="0.5"/><path d="M89.8 90.7 L92.5 91.6 M92.5 91.6 L93.8 90.0 " class="m"/><path d="M83.2 90.6 L85.9 91.4 L87.2 89.8 L84.6 89.0 Z" fill="#ffc238" stroke="#ffc238" stroke-width="0.5"/><path d="M84.6 89.0 L87.2 89.8 M85.9 91.4 L87.2 89.8 " class="m"/><path d="M105.8 91.9 L108.5 92.8 L109.7 91.2 L107.0 90.4 Z" fill="#ffc339" stroke="#ffc339" stroke-width="0.5"/><path d="M105.8 91.9 L108.5 92.8 M105.8 91.9 L107.0 90.4 " class="m"/><path d="M66.0 91.0 L68.5 91.9 L70.0 90.3 L67.5 89.4 Z" fill="#ffc138" stroke="#ffc138" stroke-width="0.5"/><path d="M66.0 91.0 L68.5 91.9 M66.0 91.0 L67.5 89.4 " class="m"/><path d="M59.3 89.8 L61.9 91.4 L63.4 89.7 L60.9 88.2 Z" fill="#de9d2c" stroke="#de9d2c" stroke-width="0.5"/><path d="M60.9 88.2 L63.4 89.7 M59.3 89.8 L60.9 88.2 " class="m"/><path d="M52.7 89.0 L55.2 90.0 L56.8 88.5 L54.3 87.6 Z" fill="#ffa831" stroke="#ffa831" stroke-width="0.5"/><path d="M52.7 89.0 L55.2 90.0 M52.7 89.0 L54.3 87.6 " class="m"/><path d="M115.2 93.0 L118.0 93.8 L119.1 92.3 L116.4 91.4 Z" fill="#ffc339" stroke="#ffc339" stroke-width="0.5"/><path d="M116.4 91.4 L119.1 92.3 M118.0 93.8 L119.1 92.3 " class="m"/><path d="M99.1 91.7 L101.8 92.6 L103.1 91.0 L100.4 90.2 Z" fill="#ffc238" stroke="#ffc238" stroke-width="0.5"/><path d="M100.4 90.2 L103.1 91.0 M99.1 91.7 L100.4 90.2 " class="m"/><path d="M72.6 91.2 L75.2 92.0 L76.6 90.4 L74.0 89.6 Z" fill="#ffc238" stroke="#ffc238" stroke-width="0.5"/><path d="M74.0 89.6 L76.6 90.4 M72.6 91.2 L74.0 89.6 " class="m"/><path d="M48.6 90.3 L51.0 90.6 L52.7 89.0 L50.2 89.0 Z" fill="#ffbf39" stroke="#ffbf39" stroke-width="0.5"/><path d="M50.2 89.0 L52.7 89.0 M51.0 90.6 L52.7 89.0 " class="m"/><path d="M44.5 91.8 L46.9 91.7 L48.6 90.3 L46.2 90.6 Z" fill="#ffc93c" stroke="#ffc93c" stroke-width="0.5"/><path d="M44.5 91.8 L46.9 91.7 M44.5 91.8 L46.2 90.6 " class="m"/><path d="M92.5 91.6 L95.2 92.4 L96.5 90.9 L93.8 90.0 Z" fill="#ffc238" stroke="#ffc238" stroke-width="0.5"/><path d="M92.5 91.6 L95.2 92.4 M92.5 91.6 L93.8 90.0 " class="m"/><path d="M79.2 91.3 L81.8 92.2 L83.2 90.6 L80.6 89.7 Z" fill="#ffc238" stroke="#ffc238" stroke-width="0.5"/><path d="M79.2 91.3 L81.8 92.2 M79.2 91.3 L80.6 89.7 " class="m"/><path d="M40.4 93.0 L42.8 93.2 L44.5 91.8 L42.0 91.4 Z" fill="#ffcd3d" stroke="#ffcd3d" stroke-width="0.5"/><path d="M42.0 91.4 L44.5 91.8 M42.8 93.2 L44.5 91.8 " class="m"/><path d="M85.9 91.4 L88.5 92.3 L89.8 90.7 L87.2 89.8 Z" fill="#ffc238" stroke="#ffc238" stroke-width="0.5"/><path d="M87.2 89.8 L89.8 90.7 M85.9 91.4 L87.2 89.8 " class="m"/><path d="M36.2 94.2 L38.7 94.6 L40.4 93.0 L37.9 92.6 Z" fill="#ffd53f" stroke="#ffd53f" stroke-width="0.5"/><path d="M36.2 94.2 L38.7 94.6 M36.2 94.2 L37.9 92.6 " class="m"/><path d="M108.5 92.8 L111.2 93.6 L112.4 92.1 L109.7 91.2 Z" fill="#ffc339" stroke="#ffc339" stroke-width="0.5"/><path d="M108.5 92.8 L111.2 93.6 M111.2 93.6 L112.4 92.1 " class="m"/><path d="M61.9 91.4 L64.5 92.6 L66.0 91.0 L63.4 89.7 Z" fill="#efb033" stroke="#efb033" stroke-width="0.5"/><path d="M63.4 89.7 L66.0 91.0 M64.5 92.6 L66.0 91.0 " class="m"/><path d="M55.2 90.0 L57.8 91.5 L59.3 89.8 L56.8 88.5 Z" fill="#e3992b" stroke="#e3992b" stroke-width="0.5"/><path d="M55.2 90.0 L57.8 91.5 M57.8 91.5 L59.3 89.8 " class="m"/><path d="M68.5 91.9 L71.1 92.8 L72.6 91.2 L70.0 90.3 Z" fill="#ffc138" stroke="#ffc138" stroke-width="0.5"/><path d="M68.5 91.9 L71.1 92.8 M71.1 92.8 L72.6 91.2 " class="m"/><path d="M101.8 92.6 L104.5 93.5 L105.8 91.9 L103.1 91.0 Z" fill="#ffc238" stroke="#ffc238" stroke-width="0.5"/><path d="M103.1 91.0 L105.8 91.9 M104.5 93.5 L105.8 91.9 " class="m"/><path d="M75.2 92.0 L77.8 92.9 L79.2 91.3 L76.6 90.4 Z" fill="#ffc238" stroke="#ffc238" stroke-width="0.5"/><path d="M76.6 90.4 L79.2 91.3 M77.8 92.9 L79.2 91.3 " class="m"/><path d="M95.2 92.4 L97.8 93.3 L99.1 91.7 L96.5 90.9 Z" fill="#ffc238" stroke="#ffc238" stroke-width="0.5"/><path d="M95.2 92.4 L97.8 93.3 M97.8 93.3 L99.1 91.7 " class="m"/><path d="M111.2 93.6 L114.0 94.5 L115.2 93.0 L112.4 92.1 Z" fill="#ffc339" stroke="#ffc339" stroke-width="0.5"/><path d="M111.2 93.6 L114.0 94.5 M111.2 93.6 L112.4 92.1 " class="m"/><path d="M81.8 92.2 L84.5 93.0 L85.9 91.4 L83.2 90.6 Z" fill="#ffc238" stroke="#ffc238" stroke-width="0.5"/><path d="M81.8 92.2 L84.5 93.0 M84.5 93.0 L85.9 91.4 " class="m"/><path d="M88.5 92.3 L91.2 93.2 L92.5 91.6 L89.8 90.7 Z" fill="#ffc238" stroke="#ffc238" stroke-width="0.5"/><path d="M89.8 90.7 L92.5 91.6 M91.2 93.2 L92.5 91.6 " class="m"/><path d="M57.8 91.5 L60.3 93.1 L61.9 91.4 L59.3 89.8 Z" fill="#de9e2d" stroke="#de9e2d" stroke-width="0.5"/><path d="M57.8 91.5 L60.3 93.1 M57.8 91.5 L59.3 89.8 " class="m"/><path d="M64.5 92.6 L67.0 93.5 L68.5 91.9 L66.0 91.0 Z" fill="#ffc138" stroke="#ffc138" stroke-width="0.5"/><path d="M66.0 91.0 L68.5 91.9 M64.5 92.6 L66.0 91.0 " class="m"/><path d="M51.0 90.6 L53.6 91.6 L55.2 90.0 L52.7 89.0 Z" fill="#fea430" stroke="#fea430" stroke-width="0.5"/><path d="M52.7 89.0 L55.2 90.0 M51.0 90.6 L52.7 89.0 " class="m"/><path d="M104.5 93.5 L107.3 94.3 L108.5 92.8 L105.8 91.9 Z" fill="#ffc238" stroke="#ffc238" stroke-width="0.5"/><path d="M105.8 91.9 L108.5 92.8 M104.5 93.5 L105.8 91.9 " class="m"/><path d="M71.1 92.8 L73.7 93.6 L75.2 92.0 L72.6 91.2 Z" fill="#ffc238" stroke="#ffc238" stroke-width="0.5"/><path d="M71.1 92.8 L73.7 93.6 M71.1 92.8 L72.6 91.2 " class="m"/><path d="M114.0 94.5 L116.8 95.4 L118.0 93.8 L115.2 93.0 Z" fill="#ffc339" stroke="#ffc339" stroke-width="0.5"/><path d="M114.0 94.5 L116.8 95.4 M116.8 95.4 L118.0 93.8 " class="m"/><path d="M97.8 93.3 L100.6 94.2 L101.8 92.6 L99.1 91.7 Z" fill="#ffc238" stroke="#ffc238" stroke-width="0.5"/><path d="M97.8 93.3 L100.6 94.2 M97.8 93.3 L99.1 91.7 " class="m"/><path d="M46.9 91.7 L49.4 92.1 L51.0 90.6 L48.6 90.3 Z" fill="#ffb836" stroke="#ffb836" stroke-width="0.5"/><path d="M46.9 91.7 L49.4 92.1 M49.4 92.1 L51.0 90.6 " class="m"/><path d="M38.7 94.6 L41.1 94.8 L42.8 93.2 L40.4 93.0 Z" fill="#ffd03e" stroke="#ffd03e" stroke-width="0.5"/><path d="M38.7 94.6 L41.1 94.8 M41.1 94.8 L42.8 93.2 " class="m"/><path d="M77.8 92.9 L80.4 93.8 L81.8 92.2 L79.2 91.3 Z" fill="#ffc238" stroke="#ffc238" stroke-width="0.5"/><path d="M79.2 91.3 L81.8 92.2 M77.8 92.9 L79.2 91.3 " class="m"/><path d="M42.8 93.2 L45.2 93.1 L46.9 91.7 L44.5 91.8 Z" fill="#ffc73b" stroke="#ffc73b" stroke-width="0.5"/><path d="M44.5 91.8 L46.9 91.7 M42.8 93.2 L44.5 91.8 " class="m"/><path d="M91.2 93.2 L93.8 94.0 L95.2 92.4 L92.5 91.6 Z" fill="#ffc238" stroke="#ffc238" stroke-width="0.5"/><path d="M92.5 91.6 L95.2 92.4 M91.2 93.2 L92.5 91.6 " class="m"/><path d="M84.5 93.0 L87.1 93.9 L88.5 92.3 L85.9 91.4 Z" fill="#ffc238" stroke="#ffc238" stroke-width="0.5"/><path d="M84.5 93.0 L87.1 93.9 M84.5 93.0 L85.9 91.4 " class="m"/><path d="M60.3 93.1 L62.9 94.2 L64.5 92.6 L61.9 91.4 Z" fill="#f6b635" stroke="#f6b635" stroke-width="0.5"/><path d="M60.3 93.1 L62.9 94.2 M62.9 94.2 L64.5 92.6 " class="m"/><path d="M107.3 94.3 L110.0 95.2 L111.2 93.6 L108.5 92.8 Z" fill="#ffc238" stroke="#ffc238" stroke-width="0.5"/><path d="M108.5 92.8 L111.2 93.6 M110.0 95.2 L111.2 93.6 " class="m"/><path d="M53.6 91.6 L56.2 93.2 L57.8 91.5 L55.2 90.0 Z" fill="#df972a" stroke="#df972a" stroke-width="0.5"/><path d="M55.2 90.0 L57.8 91.5 M56.2 93.2 L57.8 91.5 " class="m"/><path d="M67.0 93.5 L69.6 94.4 L71.1 92.8 L68.5 91.9 Z" fill="#ffc138" stroke="#ffc138" stroke-width="0.5"/><path d="M68.5 91.9 L71.1 92.8 M69.6 94.4 L71.1 92.8 " class="m"/><path d="M100.6 94.2 L103.3 95.1 L104.5 93.5 L101.8 92.6 Z" fill="#ffc238" stroke="#ffc238" stroke-width="0.5"/><path d="M100.6 94.2 L103.3 95.1 M103.3 95.1 L104.5 93.5 " class="m"/><path d="M73.7 93.6 L76.3 94.5 L77.8 92.9 L75.2 92.0 Z" fill="#ffc238" stroke="#ffc238" stroke-width="0.5"/><path d="M73.7 93.6 L76.3 94.5 M76.3 94.5 L77.8 92.9 " class="m"/><path d="M93.8 94.0 L96.5 94.9 L97.8 93.3 L95.2 92.4 Z" fill="#ffc238" stroke="#ffc238" stroke-width="0.5"/><path d="M95.2 92.4 L97.8 93.3 M96.5 94.9 L97.8 93.3 " class="m"/><path d="M80.4 93.8 L83.1 94.7 L84.5 93.0 L81.8 92.2 Z" fill="#ffc238" stroke="#ffc238" stroke-width="0.5"/><path d="M81.8 92.2 L84.5 93.0 M83.1 94.7 L84.5 93.0 " class="m"/><path d="M87.1 93.9 L89.8 94.8 L91.2 93.2 L88.5 92.3 Z" fill="#ffc238" stroke="#ffc238" stroke-width="0.5"/><path d="M87.1 93.9 L89.8 94.8 M89.8 94.8 L91.2 93.2 " class="m"/><path d="M56.2 93.2 L58.8 94.8 L60.3 93.1 L57.8 91.5 Z" fill="#dd9f2d" stroke="#dd9f2d" stroke-width="0.5"/><path d="M57.8 91.5 L60.3 93.1 M56.2 93.2 L57.8 91.5 " class="m"/><path d="M110.0 95.2 L112.8 96.1 L114.0 94.5 L111.2 93.6 Z" fill="#ffc238" stroke="#ffc238" stroke-width="0.5"/><path d="M111.2 93.6 L114.0 94.5 M110.0 95.2 L111.2 93.6 " class="m"/><path d="M62.9 94.2 L65.5 95.1 L67.0 93.5 L64.5 92.6 Z" fill="#ffc138" stroke="#ffc138" stroke-width="0.5"/><path d="M62.9 94.2 L65.5 95.1 M62.9 94.2 L64.5 92.6 " class="m"/><path d="M49.4 92.1 L52.0 93.3 L53.6 91.6 L51.0 90.6 Z" fill="#f9a22f" stroke="#f9a22f" stroke-width="0.5"/><path d="M49.4 92.1 L52.0 93.3 M49.4 92.1 L51.0 90.6 " class="m"/><path d="M103.3 95.1 L106.0 96.0 L107.3 94.3 L104.5 93.5 Z" fill="#ffc238" stroke="#ffc238" stroke-width="0.5"/><path d="M103.3 95.1 L106.0 96.0 M103.3 95.1 L104.5 93.5 " class="m"/><path d="M69.6 94.4 L72.2 95.3 L73.7 93.6 L71.1 92.8 Z" fill="#ffc238" stroke="#ffc238" stroke-width="0.5"/><path d="M71.1 92.8 L73.7 93.6 M69.6 94.4 L71.1 92.8 " class="m"/><path d="M45.2 93.1 L47.7 93.8 L49.4 92.1 L46.9 91.7 Z" fill="#ffb235" stroke="#ffb235" stroke-width="0.5"/><path d="M46.9 91.7 L49.4 92.1 M47.7 93.8 L49.4 92.1 " class="m"/><path d="M41.1 94.8 L43.5 94.8 L45.2 93.1 L42.8 93.2 Z" fill="#ffc93c" stroke="#ffc93c" stroke-width="0.5"/><path d="M41.1 94.8 L43.5 94.8 M41.1 94.8 L42.8 93.2 " class="m"/><path d="M96.5 94.9 L99.3 95.8 L100.6 94.2 L97.8 93.3 Z" fill="#ffc238" stroke="#ffc238" stroke-width="0.5"/><path d="M97.8 93.3 L100.6 94.2 M96.5 94.9 L97.8 93.3 " class="m"/><path d="M76.3 94.5 L79.0 95.4 L80.4 93.8 L77.8 92.9 Z" fill="#ffc238" stroke="#ffc238" stroke-width="0.5"/><path d="M76.3 94.5 L79.0 95.4 M76.3 94.5 L77.8 92.9 " class="m"/><path d="M112.8 96.1 L115.6 97.0 L116.8 95.4 L114.0 94.5 Z" fill="#ffc238" stroke="#ffc238" stroke-width="0.5"/><path d="M114.0 94.5 L116.8 95.4 M115.6 97.0 L116.8 95.4 " class="m"/><path d="M58.8 94.8 L61.4 95.9 L62.9 94.2 L60.3 93.1 Z" fill="#faba36" stroke="#faba36" stroke-width="0.5"/><path d="M60.3 93.1 L62.9 94.2 M61.4 95.9 L62.9 94.2 " class="m"/><path d="M89.8 94.8 L92.5 95.7 L93.8 94.0 L91.2 93.2 Z" fill="#ffc238" stroke="#ffc238" stroke-width="0.5"/><path d="M89.8 94.8 L92.5 95.7 M89.8 94.8 L91.2 93.2 " class="m"/><path d="M83.1 94.7 L85.7 95.6 L87.1 93.9 L84.5 93.0 Z" fill="#ffc238" stroke="#ffc238" stroke-width="0.5"/><path d="M84.5 93.0 L87.1 93.9 M83.1 94.7 L84.5 93.0 " class="m"/><path d="M52.0 93.3 L54.6 94.9 L56.2 93.2 L53.6 91.6 Z" fill="#df972b" stroke="#df972b" stroke-width="0.5"/><path d="M52.0 93.3 L54.6 94.9 M54.6 94.9 L56.2 93.2 " class="m"/><path d="M65.5 95.1 L68.1 96.0 L69.6 94.4 L67.0 93.5 Z" fill="#ffc238" stroke="#ffc238" stroke-width="0.5"/><path d="M65.5 95.1 L68.1 96.0 M68.1 96.0 L69.6 94.4 " class="m"/><path d="M106.0 96.0 L108.8 96.9 L110.0 95.2 L107.3 94.3 Z" fill="#ffc238" stroke="#ffc238" stroke-width="0.5"/><path d="M106.0 96.0 L108.8 96.9 M108.8 96.9 L110.0 95.2 " class="m"/><path d="M72.2 95.3 L74.9 96.2 L76.3 94.5 L73.7 93.6 Z" fill="#ffc238" stroke="#ffc238" stroke-width="0.5"/><path d="M73.7 93.6 L76.3 94.5 M74.9 96.2 L76.3 94.5 " class="m"/><path d="M99.3 95.8 L102.0 96.7 L103.3 95.1 L100.6 94.2 Z" fill="#ffc238" stroke="#ffc238" stroke-width="0.5"/><path d="M100.6 94.2 L103.3 95.1 M102.0 96.7 L103.3 95.1 " class="m"/><path d="M54.6 94.9 L57.2 96.6 L58.8 94.8 L56.2 93.2 Z" fill="#dda02d" stroke="#dda02d" stroke-width="0.5"/><path d="M54.6 94.9 L57.2 96.6 M54.6 94.9 L56.2 93.2 " class="m"/><path d="M79.0 95.4 L81.6 96.3 L83.1 94.7 L80.4 93.8 Z" fill="#ffc238" stroke="#ffc238" stroke-width="0.5"/><path d="M79.0 95.4 L81.6 96.3 M81.6 96.3 L83.1 94.7 " class="m"/><path d="M92.5 95.7 L95.2 96.6 L96.5 94.9 L93.8 94.0 Z" fill="#ffc238" stroke="#ffc238" stroke-width="0.5"/><path d="M92.5 95.7 L95.2 96.6 M95.2 96.6 L96.5 94.9 " class="m"/><path d="M85.7 95.6 L88.4 96.5 L89.8 94.8 L87.1 93.9 Z" fill="#ffc238" stroke="#ffc238" stroke-width="0.5"/><path d="M87.1 93.9 L89.8 94.8 M88.4 96.5 L89.8 94.8 " class="m"/><path d="M47.7 93.8 L50.3 95.1 L52.0 93.3 L49.4 92.1 Z" fill="#f39e2d" stroke="#f39e2d" stroke-width="0.5"/><path d="M49.4 92.1 L52.0 93.3 M47.7 93.8 L49.4 92.1 " class="m"/><path d="M61.4 95.9 L64.0 96.8 L65.5 95.1 L62.9 94.2 Z" fill="#ffc138" stroke="#ffc138" stroke-width="0.5"/><path d="M62.9 94.2 L65.5 95.1 M61.4 95.9 L62.9 94.2 " class="m"/><path d="M108.8 96.9 L111.6 97.8 L112.8 96.1 L110.0 95.2 Z" fill="#ffc238" stroke="#ffc238" stroke-width="0.5"/><path d="M108.8 96.9 L111.6 97.8 M108.8 96.9 L110.0 95.2 " class="m"/><path d="M68.1 96.0 L70.7 96.9 L72.2 95.3 L69.6 94.4 Z" fill="#ffc239" stroke="#ffc239" stroke-width="0.5"/><path d="M68.1 96.0 L70.7 96.9 M68.1 96.0 L69.6 94.4 " class="m"/><path d="M43.5 94.8 L46.1 95.5 L47.7 93.8 L45.2 93.1 Z" fill="#ffb134" stroke="#ffb134" stroke-width="0.5"/><path d="M43.5 94.8 L46.1 95.5 M46.1 95.5 L47.7 93.8 " class="m"/><path d="M102.0 96.7 L104.8 97.6 L106.0 96.0 L103.3 95.1 Z" fill="#ffc238" stroke="#ffc238" stroke-width="0.5"/><path d="M103.3 95.1 L106.0 96.0 M102.0 96.7 L103.3 95.1 " class="m"/><path d="M57.2 96.6 L59.8 97.6 L61.4 95.9 L58.8 94.8 Z" fill="#fdbd37" stroke="#fdbd37" stroke-width="0.5"/><path d="M57.2 96.6 L59.8 97.6 M59.8 97.6 L61.4 95.9 " class="m"/><path d="M74.9 96.2 L77.5 97.1 L79.0 95.4 L76.3 94.5 Z" fill="#ffc238" stroke="#ffc238" stroke-width="0.5"/><path d="M76.3 94.5 L79.0 95.4 M74.9 96.2 L76.3 94.5 " class="m"/><path d="M95.2 96.6 L97.9 97.5 L99.3 95.8 L96.5 94.9 Z" fill="#ffc238" stroke="#ffc238" stroke-width="0.5"/><path d="M95.2 96.6 L97.9 97.5 M95.2 96.6 L96.5 94.9 " class="m"/><path d="M50.3 95.1 L52.9 96.7 L54.6 94.9 L52.0 93.3 Z" fill="#df982b" stroke="#df982b" stroke-width="0.5"/><path d="M52.0 93.3 L54.6 94.9 M52.9 96.7 L54.6 94.9 " class="m"/><path d="M81.6 96.3 L84.3 97.2 L85.7 95.6 L83.1 94.7 Z" fill="#ffc238" stroke="#ffc238" stroke-width="0.5"/><path d="M81.6 96.3 L84.3 97.2 M81.6 96.3 L83.1 94.7 " class="m"/><path d="M111.6 97.8 L114.4 98.7 L115.6 97.0 L112.8 96.1 Z" fill="#ffc238" stroke="#ffc238" stroke-width="0.5"/><path d="M111.6 97.8 L114.4 98.7 M114.4 98.7 L115.6 97.0 " class="m"/><path d="M88.4 96.5 L91.1 97.4 L92.5 95.7 L89.8 94.8 Z" fill="#ffc238" stroke="#ffc238" stroke-width="0.5"/><path d="M89.8 94.8 L92.5 95.7 M88.4 96.5 L89.8 94.8 " class="m"/><path d="M64.0 96.8 L66.6 97.7 L68.1 96.0 L65.5 95.1 Z" fill="#ffc238" stroke="#ffc238" stroke-width="0.5"/><path d="M65.5 95.1 L68.1 96.0 M66.6 97.7 L68.1 96.0 " class="m"/><path d="M104.8 97.6 L107.5 98.6 L108.8 96.9 L106.0 96.0 Z" fill="#ffc238" stroke="#ffc238" stroke-width="0.5"/><path d="M106.0 96.0 L108.8 96.9 M107.5 98.6 L108.8 96.9 " class="m"/><path d="M70.7 96.9 L73.4 97.9 L74.9 96.2 L72.2 95.3 Z" fill="#ffc239" stroke="#ffc239" stroke-width="0.5"/><path d="M70.7 96.9 L73.4 97.9 M73.4 97.9 L74.9 96.2 " class="m"/><path d="M52.9 96.7 L55.6 98.3 L57.2 96.6 L54.6 94.9 Z" fill="#dda12d" stroke="#dda12d" stroke-width="0.5"/><path d="M54.6 94.9 L57.2 96.6 M52.9 96.7 L54.6 94.9 " class="m"/><path d="M97.9 97.5 L100.7 98.4 L102.0 96.7 L99.3 95.8 Z" fill="#ffc238" stroke="#ffc238" stroke-width="0.5"/><path d="M97.9 97.5 L100.7 98.4 M100.7 98.4 L102.0 96.7 " class="m"/><path d="M46.1 95.5 L48.7 96.9 L50.3 95.1 L47.7 93.8 Z" fill="#f09d2d" stroke="#f09d2d" stroke-width="0.5"/><path d="M46.1 95.5 L48.7 96.9 M46.1 95.5 L47.7 93.8 " class="m"/><path d="M77.5 97.1 L80.2 98.0 L81.6 96.3 L79.0 95.4 Z" fill="#ffc238" stroke="#ffc238" stroke-width="0.5"/><path d="M79.0 95.4 L81.6 96.3 M80.2 98.0 L81.6 96.3 " class="m"/><path d="M91.1 97.4 L93.9 98.3 L95.2 96.6 L92.5 95.7 Z" fill="#ffc238" stroke="#ffc238" stroke-width="0.5"/><path d="M92.5 95.7 L95.2 96.6 M93.9 98.3 L95.2 96.6 " class="m"/><path d="M59.8 97.6 L62.4 98.5 L64.0 96.8 L61.4 95.9 Z" fill="#ffc138" stroke="#ffc138" stroke-width="0.5"/><path d="M59.8 97.6 L62.4 98.5 M59.8 97.6 L61.4 95.9 " class="m"/><path d="M84.3 97.2 L87.0 98.1 L88.4 96.5 L85.7 95.6 Z" fill="#ffc238" stroke="#ffc238" stroke-width="0.5"/><path d="M84.3 97.2 L87.0 98.1 M87.0 98.1 L88.4 96.5 " class="m"/><path d="M107.5 98.6 L110.4 99.5 L111.6 97.8 L108.8 96.9 Z" fill="#ffc238" stroke="#ffc238" stroke-width="0.5"/><path d="M108.8 96.9 L111.6 97.8 M107.5 98.6 L108.8 96.9 " class="m"/><path d="M66.6 97.7 L69.2 98.6 L70.7 96.9 L68.1 96.0 Z" fill="#ffc239" stroke="#ffc239" stroke-width="0.5"/><path d="M68.1 96.0 L70.7 96.9 M66.6 97.7 L68.1 96.0 " class="m"/><path d="M55.6 98.3 L58.2 99.3 L59.8 97.6 L57.2 96.6 Z" fill="#ffc038" stroke="#ffc038" stroke-width="0.5"/><path d="M57.2 96.6 L59.8 97.6 M58.2 99.3 L59.8 97.6 " class="m"/><path d="M100.7 98.4 L103.5 99.3 L104.8 97.6 L102.0 96.7 Z" fill="#ffc238" stroke="#ffc238" stroke-width="0.5"/><path d="M100.7 98.4 L103.5 99.3 M100.7 98.4 L102.0 96.7 " class="m"/><path d="M48.7 96.9 L51.3 98.5 L52.9 96.7 L50.3 95.1 Z" fill="#de9a2b" stroke="#de9a2b" stroke-width="0.5"/><path d="M48.7 96.9 L51.3 98.5 M51.3 98.5 L52.9 96.7 " class="m"/><path d="M73.4 97.9 L76.1 98.8 L77.5 97.1 L74.9 96.2 Z" fill="#ffc238" stroke="#ffc238" stroke-width="0.5"/><path d="M73.4 97.9 L76.1 98.8 M73.4 97.9 L74.9 96.2 " class="m"/><path d="M93.9 98.3 L96.6 99.2 L97.9 97.5 L95.2 96.6 Z" fill="#ffc238" stroke="#ffc238" stroke-width="0.5"/><path d="M95.2 96.6 L97.9 97.5 M93.9 98.3 L95.2 96.6 " class="m"/><path d="M80.2 98.0 L82.9 98.9 L84.3 97.2 L81.6 96.3 Z" fill="#ffc238" stroke="#ffc238" stroke-width="0.5"/><path d="M81.6 96.3 L84.3 97.2 M80.2 98.0 L81.6 96.3 " class="m"/><path d="M87.0 98.1 L89.7 99.1 L91.1 97.4 L88.4 96.5 Z" fill="#ffc238" stroke="#ffc238" stroke-width="0.5"/><path d="M87.0 98.1 L89.7 99.1 M87.0 98.1 L88.4 96.5 " class="m"/><path d="M110.4 99.5 L113.2 100.4 L114.4 98.7 L111.6 97.8 Z" fill="#ffc238" stroke="#ffc238" stroke-width="0.5"/><path d="M111.6 97.8 L114.4 98.7 M113.2 100.4 L114.4 98.7 " class="m"/><path d="M62.4 98.5 L65.0 99.4 L66.6 97.7 L64.0 96.8 Z" fill="#ffc238" stroke="#ffc238" stroke-width="0.5"/><path d="M62.4 98.5 L65.0 99.4 M65.0 99.4 L66.6 97.7 " class="m"/><path d="M51.3 98.5 L53.9 100.0 L55.6 98.3 L52.9 96.7 Z" fill="#dfa32e" stroke="#dfa32e" stroke-width="0.5"/><path d="M51.3 98.5 L53.9 100.0 M51.3 98.5 L52.9 96.7 " class="m"/><path d="M103.5 99.3 L106.3 100.3 L107.5 98.6 L104.8 97.6 Z" fill="#ffc238" stroke="#ffc238" stroke-width="0.5"/><path d="M103.5 99.3 L106.3 100.3 M106.3 100.3 L107.5 98.6 " class="m"/><path d="M69.2 98.6 L71.9 99.6 L73.4 97.9 L70.7 96.9 Z" fill="#ffc239" stroke="#ffc239" stroke-width="0.5"/><path d="M70.7 96.9 L73.4 97.9 M71.9 99.6 L73.4 97.9 " class="m"/><path d="M96.6 99.2 L99.4 100.1 L100.7 98.4 L97.9 97.5 Z" fill="#ffc238" stroke="#ffc238" stroke-width="0.5"/><path d="M97.9 97.5 L100.7 98.4 M99.4 100.1 L100.7 98.4 " class="m"/><path d="M58.2 99.3 L60.8 100.2 L62.4 98.5 L59.8 97.6 Z" fill="#ffc138" stroke="#ffc138" stroke-width="0.5"/><path d="M59.8 97.6 L62.4 98.5 M58.2 99.3 L59.8 97.6 " class="m"/><path d="M76.1 98.8 L78.7 99.7 L80.2 98.0 L77.5 97.1 Z" fill="#ffc238" stroke="#ffc238" stroke-width="0.5"/><path d="M76.1 98.8 L78.7 99.7 M78.7 99.7 L80.2 98.0 " class="m"/><path d="M89.7 99.1 L92.5 100.0 L93.9 98.3 L91.1 97.4 Z" fill="#ffc238" stroke="#ffc238" stroke-width="0.5"/><path d="M89.7 99.1 L92.5 100.0 M92.5 100.0 L93.9 98.3 " class="m"/><path d="M82.9 98.9 L85.6 99.8 L87.0 98.1 L84.3 97.2 Z" fill="#ffc238" stroke="#ffc238" stroke-width="0.5"/><path d="M84.3 97.2 L87.0 98.1 M85.6 99.8 L87.0 98.1 " class="m"/><path d="M65.0 99.4 L67.7 100.3 L69.2 98.6 L66.6 97.7 Z" fill="#ffc239" stroke="#ffc239" stroke-width="0.5"/><path d="M65.0 99.4 L67.7 100.3 M65.0 99.4 L66.6 97.7 " class="m"/><path d="M106.3 100.3 L109.1 101.2 L110.4 99.5 L107.5 98.6 Z" fill="#ffc238" stroke="#ffc238" stroke-width="0.5"/><path d="M106.3 100.3 L109.1 101.2 M106.3 100.3 L107.5 98.6 " class="m"/><path d="M53.9 100.0 L56.5 101.0 L58.2 99.3 L55.6 98.3 Z" fill="#ffc138" stroke="#ffc138" stroke-width="0.5"/><path d="M53.9 100.0 L56.5 101.0 M56.5 101.0 L58.2 99.3 " class="m"/><path d="M71.9 99.6 L74.6 100.5 L76.1 98.8 L73.4 97.9 Z" fill="#ffc238" stroke="#ffc238" stroke-width="0.5"/><path d="M73.4 97.9 L76.1 98.8 M71.9 99.6 L73.4 97.9 " class="m"/><path d="M99.4 100.1 L102.2 101.1 L103.5 99.3 L100.7 98.4 Z" fill="#ffc238" stroke="#ffc238" stroke-width="0.5"/><path d="M100.7 98.4 L103.5 99.3 M99.4 100.1 L100.7 98.4 " class="m"/><path d="M78.7 99.7 L81.4 100.6 L82.9 98.9 L80.2 98.0 Z" fill="#ffc238" stroke="#ffc238" stroke-width="0.5"/><path d="M78.7 99.7 L81.4 100.6 M78.7 99.7 L80.2 98.0 " class="m"/><path d="M92.5 100.0 L95.3 100.9 L96.6 99.2 L93.9 98.3 Z" fill="#ffc238" stroke="#ffc238" stroke-width="0.5"/><path d="M92.5 100.0 L95.3 100.9 M92.5 100.0 L93.9 98.3 " class="m"/><path d="M85.6 99.8 L88.3 100.8 L89.7 99.1 L87.0 98.1 Z" fill="#ffc238" stroke="#ffc238" stroke-width="0.5"/><path d="M87.0 98.1 L89.7 99.1 M85.6 99.8 L87.0 98.1 " class="m"/><path d="M60.8 100.2 L63.4 101.1 L65.0 99.4 L62.4 98.5 Z" fill="#ffc238" stroke="#ffc238" stroke-width="0.5"/><path d="M62.4 98.5 L65.0 99.4 M63.4 101.1 L65.0 99.4 " class="m"/><path d="M109.1 101.2 L111.9 102.1 L113.2 100.4 L110.4 99.5 Z" fill="#ffc238" stroke="#ffc238" stroke-width="0.5"/><path d="M109.1 101.2 L111.9 102.1 M111.9 102.1 L113.2 100.4 " class="m"/><path d="M67.7 100.3 L70.3 101.3 L71.9 99.6 L69.2 98.6 Z" fill="#ffc239" stroke="#ffc239" stroke-width="0.5"/><path d="M67.7 100.3 L70.3 101.3 M70.3 101.3 L71.9 99.6 " class="m"/><path d="M102.2 101.1 L105.0 102.0 L106.3 100.3 L103.5 99.3 Z" fill="#ffc238" stroke="#ffc238" stroke-width="0.5"/><path d="M103.5 99.3 L106.3 100.3 M105.0 102.0 L106.3 100.3 " class="m"/><path d="M56.5 101.0 L59.2 101.9 L60.8 100.2 L58.2 99.3 Z" fill="#ffc138" stroke="#ffc138" stroke-width="0.5"/><path d="M56.5 101.0 L59.2 101.9 M56.5 101.0 L58.2 99.3 " class="m"/><path d="M74.6 100.5 L77.3 101.4 L78.7 99.7 L76.1 98.8 Z" fill="#ffc238" stroke="#ffc238" stroke-width="0.5"/><path d="M76.1 98.8 L78.7 99.7 M77.3 101.4 L78.7 99.7 " class="m"/><path d="M95.3 100.9 L98.0 101.9 L99.4 100.1 L96.6 99.2 Z" fill="#ffc238" stroke="#ffc238" stroke-width="0.5"/><path d="M95.3 100.9 L98.0 101.9 M98.0 101.9 L99.4 100.1 " class="m"/><path d="M81.4 100.6 L84.2 101.6 L85.6 99.8 L82.9 98.9 Z" fill="#ffc238" stroke="#ffc238" stroke-width="0.5"/><path d="M81.4 100.6 L84.2 101.6 M84.2 101.6 L85.6 99.8 " class="m"/><path d="M88.3 100.8 L91.1 101.7 L92.5 100.0 L89.7 99.1 Z" fill="#ffc238" stroke="#ffc238" stroke-width="0.5"/><path d="M89.7 99.1 L92.5 100.0 M91.1 101.7 L92.5 100.0 " class="m"/><path d="M63.4 101.1 L66.1 102.1 L67.7 100.3 L65.0 99.4 Z" fill="#ffc239" stroke="#ffc239" stroke-width="0.5"/><path d="M65.0 99.4 L67.7 100.3 M63.4 101.1 L65.0 99.4 " class="m"/><path d="M105.0 102.0 L107.8 103.0 L109.1 101.2 L106.3 100.3 Z" fill="#ffc238" stroke="#ffc238" stroke-width="0.5"/><path d="M106.3 100.3 L109.1 101.2 M105.0 102.0 L106.3 100.3 " class="m"/><path d="M70.3 101.3 L73.0 102.2 L74.6 100.5 L71.9 99.6 Z" fill="#ffc238" stroke="#ffc238" stroke-width="0.5"/><path d="M70.3 101.3 L73.0 102.2 M70.3 101.3 L71.9 99.6 " class="m"/><path d="M98.0 101.9 L100.8 102.8 L102.2 101.1 L99.4 100.1 Z" fill="#ffc238" stroke="#ffc238" stroke-width="0.5"/><path d="M98.0 101.9 L100.8 102.8 M98.0 101.9 L99.4 100.1 " class="m"/><path d="M77.3 101.4 L80.0 102.4 L81.4 100.6 L78.7 99.7 Z" fill="#ffc238" stroke="#ffc238" stroke-width="0.5"/><path d="M78.7 99.7 L81.4 100.6 M77.3 101.4 L78.7 99.7 " class="m"/><path d="M59.2 101.9 L61.8 102.9 L63.4 101.1 L60.8 100.2 Z" fill="#ffc238" stroke="#ffc238" stroke-width="0.5"/><path d="M59.2 101.9 L61.8 102.9 M61.8 102.9 L63.4 101.1 " class="m"/><path d="M91.1 101.7 L93.9 102.7 L95.3 100.9 L92.5 100.0 Z" fill="#ffc238" stroke="#ffc238" stroke-width="0.5"/><path d="M92.5 100.0 L95.3 100.9 M91.1 101.7 L92.5 100.0 " class="m"/><path d="M84.2 101.6 L86.9 102.5 L88.3 100.8 L85.6 99.8 Z" fill="#ffc238" stroke="#ffc238" stroke-width="0.5"/><path d="M84.2 101.6 L86.9 102.5 M84.2 101.6 L85.6 99.8 " class="m"/><path d="M107.8 103.0 L110.7 103.9 L111.9 102.1 L109.1 101.2 Z" fill="#ffc238" stroke="#ffc238" stroke-width="0.5"/><path d="M109.1 101.2 L111.9 102.1 M110.7 103.9 L111.9 102.1 " class="m"/><path d="M66.1 102.1 L68.8 103.0 L70.3 101.3 L67.7 100.3 Z" fill="#ffc238" stroke="#ffc238" stroke-width="0.5"/><path d="M67.7 100.3 L70.3 101.3 M68.8 103.0 L70.3 101.3 " class="m"/><path d="M100.8 102.8 L103.7 103.8 L105.0 102.0 L102.2 101.1 Z" fill="#ffc238" stroke="#ffc238" stroke-width="0.5"/><path d="M100.8 102.8 L103.7 103.8 M103.7 103.8 L105.0 102.0 " class="m"/><path d="M73.0 102.2 L75.7 103.2 L77.3 101.4 L74.6 100.5 Z" fill="#ffc238" stroke="#ffc238" stroke-width="0.5"/><path d="M73.0 102.2 L75.7 103.2 M75.7 103.2 L77.3 101.4 " class="m"/><path d="M93.9 102.7 L96.7 103.6 L98.0 101.9 L95.3 100.9 Z" fill="#ffc238" stroke="#ffc238" stroke-width="0.5"/><path d="M95.3 100.9 L98.0 101.9 M96.7 103.6 L98.0 101.9 " class="m"/><path d="M80.0 102.4 L82.7 103.3 L84.2 101.6 L81.4 100.6 Z" fill="#ffc238" stroke="#ffc238" stroke-width="0.5"/><path d="M81.4 100.6 L84.2 101.6 M82.7 103.3 L84.2 101.6 " class="m"/><path d="M86.9 102.5 L89.7 103.5 L91.1 101.7 L88.3 100.8 Z" fill="#ffc238" stroke="#ffc238" stroke-width="0.5"/><path d="M86.9 102.5 L89.7 103.5 M89.7 103.5 L91.1 101.7 " class="m"/><path d="M61.8 102.9 L64.5 103.8 L66.1 102.1 L63.4 101.1 Z" fill="#ffc238" stroke="#ffc238" stroke-width="0.5"/><path d="M61.8 102.9 L64.5 103.8 M61.8 102.9 L63.4 101.1 " class="m"/><path d="M103.7 103.8 L106.5 104.7 L107.8 103.0 L105.0 102.0 Z" fill="#ffc238" stroke="#ffc238" stroke-width="0.5"/><path d="M103.7 103.8 L106.5 104.7 M103.7 103.8 L105.0 102.0 " class="m"/><path d="M68.8 103.0 L71.5 104.0 L73.0 102.2 L70.3 101.3 Z" fill="#ffc238" stroke="#ffc238" stroke-width="0.5"/><path d="M70.3 101.3 L73.0 102.2 M68.8 103.0 L70.3 101.3 " class="m"/><path d="M96.7 103.6 L99.5 104.6 L100.8 102.8 L98.0 101.9 Z" fill="#ffc238" stroke="#ffc238" stroke-width="0.5"/><path d="M98.0 101.9 L100.8 102.8 M96.7 103.6 L98.0 101.9 " class="m"/><path d="M75.7 103.2 L78.5 104.1 L80.0 102.4 L77.3 101.4 Z" fill="#ffc238" stroke="#ffc238" stroke-width="0.5"/><path d="M75.7 103.2 L78.5 104.1 M75.7 103.2 L77.3 101.4 " class="m"/><path d="M89.7 103.5 L92.5 104.4 L93.9 102.7 L91.1 101.7 Z" fill="#ffc238" stroke="#ffc238" stroke-width="0.5"/><path d="M89.7 103.5 L92.5 104.4 M89.7 103.5 L91.1 101.7 " class="m"/><path d="M82.7 103.3 L85.5 104.3 L86.9 102.5 L84.2 101.6 Z" fill="#ffc238" stroke="#ffc238" stroke-width="0.5"/><path d="M84.2 101.6 L86.9 102.5 M82.7 103.3 L84.2 101.6 " class="m"/><path d="M64.5 103.8 L67.2 104.8 L68.8 103.0 L66.1 102.1 Z" fill="#ffc238" stroke="#ffc238" stroke-width="0.5"/><path d="M64.5 103.8 L67.2 104.8 M67.2 104.8 L68.8 103.0 " class="m"/><path d="M106.5 104.7 L109.4 105.7 L110.7 103.9 L107.8 103.0 Z" fill="#ffc238" stroke="#ffc238" stroke-width="0.5"/><path d="M106.5 104.7 L109.4 105.7 M109.4 105.7 L110.7 103.9 " class="m"/><path d="M71.5 104.0 L74.2 104.9 L75.7 103.2 L73.0 102.2 Z" fill="#ffc238" stroke="#ffc238" stroke-width="0.5"/><path d="M73.0 102.2 L75.7 103.2 M74.2 104.9 L75.7 103.2 " class="m"/><path d="M99.5 104.6 L102.3 105.5 L103.7 103.8 L100.8 102.8 Z" fill="#ffc238" stroke="#ffc238" stroke-width="0.5"/><path d="M100.8 102.8 L103.7 103.8 M102.3 105.5 L103.7 103.8 " class="m"/><path d="M78.5 104.1 L81.2 105.1 L82.7 103.3 L80.0 102.4 Z" fill="#ffc238" stroke="#ffc238" stroke-width="0.5"/><path d="M78.5 104.1 L81.2 105.1 M81.2 105.1 L82.7 103.3 " class="m"/><path d="M92.5 104.4 L95.3 105.4 L96.7 103.6 L93.9 102.7 Z" fill="#ffc238" stroke="#ffc238" stroke-width="0.5"/><path d="M92.5 104.4 L95.3 105.4 M95.3 105.4 L96.7 103.6 " class="m"/><path d="M85.5 104.3 L88.3 105.2 L89.7 103.5 L86.9 102.5 Z" fill="#ffc238" stroke="#ffc238" stroke-width="0.5"/><path d="M86.9 102.5 L89.7 103.5 M88.3 105.2 L89.7 103.5 " class="m"/><path d="M67.2 104.8 L69.9 105.8 L71.5 104.0 L68.8 103.0 Z" fill="#ffc238" stroke="#ffc238" stroke-width="0.5"/><path d="M67.2 104.8 L69.9 105.8 M67.2 104.8 L68.8 103.0 " class="m"/><path d="M102.3 105.5 L105.2 106.5 L106.5 104.7 L103.7 103.8 Z" fill="#ffc238" stroke="#ffc238" stroke-width="0.5"/><path d="M103.7 103.8 L106.5 104.7 M102.3 105.5 L103.7 103.8 " class="m"/><path d="M74.2 104.9 L77.0 105.9 L78.5 104.1 L75.7 103.2 Z" fill="#ffc238" stroke="#ffc238" stroke-width="0.5"/><path d="M75.7 103.2 L78.5 104.1 M74.2 104.9 L75.7 103.2 " class="m"/><path d="M95.3 105.4 L98.1 106.4 L99.5 104.6 L96.7 103.6 Z" fill="#ffc238" stroke="#ffc238" stroke-width="0.5"/><path d="M95.3 105.4 L98.1 106.4 M95.3 105.4 L96.7 103.6 " class="m"/><path d="M81.2 105.1 L84.0 106.1 L85.5 104.3 L82.7 103.3 Z" fill="#ffc238" stroke="#ffc238" stroke-width="0.5"/><path d="M81.2 105.1 L84.0 106.1 M81.2 105.1 L82.7 103.3 " class="m"/><path d="M88.3 105.2 L91.1 106.2 L92.5 104.4 L89.7 103.5 Z" fill="#ffc238" stroke="#ffc238" stroke-width="0.5"/><path d="M89.7 103.5 L92.5 104.4 M88.3 105.2 L89.7 103.5 " class="m"/><path d="M105.2 106.5 L108.1 107.5 L109.4 105.7 L106.5 104.7 Z" fill="#ffc238" stroke="#ffc238" stroke-width="0.5"/><path d="M106.5 104.7 L109.4 105.7 M108.1 107.5 L109.4 105.7 " class="m"/><path d="M69.9 105.8 L72.7 106.8 L74.2 104.9 L71.5 104.0 Z" fill="#ffc238" stroke="#ffc238" stroke-width="0.5"/><path d="M69.9 105.8 L72.7 106.8 M72.7 106.8 L74.2 104.9 " class="m"/><path d="M98.1 106.4 L101.0 107.4 L102.3 105.5 L99.5 104.6 Z" fill="#ffc238" stroke="#ffc238" stroke-width="0.5"/><path d="M98.1 106.4 L101.0 107.4 M101.0 107.4 L102.3 105.5 " class="m"/><path d="M77.0 105.9 L79.7 106.9 L81.2 105.1 L78.5 104.1 Z" fill="#ffc238" stroke="#ffc238" stroke-width="0.5"/><path d="M78.5 104.1 L81.2 105.1 M79.7 106.9 L81.2 105.1 " class="m"/><path d="M91.1 106.2 L93.9 107.2 L95.3 105.4 L92.5 104.4 Z" fill="#ffc238" stroke="#ffc238" stroke-width="0.5"/><path d="M92.5 104.4 L95.3 105.4 M93.9 107.2 L95.3 105.4 " class="m"/><path d="M84.0 106.1 L86.8 107.1 L88.3 105.2 L85.5 104.3 Z" fill="#ffc238" stroke="#ffc238" stroke-width="0.5"/><path d="M84.0 106.1 L86.8 107.1 M86.8 107.1 L88.3 105.2 " class="m"/><path d="M101.0 107.4 L103.9 108.4 L105.2 106.5 L102.3 105.5 Z" fill="#ffc238" stroke="#ffc238" stroke-width="0.5"/><path d="M101.0 107.4 L103.9 108.4 M101.0 107.4 L102.3 105.5 " class="m"/><path d="M72.7 106.8 L75.4 107.7 L77.0 105.9 L74.2 104.9 Z" fill="#ffc238" stroke="#ffc238" stroke-width="0.5"/><path d="M72.7 106.8 L75.4 107.7 M72.7 106.8 L74.2 104.9 " class="m"/><path d="M93.9 107.2 L96.8 108.2 L98.1 106.4 L95.3 105.4 Z" fill="#ffc238" stroke="#ffc238" stroke-width="0.5"/><path d="M95.3 105.4 L98.1 106.4 M93.9 107.2 L95.3 105.4 " class="m"/><path d="M79.7 106.9 L82.5 107.9 L84.0 106.1 L81.2 105.1 Z" fill="#ffc238" stroke="#ffc238" stroke-width="0.5"/><path d="M81.2 105.1 L84.0 106.1 M79.7 106.9 L81.2 105.1 " class="m"/><path d="M86.8 107.1 L89.6 108.0 L91.1 106.2 L88.3 105.2 Z" fill="#ffc238" stroke="#ffc238" stroke-width="0.5"/><path d="M86.8 107.1 L89.6 108.0 M86.8 107.1 L88.3 105.2 " class="m"/><path d="M103.9 108.4 L106.8 109.4 L108.1 107.5 L105.2 106.5 Z" fill="#ffc238" stroke="#ffc238" stroke-width="0.5"/><path d="M103.9 108.4 L106.8 109.4 M106.8 109.4 L108.1 107.5 " class="m"/><path d="M96.8 108.2 L99.6 109.2 L101.0 107.4 L98.1 106.4 Z" fill="#ffc238" stroke="#ffc238" stroke-width="0.5"/><path d="M98.1 106.4 L101.0 107.4 M99.6 109.2 L101.0 107.4 " class="m"/><path d="M75.4 107.7 L78.2 108.7 L79.7 106.9 L77.0 105.9 Z" fill="#ffc238" stroke="#ffc238" stroke-width="0.5"/><path d="M75.4 107.7 L78.2 108.7 M78.2 108.7 L79.7 106.9 " class="m"/><path d="M89.6 108.0 L92.5 109.0 L93.9 107.2 L91.1 106.2 Z" fill="#ffc238" stroke="#ffc238" stroke-width="0.5"/><path d="M89.6 108.0 L92.5 109.0 M92.5 109.0 L93.9 107.2 " class="m"/><path d="M82.5 107.9 L85.3 108.9 L86.8 107.1 L84.0 106.1 Z" fill="#ffc238" stroke="#ffc238" stroke-width="0.5"/><path d="M84.0 106.1 L86.8 107.1 M85.3 108.9 L86.8 107.1 " class="m"/><path d="M99.6 109.2 L102.5 110.2 L103.9 108.4 L101.0 107.4 Z" fill="#ffc238" stroke="#ffc238" stroke-width="0.5"/><path d="M101.0 107.4 L103.9 108.4 M99.6 109.2 L101.0 107.4 " class="m"/><path d="M78.2 108.7 L81.0 109.7 L82.5 107.9 L79.7 106.9 Z" fill="#ffc238" stroke="#ffc238" stroke-width="0.5"/><path d="M78.2 108.7 L81.0 109.7 M78.2 108.7 L79.7 106.9 " class="m"/><path d="M92.5 109.0 L95.4 110.0 L96.8 108.2 L93.9 107.2 Z" fill="#ffc238" stroke="#ffc238" stroke-width="0.5"/><path d="M92.5 109.0 L95.4 110.0 M92.5 109.0 L93.9 107.2 " class="m"/><path d="M85.3 108.9 L88.2 109.9 L89.6 108.0 L86.8 107.1 Z" fill="#ffc238" stroke="#ffc238" stroke-width="0.5"/><path d="M86.8 107.1 L89.6 108.0 M85.3 108.9 L86.8 107.1 " class="m"/><path d="M102.5 110.2 L105.5 111.2 L106.8 109.4 L103.9 108.4 Z" fill="#ffc238" stroke="#ffc238" stroke-width="0.5"/><path d="M103.9 108.4 L106.8 109.4 M105.5 111.2 L106.8 109.4 " class="m"/><path d="M95.4 110.0 L98.2 111.1 L99.6 109.2 L96.8 108.2 Z" fill="#ffc238" stroke="#ffc238" stroke-width="0.5"/><path d="M95.4 110.0 L98.2 111.1 M98.2 111.1 L99.6 109.2 " class="m"/><path d="M81.0 109.7 L83.9 110.7 L85.3 108.9 L82.5 107.9 Z" fill="#ffc238" stroke="#ffc238" stroke-width="0.5"/><path d="M81.0 109.7 L83.9 110.7 M83.9 110.7 L85.3 108.9 " class="m"/><path d="M88.2 109.9 L91.0 110.9 L92.5 109.0 L89.6 108.0 Z" fill="#ffc238" stroke="#ffc238" stroke-width="0.5"/><path d="M89.6 108.0 L92.5 109.0 M91.0 110.9 L92.5 109.0 " class="m"/><path d="M98.2 111.1 L101.2 112.1 L102.5 110.2 L99.6 109.2 Z" fill="#ffc238" stroke="#ffc238" stroke-width="0.5"/><path d="M98.2 111.1 L101.2 112.1 M98.2 111.1 L99.6 109.2 " class="m"/><path d="M91.0 110.9 L93.9 111.9 L95.4 110.0 L92.5 109.0 Z" fill="#ffc238" stroke="#ffc238" stroke-width="0.5"/><path d="M92.5 109.0 L95.4 110.0 M91.0 110.9 L92.5 109.0 " class="m"/><path d="M83.9 110.7 L86.7 111.8 L88.2 109.9 L85.3 108.9 Z" fill="#ffc238" stroke="#ffc238" stroke-width="0.5"/><path d="M83.9 110.7 L86.7 111.8 M83.9 110.7 L85.3 108.9 " class="m"/><path d="M101.2 112.1 L104.1 113.1 L105.5 111.2 L102.5 110.2 Z" fill="#ffc238" stroke="#ffc238" stroke-width="0.5"/><path d="M101.2 112.1 L104.1 113.1 M104.1 113.1 L105.5 111.2 " class="m"/><path d="M93.9 111.9 L96.8 113.0 L98.2 111.1 L95.4 110.0 Z" fill="#ffc238" stroke="#ffc238" stroke-width="0.5"/><path d="M95.4 110.0 L98.2 111.1 M96.8 113.0 L98.2 111.1 " class="m"/><path d="M86.7 111.8 L89.6 112.8 L91.0 110.9 L88.2 109.9 Z" fill="#ffc238" stroke="#ffc238" stroke-width="0.5"/><path d="M86.7 111.8 L89.6 112.8 M89.6 112.8 L91.0 110.9 " class="m"/><path d="M96.8 113.0 L99.8 114.0 L101.2 112.1 L98.2 111.1 Z" fill="#ffc238" stroke="#ffc238" stroke-width="0.5"/><path d="M98.2 111.1 L101.2 112.1 M96.8 113.0 L98.2 111.1 " class="m"/><path d="M89.6 112.8 L92.5 113.8 L93.9 111.9 L91.0 110.9 Z" fill="#ffc238" stroke="#ffc238" stroke-width="0.5"/><path d="M89.6 112.8 L92.5 113.8 M89.6 112.8 L91.0 110.9 " class="m"/><path d="M99.8 114.0 L102.7 115.0 L104.1 113.1 L101.2 112.1 Z" fill="#ffc238" stroke="#ffc238" stroke-width="0.5"/><path d="M101.2 112.1 L104.1 113.1 M102.7 115.0 L104.1 113.1 " class="m"/><path d="M92.5 113.8 L95.4 114.9 L96.8 113.0 L93.9 111.9 Z" fill="#ffc238" stroke="#ffc238" stroke-width="0.5"/><path d="M92.5 113.8 L95.4 114.9 M95.4 114.9 L96.8 113.0 " class="m"/><path d="M95.4 114.9 L98.4 115.9 L99.8 114.0 L96.8 113.0 Z" fill="#ffc238" stroke="#ffc238" stroke-width="0.5"/><path d="M95.4 114.9 L98.4 115.9 M95.4 114.9 L96.8 113.0 " class="m"/><path d="M98.4 115.9 L101.3 117.0 L102.7 115.0 L99.8 114.0 Z" fill="#ffc238" stroke="#ffc238" stroke-width="0.5"/><path d="M98.4 115.9 L101.3 117.0 M101.3 117.0 L102.7 115.0 " class="m"/></g></g>
<text x="11.7" y="121.2" font-size="10.3" text-anchor="middle" fill="#111" >−2</text>
<text x="29.4" y="128.7" font-size="10.3" text-anchor="middle" fill="#111" >−1</text>
<text x="52.2" y="135.9" font-size="10.3" text-anchor="middle" fill="#111" >0</text>
<text x="74.5" y="143.4" font-size="10.3" text-anchor="middle" fill="#111" >1</text>
<text x="95.9" y="152.9" font-size="10.3" text-anchor="middle" fill="#111" >2</text>
<text x="108.5" y="148.5" font-size="10.3" text-anchor="middle" fill="#111" >−2</text>
<text x="118.6" y="132.3" font-size="10.3" text-anchor="middle" fill="#111" >−1</text>
<text x="124.7" y="118.5" font-size="10.3" text-anchor="middle" fill="#111" >0</text>
<text x="132.8" y="105.6" font-size="10.3" text-anchor="middle" fill="#111" >1</text>
<text x="139.9" y="93.8" font-size="10.3" text-anchor="middle" fill="#111" >2</text>
<text x="14.3" y="104.7" font-size="10.3" text-anchor="end" fill="#111" >5</text>
<text x="12.2" y="94.9" font-size="10.3" text-anchor="end" fill="#111" >10</text>
<text x="11.4" y="84.5" font-size="10.3" text-anchor="end" fill="#111" >15</text>
<text x="46.2" y="142.6" font-size="10.4" text-anchor="middle" fill="#111" font-style="italic">x</text>
<text x="130.3" y="120.0" font-size="10.4" text-anchor="middle" fill="#111" font-style="italic">t</text>
<rect x="152.6" y="58.2" width="5.3" height="48.2" fill="url(#rb)"/>
<text x="160.9" y="111.0" font-size="10" text-anchor="start" fill="#111" >2.5</text>
<text x="160.9" y="102.4" font-size="10" text-anchor="start" fill="#111" >5.0</text>
<text x="160.9" y="93.7" font-size="10" text-anchor="start" fill="#111" >7.5</text>
<text x="160.9" y="85.1" font-size="10" text-anchor="start" fill="#111" >10.0</text>
<text x="160.9" y="76.4" font-size="10" text-anchor="start" fill="#111" >12.5</text>
<text x="160.9" y="67.8" font-size="10" text-anchor="start" fill="#111" >15.0</text></svg></body></html>
